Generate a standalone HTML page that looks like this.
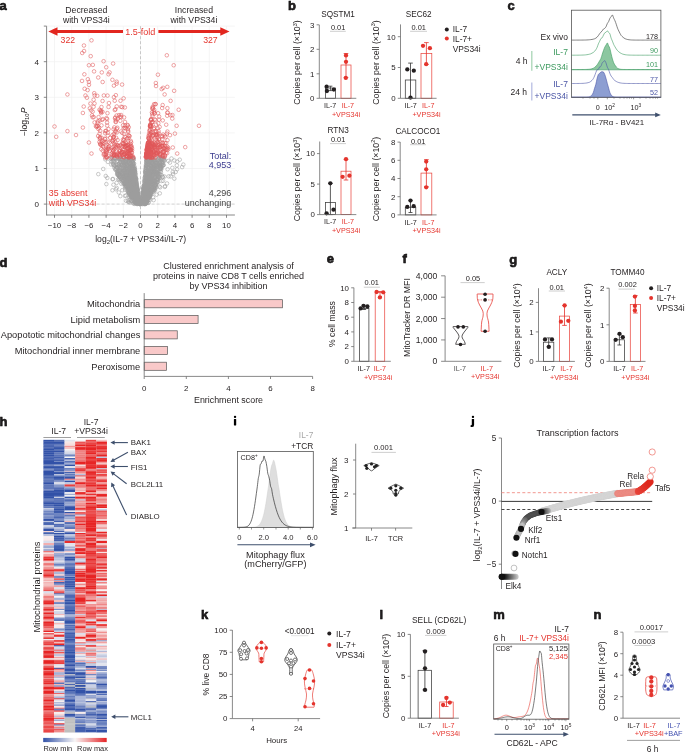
<!DOCTYPE html><html><head><meta charset="utf-8"><style>html,body{margin:0;padding:0;background:#fff;}svg{display:block;will-change:transform;font-family:"Liberation Sans", sans-serif;}</style></head><body><svg width="685" height="752" viewBox="0 0 685 752" fill="#231f20"><text x="-0.4" y="10.3" font-size="13" font-weight="bold" stroke="#000" stroke-width="0.55">a</text>
<line x1="54.5" y1="26.2" x2="54.5" y2="215" stroke="#f1f1f1" stroke-width="0.7"/>
<line x1="71.7" y1="26.2" x2="71.7" y2="215" stroke="#f1f1f1" stroke-width="0.7"/>
<line x1="88.9" y1="26.2" x2="88.9" y2="215" stroke="#f1f1f1" stroke-width="0.7"/>
<line x1="106.1" y1="26.2" x2="106.1" y2="215" stroke="#f1f1f1" stroke-width="0.7"/>
<line x1="123.3" y1="26.2" x2="123.3" y2="215" stroke="#f1f1f1" stroke-width="0.7"/>
<line x1="140.5" y1="26.2" x2="140.5" y2="215" stroke="#f1f1f1" stroke-width="0.7"/>
<line x1="157.7" y1="26.2" x2="157.7" y2="215" stroke="#f1f1f1" stroke-width="0.7"/>
<line x1="174.9" y1="26.2" x2="174.9" y2="215" stroke="#f1f1f1" stroke-width="0.7"/>
<line x1="192.1" y1="26.2" x2="192.1" y2="215" stroke="#f1f1f1" stroke-width="0.7"/>
<line x1="209.3" y1="26.2" x2="209.3" y2="215" stroke="#f1f1f1" stroke-width="0.7"/>
<line x1="226.5" y1="26.2" x2="226.5" y2="215" stroke="#f1f1f1" stroke-width="0.7"/>
<line x1="46.6" y1="204.1" x2="234.9" y2="204.1" stroke="#f1f1f1" stroke-width="0.7"/>
<line x1="46.6" y1="168.5" x2="234.9" y2="168.5" stroke="#f1f1f1" stroke-width="0.7"/>
<line x1="46.6" y1="132.9" x2="234.9" y2="132.9" stroke="#f1f1f1" stroke-width="0.7"/>
<line x1="46.6" y1="97.3" x2="234.9" y2="97.3" stroke="#f1f1f1" stroke-width="0.7"/>
<line x1="46.6" y1="61.7" x2="234.9" y2="61.7" stroke="#f1f1f1" stroke-width="0.7"/>
<line x1="46.6" y1="26.1" x2="234.9" y2="26.1" stroke="#f1f1f1" stroke-width="0.7"/>
<line x1="140.5" y1="26.2" x2="140.5" y2="215" stroke="#bdbdbd" stroke-width="0.8" stroke-dasharray="3 2"/>
<line x1="46.6" y1="204.1" x2="234.9" y2="204.1" stroke="#d0d0d0" stroke-width="0.9" stroke-dasharray="3 2"/>
<path d="M153.88 183.98a1.8 1.8 0 1 0 3.6 0a1.8 1.8 0 1 0 -3.6 0M127.87 183.36a1.8 1.8 0 1 0 3.6 0a1.8 1.8 0 1 0 -3.6 0M132.18 196.25a1.8 1.8 0 1 0 3.6 0a1.8 1.8 0 1 0 -3.6 0M128.62 167.82a1.8 1.8 0 1 0 3.6 0a1.8 1.8 0 1 0 -3.6 0M143.69 200.38a1.8 1.8 0 1 0 3.6 0a1.8 1.8 0 1 0 -3.6 0M144.86 202.45a1.8 1.8 0 1 0 3.6 0a1.8 1.8 0 1 0 -3.6 0M144.47 174.47a1.8 1.8 0 1 0 3.6 0a1.8 1.8 0 1 0 -3.6 0M138.98 203.54a1.8 1.8 0 1 0 3.6 0a1.8 1.8 0 1 0 -3.6 0M136.52 196a1.8 1.8 0 1 0 3.6 0a1.8 1.8 0 1 0 -3.6 0M123.67 183.44a1.8 1.8 0 1 0 3.6 0a1.8 1.8 0 1 0 -3.6 0M148.09 180.85a1.8 1.8 0 1 0 3.6 0a1.8 1.8 0 1 0 -3.6 0M130.31 174.07a1.8 1.8 0 1 0 3.6 0a1.8 1.8 0 1 0 -3.6 0M159.56 157.93a1.8 1.8 0 1 0 3.6 0a1.8 1.8 0 1 0 -3.6 0M130.68 171.9a1.8 1.8 0 1 0 3.6 0a1.8 1.8 0 1 0 -3.6 0M128.45 191.53a1.8 1.8 0 1 0 3.6 0a1.8 1.8 0 1 0 -3.6 0M145.26 186.4a1.8 1.8 0 1 0 3.6 0a1.8 1.8 0 1 0 -3.6 0M144.71 159.86a1.8 1.8 0 1 0 3.6 0a1.8 1.8 0 1 0 -3.6 0M143.8 195.12a1.8 1.8 0 1 0 3.6 0a1.8 1.8 0 1 0 -3.6 0M131.09 158.77a1.8 1.8 0 1 0 3.6 0a1.8 1.8 0 1 0 -3.6 0M145.72 175.64a1.8 1.8 0 1 0 3.6 0a1.8 1.8 0 1 0 -3.6 0M131.85 200.53a1.8 1.8 0 1 0 3.6 0a1.8 1.8 0 1 0 -3.6 0M129.94 169.5a1.8 1.8 0 1 0 3.6 0a1.8 1.8 0 1 0 -3.6 0M132.77 199.93a1.8 1.8 0 1 0 3.6 0a1.8 1.8 0 1 0 -3.6 0M143.16 196.56a1.8 1.8 0 1 0 3.6 0a1.8 1.8 0 1 0 -3.6 0M141.14 195.98a1.8 1.8 0 1 0 3.6 0a1.8 1.8 0 1 0 -3.6 0M128.07 174.96a1.8 1.8 0 1 0 3.6 0a1.8 1.8 0 1 0 -3.6 0M127.98 194.98a1.8 1.8 0 1 0 3.6 0a1.8 1.8 0 1 0 -3.6 0M115.24 167.32a1.8 1.8 0 1 0 3.6 0a1.8 1.8 0 1 0 -3.6 0M129.32 195.08a1.8 1.8 0 1 0 3.6 0a1.8 1.8 0 1 0 -3.6 0M116.25 175.05a1.8 1.8 0 1 0 3.6 0a1.8 1.8 0 1 0 -3.6 0M130.14 194.96a1.8 1.8 0 1 0 3.6 0a1.8 1.8 0 1 0 -3.6 0M135.37 189.7a1.8 1.8 0 1 0 3.6 0a1.8 1.8 0 1 0 -3.6 0M140.61 200.4a1.8 1.8 0 1 0 3.6 0a1.8 1.8 0 1 0 -3.6 0M128.03 176.97a1.8 1.8 0 1 0 3.6 0a1.8 1.8 0 1 0 -3.6 0M120.97 159.8a1.8 1.8 0 1 0 3.6 0a1.8 1.8 0 1 0 -3.6 0M130.66 164.28a1.8 1.8 0 1 0 3.6 0a1.8 1.8 0 1 0 -3.6 0M147.41 162.26a1.8 1.8 0 1 0 3.6 0a1.8 1.8 0 1 0 -3.6 0M147.84 196.02a1.8 1.8 0 1 0 3.6 0a1.8 1.8 0 1 0 -3.6 0M147.4 195.71a1.8 1.8 0 1 0 3.6 0a1.8 1.8 0 1 0 -3.6 0M133.23 176.86a1.8 1.8 0 1 0 3.6 0a1.8 1.8 0 1 0 -3.6 0M139.99 202.58a1.8 1.8 0 1 0 3.6 0a1.8 1.8 0 1 0 -3.6 0M118.67 172.06a1.8 1.8 0 1 0 3.6 0a1.8 1.8 0 1 0 -3.6 0M132.4 177.2a1.8 1.8 0 1 0 3.6 0a1.8 1.8 0 1 0 -3.6 0M130.58 171.3a1.8 1.8 0 1 0 3.6 0a1.8 1.8 0 1 0 -3.6 0M150.3 178.95a1.8 1.8 0 1 0 3.6 0a1.8 1.8 0 1 0 -3.6 0M142.31 191.93a1.8 1.8 0 1 0 3.6 0a1.8 1.8 0 1 0 -3.6 0M136.89 203.48a1.8 1.8 0 1 0 3.6 0a1.8 1.8 0 1 0 -3.6 0M136.53 201.67a1.8 1.8 0 1 0 3.6 0a1.8 1.8 0 1 0 -3.6 0M129.9 178.35a1.8 1.8 0 1 0 3.6 0a1.8 1.8 0 1 0 -3.6 0M154.79 163.1a1.8 1.8 0 1 0 3.6 0a1.8 1.8 0 1 0 -3.6 0M144.51 172.7a1.8 1.8 0 1 0 3.6 0a1.8 1.8 0 1 0 -3.6 0M133.84 202.73a1.8 1.8 0 1 0 3.6 0a1.8 1.8 0 1 0 -3.6 0M143.42 172.23a1.8 1.8 0 1 0 3.6 0a1.8 1.8 0 1 0 -3.6 0M122.11 175.32a1.8 1.8 0 1 0 3.6 0a1.8 1.8 0 1 0 -3.6 0M141.65 190.16a1.8 1.8 0 1 0 3.6 0a1.8 1.8 0 1 0 -3.6 0M155.1 179.58a1.8 1.8 0 1 0 3.6 0a1.8 1.8 0 1 0 -3.6 0M155.87 170.5a1.8 1.8 0 1 0 3.6 0a1.8 1.8 0 1 0 -3.6 0M118.74 161.94a1.8 1.8 0 1 0 3.6 0a1.8 1.8 0 1 0 -3.6 0M150.19 162.63a1.8 1.8 0 1 0 3.6 0a1.8 1.8 0 1 0 -3.6 0M152.24 167.94a1.8 1.8 0 1 0 3.6 0a1.8 1.8 0 1 0 -3.6 0M125.3 175.85a1.8 1.8 0 1 0 3.6 0a1.8 1.8 0 1 0 -3.6 0M124.45 176.61a1.8 1.8 0 1 0 3.6 0a1.8 1.8 0 1 0 -3.6 0M157.04 158.14a1.8 1.8 0 1 0 3.6 0a1.8 1.8 0 1 0 -3.6 0M147.57 186.95a1.8 1.8 0 1 0 3.6 0a1.8 1.8 0 1 0 -3.6 0M142.44 184.53a1.8 1.8 0 1 0 3.6 0a1.8 1.8 0 1 0 -3.6 0M122.93 169.88a1.8 1.8 0 1 0 3.6 0a1.8 1.8 0 1 0 -3.6 0M125.77 182.64a1.8 1.8 0 1 0 3.6 0a1.8 1.8 0 1 0 -3.6 0M154.74 181.88a1.8 1.8 0 1 0 3.6 0a1.8 1.8 0 1 0 -3.6 0M134.11 193.04a1.8 1.8 0 1 0 3.6 0a1.8 1.8 0 1 0 -3.6 0M131.83 173.32a1.8 1.8 0 1 0 3.6 0a1.8 1.8 0 1 0 -3.6 0M150.68 162.39a1.8 1.8 0 1 0 3.6 0a1.8 1.8 0 1 0 -3.6 0M119.54 163.07a1.8 1.8 0 1 0 3.6 0a1.8 1.8 0 1 0 -3.6 0M130.14 195.63a1.8 1.8 0 1 0 3.6 0a1.8 1.8 0 1 0 -3.6 0M149.69 161.98a1.8 1.8 0 1 0 3.6 0a1.8 1.8 0 1 0 -3.6 0M133 177.83a1.8 1.8 0 1 0 3.6 0a1.8 1.8 0 1 0 -3.6 0M153.47 181.91a1.8 1.8 0 1 0 3.6 0a1.8 1.8 0 1 0 -3.6 0M146.45 171.74a1.8 1.8 0 1 0 3.6 0a1.8 1.8 0 1 0 -3.6 0M135.37 196.94a1.8 1.8 0 1 0 3.6 0a1.8 1.8 0 1 0 -3.6 0M131.63 194.93a1.8 1.8 0 1 0 3.6 0a1.8 1.8 0 1 0 -3.6 0M123.01 182.04a1.8 1.8 0 1 0 3.6 0a1.8 1.8 0 1 0 -3.6 0M131.06 158.69a1.8 1.8 0 1 0 3.6 0a1.8 1.8 0 1 0 -3.6 0M139.08 202.87a1.8 1.8 0 1 0 3.6 0a1.8 1.8 0 1 0 -3.6 0M146.9 171.86a1.8 1.8 0 1 0 3.6 0a1.8 1.8 0 1 0 -3.6 0M131.46 167.89a1.8 1.8 0 1 0 3.6 0a1.8 1.8 0 1 0 -3.6 0M124.1 183.86a1.8 1.8 0 1 0 3.6 0a1.8 1.8 0 1 0 -3.6 0M136.11 193.87a1.8 1.8 0 1 0 3.6 0a1.8 1.8 0 1 0 -3.6 0M124.3 175.65a1.8 1.8 0 1 0 3.6 0a1.8 1.8 0 1 0 -3.6 0M157.87 174.42a1.8 1.8 0 1 0 3.6 0a1.8 1.8 0 1 0 -3.6 0M126.53 173.02a1.8 1.8 0 1 0 3.6 0a1.8 1.8 0 1 0 -3.6 0M133.7 196.51a1.8 1.8 0 1 0 3.6 0a1.8 1.8 0 1 0 -3.6 0M129.91 171.6a1.8 1.8 0 1 0 3.6 0a1.8 1.8 0 1 0 -3.6 0M146.19 188.93a1.8 1.8 0 1 0 3.6 0a1.8 1.8 0 1 0 -3.6 0M147.37 176.35a1.8 1.8 0 1 0 3.6 0a1.8 1.8 0 1 0 -3.6 0M144.53 167.87a1.8 1.8 0 1 0 3.6 0a1.8 1.8 0 1 0 -3.6 0M145.85 161.09a1.8 1.8 0 1 0 3.6 0a1.8 1.8 0 1 0 -3.6 0M153.67 183.92a1.8 1.8 0 1 0 3.6 0a1.8 1.8 0 1 0 -3.6 0M151.55 187.49a1.8 1.8 0 1 0 3.6 0a1.8 1.8 0 1 0 -3.6 0M150.27 167.64a1.8 1.8 0 1 0 3.6 0a1.8 1.8 0 1 0 -3.6 0M122.01 174.6a1.8 1.8 0 1 0 3.6 0a1.8 1.8 0 1 0 -3.6 0M155.51 166.6a1.8 1.8 0 1 0 3.6 0a1.8 1.8 0 1 0 -3.6 0M148.81 194.96a1.8 1.8 0 1 0 3.6 0a1.8 1.8 0 1 0 -3.6 0M158.3 158.92a1.8 1.8 0 1 0 3.6 0a1.8 1.8 0 1 0 -3.6 0M149.94 190.09a1.8 1.8 0 1 0 3.6 0a1.8 1.8 0 1 0 -3.6 0M131.55 188.8a1.8 1.8 0 1 0 3.6 0a1.8 1.8 0 1 0 -3.6 0M148.2 179.38a1.8 1.8 0 1 0 3.6 0a1.8 1.8 0 1 0 -3.6 0M139.12 203a1.8 1.8 0 1 0 3.6 0a1.8 1.8 0 1 0 -3.6 0M127.96 167.49a1.8 1.8 0 1 0 3.6 0a1.8 1.8 0 1 0 -3.6 0M131.3 168.07a1.8 1.8 0 1 0 3.6 0a1.8 1.8 0 1 0 -3.6 0M153.6 180.97a1.8 1.8 0 1 0 3.6 0a1.8 1.8 0 1 0 -3.6 0M149.65 172.78a1.8 1.8 0 1 0 3.6 0a1.8 1.8 0 1 0 -3.6 0M128.87 160.29a1.8 1.8 0 1 0 3.6 0a1.8 1.8 0 1 0 -3.6 0M124.3 180.5a1.8 1.8 0 1 0 3.6 0a1.8 1.8 0 1 0 -3.6 0M155.38 175.19a1.8 1.8 0 1 0 3.6 0a1.8 1.8 0 1 0 -3.6 0M129.75 178.93a1.8 1.8 0 1 0 3.6 0a1.8 1.8 0 1 0 -3.6 0M146.42 165.31a1.8 1.8 0 1 0 3.6 0a1.8 1.8 0 1 0 -3.6 0M151.87 165.04a1.8 1.8 0 1 0 3.6 0a1.8 1.8 0 1 0 -3.6 0M126.95 178.31a1.8 1.8 0 1 0 3.6 0a1.8 1.8 0 1 0 -3.6 0M142.38 181.6a1.8 1.8 0 1 0 3.6 0a1.8 1.8 0 1 0 -3.6 0M124.99 159.31a1.8 1.8 0 1 0 3.6 0a1.8 1.8 0 1 0 -3.6 0M150.82 167.44a1.8 1.8 0 1 0 3.6 0a1.8 1.8 0 1 0 -3.6 0M125.17 172.71a1.8 1.8 0 1 0 3.6 0a1.8 1.8 0 1 0 -3.6 0M153.02 185.78a1.8 1.8 0 1 0 3.6 0a1.8 1.8 0 1 0 -3.6 0M135.41 192.43a1.8 1.8 0 1 0 3.6 0a1.8 1.8 0 1 0 -3.6 0M153.09 184.85a1.8 1.8 0 1 0 3.6 0a1.8 1.8 0 1 0 -3.6 0M133.21 182.85a1.8 1.8 0 1 0 3.6 0a1.8 1.8 0 1 0 -3.6 0M143.93 176.18a1.8 1.8 0 1 0 3.6 0a1.8 1.8 0 1 0 -3.6 0M130.65 168.48a1.8 1.8 0 1 0 3.6 0a1.8 1.8 0 1 0 -3.6 0M142.78 194.33a1.8 1.8 0 1 0 3.6 0a1.8 1.8 0 1 0 -3.6 0M142.08 188.48a1.8 1.8 0 1 0 3.6 0a1.8 1.8 0 1 0 -3.6 0M125.18 170.8a1.8 1.8 0 1 0 3.6 0a1.8 1.8 0 1 0 -3.6 0M131.95 193.28a1.8 1.8 0 1 0 3.6 0a1.8 1.8 0 1 0 -3.6 0M130.82 184.71a1.8 1.8 0 1 0 3.6 0a1.8 1.8 0 1 0 -3.6 0M132.6 180.37a1.8 1.8 0 1 0 3.6 0a1.8 1.8 0 1 0 -3.6 0M149.67 175.55a1.8 1.8 0 1 0 3.6 0a1.8 1.8 0 1 0 -3.6 0M158.8 165.02a1.8 1.8 0 1 0 3.6 0a1.8 1.8 0 1 0 -3.6 0M147.46 194.09a1.8 1.8 0 1 0 3.6 0a1.8 1.8 0 1 0 -3.6 0M127.44 162.54a1.8 1.8 0 1 0 3.6 0a1.8 1.8 0 1 0 -3.6 0M110.06 161.57a1.8 1.8 0 1 0 3.6 0a1.8 1.8 0 1 0 -3.6 0M129.03 163.27a1.8 1.8 0 1 0 3.6 0a1.8 1.8 0 1 0 -3.6 0M132.45 171.01a1.8 1.8 0 1 0 3.6 0a1.8 1.8 0 1 0 -3.6 0M117.23 165.94a1.8 1.8 0 1 0 3.6 0a1.8 1.8 0 1 0 -3.6 0M133.01 198.84a1.8 1.8 0 1 0 3.6 0a1.8 1.8 0 1 0 -3.6 0M135.65 203.43a1.8 1.8 0 1 0 3.6 0a1.8 1.8 0 1 0 -3.6 0M145.54 162.12a1.8 1.8 0 1 0 3.6 0a1.8 1.8 0 1 0 -3.6 0M148 181.48a1.8 1.8 0 1 0 3.6 0a1.8 1.8 0 1 0 -3.6 0M133.04 172.96a1.8 1.8 0 1 0 3.6 0a1.8 1.8 0 1 0 -3.6 0M134.5 199.71a1.8 1.8 0 1 0 3.6 0a1.8 1.8 0 1 0 -3.6 0M143.48 181.05a1.8 1.8 0 1 0 3.6 0a1.8 1.8 0 1 0 -3.6 0M130.15 196.25a1.8 1.8 0 1 0 3.6 0a1.8 1.8 0 1 0 -3.6 0M145.74 158.29a1.8 1.8 0 1 0 3.6 0a1.8 1.8 0 1 0 -3.6 0M141.58 201.61a1.8 1.8 0 1 0 3.6 0a1.8 1.8 0 1 0 -3.6 0M125.63 169.18a1.8 1.8 0 1 0 3.6 0a1.8 1.8 0 1 0 -3.6 0M126.79 181.03a1.8 1.8 0 1 0 3.6 0a1.8 1.8 0 1 0 -3.6 0M143.41 203.61a1.8 1.8 0 1 0 3.6 0a1.8 1.8 0 1 0 -3.6 0M131.23 196.4a1.8 1.8 0 1 0 3.6 0a1.8 1.8 0 1 0 -3.6 0M134.06 186.17a1.8 1.8 0 1 0 3.6 0a1.8 1.8 0 1 0 -3.6 0M121.55 181.16a1.8 1.8 0 1 0 3.6 0a1.8 1.8 0 1 0 -3.6 0M158.31 167.4a1.8 1.8 0 1 0 3.6 0a1.8 1.8 0 1 0 -3.6 0M124.9 175.64a1.8 1.8 0 1 0 3.6 0a1.8 1.8 0 1 0 -3.6 0M152.83 181.55a1.8 1.8 0 1 0 3.6 0a1.8 1.8 0 1 0 -3.6 0M147.27 192.93a1.8 1.8 0 1 0 3.6 0a1.8 1.8 0 1 0 -3.6 0M149.06 168.54a1.8 1.8 0 1 0 3.6 0a1.8 1.8 0 1 0 -3.6 0M155.62 162.83a1.8 1.8 0 1 0 3.6 0a1.8 1.8 0 1 0 -3.6 0M148.96 169.06a1.8 1.8 0 1 0 3.6 0a1.8 1.8 0 1 0 -3.6 0M128.6 171.2a1.8 1.8 0 1 0 3.6 0a1.8 1.8 0 1 0 -3.6 0M131.22 183.21a1.8 1.8 0 1 0 3.6 0a1.8 1.8 0 1 0 -3.6 0M145.29 175.2a1.8 1.8 0 1 0 3.6 0a1.8 1.8 0 1 0 -3.6 0M149.07 160.5a1.8 1.8 0 1 0 3.6 0a1.8 1.8 0 1 0 -3.6 0M150.02 174.19a1.8 1.8 0 1 0 3.6 0a1.8 1.8 0 1 0 -3.6 0M148.41 186.9a1.8 1.8 0 1 0 3.6 0a1.8 1.8 0 1 0 -3.6 0M159.13 172.22a1.8 1.8 0 1 0 3.6 0a1.8 1.8 0 1 0 -3.6 0M142.84 203.23a1.8 1.8 0 1 0 3.6 0a1.8 1.8 0 1 0 -3.6 0M135.97 193a1.8 1.8 0 1 0 3.6 0a1.8 1.8 0 1 0 -3.6 0M136.14 195.76a1.8 1.8 0 1 0 3.6 0a1.8 1.8 0 1 0 -3.6 0M145.11 193.26a1.8 1.8 0 1 0 3.6 0a1.8 1.8 0 1 0 -3.6 0M149.01 181.38a1.8 1.8 0 1 0 3.6 0a1.8 1.8 0 1 0 -3.6 0M158.85 158.06a1.8 1.8 0 1 0 3.6 0a1.8 1.8 0 1 0 -3.6 0M143.94 201a1.8 1.8 0 1 0 3.6 0a1.8 1.8 0 1 0 -3.6 0M139.68 202.31a1.8 1.8 0 1 0 3.6 0a1.8 1.8 0 1 0 -3.6 0M129.18 183.07a1.8 1.8 0 1 0 3.6 0a1.8 1.8 0 1 0 -3.6 0M118 176.5a1.8 1.8 0 1 0 3.6 0a1.8 1.8 0 1 0 -3.6 0M148.27 185.45a1.8 1.8 0 1 0 3.6 0a1.8 1.8 0 1 0 -3.6 0M128.51 188.01a1.8 1.8 0 1 0 3.6 0a1.8 1.8 0 1 0 -3.6 0M123.83 178.89a1.8 1.8 0 1 0 3.6 0a1.8 1.8 0 1 0 -3.6 0M134.21 191.21a1.8 1.8 0 1 0 3.6 0a1.8 1.8 0 1 0 -3.6 0M134.62 202.41a1.8 1.8 0 1 0 3.6 0a1.8 1.8 0 1 0 -3.6 0M149.9 186.88a1.8 1.8 0 1 0 3.6 0a1.8 1.8 0 1 0 -3.6 0M144.88 202.1a1.8 1.8 0 1 0 3.6 0a1.8 1.8 0 1 0 -3.6 0M141.53 201.11a1.8 1.8 0 1 0 3.6 0a1.8 1.8 0 1 0 -3.6 0M144.29 182.8a1.8 1.8 0 1 0 3.6 0a1.8 1.8 0 1 0 -3.6 0M151.68 180.65a1.8 1.8 0 1 0 3.6 0a1.8 1.8 0 1 0 -3.6 0M152.43 183.23a1.8 1.8 0 1 0 3.6 0a1.8 1.8 0 1 0 -3.6 0M124.83 176.86a1.8 1.8 0 1 0 3.6 0a1.8 1.8 0 1 0 -3.6 0M134.71 183.82a1.8 1.8 0 1 0 3.6 0a1.8 1.8 0 1 0 -3.6 0M129.19 180.43a1.8 1.8 0 1 0 3.6 0a1.8 1.8 0 1 0 -3.6 0M130.52 173.81a1.8 1.8 0 1 0 3.6 0a1.8 1.8 0 1 0 -3.6 0M122.17 177.87a1.8 1.8 0 1 0 3.6 0a1.8 1.8 0 1 0 -3.6 0M155.82 180.3a1.8 1.8 0 1 0 3.6 0a1.8 1.8 0 1 0 -3.6 0M132.18 170.64a1.8 1.8 0 1 0 3.6 0a1.8 1.8 0 1 0 -3.6 0M154.15 163.02a1.8 1.8 0 1 0 3.6 0a1.8 1.8 0 1 0 -3.6 0M128.2 188.31a1.8 1.8 0 1 0 3.6 0a1.8 1.8 0 1 0 -3.6 0M150.68 178.69a1.8 1.8 0 1 0 3.6 0a1.8 1.8 0 1 0 -3.6 0M129.94 169.73a1.8 1.8 0 1 0 3.6 0a1.8 1.8 0 1 0 -3.6 0M160.3 158.8a1.8 1.8 0 1 0 3.6 0a1.8 1.8 0 1 0 -3.6 0M137.35 202.54a1.8 1.8 0 1 0 3.6 0a1.8 1.8 0 1 0 -3.6 0M142.49 185.25a1.8 1.8 0 1 0 3.6 0a1.8 1.8 0 1 0 -3.6 0M133.85 179.79a1.8 1.8 0 1 0 3.6 0a1.8 1.8 0 1 0 -3.6 0M151.92 173.41a1.8 1.8 0 1 0 3.6 0a1.8 1.8 0 1 0 -3.6 0M133.87 187.66a1.8 1.8 0 1 0 3.6 0a1.8 1.8 0 1 0 -3.6 0M150.24 189.02a1.8 1.8 0 1 0 3.6 0a1.8 1.8 0 1 0 -3.6 0M133.41 201.08a1.8 1.8 0 1 0 3.6 0a1.8 1.8 0 1 0 -3.6 0M144.95 175.91a1.8 1.8 0 1 0 3.6 0a1.8 1.8 0 1 0 -3.6 0M125.07 185.28a1.8 1.8 0 1 0 3.6 0a1.8 1.8 0 1 0 -3.6 0M153.01 187.86a1.8 1.8 0 1 0 3.6 0a1.8 1.8 0 1 0 -3.6 0M148.63 189.86a1.8 1.8 0 1 0 3.6 0a1.8 1.8 0 1 0 -3.6 0M126.15 161.66a1.8 1.8 0 1 0 3.6 0a1.8 1.8 0 1 0 -3.6 0M139.87 200.1a1.8 1.8 0 1 0 3.6 0a1.8 1.8 0 1 0 -3.6 0M142.04 200.71a1.8 1.8 0 1 0 3.6 0a1.8 1.8 0 1 0 -3.6 0M120.18 172.98a1.8 1.8 0 1 0 3.6 0a1.8 1.8 0 1 0 -3.6 0M134.41 201a1.8 1.8 0 1 0 3.6 0a1.8 1.8 0 1 0 -3.6 0M133.83 200.76a1.8 1.8 0 1 0 3.6 0a1.8 1.8 0 1 0 -3.6 0M132.08 172.56a1.8 1.8 0 1 0 3.6 0a1.8 1.8 0 1 0 -3.6 0M144.58 188.37a1.8 1.8 0 1 0 3.6 0a1.8 1.8 0 1 0 -3.6 0M143.18 199.22a1.8 1.8 0 1 0 3.6 0a1.8 1.8 0 1 0 -3.6 0M160.61 161.77a1.8 1.8 0 1 0 3.6 0a1.8 1.8 0 1 0 -3.6 0M144.66 184.65a1.8 1.8 0 1 0 3.6 0a1.8 1.8 0 1 0 -3.6 0M125.5 190.22a1.8 1.8 0 1 0 3.6 0a1.8 1.8 0 1 0 -3.6 0M126.55 162.92a1.8 1.8 0 1 0 3.6 0a1.8 1.8 0 1 0 -3.6 0M131.89 188.01a1.8 1.8 0 1 0 3.6 0a1.8 1.8 0 1 0 -3.6 0M129.43 186.99a1.8 1.8 0 1 0 3.6 0a1.8 1.8 0 1 0 -3.6 0M157.71 167.63a1.8 1.8 0 1 0 3.6 0a1.8 1.8 0 1 0 -3.6 0M122.96 178.79a1.8 1.8 0 1 0 3.6 0a1.8 1.8 0 1 0 -3.6 0M132.31 163.59a1.8 1.8 0 1 0 3.6 0a1.8 1.8 0 1 0 -3.6 0M149.09 181.01a1.8 1.8 0 1 0 3.6 0a1.8 1.8 0 1 0 -3.6 0M158.51 159.45a1.8 1.8 0 1 0 3.6 0a1.8 1.8 0 1 0 -3.6 0M143.93 201.52a1.8 1.8 0 1 0 3.6 0a1.8 1.8 0 1 0 -3.6 0M133.68 200.66a1.8 1.8 0 1 0 3.6 0a1.8 1.8 0 1 0 -3.6 0M120.23 162.71a1.8 1.8 0 1 0 3.6 0a1.8 1.8 0 1 0 -3.6 0M144.26 198.06a1.8 1.8 0 1 0 3.6 0a1.8 1.8 0 1 0 -3.6 0M129.47 193.51a1.8 1.8 0 1 0 3.6 0a1.8 1.8 0 1 0 -3.6 0M146.58 180.74a1.8 1.8 0 1 0 3.6 0a1.8 1.8 0 1 0 -3.6 0M147.93 189.29a1.8 1.8 0 1 0 3.6 0a1.8 1.8 0 1 0 -3.6 0M151.29 182.05a1.8 1.8 0 1 0 3.6 0a1.8 1.8 0 1 0 -3.6 0M148.48 171.89a1.8 1.8 0 1 0 3.6 0a1.8 1.8 0 1 0 -3.6 0M158.53 166.23a1.8 1.8 0 1 0 3.6 0a1.8 1.8 0 1 0 -3.6 0M159 167.2a1.8 1.8 0 1 0 3.6 0a1.8 1.8 0 1 0 -3.6 0M152.58 159.87a1.8 1.8 0 1 0 3.6 0a1.8 1.8 0 1 0 -3.6 0M148.68 171.79a1.8 1.8 0 1 0 3.6 0a1.8 1.8 0 1 0 -3.6 0M126.24 185.47a1.8 1.8 0 1 0 3.6 0a1.8 1.8 0 1 0 -3.6 0M129.53 158.26a1.8 1.8 0 1 0 3.6 0a1.8 1.8 0 1 0 -3.6 0M134.74 195.36a1.8 1.8 0 1 0 3.6 0a1.8 1.8 0 1 0 -3.6 0M126.98 159.29a1.8 1.8 0 1 0 3.6 0a1.8 1.8 0 1 0 -3.6 0M144.79 199.33a1.8 1.8 0 1 0 3.6 0a1.8 1.8 0 1 0 -3.6 0M133.8 196.48a1.8 1.8 0 1 0 3.6 0a1.8 1.8 0 1 0 -3.6 0M142.88 177.79a1.8 1.8 0 1 0 3.6 0a1.8 1.8 0 1 0 -3.6 0M136.62 199.6a1.8 1.8 0 1 0 3.6 0a1.8 1.8 0 1 0 -3.6 0M145.31 193.97a1.8 1.8 0 1 0 3.6 0a1.8 1.8 0 1 0 -3.6 0M134.62 194.48a1.8 1.8 0 1 0 3.6 0a1.8 1.8 0 1 0 -3.6 0M142.07 196.79a1.8 1.8 0 1 0 3.6 0a1.8 1.8 0 1 0 -3.6 0M148.06 179.48a1.8 1.8 0 1 0 3.6 0a1.8 1.8 0 1 0 -3.6 0M149.25 192.83a1.8 1.8 0 1 0 3.6 0a1.8 1.8 0 1 0 -3.6 0M151.85 189.1a1.8 1.8 0 1 0 3.6 0a1.8 1.8 0 1 0 -3.6 0M134.56 182.56a1.8 1.8 0 1 0 3.6 0a1.8 1.8 0 1 0 -3.6 0M149.91 160.37a1.8 1.8 0 1 0 3.6 0a1.8 1.8 0 1 0 -3.6 0M131.69 180.45a1.8 1.8 0 1 0 3.6 0a1.8 1.8 0 1 0 -3.6 0M147.71 158.29a1.8 1.8 0 1 0 3.6 0a1.8 1.8 0 1 0 -3.6 0M137.33 203.7a1.8 1.8 0 1 0 3.6 0a1.8 1.8 0 1 0 -3.6 0M152.96 167.64a1.8 1.8 0 1 0 3.6 0a1.8 1.8 0 1 0 -3.6 0M135.23 197.46a1.8 1.8 0 1 0 3.6 0a1.8 1.8 0 1 0 -3.6 0M144.9 192.88a1.8 1.8 0 1 0 3.6 0a1.8 1.8 0 1 0 -3.6 0M145.73 175.28a1.8 1.8 0 1 0 3.6 0a1.8 1.8 0 1 0 -3.6 0M123.36 180.12a1.8 1.8 0 1 0 3.6 0a1.8 1.8 0 1 0 -3.6 0M143.22 204.05a1.8 1.8 0 1 0 3.6 0a1.8 1.8 0 1 0 -3.6 0M129 166.42a1.8 1.8 0 1 0 3.6 0a1.8 1.8 0 1 0 -3.6 0M126 171.49a1.8 1.8 0 1 0 3.6 0a1.8 1.8 0 1 0 -3.6 0M148.81 183.22a1.8 1.8 0 1 0 3.6 0a1.8 1.8 0 1 0 -3.6 0M116.87 164.73a1.8 1.8 0 1 0 3.6 0a1.8 1.8 0 1 0 -3.6 0M142.35 185.63a1.8 1.8 0 1 0 3.6 0a1.8 1.8 0 1 0 -3.6 0M123.28 166.22a1.8 1.8 0 1 0 3.6 0a1.8 1.8 0 1 0 -3.6 0M122.39 180.54a1.8 1.8 0 1 0 3.6 0a1.8 1.8 0 1 0 -3.6 0M135.47 190.5a1.8 1.8 0 1 0 3.6 0a1.8 1.8 0 1 0 -3.6 0M128.75 190.77a1.8 1.8 0 1 0 3.6 0a1.8 1.8 0 1 0 -3.6 0M142.11 188.28a1.8 1.8 0 1 0 3.6 0a1.8 1.8 0 1 0 -3.6 0M123.18 186.68a1.8 1.8 0 1 0 3.6 0a1.8 1.8 0 1 0 -3.6 0M144.06 166.06a1.8 1.8 0 1 0 3.6 0a1.8 1.8 0 1 0 -3.6 0M143.4 187.48a1.8 1.8 0 1 0 3.6 0a1.8 1.8 0 1 0 -3.6 0M134.33 178.73a1.8 1.8 0 1 0 3.6 0a1.8 1.8 0 1 0 -3.6 0M147.25 158.23a1.8 1.8 0 1 0 3.6 0a1.8 1.8 0 1 0 -3.6 0M129.18 176.27a1.8 1.8 0 1 0 3.6 0a1.8 1.8 0 1 0 -3.6 0M130.66 179.88a1.8 1.8 0 1 0 3.6 0a1.8 1.8 0 1 0 -3.6 0M143.72 186.78a1.8 1.8 0 1 0 3.6 0a1.8 1.8 0 1 0 -3.6 0M142.56 195.56a1.8 1.8 0 1 0 3.6 0a1.8 1.8 0 1 0 -3.6 0M156.59 160.49a1.8 1.8 0 1 0 3.6 0a1.8 1.8 0 1 0 -3.6 0M141.84 189.57a1.8 1.8 0 1 0 3.6 0a1.8 1.8 0 1 0 -3.6 0M132.72 198.19a1.8 1.8 0 1 0 3.6 0a1.8 1.8 0 1 0 -3.6 0M127.63 171.88a1.8 1.8 0 1 0 3.6 0a1.8 1.8 0 1 0 -3.6 0M144.83 165.71a1.8 1.8 0 1 0 3.6 0a1.8 1.8 0 1 0 -3.6 0M135.74 194.36a1.8 1.8 0 1 0 3.6 0a1.8 1.8 0 1 0 -3.6 0M123.64 186.1a1.8 1.8 0 1 0 3.6 0a1.8 1.8 0 1 0 -3.6 0M127.58 185.16a1.8 1.8 0 1 0 3.6 0a1.8 1.8 0 1 0 -3.6 0M148.63 169.08a1.8 1.8 0 1 0 3.6 0a1.8 1.8 0 1 0 -3.6 0M135.69 189.59a1.8 1.8 0 1 0 3.6 0a1.8 1.8 0 1 0 -3.6 0M153.65 186.38a1.8 1.8 0 1 0 3.6 0a1.8 1.8 0 1 0 -3.6 0M152.92 167.98a1.8 1.8 0 1 0 3.6 0a1.8 1.8 0 1 0 -3.6 0M137.34 203.4a1.8 1.8 0 1 0 3.6 0a1.8 1.8 0 1 0 -3.6 0M128.76 174.62a1.8 1.8 0 1 0 3.6 0a1.8 1.8 0 1 0 -3.6 0M153.24 181.31a1.8 1.8 0 1 0 3.6 0a1.8 1.8 0 1 0 -3.6 0M121.83 176.49a1.8 1.8 0 1 0 3.6 0a1.8 1.8 0 1 0 -3.6 0M149.07 162.52a1.8 1.8 0 1 0 3.6 0a1.8 1.8 0 1 0 -3.6 0M125.12 181.73a1.8 1.8 0 1 0 3.6 0a1.8 1.8 0 1 0 -3.6 0M116.95 158.46a1.8 1.8 0 1 0 3.6 0a1.8 1.8 0 1 0 -3.6 0M113.11 165.78a1.8 1.8 0 1 0 3.6 0a1.8 1.8 0 1 0 -3.6 0M133.3 175.75a1.8 1.8 0 1 0 3.6 0a1.8 1.8 0 1 0 -3.6 0M146.5 193.55a1.8 1.8 0 1 0 3.6 0a1.8 1.8 0 1 0 -3.6 0M144.21 189.69a1.8 1.8 0 1 0 3.6 0a1.8 1.8 0 1 0 -3.6 0M121.35 183.48a1.8 1.8 0 1 0 3.6 0a1.8 1.8 0 1 0 -3.6 0M143.27 198.42a1.8 1.8 0 1 0 3.6 0a1.8 1.8 0 1 0 -3.6 0M145.15 178.89a1.8 1.8 0 1 0 3.6 0a1.8 1.8 0 1 0 -3.6 0M158.37 162.22a1.8 1.8 0 1 0 3.6 0a1.8 1.8 0 1 0 -3.6 0M120.82 176.96a1.8 1.8 0 1 0 3.6 0a1.8 1.8 0 1 0 -3.6 0M142.68 191.55a1.8 1.8 0 1 0 3.6 0a1.8 1.8 0 1 0 -3.6 0M144.28 178.28a1.8 1.8 0 1 0 3.6 0a1.8 1.8 0 1 0 -3.6 0M134.28 179.5a1.8 1.8 0 1 0 3.6 0a1.8 1.8 0 1 0 -3.6 0M147.61 196.45a1.8 1.8 0 1 0 3.6 0a1.8 1.8 0 1 0 -3.6 0M122.95 174.26a1.8 1.8 0 1 0 3.6 0a1.8 1.8 0 1 0 -3.6 0M123.34 170.48a1.8 1.8 0 1 0 3.6 0a1.8 1.8 0 1 0 -3.6 0M130.38 167.3a1.8 1.8 0 1 0 3.6 0a1.8 1.8 0 1 0 -3.6 0M130.81 183.25a1.8 1.8 0 1 0 3.6 0a1.8 1.8 0 1 0 -3.6 0M127.3 178.47a1.8 1.8 0 1 0 3.6 0a1.8 1.8 0 1 0 -3.6 0M143.23 192.68a1.8 1.8 0 1 0 3.6 0a1.8 1.8 0 1 0 -3.6 0M123.25 175.05a1.8 1.8 0 1 0 3.6 0a1.8 1.8 0 1 0 -3.6 0M143.87 198.02a1.8 1.8 0 1 0 3.6 0a1.8 1.8 0 1 0 -3.6 0M127.21 183.16a1.8 1.8 0 1 0 3.6 0a1.8 1.8 0 1 0 -3.6 0M154.34 172.79a1.8 1.8 0 1 0 3.6 0a1.8 1.8 0 1 0 -3.6 0M153.14 182.41a1.8 1.8 0 1 0 3.6 0a1.8 1.8 0 1 0 -3.6 0M125.4 164.84a1.8 1.8 0 1 0 3.6 0a1.8 1.8 0 1 0 -3.6 0M148.95 178.64a1.8 1.8 0 1 0 3.6 0a1.8 1.8 0 1 0 -3.6 0M121.02 180.57a1.8 1.8 0 1 0 3.6 0a1.8 1.8 0 1 0 -3.6 0M128.34 190.08a1.8 1.8 0 1 0 3.6 0a1.8 1.8 0 1 0 -3.6 0M153.65 162.66a1.8 1.8 0 1 0 3.6 0a1.8 1.8 0 1 0 -3.6 0M123.08 169.8a1.8 1.8 0 1 0 3.6 0a1.8 1.8 0 1 0 -3.6 0M135.92 201.27a1.8 1.8 0 1 0 3.6 0a1.8 1.8 0 1 0 -3.6 0M134.41 181.62a1.8 1.8 0 1 0 3.6 0a1.8 1.8 0 1 0 -3.6 0M145.79 172.52a1.8 1.8 0 1 0 3.6 0a1.8 1.8 0 1 0 -3.6 0M134.2 190.74a1.8 1.8 0 1 0 3.6 0a1.8 1.8 0 1 0 -3.6 0M145.44 201.33a1.8 1.8 0 1 0 3.6 0a1.8 1.8 0 1 0 -3.6 0M148.25 173.91a1.8 1.8 0 1 0 3.6 0a1.8 1.8 0 1 0 -3.6 0M118.72 167.23a1.8 1.8 0 1 0 3.6 0a1.8 1.8 0 1 0 -3.6 0M143.31 178.6a1.8 1.8 0 1 0 3.6 0a1.8 1.8 0 1 0 -3.6 0M123.8 167.85a1.8 1.8 0 1 0 3.6 0a1.8 1.8 0 1 0 -3.6 0M128.43 160.2a1.8 1.8 0 1 0 3.6 0a1.8 1.8 0 1 0 -3.6 0M135.63 191.06a1.8 1.8 0 1 0 3.6 0a1.8 1.8 0 1 0 -3.6 0M149.8 162.9a1.8 1.8 0 1 0 3.6 0a1.8 1.8 0 1 0 -3.6 0M141.69 188.43a1.8 1.8 0 1 0 3.6 0a1.8 1.8 0 1 0 -3.6 0M140.26 202.89a1.8 1.8 0 1 0 3.6 0a1.8 1.8 0 1 0 -3.6 0M155.77 181.82a1.8 1.8 0 1 0 3.6 0a1.8 1.8 0 1 0 -3.6 0M131.98 183.03a1.8 1.8 0 1 0 3.6 0a1.8 1.8 0 1 0 -3.6 0M146.69 161.57a1.8 1.8 0 1 0 3.6 0a1.8 1.8 0 1 0 -3.6 0M124.74 165.66a1.8 1.8 0 1 0 3.6 0a1.8 1.8 0 1 0 -3.6 0M147.98 196.82a1.8 1.8 0 1 0 3.6 0a1.8 1.8 0 1 0 -3.6 0M141.62 195.47a1.8 1.8 0 1 0 3.6 0a1.8 1.8 0 1 0 -3.6 0M131.29 163.62a1.8 1.8 0 1 0 3.6 0a1.8 1.8 0 1 0 -3.6 0M116.37 171.04a1.8 1.8 0 1 0 3.6 0a1.8 1.8 0 1 0 -3.6 0M145.55 164.14a1.8 1.8 0 1 0 3.6 0a1.8 1.8 0 1 0 -3.6 0M148.93 172.47a1.8 1.8 0 1 0 3.6 0a1.8 1.8 0 1 0 -3.6 0M136.57 200.88a1.8 1.8 0 1 0 3.6 0a1.8 1.8 0 1 0 -3.6 0M131.41 171.77a1.8 1.8 0 1 0 3.6 0a1.8 1.8 0 1 0 -3.6 0M147.3 193.96a1.8 1.8 0 1 0 3.6 0a1.8 1.8 0 1 0 -3.6 0M151.54 187.69a1.8 1.8 0 1 0 3.6 0a1.8 1.8 0 1 0 -3.6 0M130.67 177.51a1.8 1.8 0 1 0 3.6 0a1.8 1.8 0 1 0 -3.6 0M147.95 161.37a1.8 1.8 0 1 0 3.6 0a1.8 1.8 0 1 0 -3.6 0M116.44 175.14a1.8 1.8 0 1 0 3.6 0a1.8 1.8 0 1 0 -3.6 0M147.61 184.54a1.8 1.8 0 1 0 3.6 0a1.8 1.8 0 1 0 -3.6 0M140.31 202.3a1.8 1.8 0 1 0 3.6 0a1.8 1.8 0 1 0 -3.6 0M141.31 193.26a1.8 1.8 0 1 0 3.6 0a1.8 1.8 0 1 0 -3.6 0M142.69 191.71a1.8 1.8 0 1 0 3.6 0a1.8 1.8 0 1 0 -3.6 0M142.17 191.98a1.8 1.8 0 1 0 3.6 0a1.8 1.8 0 1 0 -3.6 0M144.59 162.81a1.8 1.8 0 1 0 3.6 0a1.8 1.8 0 1 0 -3.6 0M145.89 183.55a1.8 1.8 0 1 0 3.6 0a1.8 1.8 0 1 0 -3.6 0M129.77 161.25a1.8 1.8 0 1 0 3.6 0a1.8 1.8 0 1 0 -3.6 0M146.39 179.11a1.8 1.8 0 1 0 3.6 0a1.8 1.8 0 1 0 -3.6 0M149.73 174.27a1.8 1.8 0 1 0 3.6 0a1.8 1.8 0 1 0 -3.6 0M150.83 181.48a1.8 1.8 0 1 0 3.6 0a1.8 1.8 0 1 0 -3.6 0M143.8 180.78a1.8 1.8 0 1 0 3.6 0a1.8 1.8 0 1 0 -3.6 0M122.36 168.46a1.8 1.8 0 1 0 3.6 0a1.8 1.8 0 1 0 -3.6 0M129.62 193.97a1.8 1.8 0 1 0 3.6 0a1.8 1.8 0 1 0 -3.6 0M146.43 168.13a1.8 1.8 0 1 0 3.6 0a1.8 1.8 0 1 0 -3.6 0M127.58 182.26a1.8 1.8 0 1 0 3.6 0a1.8 1.8 0 1 0 -3.6 0M127.14 181.8a1.8 1.8 0 1 0 3.6 0a1.8 1.8 0 1 0 -3.6 0M157.14 171.57a1.8 1.8 0 1 0 3.6 0a1.8 1.8 0 1 0 -3.6 0M136.68 196.45a1.8 1.8 0 1 0 3.6 0a1.8 1.8 0 1 0 -3.6 0M129.65 181.93a1.8 1.8 0 1 0 3.6 0a1.8 1.8 0 1 0 -3.6 0M141.3 192.72a1.8 1.8 0 1 0 3.6 0a1.8 1.8 0 1 0 -3.6 0M152.62 162.31a1.8 1.8 0 1 0 3.6 0a1.8 1.8 0 1 0 -3.6 0M131.31 167.89a1.8 1.8 0 1 0 3.6 0a1.8 1.8 0 1 0 -3.6 0M133.38 190.52a1.8 1.8 0 1 0 3.6 0a1.8 1.8 0 1 0 -3.6 0M145.59 176.03a1.8 1.8 0 1 0 3.6 0a1.8 1.8 0 1 0 -3.6 0M121.17 177.57a1.8 1.8 0 1 0 3.6 0a1.8 1.8 0 1 0 -3.6 0M136.09 196.83a1.8 1.8 0 1 0 3.6 0a1.8 1.8 0 1 0 -3.6 0M155.04 172.72a1.8 1.8 0 1 0 3.6 0a1.8 1.8 0 1 0 -3.6 0M136.54 201.64a1.8 1.8 0 1 0 3.6 0a1.8 1.8 0 1 0 -3.6 0M140.89 194.83a1.8 1.8 0 1 0 3.6 0a1.8 1.8 0 1 0 -3.6 0M155.79 182.24a1.8 1.8 0 1 0 3.6 0a1.8 1.8 0 1 0 -3.6 0M132.05 198.03a1.8 1.8 0 1 0 3.6 0a1.8 1.8 0 1 0 -3.6 0M133.85 202.56a1.8 1.8 0 1 0 3.6 0a1.8 1.8 0 1 0 -3.6 0M135.63 198.16a1.8 1.8 0 1 0 3.6 0a1.8 1.8 0 1 0 -3.6 0M135.03 185.28a1.8 1.8 0 1 0 3.6 0a1.8 1.8 0 1 0 -3.6 0M157.19 158.01a1.8 1.8 0 1 0 3.6 0a1.8 1.8 0 1 0 -3.6 0M132.08 194.22a1.8 1.8 0 1 0 3.6 0a1.8 1.8 0 1 0 -3.6 0M127.6 193.68a1.8 1.8 0 1 0 3.6 0a1.8 1.8 0 1 0 -3.6 0M123.69 188.08a1.8 1.8 0 1 0 3.6 0a1.8 1.8 0 1 0 -3.6 0M128.78 176.52a1.8 1.8 0 1 0 3.6 0a1.8 1.8 0 1 0 -3.6 0M129.36 174.67a1.8 1.8 0 1 0 3.6 0a1.8 1.8 0 1 0 -3.6 0M151.42 172.53a1.8 1.8 0 1 0 3.6 0a1.8 1.8 0 1 0 -3.6 0M125.97 163.33a1.8 1.8 0 1 0 3.6 0a1.8 1.8 0 1 0 -3.6 0M117.29 165.42a1.8 1.8 0 1 0 3.6 0a1.8 1.8 0 1 0 -3.6 0M135.43 194.87a1.8 1.8 0 1 0 3.6 0a1.8 1.8 0 1 0 -3.6 0M132.43 179.42a1.8 1.8 0 1 0 3.6 0a1.8 1.8 0 1 0 -3.6 0M134.5 194.91a1.8 1.8 0 1 0 3.6 0a1.8 1.8 0 1 0 -3.6 0M149.87 184.22a1.8 1.8 0 1 0 3.6 0a1.8 1.8 0 1 0 -3.6 0M126.41 164.47a1.8 1.8 0 1 0 3.6 0a1.8 1.8 0 1 0 -3.6 0M141.1 201.15a1.8 1.8 0 1 0 3.6 0a1.8 1.8 0 1 0 -3.6 0M134.95 192.19a1.8 1.8 0 1 0 3.6 0a1.8 1.8 0 1 0 -3.6 0M127.13 192.74a1.8 1.8 0 1 0 3.6 0a1.8 1.8 0 1 0 -3.6 0M128.32 171.55a1.8 1.8 0 1 0 3.6 0a1.8 1.8 0 1 0 -3.6 0M142.16 197.63a1.8 1.8 0 1 0 3.6 0a1.8 1.8 0 1 0 -3.6 0M158.72 169.13a1.8 1.8 0 1 0 3.6 0a1.8 1.8 0 1 0 -3.6 0M137.12 203.32a1.8 1.8 0 1 0 3.6 0a1.8 1.8 0 1 0 -3.6 0M141.01 200.7a1.8 1.8 0 1 0 3.6 0a1.8 1.8 0 1 0 -3.6 0M132.66 168.89a1.8 1.8 0 1 0 3.6 0a1.8 1.8 0 1 0 -3.6 0M135.18 186.7a1.8 1.8 0 1 0 3.6 0a1.8 1.8 0 1 0 -3.6 0M140.25 197.75a1.8 1.8 0 1 0 3.6 0a1.8 1.8 0 1 0 -3.6 0M130.79 190.46a1.8 1.8 0 1 0 3.6 0a1.8 1.8 0 1 0 -3.6 0M141.27 198.4a1.8 1.8 0 1 0 3.6 0a1.8 1.8 0 1 0 -3.6 0M144.81 171.06a1.8 1.8 0 1 0 3.6 0a1.8 1.8 0 1 0 -3.6 0M130.94 195.34a1.8 1.8 0 1 0 3.6 0a1.8 1.8 0 1 0 -3.6 0M124.56 186.17a1.8 1.8 0 1 0 3.6 0a1.8 1.8 0 1 0 -3.6 0M134.07 194.39a1.8 1.8 0 1 0 3.6 0a1.8 1.8 0 1 0 -3.6 0M136.33 194.85a1.8 1.8 0 1 0 3.6 0a1.8 1.8 0 1 0 -3.6 0M154.6 175.59a1.8 1.8 0 1 0 3.6 0a1.8 1.8 0 1 0 -3.6 0M118.3 159a1.8 1.8 0 1 0 3.6 0a1.8 1.8 0 1 0 -3.6 0M118.58 161.74a1.8 1.8 0 1 0 3.6 0a1.8 1.8 0 1 0 -3.6 0M156.26 173.87a1.8 1.8 0 1 0 3.6 0a1.8 1.8 0 1 0 -3.6 0M141.23 194a1.8 1.8 0 1 0 3.6 0a1.8 1.8 0 1 0 -3.6 0M134.83 185.13a1.8 1.8 0 1 0 3.6 0a1.8 1.8 0 1 0 -3.6 0M130.39 187.19a1.8 1.8 0 1 0 3.6 0a1.8 1.8 0 1 0 -3.6 0M132.85 191.95a1.8 1.8 0 1 0 3.6 0a1.8 1.8 0 1 0 -3.6 0M126.44 182.91a1.8 1.8 0 1 0 3.6 0a1.8 1.8 0 1 0 -3.6 0M133.93 193.77a1.8 1.8 0 1 0 3.6 0a1.8 1.8 0 1 0 -3.6 0M128.63 185.38a1.8 1.8 0 1 0 3.6 0a1.8 1.8 0 1 0 -3.6 0M153.53 172.21a1.8 1.8 0 1 0 3.6 0a1.8 1.8 0 1 0 -3.6 0M137.17 203.22a1.8 1.8 0 1 0 3.6 0a1.8 1.8 0 1 0 -3.6 0M137.92 201.56a1.8 1.8 0 1 0 3.6 0a1.8 1.8 0 1 0 -3.6 0M147.41 181.96a1.8 1.8 0 1 0 3.6 0a1.8 1.8 0 1 0 -3.6 0M135.69 189.86a1.8 1.8 0 1 0 3.6 0a1.8 1.8 0 1 0 -3.6 0M146.76 188.86a1.8 1.8 0 1 0 3.6 0a1.8 1.8 0 1 0 -3.6 0M142.04 192.76a1.8 1.8 0 1 0 3.6 0a1.8 1.8 0 1 0 -3.6 0M154.78 183.19a1.8 1.8 0 1 0 3.6 0a1.8 1.8 0 1 0 -3.6 0M152.17 188.15a1.8 1.8 0 1 0 3.6 0a1.8 1.8 0 1 0 -3.6 0M152.93 168.86a1.8 1.8 0 1 0 3.6 0a1.8 1.8 0 1 0 -3.6 0M132.82 185.91a1.8 1.8 0 1 0 3.6 0a1.8 1.8 0 1 0 -3.6 0M149.12 166.06a1.8 1.8 0 1 0 3.6 0a1.8 1.8 0 1 0 -3.6 0M130.64 162.2a1.8 1.8 0 1 0 3.6 0a1.8 1.8 0 1 0 -3.6 0M130.71 181.42a1.8 1.8 0 1 0 3.6 0a1.8 1.8 0 1 0 -3.6 0M129.19 158.94a1.8 1.8 0 1 0 3.6 0a1.8 1.8 0 1 0 -3.6 0M142.12 194.28a1.8 1.8 0 1 0 3.6 0a1.8 1.8 0 1 0 -3.6 0M140.37 204.07a1.8 1.8 0 1 0 3.6 0a1.8 1.8 0 1 0 -3.6 0M130.89 193.79a1.8 1.8 0 1 0 3.6 0a1.8 1.8 0 1 0 -3.6 0M149.32 179.48a1.8 1.8 0 1 0 3.6 0a1.8 1.8 0 1 0 -3.6 0M148.3 165.99a1.8 1.8 0 1 0 3.6 0a1.8 1.8 0 1 0 -3.6 0M143.9 188.88a1.8 1.8 0 1 0 3.6 0a1.8 1.8 0 1 0 -3.6 0M153.47 171.52a1.8 1.8 0 1 0 3.6 0a1.8 1.8 0 1 0 -3.6 0M146.42 159.57a1.8 1.8 0 1 0 3.6 0a1.8 1.8 0 1 0 -3.6 0M125.71 176.01a1.8 1.8 0 1 0 3.6 0a1.8 1.8 0 1 0 -3.6 0M127.1 187.83a1.8 1.8 0 1 0 3.6 0a1.8 1.8 0 1 0 -3.6 0M131.97 180.15a1.8 1.8 0 1 0 3.6 0a1.8 1.8 0 1 0 -3.6 0M130.98 189.88a1.8 1.8 0 1 0 3.6 0a1.8 1.8 0 1 0 -3.6 0M137.12 198.84a1.8 1.8 0 1 0 3.6 0a1.8 1.8 0 1 0 -3.6 0M140.07 199.88a1.8 1.8 0 1 0 3.6 0a1.8 1.8 0 1 0 -3.6 0M147.06 184.02a1.8 1.8 0 1 0 3.6 0a1.8 1.8 0 1 0 -3.6 0M146.57 197.23a1.8 1.8 0 1 0 3.6 0a1.8 1.8 0 1 0 -3.6 0M135.88 201.96a1.8 1.8 0 1 0 3.6 0a1.8 1.8 0 1 0 -3.6 0M119.59 167.66a1.8 1.8 0 1 0 3.6 0a1.8 1.8 0 1 0 -3.6 0M143.07 193.22a1.8 1.8 0 1 0 3.6 0a1.8 1.8 0 1 0 -3.6 0M150.07 189.47a1.8 1.8 0 1 0 3.6 0a1.8 1.8 0 1 0 -3.6 0M149.8 166.11a1.8 1.8 0 1 0 3.6 0a1.8 1.8 0 1 0 -3.6 0M156.16 171.95a1.8 1.8 0 1 0 3.6 0a1.8 1.8 0 1 0 -3.6 0M127.12 167.43a1.8 1.8 0 1 0 3.6 0a1.8 1.8 0 1 0 -3.6 0M131.69 173.74a1.8 1.8 0 1 0 3.6 0a1.8 1.8 0 1 0 -3.6 0M144.12 203.59a1.8 1.8 0 1 0 3.6 0a1.8 1.8 0 1 0 -3.6 0M117.92 159.26a1.8 1.8 0 1 0 3.6 0a1.8 1.8 0 1 0 -3.6 0M145.59 185.52a1.8 1.8 0 1 0 3.6 0a1.8 1.8 0 1 0 -3.6 0M144.93 161.05a1.8 1.8 0 1 0 3.6 0a1.8 1.8 0 1 0 -3.6 0M133.16 171.64a1.8 1.8 0 1 0 3.6 0a1.8 1.8 0 1 0 -3.6 0M150.88 191.67a1.8 1.8 0 1 0 3.6 0a1.8 1.8 0 1 0 -3.6 0M137.35 199.1a1.8 1.8 0 1 0 3.6 0a1.8 1.8 0 1 0 -3.6 0M130.09 179.75a1.8 1.8 0 1 0 3.6 0a1.8 1.8 0 1 0 -3.6 0M149.46 190.61a1.8 1.8 0 1 0 3.6 0a1.8 1.8 0 1 0 -3.6 0M130.39 191.77a1.8 1.8 0 1 0 3.6 0a1.8 1.8 0 1 0 -3.6 0M148.67 169.15a1.8 1.8 0 1 0 3.6 0a1.8 1.8 0 1 0 -3.6 0M155.35 172.56a1.8 1.8 0 1 0 3.6 0a1.8 1.8 0 1 0 -3.6 0M136.69 197.92a1.8 1.8 0 1 0 3.6 0a1.8 1.8 0 1 0 -3.6 0M123.35 161.04a1.8 1.8 0 1 0 3.6 0a1.8 1.8 0 1 0 -3.6 0M137.37 199.09a1.8 1.8 0 1 0 3.6 0a1.8 1.8 0 1 0 -3.6 0M125.45 178.64a1.8 1.8 0 1 0 3.6 0a1.8 1.8 0 1 0 -3.6 0M132.09 192.21a1.8 1.8 0 1 0 3.6 0a1.8 1.8 0 1 0 -3.6 0M135.28 188a1.8 1.8 0 1 0 3.6 0a1.8 1.8 0 1 0 -3.6 0M140.68 201.5a1.8 1.8 0 1 0 3.6 0a1.8 1.8 0 1 0 -3.6 0M135.53 200.9a1.8 1.8 0 1 0 3.6 0a1.8 1.8 0 1 0 -3.6 0M112.56 157.96a1.8 1.8 0 1 0 3.6 0a1.8 1.8 0 1 0 -3.6 0M123.82 182.49a1.8 1.8 0 1 0 3.6 0a1.8 1.8 0 1 0 -3.6 0M129.48 186.61a1.8 1.8 0 1 0 3.6 0a1.8 1.8 0 1 0 -3.6 0M146.03 174.33a1.8 1.8 0 1 0 3.6 0a1.8 1.8 0 1 0 -3.6 0M162.65 160.79a1.8 1.8 0 1 0 3.6 0a1.8 1.8 0 1 0 -3.6 0M150.5 184.41a1.8 1.8 0 1 0 3.6 0a1.8 1.8 0 1 0 -3.6 0M135.98 196.64a1.8 1.8 0 1 0 3.6 0a1.8 1.8 0 1 0 -3.6 0M135.6 199.16a1.8 1.8 0 1 0 3.6 0a1.8 1.8 0 1 0 -3.6 0M124.78 169.71a1.8 1.8 0 1 0 3.6 0a1.8 1.8 0 1 0 -3.6 0M134.26 203.71a1.8 1.8 0 1 0 3.6 0a1.8 1.8 0 1 0 -3.6 0M143.13 203.69a1.8 1.8 0 1 0 3.6 0a1.8 1.8 0 1 0 -3.6 0M149.09 167.86a1.8 1.8 0 1 0 3.6 0a1.8 1.8 0 1 0 -3.6 0M156.34 167.34a1.8 1.8 0 1 0 3.6 0a1.8 1.8 0 1 0 -3.6 0M110.33 158.5a1.8 1.8 0 1 0 3.6 0a1.8 1.8 0 1 0 -3.6 0M143.74 186.31a1.8 1.8 0 1 0 3.6 0a1.8 1.8 0 1 0 -3.6 0M121.51 162.2a1.8 1.8 0 1 0 3.6 0a1.8 1.8 0 1 0 -3.6 0M133.84 194.33a1.8 1.8 0 1 0 3.6 0a1.8 1.8 0 1 0 -3.6 0M147.29 174.33a1.8 1.8 0 1 0 3.6 0a1.8 1.8 0 1 0 -3.6 0M130.53 175.23a1.8 1.8 0 1 0 3.6 0a1.8 1.8 0 1 0 -3.6 0M131.29 162.42a1.8 1.8 0 1 0 3.6 0a1.8 1.8 0 1 0 -3.6 0M142.81 189.43a1.8 1.8 0 1 0 3.6 0a1.8 1.8 0 1 0 -3.6 0M153.71 170.21a1.8 1.8 0 1 0 3.6 0a1.8 1.8 0 1 0 -3.6 0M136.12 196.57a1.8 1.8 0 1 0 3.6 0a1.8 1.8 0 1 0 -3.6 0M135.6 188.71a1.8 1.8 0 1 0 3.6 0a1.8 1.8 0 1 0 -3.6 0M131.31 181.63a1.8 1.8 0 1 0 3.6 0a1.8 1.8 0 1 0 -3.6 0M144.26 180a1.8 1.8 0 1 0 3.6 0a1.8 1.8 0 1 0 -3.6 0M117.44 163.61a1.8 1.8 0 1 0 3.6 0a1.8 1.8 0 1 0 -3.6 0M142.03 199.61a1.8 1.8 0 1 0 3.6 0a1.8 1.8 0 1 0 -3.6 0M124.88 159.63a1.8 1.8 0 1 0 3.6 0a1.8 1.8 0 1 0 -3.6 0M129.97 171.99a1.8 1.8 0 1 0 3.6 0a1.8 1.8 0 1 0 -3.6 0M146.83 173.36a1.8 1.8 0 1 0 3.6 0a1.8 1.8 0 1 0 -3.6 0M128.64 196.3a1.8 1.8 0 1 0 3.6 0a1.8 1.8 0 1 0 -3.6 0M142.22 197.87a1.8 1.8 0 1 0 3.6 0a1.8 1.8 0 1 0 -3.6 0M124.33 174.95a1.8 1.8 0 1 0 3.6 0a1.8 1.8 0 1 0 -3.6 0M154.19 163.26a1.8 1.8 0 1 0 3.6 0a1.8 1.8 0 1 0 -3.6 0M143.09 181.52a1.8 1.8 0 1 0 3.6 0a1.8 1.8 0 1 0 -3.6 0M150.45 165.68a1.8 1.8 0 1 0 3.6 0a1.8 1.8 0 1 0 -3.6 0M128.46 173.92a1.8 1.8 0 1 0 3.6 0a1.8 1.8 0 1 0 -3.6 0M145.01 194.21a1.8 1.8 0 1 0 3.6 0a1.8 1.8 0 1 0 -3.6 0M126.33 181.03a1.8 1.8 0 1 0 3.6 0a1.8 1.8 0 1 0 -3.6 0M148.61 184.24a1.8 1.8 0 1 0 3.6 0a1.8 1.8 0 1 0 -3.6 0M123.82 161.14a1.8 1.8 0 1 0 3.6 0a1.8 1.8 0 1 0 -3.6 0M148.95 158.17a1.8 1.8 0 1 0 3.6 0a1.8 1.8 0 1 0 -3.6 0M148.61 170.52a1.8 1.8 0 1 0 3.6 0a1.8 1.8 0 1 0 -3.6 0M111.3 164.24a1.8 1.8 0 1 0 3.6 0a1.8 1.8 0 1 0 -3.6 0M123.06 182.17a1.8 1.8 0 1 0 3.6 0a1.8 1.8 0 1 0 -3.6 0M155.25 174.7a1.8 1.8 0 1 0 3.6 0a1.8 1.8 0 1 0 -3.6 0M112.46 167.6a1.8 1.8 0 1 0 3.6 0a1.8 1.8 0 1 0 -3.6 0M143.37 201.48a1.8 1.8 0 1 0 3.6 0a1.8 1.8 0 1 0 -3.6 0M144.19 193.27a1.8 1.8 0 1 0 3.6 0a1.8 1.8 0 1 0 -3.6 0M144.15 180.04a1.8 1.8 0 1 0 3.6 0a1.8 1.8 0 1 0 -3.6 0M141.41 191.96a1.8 1.8 0 1 0 3.6 0a1.8 1.8 0 1 0 -3.6 0M148.3 179.16a1.8 1.8 0 1 0 3.6 0a1.8 1.8 0 1 0 -3.6 0M148.14 193.68a1.8 1.8 0 1 0 3.6 0a1.8 1.8 0 1 0 -3.6 0M158.77 168.89a1.8 1.8 0 1 0 3.6 0a1.8 1.8 0 1 0 -3.6 0M127.38 167.64a1.8 1.8 0 1 0 3.6 0a1.8 1.8 0 1 0 -3.6 0M136 199.96a1.8 1.8 0 1 0 3.6 0a1.8 1.8 0 1 0 -3.6 0M145.31 164.36a1.8 1.8 0 1 0 3.6 0a1.8 1.8 0 1 0 -3.6 0M130.13 196.38a1.8 1.8 0 1 0 3.6 0a1.8 1.8 0 1 0 -3.6 0M143.35 176.22a1.8 1.8 0 1 0 3.6 0a1.8 1.8 0 1 0 -3.6 0M119.22 158.41a1.8 1.8 0 1 0 3.6 0a1.8 1.8 0 1 0 -3.6 0M146.44 163.8a1.8 1.8 0 1 0 3.6 0a1.8 1.8 0 1 0 -3.6 0M133.67 173.78a1.8 1.8 0 1 0 3.6 0a1.8 1.8 0 1 0 -3.6 0M129.29 189.21a1.8 1.8 0 1 0 3.6 0a1.8 1.8 0 1 0 -3.6 0M147.11 192.01a1.8 1.8 0 1 0 3.6 0a1.8 1.8 0 1 0 -3.6 0M131.68 196.42a1.8 1.8 0 1 0 3.6 0a1.8 1.8 0 1 0 -3.6 0M134.09 183.32a1.8 1.8 0 1 0 3.6 0a1.8 1.8 0 1 0 -3.6 0M149.39 160.68a1.8 1.8 0 1 0 3.6 0a1.8 1.8 0 1 0 -3.6 0M145.56 195.73a1.8 1.8 0 1 0 3.6 0a1.8 1.8 0 1 0 -3.6 0M129.03 170.54a1.8 1.8 0 1 0 3.6 0a1.8 1.8 0 1 0 -3.6 0M128.14 186.03a1.8 1.8 0 1 0 3.6 0a1.8 1.8 0 1 0 -3.6 0M145.8 185.27a1.8 1.8 0 1 0 3.6 0a1.8 1.8 0 1 0 -3.6 0M122.1 183.77a1.8 1.8 0 1 0 3.6 0a1.8 1.8 0 1 0 -3.6 0M143.12 188.9a1.8 1.8 0 1 0 3.6 0a1.8 1.8 0 1 0 -3.6 0M120.29 178.01a1.8 1.8 0 1 0 3.6 0a1.8 1.8 0 1 0 -3.6 0M147.05 191.64a1.8 1.8 0 1 0 3.6 0a1.8 1.8 0 1 0 -3.6 0M145.86 183.86a1.8 1.8 0 1 0 3.6 0a1.8 1.8 0 1 0 -3.6 0M149.46 170.21a1.8 1.8 0 1 0 3.6 0a1.8 1.8 0 1 0 -3.6 0M136.93 201.51a1.8 1.8 0 1 0 3.6 0a1.8 1.8 0 1 0 -3.6 0M144.55 184.51a1.8 1.8 0 1 0 3.6 0a1.8 1.8 0 1 0 -3.6 0M145.87 172.52a1.8 1.8 0 1 0 3.6 0a1.8 1.8 0 1 0 -3.6 0M123.95 185.88a1.8 1.8 0 1 0 3.6 0a1.8 1.8 0 1 0 -3.6 0M133.79 193.23a1.8 1.8 0 1 0 3.6 0a1.8 1.8 0 1 0 -3.6 0M152.95 166.5a1.8 1.8 0 1 0 3.6 0a1.8 1.8 0 1 0 -3.6 0M120.63 179.59a1.8 1.8 0 1 0 3.6 0a1.8 1.8 0 1 0 -3.6 0M136.02 200.48a1.8 1.8 0 1 0 3.6 0a1.8 1.8 0 1 0 -3.6 0M147.55 171.17a1.8 1.8 0 1 0 3.6 0a1.8 1.8 0 1 0 -3.6 0M144.51 162.77a1.8 1.8 0 1 0 3.6 0a1.8 1.8 0 1 0 -3.6 0M129.23 175.47a1.8 1.8 0 1 0 3.6 0a1.8 1.8 0 1 0 -3.6 0M126.54 183.4a1.8 1.8 0 1 0 3.6 0a1.8 1.8 0 1 0 -3.6 0M157.45 176.77a1.8 1.8 0 1 0 3.6 0a1.8 1.8 0 1 0 -3.6 0M113.73 158.18a1.8 1.8 0 1 0 3.6 0a1.8 1.8 0 1 0 -3.6 0M158.58 174.66a1.8 1.8 0 1 0 3.6 0a1.8 1.8 0 1 0 -3.6 0M136.25 201.41a1.8 1.8 0 1 0 3.6 0a1.8 1.8 0 1 0 -3.6 0M115.88 174.37a1.8 1.8 0 1 0 3.6 0a1.8 1.8 0 1 0 -3.6 0M135.75 195.14a1.8 1.8 0 1 0 3.6 0a1.8 1.8 0 1 0 -3.6 0M142.16 186.67a1.8 1.8 0 1 0 3.6 0a1.8 1.8 0 1 0 -3.6 0M144.43 197.04a1.8 1.8 0 1 0 3.6 0a1.8 1.8 0 1 0 -3.6 0M118.19 170.27a1.8 1.8 0 1 0 3.6 0a1.8 1.8 0 1 0 -3.6 0M144.52 170.8a1.8 1.8 0 1 0 3.6 0a1.8 1.8 0 1 0 -3.6 0M123.25 183.22a1.8 1.8 0 1 0 3.6 0a1.8 1.8 0 1 0 -3.6 0M144.78 160.51a1.8 1.8 0 1 0 3.6 0a1.8 1.8 0 1 0 -3.6 0M146.43 188.68a1.8 1.8 0 1 0 3.6 0a1.8 1.8 0 1 0 -3.6 0M141.22 199.49a1.8 1.8 0 1 0 3.6 0a1.8 1.8 0 1 0 -3.6 0M127.48 181.4a1.8 1.8 0 1 0 3.6 0a1.8 1.8 0 1 0 -3.6 0M134.3 198.68a1.8 1.8 0 1 0 3.6 0a1.8 1.8 0 1 0 -3.6 0M142.78 191.3a1.8 1.8 0 1 0 3.6 0a1.8 1.8 0 1 0 -3.6 0M133.45 185.77a1.8 1.8 0 1 0 3.6 0a1.8 1.8 0 1 0 -3.6 0M146.77 184.01a1.8 1.8 0 1 0 3.6 0a1.8 1.8 0 1 0 -3.6 0M115.38 165.04a1.8 1.8 0 1 0 3.6 0a1.8 1.8 0 1 0 -3.6 0M143.42 197.57a1.8 1.8 0 1 0 3.6 0a1.8 1.8 0 1 0 -3.6 0M151.93 186.12a1.8 1.8 0 1 0 3.6 0a1.8 1.8 0 1 0 -3.6 0M131.89 159.58a1.8 1.8 0 1 0 3.6 0a1.8 1.8 0 1 0 -3.6 0M145.16 197.62a1.8 1.8 0 1 0 3.6 0a1.8 1.8 0 1 0 -3.6 0M125.02 171.67a1.8 1.8 0 1 0 3.6 0a1.8 1.8 0 1 0 -3.6 0M137.38 202.99a1.8 1.8 0 1 0 3.6 0a1.8 1.8 0 1 0 -3.6 0M159.48 159.46a1.8 1.8 0 1 0 3.6 0a1.8 1.8 0 1 0 -3.6 0M138.03 202.27a1.8 1.8 0 1 0 3.6 0a1.8 1.8 0 1 0 -3.6 0M127.23 192.81a1.8 1.8 0 1 0 3.6 0a1.8 1.8 0 1 0 -3.6 0M129.15 189.71a1.8 1.8 0 1 0 3.6 0a1.8 1.8 0 1 0 -3.6 0M152.96 163.31a1.8 1.8 0 1 0 3.6 0a1.8 1.8 0 1 0 -3.6 0M146.41 181.7a1.8 1.8 0 1 0 3.6 0a1.8 1.8 0 1 0 -3.6 0M142.93 191.06a1.8 1.8 0 1 0 3.6 0a1.8 1.8 0 1 0 -3.6 0M130.86 187.91a1.8 1.8 0 1 0 3.6 0a1.8 1.8 0 1 0 -3.6 0M131.31 188.34a1.8 1.8 0 1 0 3.6 0a1.8 1.8 0 1 0 -3.6 0M139.32 202.13a1.8 1.8 0 1 0 3.6 0a1.8 1.8 0 1 0 -3.6 0M146.71 180.44a1.8 1.8 0 1 0 3.6 0a1.8 1.8 0 1 0 -3.6 0M133.87 194.54a1.8 1.8 0 1 0 3.6 0a1.8 1.8 0 1 0 -3.6 0M134.18 190.37a1.8 1.8 0 1 0 3.6 0a1.8 1.8 0 1 0 -3.6 0M133.21 169.91a1.8 1.8 0 1 0 3.6 0a1.8 1.8 0 1 0 -3.6 0M141.76 186.11a1.8 1.8 0 1 0 3.6 0a1.8 1.8 0 1 0 -3.6 0M146.78 177.35a1.8 1.8 0 1 0 3.6 0a1.8 1.8 0 1 0 -3.6 0M130.58 177.12a1.8 1.8 0 1 0 3.6 0a1.8 1.8 0 1 0 -3.6 0M146.19 176.6a1.8 1.8 0 1 0 3.6 0a1.8 1.8 0 1 0 -3.6 0M124.47 181.86a1.8 1.8 0 1 0 3.6 0a1.8 1.8 0 1 0 -3.6 0M137.24 201.98a1.8 1.8 0 1 0 3.6 0a1.8 1.8 0 1 0 -3.6 0M144.16 192.39a1.8 1.8 0 1 0 3.6 0a1.8 1.8 0 1 0 -3.6 0M128.38 164.6a1.8 1.8 0 1 0 3.6 0a1.8 1.8 0 1 0 -3.6 0M115.42 173.24a1.8 1.8 0 1 0 3.6 0a1.8 1.8 0 1 0 -3.6 0M128.02 165.97a1.8 1.8 0 1 0 3.6 0a1.8 1.8 0 1 0 -3.6 0M153.96 166.56a1.8 1.8 0 1 0 3.6 0a1.8 1.8 0 1 0 -3.6 0M139.35 201.83a1.8 1.8 0 1 0 3.6 0a1.8 1.8 0 1 0 -3.6 0M156.79 175.86a1.8 1.8 0 1 0 3.6 0a1.8 1.8 0 1 0 -3.6 0M117.59 175.2a1.8 1.8 0 1 0 3.6 0a1.8 1.8 0 1 0 -3.6 0M143.61 169.75a1.8 1.8 0 1 0 3.6 0a1.8 1.8 0 1 0 -3.6 0M121.38 170.51a1.8 1.8 0 1 0 3.6 0a1.8 1.8 0 1 0 -3.6 0M145.48 158.61a1.8 1.8 0 1 0 3.6 0a1.8 1.8 0 1 0 -3.6 0M118.94 168.38a1.8 1.8 0 1 0 3.6 0a1.8 1.8 0 1 0 -3.6 0M131.24 187.44a1.8 1.8 0 1 0 3.6 0a1.8 1.8 0 1 0 -3.6 0M132.81 199.19a1.8 1.8 0 1 0 3.6 0a1.8 1.8 0 1 0 -3.6 0M133.32 201.2a1.8 1.8 0 1 0 3.6 0a1.8 1.8 0 1 0 -3.6 0M144.05 173.89a1.8 1.8 0 1 0 3.6 0a1.8 1.8 0 1 0 -3.6 0M130.93 199.18a1.8 1.8 0 1 0 3.6 0a1.8 1.8 0 1 0 -3.6 0M144.49 178.91a1.8 1.8 0 1 0 3.6 0a1.8 1.8 0 1 0 -3.6 0M151.73 185.73a1.8 1.8 0 1 0 3.6 0a1.8 1.8 0 1 0 -3.6 0M142.54 198.96a1.8 1.8 0 1 0 3.6 0a1.8 1.8 0 1 0 -3.6 0M136.97 202.88a1.8 1.8 0 1 0 3.6 0a1.8 1.8 0 1 0 -3.6 0M149.51 173.5a1.8 1.8 0 1 0 3.6 0a1.8 1.8 0 1 0 -3.6 0M120.02 172.77a1.8 1.8 0 1 0 3.6 0a1.8 1.8 0 1 0 -3.6 0M140.37 199.75a1.8 1.8 0 1 0 3.6 0a1.8 1.8 0 1 0 -3.6 0M130 177.7a1.8 1.8 0 1 0 3.6 0a1.8 1.8 0 1 0 -3.6 0M132.97 197.17a1.8 1.8 0 1 0 3.6 0a1.8 1.8 0 1 0 -3.6 0M127.16 180.81a1.8 1.8 0 1 0 3.6 0a1.8 1.8 0 1 0 -3.6 0M122.16 165.45a1.8 1.8 0 1 0 3.6 0a1.8 1.8 0 1 0 -3.6 0M145.35 182.66a1.8 1.8 0 1 0 3.6 0a1.8 1.8 0 1 0 -3.6 0M130.26 172.4a1.8 1.8 0 1 0 3.6 0a1.8 1.8 0 1 0 -3.6 0M146.31 170.82a1.8 1.8 0 1 0 3.6 0a1.8 1.8 0 1 0 -3.6 0M141.08 201.51a1.8 1.8 0 1 0 3.6 0a1.8 1.8 0 1 0 -3.6 0M123.12 171.49a1.8 1.8 0 1 0 3.6 0a1.8 1.8 0 1 0 -3.6 0M155.47 178.95a1.8 1.8 0 1 0 3.6 0a1.8 1.8 0 1 0 -3.6 0M132.93 183.82a1.8 1.8 0 1 0 3.6 0a1.8 1.8 0 1 0 -3.6 0M128.92 169.74a1.8 1.8 0 1 0 3.6 0a1.8 1.8 0 1 0 -3.6 0M119.32 165.2a1.8 1.8 0 1 0 3.6 0a1.8 1.8 0 1 0 -3.6 0M146.12 178.54a1.8 1.8 0 1 0 3.6 0a1.8 1.8 0 1 0 -3.6 0M145.39 197.72a1.8 1.8 0 1 0 3.6 0a1.8 1.8 0 1 0 -3.6 0M117.78 167.21a1.8 1.8 0 1 0 3.6 0a1.8 1.8 0 1 0 -3.6 0M132.44 194.73a1.8 1.8 0 1 0 3.6 0a1.8 1.8 0 1 0 -3.6 0M121.9 176.57a1.8 1.8 0 1 0 3.6 0a1.8 1.8 0 1 0 -3.6 0M156.08 177.86a1.8 1.8 0 1 0 3.6 0a1.8 1.8 0 1 0 -3.6 0M115.99 172.79a1.8 1.8 0 1 0 3.6 0a1.8 1.8 0 1 0 -3.6 0M117.57 171.39a1.8 1.8 0 1 0 3.6 0a1.8 1.8 0 1 0 -3.6 0M130.18 170.99a1.8 1.8 0 1 0 3.6 0a1.8 1.8 0 1 0 -3.6 0M139.85 203.33a1.8 1.8 0 1 0 3.6 0a1.8 1.8 0 1 0 -3.6 0M135.19 191.35a1.8 1.8 0 1 0 3.6 0a1.8 1.8 0 1 0 -3.6 0M131.99 182.46a1.8 1.8 0 1 0 3.6 0a1.8 1.8 0 1 0 -3.6 0M127.36 192.05a1.8 1.8 0 1 0 3.6 0a1.8 1.8 0 1 0 -3.6 0M146.38 197.34a1.8 1.8 0 1 0 3.6 0a1.8 1.8 0 1 0 -3.6 0M152.95 176.59a1.8 1.8 0 1 0 3.6 0a1.8 1.8 0 1 0 -3.6 0M155.27 180.12a1.8 1.8 0 1 0 3.6 0a1.8 1.8 0 1 0 -3.6 0M132.64 168.68a1.8 1.8 0 1 0 3.6 0a1.8 1.8 0 1 0 -3.6 0M115.73 160.89a1.8 1.8 0 1 0 3.6 0a1.8 1.8 0 1 0 -3.6 0M133.75 194.05a1.8 1.8 0 1 0 3.6 0a1.8 1.8 0 1 0 -3.6 0M150.3 170.88a1.8 1.8 0 1 0 3.6 0a1.8 1.8 0 1 0 -3.6 0M131.9 178.64a1.8 1.8 0 1 0 3.6 0a1.8 1.8 0 1 0 -3.6 0M111.24 160.25a1.8 1.8 0 1 0 3.6 0a1.8 1.8 0 1 0 -3.6 0M117.9 174.32a1.8 1.8 0 1 0 3.6 0a1.8 1.8 0 1 0 -3.6 0M140.1 199.89a1.8 1.8 0 1 0 3.6 0a1.8 1.8 0 1 0 -3.6 0M112.55 158.36a1.8 1.8 0 1 0 3.6 0a1.8 1.8 0 1 0 -3.6 0M139.46 201.63a1.8 1.8 0 1 0 3.6 0a1.8 1.8 0 1 0 -3.6 0M144.75 202.95a1.8 1.8 0 1 0 3.6 0a1.8 1.8 0 1 0 -3.6 0M154.92 172.99a1.8 1.8 0 1 0 3.6 0a1.8 1.8 0 1 0 -3.6 0M127.93 180.75a1.8 1.8 0 1 0 3.6 0a1.8 1.8 0 1 0 -3.6 0M142.54 196.25a1.8 1.8 0 1 0 3.6 0a1.8 1.8 0 1 0 -3.6 0M125.3 181.8a1.8 1.8 0 1 0 3.6 0a1.8 1.8 0 1 0 -3.6 0M134.76 185.61a1.8 1.8 0 1 0 3.6 0a1.8 1.8 0 1 0 -3.6 0M155.5 182.36a1.8 1.8 0 1 0 3.6 0a1.8 1.8 0 1 0 -3.6 0M130.97 178.86a1.8 1.8 0 1 0 3.6 0a1.8 1.8 0 1 0 -3.6 0M151.43 189.39a1.8 1.8 0 1 0 3.6 0a1.8 1.8 0 1 0 -3.6 0M161.34 158.98a1.8 1.8 0 1 0 3.6 0a1.8 1.8 0 1 0 -3.6 0M144.27 164.66a1.8 1.8 0 1 0 3.6 0a1.8 1.8 0 1 0 -3.6 0M150.67 182.23a1.8 1.8 0 1 0 3.6 0a1.8 1.8 0 1 0 -3.6 0M156.72 176.43a1.8 1.8 0 1 0 3.6 0a1.8 1.8 0 1 0 -3.6 0M131.91 200.56a1.8 1.8 0 1 0 3.6 0a1.8 1.8 0 1 0 -3.6 0M134.2 202.86a1.8 1.8 0 1 0 3.6 0a1.8 1.8 0 1 0 -3.6 0M131.74 159.9a1.8 1.8 0 1 0 3.6 0a1.8 1.8 0 1 0 -3.6 0M151.64 166.06a1.8 1.8 0 1 0 3.6 0a1.8 1.8 0 1 0 -3.6 0M153.9 177.98a1.8 1.8 0 1 0 3.6 0a1.8 1.8 0 1 0 -3.6 0M135.44 204.08a1.8 1.8 0 1 0 3.6 0a1.8 1.8 0 1 0 -3.6 0M150.5 159.01a1.8 1.8 0 1 0 3.6 0a1.8 1.8 0 1 0 -3.6 0M135.67 189.4a1.8 1.8 0 1 0 3.6 0a1.8 1.8 0 1 0 -3.6 0M122.98 168.92a1.8 1.8 0 1 0 3.6 0a1.8 1.8 0 1 0 -3.6 0M125.29 180.52a1.8 1.8 0 1 0 3.6 0a1.8 1.8 0 1 0 -3.6 0M123.2 183.86a1.8 1.8 0 1 0 3.6 0a1.8 1.8 0 1 0 -3.6 0M135.43 196.65a1.8 1.8 0 1 0 3.6 0a1.8 1.8 0 1 0 -3.6 0M145.4 182.73a1.8 1.8 0 1 0 3.6 0a1.8 1.8 0 1 0 -3.6 0M142.4 193.84a1.8 1.8 0 1 0 3.6 0a1.8 1.8 0 1 0 -3.6 0M121.6 180.68a1.8 1.8 0 1 0 3.6 0a1.8 1.8 0 1 0 -3.6 0M134.95 196.25a1.8 1.8 0 1 0 3.6 0a1.8 1.8 0 1 0 -3.6 0M147.8 189.67a1.8 1.8 0 1 0 3.6 0a1.8 1.8 0 1 0 -3.6 0M144.43 167.95a1.8 1.8 0 1 0 3.6 0a1.8 1.8 0 1 0 -3.6 0M130.38 169.24a1.8 1.8 0 1 0 3.6 0a1.8 1.8 0 1 0 -3.6 0M145.22 185.75a1.8 1.8 0 1 0 3.6 0a1.8 1.8 0 1 0 -3.6 0M152.71 188.43a1.8 1.8 0 1 0 3.6 0a1.8 1.8 0 1 0 -3.6 0M126.14 187.01a1.8 1.8 0 1 0 3.6 0a1.8 1.8 0 1 0 -3.6 0M117.97 168.34a1.8 1.8 0 1 0 3.6 0a1.8 1.8 0 1 0 -3.6 0M129.14 187.37a1.8 1.8 0 1 0 3.6 0a1.8 1.8 0 1 0 -3.6 0M118.02 170.29a1.8 1.8 0 1 0 3.6 0a1.8 1.8 0 1 0 -3.6 0M137.24 203.58a1.8 1.8 0 1 0 3.6 0a1.8 1.8 0 1 0 -3.6 0M139.81 201.47a1.8 1.8 0 1 0 3.6 0a1.8 1.8 0 1 0 -3.6 0M148.41 195.31a1.8 1.8 0 1 0 3.6 0a1.8 1.8 0 1 0 -3.6 0M111.84 161.14a1.8 1.8 0 1 0 3.6 0a1.8 1.8 0 1 0 -3.6 0M146.83 198.15a1.8 1.8 0 1 0 3.6 0a1.8 1.8 0 1 0 -3.6 0M131.55 195.89a1.8 1.8 0 1 0 3.6 0a1.8 1.8 0 1 0 -3.6 0M161.14 163.51a1.8 1.8 0 1 0 3.6 0a1.8 1.8 0 1 0 -3.6 0M134.14 183.91a1.8 1.8 0 1 0 3.6 0a1.8 1.8 0 1 0 -3.6 0M141.36 192.26a1.8 1.8 0 1 0 3.6 0a1.8 1.8 0 1 0 -3.6 0M136.51 196.24a1.8 1.8 0 1 0 3.6 0a1.8 1.8 0 1 0 -3.6 0M135.16 190.71a1.8 1.8 0 1 0 3.6 0a1.8 1.8 0 1 0 -3.6 0M149.21 180.48a1.8 1.8 0 1 0 3.6 0a1.8 1.8 0 1 0 -3.6 0M159.52 169.3a1.8 1.8 0 1 0 3.6 0a1.8 1.8 0 1 0 -3.6 0M137.62 200.77a1.8 1.8 0 1 0 3.6 0a1.8 1.8 0 1 0 -3.6 0M150.58 190.6a1.8 1.8 0 1 0 3.6 0a1.8 1.8 0 1 0 -3.6 0M131.17 181.57a1.8 1.8 0 1 0 3.6 0a1.8 1.8 0 1 0 -3.6 0M122.17 178.53a1.8 1.8 0 1 0 3.6 0a1.8 1.8 0 1 0 -3.6 0M120.09 159.15a1.8 1.8 0 1 0 3.6 0a1.8 1.8 0 1 0 -3.6 0M130.2 165.27a1.8 1.8 0 1 0 3.6 0a1.8 1.8 0 1 0 -3.6 0M144.77 160.53a1.8 1.8 0 1 0 3.6 0a1.8 1.8 0 1 0 -3.6 0M132.74 169.28a1.8 1.8 0 1 0 3.6 0a1.8 1.8 0 1 0 -3.6 0M131.69 197.22a1.8 1.8 0 1 0 3.6 0a1.8 1.8 0 1 0 -3.6 0M135.21 195.04a1.8 1.8 0 1 0 3.6 0a1.8 1.8 0 1 0 -3.6 0M121.07 167.53a1.8 1.8 0 1 0 3.6 0a1.8 1.8 0 1 0 -3.6 0M134.9 183.38a1.8 1.8 0 1 0 3.6 0a1.8 1.8 0 1 0 -3.6 0M133.98 190.83a1.8 1.8 0 1 0 3.6 0a1.8 1.8 0 1 0 -3.6 0M127.45 176.14a1.8 1.8 0 1 0 3.6 0a1.8 1.8 0 1 0 -3.6 0M129.42 175.9a1.8 1.8 0 1 0 3.6 0a1.8 1.8 0 1 0 -3.6 0M150.08 163.45a1.8 1.8 0 1 0 3.6 0a1.8 1.8 0 1 0 -3.6 0M130.73 179.86a1.8 1.8 0 1 0 3.6 0a1.8 1.8 0 1 0 -3.6 0M112 162a1.8 1.8 0 1 0 3.6 0a1.8 1.8 0 1 0 -3.6 0M145.82 164.94a1.8 1.8 0 1 0 3.6 0a1.8 1.8 0 1 0 -3.6 0M145.08 181.33a1.8 1.8 0 1 0 3.6 0a1.8 1.8 0 1 0 -3.6 0M141.54 196.86a1.8 1.8 0 1 0 3.6 0a1.8 1.8 0 1 0 -3.6 0M118.61 177.81a1.8 1.8 0 1 0 3.6 0a1.8 1.8 0 1 0 -3.6 0M129.55 191.76a1.8 1.8 0 1 0 3.6 0a1.8 1.8 0 1 0 -3.6 0M145.93 188.86a1.8 1.8 0 1 0 3.6 0a1.8 1.8 0 1 0 -3.6 0M125.92 161.58a1.8 1.8 0 1 0 3.6 0a1.8 1.8 0 1 0 -3.6 0M137.88 204.04a1.8 1.8 0 1 0 3.6 0a1.8 1.8 0 1 0 -3.6 0M148.05 178.25a1.8 1.8 0 1 0 3.6 0a1.8 1.8 0 1 0 -3.6 0M135.32 200.41a1.8 1.8 0 1 0 3.6 0a1.8 1.8 0 1 0 -3.6 0M145.95 175.07a1.8 1.8 0 1 0 3.6 0a1.8 1.8 0 1 0 -3.6 0M124.85 184.43a1.8 1.8 0 1 0 3.6 0a1.8 1.8 0 1 0 -3.6 0M147.36 194.01a1.8 1.8 0 1 0 3.6 0a1.8 1.8 0 1 0 -3.6 0M144.71 193.09a1.8 1.8 0 1 0 3.6 0a1.8 1.8 0 1 0 -3.6 0M153.65 185.2a1.8 1.8 0 1 0 3.6 0a1.8 1.8 0 1 0 -3.6 0M131.86 182.22a1.8 1.8 0 1 0 3.6 0a1.8 1.8 0 1 0 -3.6 0M127.44 165.51a1.8 1.8 0 1 0 3.6 0a1.8 1.8 0 1 0 -3.6 0M129.9 195.72a1.8 1.8 0 1 0 3.6 0a1.8 1.8 0 1 0 -3.6 0M159.59 167.32a1.8 1.8 0 1 0 3.6 0a1.8 1.8 0 1 0 -3.6 0M153.52 172.99a1.8 1.8 0 1 0 3.6 0a1.8 1.8 0 1 0 -3.6 0M145.75 167.02a1.8 1.8 0 1 0 3.6 0a1.8 1.8 0 1 0 -3.6 0M129.52 166.78a1.8 1.8 0 1 0 3.6 0a1.8 1.8 0 1 0 -3.6 0M122.95 161.72a1.8 1.8 0 1 0 3.6 0a1.8 1.8 0 1 0 -3.6 0M147.25 189.05a1.8 1.8 0 1 0 3.6 0a1.8 1.8 0 1 0 -3.6 0M154.67 162.13a1.8 1.8 0 1 0 3.6 0a1.8 1.8 0 1 0 -3.6 0M139.66 201.5a1.8 1.8 0 1 0 3.6 0a1.8 1.8 0 1 0 -3.6 0M148.84 158.69a1.8 1.8 0 1 0 3.6 0a1.8 1.8 0 1 0 -3.6 0M145.99 196.19a1.8 1.8 0 1 0 3.6 0a1.8 1.8 0 1 0 -3.6 0M146.08 158.55a1.8 1.8 0 1 0 3.6 0a1.8 1.8 0 1 0 -3.6 0M117.14 171a1.8 1.8 0 1 0 3.6 0a1.8 1.8 0 1 0 -3.6 0M158.05 168.99a1.8 1.8 0 1 0 3.6 0a1.8 1.8 0 1 0 -3.6 0M150.82 178.49a1.8 1.8 0 1 0 3.6 0a1.8 1.8 0 1 0 -3.6 0M130.99 182.13a1.8 1.8 0 1 0 3.6 0a1.8 1.8 0 1 0 -3.6 0M134.88 203.22a1.8 1.8 0 1 0 3.6 0a1.8 1.8 0 1 0 -3.6 0M147.01 194.27a1.8 1.8 0 1 0 3.6 0a1.8 1.8 0 1 0 -3.6 0M129.36 172.54a1.8 1.8 0 1 0 3.6 0a1.8 1.8 0 1 0 -3.6 0M130.25 192.27a1.8 1.8 0 1 0 3.6 0a1.8 1.8 0 1 0 -3.6 0M147.03 172.93a1.8 1.8 0 1 0 3.6 0a1.8 1.8 0 1 0 -3.6 0M148.18 161.36a1.8 1.8 0 1 0 3.6 0a1.8 1.8 0 1 0 -3.6 0M162.02 160.15a1.8 1.8 0 1 0 3.6 0a1.8 1.8 0 1 0 -3.6 0M129.22 168.73a1.8 1.8 0 1 0 3.6 0a1.8 1.8 0 1 0 -3.6 0M134.42 180.69a1.8 1.8 0 1 0 3.6 0a1.8 1.8 0 1 0 -3.6 0M150.98 164.48a1.8 1.8 0 1 0 3.6 0a1.8 1.8 0 1 0 -3.6 0M130.84 170.14a1.8 1.8 0 1 0 3.6 0a1.8 1.8 0 1 0 -3.6 0M130.35 177.94a1.8 1.8 0 1 0 3.6 0a1.8 1.8 0 1 0 -3.6 0M136.45 201.27a1.8 1.8 0 1 0 3.6 0a1.8 1.8 0 1 0 -3.6 0M150.35 180.48a1.8 1.8 0 1 0 3.6 0a1.8 1.8 0 1 0 -3.6 0M133.25 185.75a1.8 1.8 0 1 0 3.6 0a1.8 1.8 0 1 0 -3.6 0M142.98 182.97a1.8 1.8 0 1 0 3.6 0a1.8 1.8 0 1 0 -3.6 0M150.89 184.88a1.8 1.8 0 1 0 3.6 0a1.8 1.8 0 1 0 -3.6 0M155.93 179.16a1.8 1.8 0 1 0 3.6 0a1.8 1.8 0 1 0 -3.6 0M122.45 162.54a1.8 1.8 0 1 0 3.6 0a1.8 1.8 0 1 0 -3.6 0M147.03 157.95a1.8 1.8 0 1 0 3.6 0a1.8 1.8 0 1 0 -3.6 0M131.43 169.12a1.8 1.8 0 1 0 3.6 0a1.8 1.8 0 1 0 -3.6 0M123.96 179.33a1.8 1.8 0 1 0 3.6 0a1.8 1.8 0 1 0 -3.6 0M119.55 171a1.8 1.8 0 1 0 3.6 0a1.8 1.8 0 1 0 -3.6 0M148.64 174.77a1.8 1.8 0 1 0 3.6 0a1.8 1.8 0 1 0 -3.6 0M130.03 184.91a1.8 1.8 0 1 0 3.6 0a1.8 1.8 0 1 0 -3.6 0M145.12 160.02a1.8 1.8 0 1 0 3.6 0a1.8 1.8 0 1 0 -3.6 0M134.31 201.22a1.8 1.8 0 1 0 3.6 0a1.8 1.8 0 1 0 -3.6 0M130.65 184.67a1.8 1.8 0 1 0 3.6 0a1.8 1.8 0 1 0 -3.6 0M147.15 178.3a1.8 1.8 0 1 0 3.6 0a1.8 1.8 0 1 0 -3.6 0M151.33 174.68a1.8 1.8 0 1 0 3.6 0a1.8 1.8 0 1 0 -3.6 0M139.55 202.26a1.8 1.8 0 1 0 3.6 0a1.8 1.8 0 1 0 -3.6 0M138.11 201.91a1.8 1.8 0 1 0 3.6 0a1.8 1.8 0 1 0 -3.6 0M135.73 201.14a1.8 1.8 0 1 0 3.6 0a1.8 1.8 0 1 0 -3.6 0M145.25 199.73a1.8 1.8 0 1 0 3.6 0a1.8 1.8 0 1 0 -3.6 0M145.25 182.37a1.8 1.8 0 1 0 3.6 0a1.8 1.8 0 1 0 -3.6 0M126.95 158.61a1.8 1.8 0 1 0 3.6 0a1.8 1.8 0 1 0 -3.6 0M144.29 194.62a1.8 1.8 0 1 0 3.6 0a1.8 1.8 0 1 0 -3.6 0M124.11 185.93a1.8 1.8 0 1 0 3.6 0a1.8 1.8 0 1 0 -3.6 0M146.86 192.97a1.8 1.8 0 1 0 3.6 0a1.8 1.8 0 1 0 -3.6 0M130.36 184.16a1.8 1.8 0 1 0 3.6 0a1.8 1.8 0 1 0 -3.6 0M127.51 183.95a1.8 1.8 0 1 0 3.6 0a1.8 1.8 0 1 0 -3.6 0M125.93 185.9a1.8 1.8 0 1 0 3.6 0a1.8 1.8 0 1 0 -3.6 0M123.23 183.85a1.8 1.8 0 1 0 3.6 0a1.8 1.8 0 1 0 -3.6 0M122.92 183.87a1.8 1.8 0 1 0 3.6 0a1.8 1.8 0 1 0 -3.6 0M150.39 158.97a1.8 1.8 0 1 0 3.6 0a1.8 1.8 0 1 0 -3.6 0M146.4 173.65a1.8 1.8 0 1 0 3.6 0a1.8 1.8 0 1 0 -3.6 0M152.99 171.13a1.8 1.8 0 1 0 3.6 0a1.8 1.8 0 1 0 -3.6 0M123.15 173.76a1.8 1.8 0 1 0 3.6 0a1.8 1.8 0 1 0 -3.6 0M144.64 194.39a1.8 1.8 0 1 0 3.6 0a1.8 1.8 0 1 0 -3.6 0M117.15 158.79a1.8 1.8 0 1 0 3.6 0a1.8 1.8 0 1 0 -3.6 0M135.21 203.47a1.8 1.8 0 1 0 3.6 0a1.8 1.8 0 1 0 -3.6 0M142.28 192.87a1.8 1.8 0 1 0 3.6 0a1.8 1.8 0 1 0 -3.6 0M143.17 186.49a1.8 1.8 0 1 0 3.6 0a1.8 1.8 0 1 0 -3.6 0M121.32 162.05a1.8 1.8 0 1 0 3.6 0a1.8 1.8 0 1 0 -3.6 0M149.23 166.46a1.8 1.8 0 1 0 3.6 0a1.8 1.8 0 1 0 -3.6 0M153.21 177.49a1.8 1.8 0 1 0 3.6 0a1.8 1.8 0 1 0 -3.6 0M146.35 170.05a1.8 1.8 0 1 0 3.6 0a1.8 1.8 0 1 0 -3.6 0M150.72 172.03a1.8 1.8 0 1 0 3.6 0a1.8 1.8 0 1 0 -3.6 0M115.16 158.45a1.8 1.8 0 1 0 3.6 0a1.8 1.8 0 1 0 -3.6 0M151.31 189.89a1.8 1.8 0 1 0 3.6 0a1.8 1.8 0 1 0 -3.6 0M145.24 192.19a1.8 1.8 0 1 0 3.6 0a1.8 1.8 0 1 0 -3.6 0M126.73 181.97a1.8 1.8 0 1 0 3.6 0a1.8 1.8 0 1 0 -3.6 0M147.95 162.98a1.8 1.8 0 1 0 3.6 0a1.8 1.8 0 1 0 -3.6 0M131.22 167.2a1.8 1.8 0 1 0 3.6 0a1.8 1.8 0 1 0 -3.6 0M126.58 176.76a1.8 1.8 0 1 0 3.6 0a1.8 1.8 0 1 0 -3.6 0M162.12 158.25a1.8 1.8 0 1 0 3.6 0a1.8 1.8 0 1 0 -3.6 0M141.85 188.61a1.8 1.8 0 1 0 3.6 0a1.8 1.8 0 1 0 -3.6 0M147.46 191.01a1.8 1.8 0 1 0 3.6 0a1.8 1.8 0 1 0 -3.6 0M128.87 166.12a1.8 1.8 0 1 0 3.6 0a1.8 1.8 0 1 0 -3.6 0M141.58 188.34a1.8 1.8 0 1 0 3.6 0a1.8 1.8 0 1 0 -3.6 0M142.56 187.6a1.8 1.8 0 1 0 3.6 0a1.8 1.8 0 1 0 -3.6 0M150.74 190.52a1.8 1.8 0 1 0 3.6 0a1.8 1.8 0 1 0 -3.6 0M135.61 193.32a1.8 1.8 0 1 0 3.6 0a1.8 1.8 0 1 0 -3.6 0M143.95 200.59a1.8 1.8 0 1 0 3.6 0a1.8 1.8 0 1 0 -3.6 0M129.87 192.65a1.8 1.8 0 1 0 3.6 0a1.8 1.8 0 1 0 -3.6 0M143.79 203.01a1.8 1.8 0 1 0 3.6 0a1.8 1.8 0 1 0 -3.6 0M145.91 195.05a1.8 1.8 0 1 0 3.6 0a1.8 1.8 0 1 0 -3.6 0M142.89 189.33a1.8 1.8 0 1 0 3.6 0a1.8 1.8 0 1 0 -3.6 0M129.95 182.97a1.8 1.8 0 1 0 3.6 0a1.8 1.8 0 1 0 -3.6 0M153.21 166.9a1.8 1.8 0 1 0 3.6 0a1.8 1.8 0 1 0 -3.6 0M128.55 158.45a1.8 1.8 0 1 0 3.6 0a1.8 1.8 0 1 0 -3.6 0M117.37 176.1a1.8 1.8 0 1 0 3.6 0a1.8 1.8 0 1 0 -3.6 0M131.76 189.13a1.8 1.8 0 1 0 3.6 0a1.8 1.8 0 1 0 -3.6 0M154.76 166.16a1.8 1.8 0 1 0 3.6 0a1.8 1.8 0 1 0 -3.6 0M131.77 196.84a1.8 1.8 0 1 0 3.6 0a1.8 1.8 0 1 0 -3.6 0M147.74 194.84a1.8 1.8 0 1 0 3.6 0a1.8 1.8 0 1 0 -3.6 0M135.01 194.37a1.8 1.8 0 1 0 3.6 0a1.8 1.8 0 1 0 -3.6 0M121.35 171.39a1.8 1.8 0 1 0 3.6 0a1.8 1.8 0 1 0 -3.6 0M142.13 201.58a1.8 1.8 0 1 0 3.6 0a1.8 1.8 0 1 0 -3.6 0M133.97 177.83a1.8 1.8 0 1 0 3.6 0a1.8 1.8 0 1 0 -3.6 0M147.28 188.59a1.8 1.8 0 1 0 3.6 0a1.8 1.8 0 1 0 -3.6 0M131.47 164.49a1.8 1.8 0 1 0 3.6 0a1.8 1.8 0 1 0 -3.6 0M139.49 203.3a1.8 1.8 0 1 0 3.6 0a1.8 1.8 0 1 0 -3.6 0M147 192.28a1.8 1.8 0 1 0 3.6 0a1.8 1.8 0 1 0 -3.6 0M133.53 190a1.8 1.8 0 1 0 3.6 0a1.8 1.8 0 1 0 -3.6 0M130.07 178.86a1.8 1.8 0 1 0 3.6 0a1.8 1.8 0 1 0 -3.6 0M134.53 193.36a1.8 1.8 0 1 0 3.6 0a1.8 1.8 0 1 0 -3.6 0M136.17 203.49a1.8 1.8 0 1 0 3.6 0a1.8 1.8 0 1 0 -3.6 0M127.94 192.46a1.8 1.8 0 1 0 3.6 0a1.8 1.8 0 1 0 -3.6 0M131.8 183.2a1.8 1.8 0 1 0 3.6 0a1.8 1.8 0 1 0 -3.6 0M154.06 163.29a1.8 1.8 0 1 0 3.6 0a1.8 1.8 0 1 0 -3.6 0M149.47 174.21a1.8 1.8 0 1 0 3.6 0a1.8 1.8 0 1 0 -3.6 0M129.88 185.81a1.8 1.8 0 1 0 3.6 0a1.8 1.8 0 1 0 -3.6 0M148.02 183.22a1.8 1.8 0 1 0 3.6 0a1.8 1.8 0 1 0 -3.6 0M146.27 168.04a1.8 1.8 0 1 0 3.6 0a1.8 1.8 0 1 0 -3.6 0M138.43 203.25a1.8 1.8 0 1 0 3.6 0a1.8 1.8 0 1 0 -3.6 0M147.26 167.66a1.8 1.8 0 1 0 3.6 0a1.8 1.8 0 1 0 -3.6 0M146.84 195.95a1.8 1.8 0 1 0 3.6 0a1.8 1.8 0 1 0 -3.6 0M154.12 173.06a1.8 1.8 0 1 0 3.6 0a1.8 1.8 0 1 0 -3.6 0M128.58 183.87a1.8 1.8 0 1 0 3.6 0a1.8 1.8 0 1 0 -3.6 0M160.38 163.61a1.8 1.8 0 1 0 3.6 0a1.8 1.8 0 1 0 -3.6 0M129.31 165.78a1.8 1.8 0 1 0 3.6 0a1.8 1.8 0 1 0 -3.6 0M152.49 159.23a1.8 1.8 0 1 0 3.6 0a1.8 1.8 0 1 0 -3.6 0M145.63 190.58a1.8 1.8 0 1 0 3.6 0a1.8 1.8 0 1 0 -3.6 0M108.98 158.29a1.8 1.8 0 1 0 3.6 0a1.8 1.8 0 1 0 -3.6 0M137.21 203.6a1.8 1.8 0 1 0 3.6 0a1.8 1.8 0 1 0 -3.6 0M125.47 175.16a1.8 1.8 0 1 0 3.6 0a1.8 1.8 0 1 0 -3.6 0M116.37 160.76a1.8 1.8 0 1 0 3.6 0a1.8 1.8 0 1 0 -3.6 0M144.25 177.42a1.8 1.8 0 1 0 3.6 0a1.8 1.8 0 1 0 -3.6 0M150.07 183.44a1.8 1.8 0 1 0 3.6 0a1.8 1.8 0 1 0 -3.6 0M132.38 194.81a1.8 1.8 0 1 0 3.6 0a1.8 1.8 0 1 0 -3.6 0M147.4 189.34a1.8 1.8 0 1 0 3.6 0a1.8 1.8 0 1 0 -3.6 0M135.79 203.42a1.8 1.8 0 1 0 3.6 0a1.8 1.8 0 1 0 -3.6 0M130.22 194.92a1.8 1.8 0 1 0 3.6 0a1.8 1.8 0 1 0 -3.6 0M146.47 189.47a1.8 1.8 0 1 0 3.6 0a1.8 1.8 0 1 0 -3.6 0M140.85 199.92a1.8 1.8 0 1 0 3.6 0a1.8 1.8 0 1 0 -3.6 0M156.31 166.79a1.8 1.8 0 1 0 3.6 0a1.8 1.8 0 1 0 -3.6 0M133.96 201.8a1.8 1.8 0 1 0 3.6 0a1.8 1.8 0 1 0 -3.6 0M137.1 198.21a1.8 1.8 0 1 0 3.6 0a1.8 1.8 0 1 0 -3.6 0M129.54 197.19a1.8 1.8 0 1 0 3.6 0a1.8 1.8 0 1 0 -3.6 0M126.93 190.05a1.8 1.8 0 1 0 3.6 0a1.8 1.8 0 1 0 -3.6 0M144.66 196.26a1.8 1.8 0 1 0 3.6 0a1.8 1.8 0 1 0 -3.6 0M121.54 160.96a1.8 1.8 0 1 0 3.6 0a1.8 1.8 0 1 0 -3.6 0M143.6 187.21a1.8 1.8 0 1 0 3.6 0a1.8 1.8 0 1 0 -3.6 0M125.72 171.56a1.8 1.8 0 1 0 3.6 0a1.8 1.8 0 1 0 -3.6 0M127.6 159.36a1.8 1.8 0 1 0 3.6 0a1.8 1.8 0 1 0 -3.6 0M145.01 161.82a1.8 1.8 0 1 0 3.6 0a1.8 1.8 0 1 0 -3.6 0M135.01 196.17a1.8 1.8 0 1 0 3.6 0a1.8 1.8 0 1 0 -3.6 0M161.54 165.34a1.8 1.8 0 1 0 3.6 0a1.8 1.8 0 1 0 -3.6 0M147.68 173.72a1.8 1.8 0 1 0 3.6 0a1.8 1.8 0 1 0 -3.6 0M132.96 171.45a1.8 1.8 0 1 0 3.6 0a1.8 1.8 0 1 0 -3.6 0M128.32 182.12a1.8 1.8 0 1 0 3.6 0a1.8 1.8 0 1 0 -3.6 0M132.94 202.16a1.8 1.8 0 1 0 3.6 0a1.8 1.8 0 1 0 -3.6 0M134.48 187.75a1.8 1.8 0 1 0 3.6 0a1.8 1.8 0 1 0 -3.6 0M144.34 177.39a1.8 1.8 0 1 0 3.6 0a1.8 1.8 0 1 0 -3.6 0M124.2 181.74a1.8 1.8 0 1 0 3.6 0a1.8 1.8 0 1 0 -3.6 0M132.48 178.68a1.8 1.8 0 1 0 3.6 0a1.8 1.8 0 1 0 -3.6 0M117.26 171.1a1.8 1.8 0 1 0 3.6 0a1.8 1.8 0 1 0 -3.6 0M136.48 202.79a1.8 1.8 0 1 0 3.6 0a1.8 1.8 0 1 0 -3.6 0M156.32 165.37a1.8 1.8 0 1 0 3.6 0a1.8 1.8 0 1 0 -3.6 0M143.99 169.36a1.8 1.8 0 1 0 3.6 0a1.8 1.8 0 1 0 -3.6 0M130.82 166.27a1.8 1.8 0 1 0 3.6 0a1.8 1.8 0 1 0 -3.6 0M133.99 202.63a1.8 1.8 0 1 0 3.6 0a1.8 1.8 0 1 0 -3.6 0M135.22 187.3a1.8 1.8 0 1 0 3.6 0a1.8 1.8 0 1 0 -3.6 0M160.1 165.25a1.8 1.8 0 1 0 3.6 0a1.8 1.8 0 1 0 -3.6 0M137.31 202.63a1.8 1.8 0 1 0 3.6 0a1.8 1.8 0 1 0 -3.6 0M135.57 195.96a1.8 1.8 0 1 0 3.6 0a1.8 1.8 0 1 0 -3.6 0M132.15 175.12a1.8 1.8 0 1 0 3.6 0a1.8 1.8 0 1 0 -3.6 0M133.21 180.08a1.8 1.8 0 1 0 3.6 0a1.8 1.8 0 1 0 -3.6 0M129.54 178.54a1.8 1.8 0 1 0 3.6 0a1.8 1.8 0 1 0 -3.6 0M127.27 182.95a1.8 1.8 0 1 0 3.6 0a1.8 1.8 0 1 0 -3.6 0M136.55 195.86a1.8 1.8 0 1 0 3.6 0a1.8 1.8 0 1 0 -3.6 0M149.66 163.26a1.8 1.8 0 1 0 3.6 0a1.8 1.8 0 1 0 -3.6 0M143.49 179.78a1.8 1.8 0 1 0 3.6 0a1.8 1.8 0 1 0 -3.6 0M144.91 187.19a1.8 1.8 0 1 0 3.6 0a1.8 1.8 0 1 0 -3.6 0M143.59 171.95a1.8 1.8 0 1 0 3.6 0a1.8 1.8 0 1 0 -3.6 0M128.76 191.74a1.8 1.8 0 1 0 3.6 0a1.8 1.8 0 1 0 -3.6 0M159.42 168.24a1.8 1.8 0 1 0 3.6 0a1.8 1.8 0 1 0 -3.6 0M129.99 196.2a1.8 1.8 0 1 0 3.6 0a1.8 1.8 0 1 0 -3.6 0M113.41 169.14a1.8 1.8 0 1 0 3.6 0a1.8 1.8 0 1 0 -3.6 0M148 170.34a1.8 1.8 0 1 0 3.6 0a1.8 1.8 0 1 0 -3.6 0M155.93 176.77a1.8 1.8 0 1 0 3.6 0a1.8 1.8 0 1 0 -3.6 0M157.43 178.12a1.8 1.8 0 1 0 3.6 0a1.8 1.8 0 1 0 -3.6 0M161.05 165.6a1.8 1.8 0 1 0 3.6 0a1.8 1.8 0 1 0 -3.6 0M133.61 198.06a1.8 1.8 0 1 0 3.6 0a1.8 1.8 0 1 0 -3.6 0M140.16 198.6a1.8 1.8 0 1 0 3.6 0a1.8 1.8 0 1 0 -3.6 0M129.92 175.67a1.8 1.8 0 1 0 3.6 0a1.8 1.8 0 1 0 -3.6 0M128.06 176.71a1.8 1.8 0 1 0 3.6 0a1.8 1.8 0 1 0 -3.6 0M147.31 164.73a1.8 1.8 0 1 0 3.6 0a1.8 1.8 0 1 0 -3.6 0M142.86 188.01a1.8 1.8 0 1 0 3.6 0a1.8 1.8 0 1 0 -3.6 0M122.71 165.12a1.8 1.8 0 1 0 3.6 0a1.8 1.8 0 1 0 -3.6 0M135.69 189.22a1.8 1.8 0 1 0 3.6 0a1.8 1.8 0 1 0 -3.6 0M137.86 204.03a1.8 1.8 0 1 0 3.6 0a1.8 1.8 0 1 0 -3.6 0M145.42 158.24a1.8 1.8 0 1 0 3.6 0a1.8 1.8 0 1 0 -3.6 0M125.98 171.51a1.8 1.8 0 1 0 3.6 0a1.8 1.8 0 1 0 -3.6 0M158.57 171.2a1.8 1.8 0 1 0 3.6 0a1.8 1.8 0 1 0 -3.6 0M131.22 185.44a1.8 1.8 0 1 0 3.6 0a1.8 1.8 0 1 0 -3.6 0M145.08 190.44a1.8 1.8 0 1 0 3.6 0a1.8 1.8 0 1 0 -3.6 0M120.01 172.97a1.8 1.8 0 1 0 3.6 0a1.8 1.8 0 1 0 -3.6 0M119.81 159.43a1.8 1.8 0 1 0 3.6 0a1.8 1.8 0 1 0 -3.6 0M134.46 197.25a1.8 1.8 0 1 0 3.6 0a1.8 1.8 0 1 0 -3.6 0M144.27 196.31a1.8 1.8 0 1 0 3.6 0a1.8 1.8 0 1 0 -3.6 0M143.56 173.49a1.8 1.8 0 1 0 3.6 0a1.8 1.8 0 1 0 -3.6 0M135.3 200.05a1.8 1.8 0 1 0 3.6 0a1.8 1.8 0 1 0 -3.6 0M152.15 166.31a1.8 1.8 0 1 0 3.6 0a1.8 1.8 0 1 0 -3.6 0M131.35 164.78a1.8 1.8 0 1 0 3.6 0a1.8 1.8 0 1 0 -3.6 0M131.27 175.06a1.8 1.8 0 1 0 3.6 0a1.8 1.8 0 1 0 -3.6 0M138.26 202.94a1.8 1.8 0 1 0 3.6 0a1.8 1.8 0 1 0 -3.6 0M126.46 180.27a1.8 1.8 0 1 0 3.6 0a1.8 1.8 0 1 0 -3.6 0M131.47 166.32a1.8 1.8 0 1 0 3.6 0a1.8 1.8 0 1 0 -3.6 0M156.64 173.65a1.8 1.8 0 1 0 3.6 0a1.8 1.8 0 1 0 -3.6 0M154.54 179.2a1.8 1.8 0 1 0 3.6 0a1.8 1.8 0 1 0 -3.6 0M146.32 173.36a1.8 1.8 0 1 0 3.6 0a1.8 1.8 0 1 0 -3.6 0M150.13 168.72a1.8 1.8 0 1 0 3.6 0a1.8 1.8 0 1 0 -3.6 0M137.79 203.7a1.8 1.8 0 1 0 3.6 0a1.8 1.8 0 1 0 -3.6 0M127 176.96a1.8 1.8 0 1 0 3.6 0a1.8 1.8 0 1 0 -3.6 0M135.17 201.74a1.8 1.8 0 1 0 3.6 0a1.8 1.8 0 1 0 -3.6 0M155.02 173.13a1.8 1.8 0 1 0 3.6 0a1.8 1.8 0 1 0 -3.6 0M131.58 191.48a1.8 1.8 0 1 0 3.6 0a1.8 1.8 0 1 0 -3.6 0M114.29 167.29a1.8 1.8 0 1 0 3.6 0a1.8 1.8 0 1 0 -3.6 0M129.24 182.5a1.8 1.8 0 1 0 3.6 0a1.8 1.8 0 1 0 -3.6 0M141.69 188.39a1.8 1.8 0 1 0 3.6 0a1.8 1.8 0 1 0 -3.6 0M127.59 186.43a1.8 1.8 0 1 0 3.6 0a1.8 1.8 0 1 0 -3.6 0M134.59 197.76a1.8 1.8 0 1 0 3.6 0a1.8 1.8 0 1 0 -3.6 0M148.03 176.93a1.8 1.8 0 1 0 3.6 0a1.8 1.8 0 1 0 -3.6 0M126.7 191.25a1.8 1.8 0 1 0 3.6 0a1.8 1.8 0 1 0 -3.6 0M128.92 194.97a1.8 1.8 0 1 0 3.6 0a1.8 1.8 0 1 0 -3.6 0M133.76 182.55a1.8 1.8 0 1 0 3.6 0a1.8 1.8 0 1 0 -3.6 0M144.85 163.13a1.8 1.8 0 1 0 3.6 0a1.8 1.8 0 1 0 -3.6 0M127.22 173.46a1.8 1.8 0 1 0 3.6 0a1.8 1.8 0 1 0 -3.6 0M118.36 176.79a1.8 1.8 0 1 0 3.6 0a1.8 1.8 0 1 0 -3.6 0M127.32 189.41a1.8 1.8 0 1 0 3.6 0a1.8 1.8 0 1 0 -3.6 0M133.69 199.58a1.8 1.8 0 1 0 3.6 0a1.8 1.8 0 1 0 -3.6 0M152.04 183.15a1.8 1.8 0 1 0 3.6 0a1.8 1.8 0 1 0 -3.6 0M131.99 195.27a1.8 1.8 0 1 0 3.6 0a1.8 1.8 0 1 0 -3.6 0M122.19 183.14a1.8 1.8 0 1 0 3.6 0a1.8 1.8 0 1 0 -3.6 0M140.99 195.18a1.8 1.8 0 1 0 3.6 0a1.8 1.8 0 1 0 -3.6 0M154.22 161.53a1.8 1.8 0 1 0 3.6 0a1.8 1.8 0 1 0 -3.6 0M150.57 190.09a1.8 1.8 0 1 0 3.6 0a1.8 1.8 0 1 0 -3.6 0M124.51 167.73a1.8 1.8 0 1 0 3.6 0a1.8 1.8 0 1 0 -3.6 0M146.84 198.23a1.8 1.8 0 1 0 3.6 0a1.8 1.8 0 1 0 -3.6 0M122.63 164.36a1.8 1.8 0 1 0 3.6 0a1.8 1.8 0 1 0 -3.6 0M128.16 190.23a1.8 1.8 0 1 0 3.6 0a1.8 1.8 0 1 0 -3.6 0M126.66 169.44a1.8 1.8 0 1 0 3.6 0a1.8 1.8 0 1 0 -3.6 0M149.24 172.45a1.8 1.8 0 1 0 3.6 0a1.8 1.8 0 1 0 -3.6 0M136.74 199.18a1.8 1.8 0 1 0 3.6 0a1.8 1.8 0 1 0 -3.6 0M120.92 166.22a1.8 1.8 0 1 0 3.6 0a1.8 1.8 0 1 0 -3.6 0M134.28 188.06a1.8 1.8 0 1 0 3.6 0a1.8 1.8 0 1 0 -3.6 0M146.07 159.05a1.8 1.8 0 1 0 3.6 0a1.8 1.8 0 1 0 -3.6 0M151.93 172.15a1.8 1.8 0 1 0 3.6 0a1.8 1.8 0 1 0 -3.6 0M158.13 168.93a1.8 1.8 0 1 0 3.6 0a1.8 1.8 0 1 0 -3.6 0M118.96 159.29a1.8 1.8 0 1 0 3.6 0a1.8 1.8 0 1 0 -3.6 0M132.14 187.61a1.8 1.8 0 1 0 3.6 0a1.8 1.8 0 1 0 -3.6 0M129.24 174.79a1.8 1.8 0 1 0 3.6 0a1.8 1.8 0 1 0 -3.6 0M154.88 165.24a1.8 1.8 0 1 0 3.6 0a1.8 1.8 0 1 0 -3.6 0M120.74 165.39a1.8 1.8 0 1 0 3.6 0a1.8 1.8 0 1 0 -3.6 0M135.71 193.25a1.8 1.8 0 1 0 3.6 0a1.8 1.8 0 1 0 -3.6 0M147.54 167.56a1.8 1.8 0 1 0 3.6 0a1.8 1.8 0 1 0 -3.6 0M134.48 187.42a1.8 1.8 0 1 0 3.6 0a1.8 1.8 0 1 0 -3.6 0M143.59 175.22a1.8 1.8 0 1 0 3.6 0a1.8 1.8 0 1 0 -3.6 0M142.28 193.1a1.8 1.8 0 1 0 3.6 0a1.8 1.8 0 1 0 -3.6 0M124.29 163.74a1.8 1.8 0 1 0 3.6 0a1.8 1.8 0 1 0 -3.6 0M133.69 195.49a1.8 1.8 0 1 0 3.6 0a1.8 1.8 0 1 0 -3.6 0M141.17 192.02a1.8 1.8 0 1 0 3.6 0a1.8 1.8 0 1 0 -3.6 0M146.58 175.19a1.8 1.8 0 1 0 3.6 0a1.8 1.8 0 1 0 -3.6 0M136.29 195.94a1.8 1.8 0 1 0 3.6 0a1.8 1.8 0 1 0 -3.6 0M143.88 167.86a1.8 1.8 0 1 0 3.6 0a1.8 1.8 0 1 0 -3.6 0M144.98 183.94a1.8 1.8 0 1 0 3.6 0a1.8 1.8 0 1 0 -3.6 0M137.03 202.74a1.8 1.8 0 1 0 3.6 0a1.8 1.8 0 1 0 -3.6 0M111.38 159.17a1.8 1.8 0 1 0 3.6 0a1.8 1.8 0 1 0 -3.6 0M145.43 164.21a1.8 1.8 0 1 0 3.6 0a1.8 1.8 0 1 0 -3.6 0M123.18 167.11a1.8 1.8 0 1 0 3.6 0a1.8 1.8 0 1 0 -3.6 0M135.64 200.09a1.8 1.8 0 1 0 3.6 0a1.8 1.8 0 1 0 -3.6 0M143.88 197.51a1.8 1.8 0 1 0 3.6 0a1.8 1.8 0 1 0 -3.6 0M156.98 162.8a1.8 1.8 0 1 0 3.6 0a1.8 1.8 0 1 0 -3.6 0M120.91 174.86a1.8 1.8 0 1 0 3.6 0a1.8 1.8 0 1 0 -3.6 0M125.66 173.74a1.8 1.8 0 1 0 3.6 0a1.8 1.8 0 1 0 -3.6 0M126.81 185.79a1.8 1.8 0 1 0 3.6 0a1.8 1.8 0 1 0 -3.6 0M155.05 172.8a1.8 1.8 0 1 0 3.6 0a1.8 1.8 0 1 0 -3.6 0M131.09 166.27a1.8 1.8 0 1 0 3.6 0a1.8 1.8 0 1 0 -3.6 0M133.15 202.23a1.8 1.8 0 1 0 3.6 0a1.8 1.8 0 1 0 -3.6 0M131.76 190.59a1.8 1.8 0 1 0 3.6 0a1.8 1.8 0 1 0 -3.6 0M122.54 178.72a1.8 1.8 0 1 0 3.6 0a1.8 1.8 0 1 0 -3.6 0M149.5 189.57a1.8 1.8 0 1 0 3.6 0a1.8 1.8 0 1 0 -3.6 0M138.96 204.06a1.8 1.8 0 1 0 3.6 0a1.8 1.8 0 1 0 -3.6 0M128.53 163.44a1.8 1.8 0 1 0 3.6 0a1.8 1.8 0 1 0 -3.6 0M153.79 168.99a1.8 1.8 0 1 0 3.6 0a1.8 1.8 0 1 0 -3.6 0M143.34 185.81a1.8 1.8 0 1 0 3.6 0a1.8 1.8 0 1 0 -3.6 0M126.52 183.51a1.8 1.8 0 1 0 3.6 0a1.8 1.8 0 1 0 -3.6 0M136.75 199.68a1.8 1.8 0 1 0 3.6 0a1.8 1.8 0 1 0 -3.6 0M142.42 180.2a1.8 1.8 0 1 0 3.6 0a1.8 1.8 0 1 0 -3.6 0M150.07 158.44a1.8 1.8 0 1 0 3.6 0a1.8 1.8 0 1 0 -3.6 0M147.51 197.4a1.8 1.8 0 1 0 3.6 0a1.8 1.8 0 1 0 -3.6 0M146.4 196.54a1.8 1.8 0 1 0 3.6 0a1.8 1.8 0 1 0 -3.6 0M130.69 160.87a1.8 1.8 0 1 0 3.6 0a1.8 1.8 0 1 0 -3.6 0M130.09 197.14a1.8 1.8 0 1 0 3.6 0a1.8 1.8 0 1 0 -3.6 0M130.77 162.19a1.8 1.8 0 1 0 3.6 0a1.8 1.8 0 1 0 -3.6 0M128.82 188.61a1.8 1.8 0 1 0 3.6 0a1.8 1.8 0 1 0 -3.6 0M149.03 171.32a1.8 1.8 0 1 0 3.6 0a1.8 1.8 0 1 0 -3.6 0M131.17 183.77a1.8 1.8 0 1 0 3.6 0a1.8 1.8 0 1 0 -3.6 0M150.5 183.85a1.8 1.8 0 1 0 3.6 0a1.8 1.8 0 1 0 -3.6 0M142.19 189.82a1.8 1.8 0 1 0 3.6 0a1.8 1.8 0 1 0 -3.6 0M136.84 202.31a1.8 1.8 0 1 0 3.6 0a1.8 1.8 0 1 0 -3.6 0M136.71 202.83a1.8 1.8 0 1 0 3.6 0a1.8 1.8 0 1 0 -3.6 0M144.81 160.62a1.8 1.8 0 1 0 3.6 0a1.8 1.8 0 1 0 -3.6 0M133.36 190.26a1.8 1.8 0 1 0 3.6 0a1.8 1.8 0 1 0 -3.6 0M145.77 198.36a1.8 1.8 0 1 0 3.6 0a1.8 1.8 0 1 0 -3.6 0M134.78 187.27a1.8 1.8 0 1 0 3.6 0a1.8 1.8 0 1 0 -3.6 0M139.69 203.53a1.8 1.8 0 1 0 3.6 0a1.8 1.8 0 1 0 -3.6 0M144.09 171.13a1.8 1.8 0 1 0 3.6 0a1.8 1.8 0 1 0 -3.6 0M130.75 196.05a1.8 1.8 0 1 0 3.6 0a1.8 1.8 0 1 0 -3.6 0M126.3 170.52a1.8 1.8 0 1 0 3.6 0a1.8 1.8 0 1 0 -3.6 0M126.73 188.5a1.8 1.8 0 1 0 3.6 0a1.8 1.8 0 1 0 -3.6 0M149.35 192.77a1.8 1.8 0 1 0 3.6 0a1.8 1.8 0 1 0 -3.6 0M156.63 176.99a1.8 1.8 0 1 0 3.6 0a1.8 1.8 0 1 0 -3.6 0M141.32 196.85a1.8 1.8 0 1 0 3.6 0a1.8 1.8 0 1 0 -3.6 0M128.53 167.26a1.8 1.8 0 1 0 3.6 0a1.8 1.8 0 1 0 -3.6 0M149.81 184.46a1.8 1.8 0 1 0 3.6 0a1.8 1.8 0 1 0 -3.6 0M147.39 195.39a1.8 1.8 0 1 0 3.6 0a1.8 1.8 0 1 0 -3.6 0M131.72 181.28a1.8 1.8 0 1 0 3.6 0a1.8 1.8 0 1 0 -3.6 0M126.03 191.37a1.8 1.8 0 1 0 3.6 0a1.8 1.8 0 1 0 -3.6 0M143.22 177.26a1.8 1.8 0 1 0 3.6 0a1.8 1.8 0 1 0 -3.6 0M143.12 193.51a1.8 1.8 0 1 0 3.6 0a1.8 1.8 0 1 0 -3.6 0M136.15 194.32a1.8 1.8 0 1 0 3.6 0a1.8 1.8 0 1 0 -3.6 0M145.55 185.84a1.8 1.8 0 1 0 3.6 0a1.8 1.8 0 1 0 -3.6 0M134.28 178.69a1.8 1.8 0 1 0 3.6 0a1.8 1.8 0 1 0 -3.6 0M126.35 173.5a1.8 1.8 0 1 0 3.6 0a1.8 1.8 0 1 0 -3.6 0M135.21 187.45a1.8 1.8 0 1 0 3.6 0a1.8 1.8 0 1 0 -3.6 0M135.29 191.18a1.8 1.8 0 1 0 3.6 0a1.8 1.8 0 1 0 -3.6 0M138.37 202.95a1.8 1.8 0 1 0 3.6 0a1.8 1.8 0 1 0 -3.6 0M124.94 163.68a1.8 1.8 0 1 0 3.6 0a1.8 1.8 0 1 0 -3.6 0M133.81 180.54a1.8 1.8 0 1 0 3.6 0a1.8 1.8 0 1 0 -3.6 0M150.69 168.19a1.8 1.8 0 1 0 3.6 0a1.8 1.8 0 1 0 -3.6 0M145.96 189.02a1.8 1.8 0 1 0 3.6 0a1.8 1.8 0 1 0 -3.6 0M158.88 167.86a1.8 1.8 0 1 0 3.6 0a1.8 1.8 0 1 0 -3.6 0M149.5 171.04a1.8 1.8 0 1 0 3.6 0a1.8 1.8 0 1 0 -3.6 0M148.62 180.18a1.8 1.8 0 1 0 3.6 0a1.8 1.8 0 1 0 -3.6 0M144.33 166.57a1.8 1.8 0 1 0 3.6 0a1.8 1.8 0 1 0 -3.6 0M152.26 169.79a1.8 1.8 0 1 0 3.6 0a1.8 1.8 0 1 0 -3.6 0M123.93 162.27a1.8 1.8 0 1 0 3.6 0a1.8 1.8 0 1 0 -3.6 0M142.7 187.56a1.8 1.8 0 1 0 3.6 0a1.8 1.8 0 1 0 -3.6 0M123.06 178.78a1.8 1.8 0 1 0 3.6 0a1.8 1.8 0 1 0 -3.6 0M145.16 182.26a1.8 1.8 0 1 0 3.6 0a1.8 1.8 0 1 0 -3.6 0M129.33 163.47a1.8 1.8 0 1 0 3.6 0a1.8 1.8 0 1 0 -3.6 0M155.49 170.68a1.8 1.8 0 1 0 3.6 0a1.8 1.8 0 1 0 -3.6 0M129.47 192.16a1.8 1.8 0 1 0 3.6 0a1.8 1.8 0 1 0 -3.6 0M115.38 170.77a1.8 1.8 0 1 0 3.6 0a1.8 1.8 0 1 0 -3.6 0M128.6 180.44a1.8 1.8 0 1 0 3.6 0a1.8 1.8 0 1 0 -3.6 0M125.75 189.28a1.8 1.8 0 1 0 3.6 0a1.8 1.8 0 1 0 -3.6 0M124.32 160.99a1.8 1.8 0 1 0 3.6 0a1.8 1.8 0 1 0 -3.6 0M141.59 192.24a1.8 1.8 0 1 0 3.6 0a1.8 1.8 0 1 0 -3.6 0M131.36 189.49a1.8 1.8 0 1 0 3.6 0a1.8 1.8 0 1 0 -3.6 0M153.76 184.78a1.8 1.8 0 1 0 3.6 0a1.8 1.8 0 1 0 -3.6 0M158.8 161.14a1.8 1.8 0 1 0 3.6 0a1.8 1.8 0 1 0 -3.6 0M133 194.28a1.8 1.8 0 1 0 3.6 0a1.8 1.8 0 1 0 -3.6 0M146.96 174.98a1.8 1.8 0 1 0 3.6 0a1.8 1.8 0 1 0 -3.6 0M131.64 158.22a1.8 1.8 0 1 0 3.6 0a1.8 1.8 0 1 0 -3.6 0M133.55 200.37a1.8 1.8 0 1 0 3.6 0a1.8 1.8 0 1 0 -3.6 0M129.44 165.53a1.8 1.8 0 1 0 3.6 0a1.8 1.8 0 1 0 -3.6 0M148.63 193.65a1.8 1.8 0 1 0 3.6 0a1.8 1.8 0 1 0 -3.6 0M126.55 192.7a1.8 1.8 0 1 0 3.6 0a1.8 1.8 0 1 0 -3.6 0M151.68 159.21a1.8 1.8 0 1 0 3.6 0a1.8 1.8 0 1 0 -3.6 0M150.56 170.04a1.8 1.8 0 1 0 3.6 0a1.8 1.8 0 1 0 -3.6 0M146.61 192.34a1.8 1.8 0 1 0 3.6 0a1.8 1.8 0 1 0 -3.6 0M142.19 189.91a1.8 1.8 0 1 0 3.6 0a1.8 1.8 0 1 0 -3.6 0M128.61 159.24a1.8 1.8 0 1 0 3.6 0a1.8 1.8 0 1 0 -3.6 0M161.21 159.75a1.8 1.8 0 1 0 3.6 0a1.8 1.8 0 1 0 -3.6 0M157.93 165.51a1.8 1.8 0 1 0 3.6 0a1.8 1.8 0 1 0 -3.6 0M123.41 178.61a1.8 1.8 0 1 0 3.6 0a1.8 1.8 0 1 0 -3.6 0M144.34 165.77a1.8 1.8 0 1 0 3.6 0a1.8 1.8 0 1 0 -3.6 0M141.74 201.63a1.8 1.8 0 1 0 3.6 0a1.8 1.8 0 1 0 -3.6 0M150.69 162.97a1.8 1.8 0 1 0 3.6 0a1.8 1.8 0 1 0 -3.6 0M153.05 173.44a1.8 1.8 0 1 0 3.6 0a1.8 1.8 0 1 0 -3.6 0M141.89 187.92a1.8 1.8 0 1 0 3.6 0a1.8 1.8 0 1 0 -3.6 0M157.97 162.66a1.8 1.8 0 1 0 3.6 0a1.8 1.8 0 1 0 -3.6 0M129.97 183.52a1.8 1.8 0 1 0 3.6 0a1.8 1.8 0 1 0 -3.6 0M144.09 173.2a1.8 1.8 0 1 0 3.6 0a1.8 1.8 0 1 0 -3.6 0M137.95 203.97a1.8 1.8 0 1 0 3.6 0a1.8 1.8 0 1 0 -3.6 0M133.43 194.36a1.8 1.8 0 1 0 3.6 0a1.8 1.8 0 1 0 -3.6 0M153 172.51a1.8 1.8 0 1 0 3.6 0a1.8 1.8 0 1 0 -3.6 0M141.93 203.31a1.8 1.8 0 1 0 3.6 0a1.8 1.8 0 1 0 -3.6 0M147.79 170.76a1.8 1.8 0 1 0 3.6 0a1.8 1.8 0 1 0 -3.6 0M128.84 189.23a1.8 1.8 0 1 0 3.6 0a1.8 1.8 0 1 0 -3.6 0M144.69 201.94a1.8 1.8 0 1 0 3.6 0a1.8 1.8 0 1 0 -3.6 0M155.1 173.81a1.8 1.8 0 1 0 3.6 0a1.8 1.8 0 1 0 -3.6 0M162.73 159.78a1.8 1.8 0 1 0 3.6 0a1.8 1.8 0 1 0 -3.6 0M127.55 183.64a1.8 1.8 0 1 0 3.6 0a1.8 1.8 0 1 0 -3.6 0M151.15 175.21a1.8 1.8 0 1 0 3.6 0a1.8 1.8 0 1 0 -3.6 0M126.01 188.11a1.8 1.8 0 1 0 3.6 0a1.8 1.8 0 1 0 -3.6 0M150.67 175.86a1.8 1.8 0 1 0 3.6 0a1.8 1.8 0 1 0 -3.6 0M161.86 164.95a1.8 1.8 0 1 0 3.6 0a1.8 1.8 0 1 0 -3.6 0M146.05 183.51a1.8 1.8 0 1 0 3.6 0a1.8 1.8 0 1 0 -3.6 0M137.41 203.68a1.8 1.8 0 1 0 3.6 0a1.8 1.8 0 1 0 -3.6 0M127.48 158.19a1.8 1.8 0 1 0 3.6 0a1.8 1.8 0 1 0 -3.6 0M129.58 172.72a1.8 1.8 0 1 0 3.6 0a1.8 1.8 0 1 0 -3.6 0M128.83 186.65a1.8 1.8 0 1 0 3.6 0a1.8 1.8 0 1 0 -3.6 0M144.93 185.35a1.8 1.8 0 1 0 3.6 0a1.8 1.8 0 1 0 -3.6 0M121.84 158.92a1.8 1.8 0 1 0 3.6 0a1.8 1.8 0 1 0 -3.6 0M134.43 194.38a1.8 1.8 0 1 0 3.6 0a1.8 1.8 0 1 0 -3.6 0M123.76 162.88a1.8 1.8 0 1 0 3.6 0a1.8 1.8 0 1 0 -3.6 0M127.75 180.62a1.8 1.8 0 1 0 3.6 0a1.8 1.8 0 1 0 -3.6 0M136.9 201.46a1.8 1.8 0 1 0 3.6 0a1.8 1.8 0 1 0 -3.6 0M155.11 166.74a1.8 1.8 0 1 0 3.6 0a1.8 1.8 0 1 0 -3.6 0M152.9 177.27a1.8 1.8 0 1 0 3.6 0a1.8 1.8 0 1 0 -3.6 0M134.35 201.89a1.8 1.8 0 1 0 3.6 0a1.8 1.8 0 1 0 -3.6 0M156.92 165.57a1.8 1.8 0 1 0 3.6 0a1.8 1.8 0 1 0 -3.6 0M144.29 197.44a1.8 1.8 0 1 0 3.6 0a1.8 1.8 0 1 0 -3.6 0M117.64 176.81a1.8 1.8 0 1 0 3.6 0a1.8 1.8 0 1 0 -3.6 0M119.91 181.26a1.8 1.8 0 1 0 3.6 0a1.8 1.8 0 1 0 -3.6 0M127.98 187.12a1.8 1.8 0 1 0 3.6 0a1.8 1.8 0 1 0 -3.6 0M134.06 192.86a1.8 1.8 0 1 0 3.6 0a1.8 1.8 0 1 0 -3.6 0M123.98 176.69a1.8 1.8 0 1 0 3.6 0a1.8 1.8 0 1 0 -3.6 0M159.94 162.41a1.8 1.8 0 1 0 3.6 0a1.8 1.8 0 1 0 -3.6 0M114.97 161.63a1.8 1.8 0 1 0 3.6 0a1.8 1.8 0 1 0 -3.6 0M139.78 200.42a1.8 1.8 0 1 0 3.6 0a1.8 1.8 0 1 0 -3.6 0M140.1 200.01a1.8 1.8 0 1 0 3.6 0a1.8 1.8 0 1 0 -3.6 0M143.4 171.46a1.8 1.8 0 1 0 3.6 0a1.8 1.8 0 1 0 -3.6 0M115.36 167.81a1.8 1.8 0 1 0 3.6 0a1.8 1.8 0 1 0 -3.6 0M125.51 166.6a1.8 1.8 0 1 0 3.6 0a1.8 1.8 0 1 0 -3.6 0M139.04 203.02a1.8 1.8 0 1 0 3.6 0a1.8 1.8 0 1 0 -3.6 0M150.97 180.52a1.8 1.8 0 1 0 3.6 0a1.8 1.8 0 1 0 -3.6 0M144.21 199.26a1.8 1.8 0 1 0 3.6 0a1.8 1.8 0 1 0 -3.6 0M146.63 189.68a1.8 1.8 0 1 0 3.6 0a1.8 1.8 0 1 0 -3.6 0M144.11 185.79a1.8 1.8 0 1 0 3.6 0a1.8 1.8 0 1 0 -3.6 0M143.64 191.61a1.8 1.8 0 1 0 3.6 0a1.8 1.8 0 1 0 -3.6 0M130.77 168.87a1.8 1.8 0 1 0 3.6 0a1.8 1.8 0 1 0 -3.6 0M142.58 204.05a1.8 1.8 0 1 0 3.6 0a1.8 1.8 0 1 0 -3.6 0M145.33 158.7a1.8 1.8 0 1 0 3.6 0a1.8 1.8 0 1 0 -3.6 0M132.8 197.2a1.8 1.8 0 1 0 3.6 0a1.8 1.8 0 1 0 -3.6 0M146.03 175.99a1.8 1.8 0 1 0 3.6 0a1.8 1.8 0 1 0 -3.6 0M135.54 194.06a1.8 1.8 0 1 0 3.6 0a1.8 1.8 0 1 0 -3.6 0M136.81 202.99a1.8 1.8 0 1 0 3.6 0a1.8 1.8 0 1 0 -3.6 0M144.11 187.9a1.8 1.8 0 1 0 3.6 0a1.8 1.8 0 1 0 -3.6 0M144.92 166.18a1.8 1.8 0 1 0 3.6 0a1.8 1.8 0 1 0 -3.6 0M143.93 202.95a1.8 1.8 0 1 0 3.6 0a1.8 1.8 0 1 0 -3.6 0M140.09 202.1a1.8 1.8 0 1 0 3.6 0a1.8 1.8 0 1 0 -3.6 0M153.84 172.89a1.8 1.8 0 1 0 3.6 0a1.8 1.8 0 1 0 -3.6 0M127.1 193.55a1.8 1.8 0 1 0 3.6 0a1.8 1.8 0 1 0 -3.6 0M152.63 161.91a1.8 1.8 0 1 0 3.6 0a1.8 1.8 0 1 0 -3.6 0M133.36 202.05a1.8 1.8 0 1 0 3.6 0a1.8 1.8 0 1 0 -3.6 0M137.91 201.39a1.8 1.8 0 1 0 3.6 0a1.8 1.8 0 1 0 -3.6 0M131.62 163.61a1.8 1.8 0 1 0 3.6 0a1.8 1.8 0 1 0 -3.6 0M131.55 188.45a1.8 1.8 0 1 0 3.6 0a1.8 1.8 0 1 0 -3.6 0M143.58 176.27a1.8 1.8 0 1 0 3.6 0a1.8 1.8 0 1 0 -3.6 0M129.12 180.13a1.8 1.8 0 1 0 3.6 0a1.8 1.8 0 1 0 -3.6 0M116.77 167.1a1.8 1.8 0 1 0 3.6 0a1.8 1.8 0 1 0 -3.6 0M129.19 193.57a1.8 1.8 0 1 0 3.6 0a1.8 1.8 0 1 0 -3.6 0M141.23 203.97a1.8 1.8 0 1 0 3.6 0a1.8 1.8 0 1 0 -3.6 0M153.6 171.57a1.8 1.8 0 1 0 3.6 0a1.8 1.8 0 1 0 -3.6 0M132.86 194.5a1.8 1.8 0 1 0 3.6 0a1.8 1.8 0 1 0 -3.6 0M141.51 191.88a1.8 1.8 0 1 0 3.6 0a1.8 1.8 0 1 0 -3.6 0M133.21 172.57a1.8 1.8 0 1 0 3.6 0a1.8 1.8 0 1 0 -3.6 0M145.53 199.08a1.8 1.8 0 1 0 3.6 0a1.8 1.8 0 1 0 -3.6 0M111.21 163.58a1.8 1.8 0 1 0 3.6 0a1.8 1.8 0 1 0 -3.6 0M147.42 196.9a1.8 1.8 0 1 0 3.6 0a1.8 1.8 0 1 0 -3.6 0M135.86 195.17a1.8 1.8 0 1 0 3.6 0a1.8 1.8 0 1 0 -3.6 0M142.91 200.68a1.8 1.8 0 1 0 3.6 0a1.8 1.8 0 1 0 -3.6 0M126.79 182.85a1.8 1.8 0 1 0 3.6 0a1.8 1.8 0 1 0 -3.6 0M133.5 198.36a1.8 1.8 0 1 0 3.6 0a1.8 1.8 0 1 0 -3.6 0M155.12 174.97a1.8 1.8 0 1 0 3.6 0a1.8 1.8 0 1 0 -3.6 0M136.63 198.35a1.8 1.8 0 1 0 3.6 0a1.8 1.8 0 1 0 -3.6 0M122.56 182.16a1.8 1.8 0 1 0 3.6 0a1.8 1.8 0 1 0 -3.6 0M149.5 173.15a1.8 1.8 0 1 0 3.6 0a1.8 1.8 0 1 0 -3.6 0M158.65 162.08a1.8 1.8 0 1 0 3.6 0a1.8 1.8 0 1 0 -3.6 0M127.7 167.2a1.8 1.8 0 1 0 3.6 0a1.8 1.8 0 1 0 -3.6 0M141.58 201.84a1.8 1.8 0 1 0 3.6 0a1.8 1.8 0 1 0 -3.6 0M124.12 158.48a1.8 1.8 0 1 0 3.6 0a1.8 1.8 0 1 0 -3.6 0M156.73 164.29a1.8 1.8 0 1 0 3.6 0a1.8 1.8 0 1 0 -3.6 0M147.61 163.51a1.8 1.8 0 1 0 3.6 0a1.8 1.8 0 1 0 -3.6 0M123.57 176.24a1.8 1.8 0 1 0 3.6 0a1.8 1.8 0 1 0 -3.6 0M130.18 160.13a1.8 1.8 0 1 0 3.6 0a1.8 1.8 0 1 0 -3.6 0M128.31 178.49a1.8 1.8 0 1 0 3.6 0a1.8 1.8 0 1 0 -3.6 0M133.19 200.83a1.8 1.8 0 1 0 3.6 0a1.8 1.8 0 1 0 -3.6 0M149.57 170.39a1.8 1.8 0 1 0 3.6 0a1.8 1.8 0 1 0 -3.6 0M125.07 184.51a1.8 1.8 0 1 0 3.6 0a1.8 1.8 0 1 0 -3.6 0M132.99 178.46a1.8 1.8 0 1 0 3.6 0a1.8 1.8 0 1 0 -3.6 0M134.11 183.69a1.8 1.8 0 1 0 3.6 0a1.8 1.8 0 1 0 -3.6 0M137.41 200.87a1.8 1.8 0 1 0 3.6 0a1.8 1.8 0 1 0 -3.6 0M158.84 166.17a1.8 1.8 0 1 0 3.6 0a1.8 1.8 0 1 0 -3.6 0M131.4 179.23a1.8 1.8 0 1 0 3.6 0a1.8 1.8 0 1 0 -3.6 0M154.21 165.58a1.8 1.8 0 1 0 3.6 0a1.8 1.8 0 1 0 -3.6 0M131.78 175.49a1.8 1.8 0 1 0 3.6 0a1.8 1.8 0 1 0 -3.6 0M153.74 184.95a1.8 1.8 0 1 0 3.6 0a1.8 1.8 0 1 0 -3.6 0M133.9 177.45a1.8 1.8 0 1 0 3.6 0a1.8 1.8 0 1 0 -3.6 0M119.6 178.98a1.8 1.8 0 1 0 3.6 0a1.8 1.8 0 1 0 -3.6 0M136.42 195.26a1.8 1.8 0 1 0 3.6 0a1.8 1.8 0 1 0 -3.6 0M143.89 202.99a1.8 1.8 0 1 0 3.6 0a1.8 1.8 0 1 0 -3.6 0M133.3 197.62a1.8 1.8 0 1 0 3.6 0a1.8 1.8 0 1 0 -3.6 0M148.89 193.46a1.8 1.8 0 1 0 3.6 0a1.8 1.8 0 1 0 -3.6 0M122.86 170.02a1.8 1.8 0 1 0 3.6 0a1.8 1.8 0 1 0 -3.6 0M142.84 191.51a1.8 1.8 0 1 0 3.6 0a1.8 1.8 0 1 0 -3.6 0M159.73 164.14a1.8 1.8 0 1 0 3.6 0a1.8 1.8 0 1 0 -3.6 0M146.94 188.93a1.8 1.8 0 1 0 3.6 0a1.8 1.8 0 1 0 -3.6 0M142.98 192.98a1.8 1.8 0 1 0 3.6 0a1.8 1.8 0 1 0 -3.6 0M133.91 199.4a1.8 1.8 0 1 0 3.6 0a1.8 1.8 0 1 0 -3.6 0M129.43 193.67a1.8 1.8 0 1 0 3.6 0a1.8 1.8 0 1 0 -3.6 0M141.42 198.14a1.8 1.8 0 1 0 3.6 0a1.8 1.8 0 1 0 -3.6 0M150.54 188.11a1.8 1.8 0 1 0 3.6 0a1.8 1.8 0 1 0 -3.6 0M153.32 165.82a1.8 1.8 0 1 0 3.6 0a1.8 1.8 0 1 0 -3.6 0M153.58 160.96a1.8 1.8 0 1 0 3.6 0a1.8 1.8 0 1 0 -3.6 0M130.3 189.93a1.8 1.8 0 1 0 3.6 0a1.8 1.8 0 1 0 -3.6 0M148.36 193.44a1.8 1.8 0 1 0 3.6 0a1.8 1.8 0 1 0 -3.6 0M133.25 171.3a1.8 1.8 0 1 0 3.6 0a1.8 1.8 0 1 0 -3.6 0M125.7 187.95a1.8 1.8 0 1 0 3.6 0a1.8 1.8 0 1 0 -3.6 0M126.14 179.54a1.8 1.8 0 1 0 3.6 0a1.8 1.8 0 1 0 -3.6 0M149.32 179.25a1.8 1.8 0 1 0 3.6 0a1.8 1.8 0 1 0 -3.6 0M133.38 179.27a1.8 1.8 0 1 0 3.6 0a1.8 1.8 0 1 0 -3.6 0M153.97 184.57a1.8 1.8 0 1 0 3.6 0a1.8 1.8 0 1 0 -3.6 0M145.41 191.34a1.8 1.8 0 1 0 3.6 0a1.8 1.8 0 1 0 -3.6 0M124.8 183.9a1.8 1.8 0 1 0 3.6 0a1.8 1.8 0 1 0 -3.6 0M136.63 200.61a1.8 1.8 0 1 0 3.6 0a1.8 1.8 0 1 0 -3.6 0M136.16 195.42a1.8 1.8 0 1 0 3.6 0a1.8 1.8 0 1 0 -3.6 0M125.92 180.64a1.8 1.8 0 1 0 3.6 0a1.8 1.8 0 1 0 -3.6 0M148.57 177.02a1.8 1.8 0 1 0 3.6 0a1.8 1.8 0 1 0 -3.6 0M127.69 176.44a1.8 1.8 0 1 0 3.6 0a1.8 1.8 0 1 0 -3.6 0M121.06 172.82a1.8 1.8 0 1 0 3.6 0a1.8 1.8 0 1 0 -3.6 0M150.63 177.72a1.8 1.8 0 1 0 3.6 0a1.8 1.8 0 1 0 -3.6 0M145.37 179.45a1.8 1.8 0 1 0 3.6 0a1.8 1.8 0 1 0 -3.6 0M127.25 187.69a1.8 1.8 0 1 0 3.6 0a1.8 1.8 0 1 0 -3.6 0M115.19 171.36a1.8 1.8 0 1 0 3.6 0a1.8 1.8 0 1 0 -3.6 0M109.06 158.69a1.8 1.8 0 1 0 3.6 0a1.8 1.8 0 1 0 -3.6 0M133.3 176.02a1.8 1.8 0 1 0 3.6 0a1.8 1.8 0 1 0 -3.6 0M142.61 203.44a1.8 1.8 0 1 0 3.6 0a1.8 1.8 0 1 0 -3.6 0M148.03 176.28a1.8 1.8 0 1 0 3.6 0a1.8 1.8 0 1 0 -3.6 0M152.81 170.27a1.8 1.8 0 1 0 3.6 0a1.8 1.8 0 1 0 -3.6 0M149.31 179.47a1.8 1.8 0 1 0 3.6 0a1.8 1.8 0 1 0 -3.6 0M143.76 200.38a1.8 1.8 0 1 0 3.6 0a1.8 1.8 0 1 0 -3.6 0M146.77 185.12a1.8 1.8 0 1 0 3.6 0a1.8 1.8 0 1 0 -3.6 0M134.82 197.06a1.8 1.8 0 1 0 3.6 0a1.8 1.8 0 1 0 -3.6 0M141.11 197.1a1.8 1.8 0 1 0 3.6 0a1.8 1.8 0 1 0 -3.6 0M125.31 171.69a1.8 1.8 0 1 0 3.6 0a1.8 1.8 0 1 0 -3.6 0M112.8 157.98a1.8 1.8 0 1 0 3.6 0a1.8 1.8 0 1 0 -3.6 0M143.74 203.89a1.8 1.8 0 1 0 3.6 0a1.8 1.8 0 1 0 -3.6 0M146.74 184.16a1.8 1.8 0 1 0 3.6 0a1.8 1.8 0 1 0 -3.6 0M134.22 197.18a1.8 1.8 0 1 0 3.6 0a1.8 1.8 0 1 0 -3.6 0M122.88 164.13a1.8 1.8 0 1 0 3.6 0a1.8 1.8 0 1 0 -3.6 0M152.09 183.09a1.8 1.8 0 1 0 3.6 0a1.8 1.8 0 1 0 -3.6 0M118.07 177.06a1.8 1.8 0 1 0 3.6 0a1.8 1.8 0 1 0 -3.6 0M126.36 177.08a1.8 1.8 0 1 0 3.6 0a1.8 1.8 0 1 0 -3.6 0M120.3 164.24a1.8 1.8 0 1 0 3.6 0a1.8 1.8 0 1 0 -3.6 0M133.48 182.33a1.8 1.8 0 1 0 3.6 0a1.8 1.8 0 1 0 -3.6 0M133.31 194.13a1.8 1.8 0 1 0 3.6 0a1.8 1.8 0 1 0 -3.6 0M124.95 176.97a1.8 1.8 0 1 0 3.6 0a1.8 1.8 0 1 0 -3.6 0M152.33 182.99a1.8 1.8 0 1 0 3.6 0a1.8 1.8 0 1 0 -3.6 0M144.87 193.89a1.8 1.8 0 1 0 3.6 0a1.8 1.8 0 1 0 -3.6 0M128.25 189.42a1.8 1.8 0 1 0 3.6 0a1.8 1.8 0 1 0 -3.6 0M144.09 184.71a1.8 1.8 0 1 0 3.6 0a1.8 1.8 0 1 0 -3.6 0M114.7 164.59a1.8 1.8 0 1 0 3.6 0a1.8 1.8 0 1 0 -3.6 0M128.45 184.63a1.8 1.8 0 1 0 3.6 0a1.8 1.8 0 1 0 -3.6 0M149.05 180.67a1.8 1.8 0 1 0 3.6 0a1.8 1.8 0 1 0 -3.6 0M145.48 160.25a1.8 1.8 0 1 0 3.6 0a1.8 1.8 0 1 0 -3.6 0M131.3 158.41a1.8 1.8 0 1 0 3.6 0a1.8 1.8 0 1 0 -3.6 0M132.63 166.6a1.8 1.8 0 1 0 3.6 0a1.8 1.8 0 1 0 -3.6 0M130.34 196.63a1.8 1.8 0 1 0 3.6 0a1.8 1.8 0 1 0 -3.6 0M138.49 203.35a1.8 1.8 0 1 0 3.6 0a1.8 1.8 0 1 0 -3.6 0M135.97 201.96a1.8 1.8 0 1 0 3.6 0a1.8 1.8 0 1 0 -3.6 0M159.66 159.34a1.8 1.8 0 1 0 3.6 0a1.8 1.8 0 1 0 -3.6 0M151.66 177.47a1.8 1.8 0 1 0 3.6 0a1.8 1.8 0 1 0 -3.6 0M132.64 193.76a1.8 1.8 0 1 0 3.6 0a1.8 1.8 0 1 0 -3.6 0M142.42 199.55a1.8 1.8 0 1 0 3.6 0a1.8 1.8 0 1 0 -3.6 0M130.1 195.55a1.8 1.8 0 1 0 3.6 0a1.8 1.8 0 1 0 -3.6 0M141.48 192.24a1.8 1.8 0 1 0 3.6 0a1.8 1.8 0 1 0 -3.6 0M132.36 193.7a1.8 1.8 0 1 0 3.6 0a1.8 1.8 0 1 0 -3.6 0M122.06 172.86a1.8 1.8 0 1 0 3.6 0a1.8 1.8 0 1 0 -3.6 0M157.51 177.69a1.8 1.8 0 1 0 3.6 0a1.8 1.8 0 1 0 -3.6 0M145.27 189.5a1.8 1.8 0 1 0 3.6 0a1.8 1.8 0 1 0 -3.6 0M134.08 181.29a1.8 1.8 0 1 0 3.6 0a1.8 1.8 0 1 0 -3.6 0M133.66 174.88a1.8 1.8 0 1 0 3.6 0a1.8 1.8 0 1 0 -3.6 0M140.28 200.66a1.8 1.8 0 1 0 3.6 0a1.8 1.8 0 1 0 -3.6 0M144.27 192.7a1.8 1.8 0 1 0 3.6 0a1.8 1.8 0 1 0 -3.6 0M147.42 197.91a1.8 1.8 0 1 0 3.6 0a1.8 1.8 0 1 0 -3.6 0M126.19 175.99a1.8 1.8 0 1 0 3.6 0a1.8 1.8 0 1 0 -3.6 0M155.2 172.15a1.8 1.8 0 1 0 3.6 0a1.8 1.8 0 1 0 -3.6 0M141.39 193.38a1.8 1.8 0 1 0 3.6 0a1.8 1.8 0 1 0 -3.6 0M136.52 198.74a1.8 1.8 0 1 0 3.6 0a1.8 1.8 0 1 0 -3.6 0M119.27 178.86a1.8 1.8 0 1 0 3.6 0a1.8 1.8 0 1 0 -3.6 0M153.8 184.87a1.8 1.8 0 1 0 3.6 0a1.8 1.8 0 1 0 -3.6 0M147.23 183.97a1.8 1.8 0 1 0 3.6 0a1.8 1.8 0 1 0 -3.6 0M127.88 186.45a1.8 1.8 0 1 0 3.6 0a1.8 1.8 0 1 0 -3.6 0M148.58 161.62a1.8 1.8 0 1 0 3.6 0a1.8 1.8 0 1 0 -3.6 0M130.03 180.57a1.8 1.8 0 1 0 3.6 0a1.8 1.8 0 1 0 -3.6 0M125.24 168.79a1.8 1.8 0 1 0 3.6 0a1.8 1.8 0 1 0 -3.6 0M124.55 181.19a1.8 1.8 0 1 0 3.6 0a1.8 1.8 0 1 0 -3.6 0M134.6 193.14a1.8 1.8 0 1 0 3.6 0a1.8 1.8 0 1 0 -3.6 0M123.77 177.15a1.8 1.8 0 1 0 3.6 0a1.8 1.8 0 1 0 -3.6 0M147.68 185.25a1.8 1.8 0 1 0 3.6 0a1.8 1.8 0 1 0 -3.6 0M136.47 199.76a1.8 1.8 0 1 0 3.6 0a1.8 1.8 0 1 0 -3.6 0M145.06 191.12a1.8 1.8 0 1 0 3.6 0a1.8 1.8 0 1 0 -3.6 0M122.48 170.42a1.8 1.8 0 1 0 3.6 0a1.8 1.8 0 1 0 -3.6 0M136.96 199.18a1.8 1.8 0 1 0 3.6 0a1.8 1.8 0 1 0 -3.6 0M144.51 203.15a1.8 1.8 0 1 0 3.6 0a1.8 1.8 0 1 0 -3.6 0M127.35 187.9a1.8 1.8 0 1 0 3.6 0a1.8 1.8 0 1 0 -3.6 0M120.82 174.05a1.8 1.8 0 1 0 3.6 0a1.8 1.8 0 1 0 -3.6 0M133.82 201.37a1.8 1.8 0 1 0 3.6 0a1.8 1.8 0 1 0 -3.6 0M124.72 169.06a1.8 1.8 0 1 0 3.6 0a1.8 1.8 0 1 0 -3.6 0M151.45 167.47a1.8 1.8 0 1 0 3.6 0a1.8 1.8 0 1 0 -3.6 0M135.74 196.23a1.8 1.8 0 1 0 3.6 0a1.8 1.8 0 1 0 -3.6 0M147.55 180.6a1.8 1.8 0 1 0 3.6 0a1.8 1.8 0 1 0 -3.6 0M151.7 175.32a1.8 1.8 0 1 0 3.6 0a1.8 1.8 0 1 0 -3.6 0M147.22 185.91a1.8 1.8 0 1 0 3.6 0a1.8 1.8 0 1 0 -3.6 0M158.38 163.61a1.8 1.8 0 1 0 3.6 0a1.8 1.8 0 1 0 -3.6 0M151.63 168.82a1.8 1.8 0 1 0 3.6 0a1.8 1.8 0 1 0 -3.6 0M130.6 193.41a1.8 1.8 0 1 0 3.6 0a1.8 1.8 0 1 0 -3.6 0M145.06 193.39a1.8 1.8 0 1 0 3.6 0a1.8 1.8 0 1 0 -3.6 0M131.42 176.69a1.8 1.8 0 1 0 3.6 0a1.8 1.8 0 1 0 -3.6 0M149.94 190.86a1.8 1.8 0 1 0 3.6 0a1.8 1.8 0 1 0 -3.6 0M131.84 190.17a1.8 1.8 0 1 0 3.6 0a1.8 1.8 0 1 0 -3.6 0M150.72 185.06a1.8 1.8 0 1 0 3.6 0a1.8 1.8 0 1 0 -3.6 0M154.95 169.04a1.8 1.8 0 1 0 3.6 0a1.8 1.8 0 1 0 -3.6 0M123.91 159.19a1.8 1.8 0 1 0 3.6 0a1.8 1.8 0 1 0 -3.6 0M119.66 174.59a1.8 1.8 0 1 0 3.6 0a1.8 1.8 0 1 0 -3.6 0M147.16 185.59a1.8 1.8 0 1 0 3.6 0a1.8 1.8 0 1 0 -3.6 0M133.24 188.08a1.8 1.8 0 1 0 3.6 0a1.8 1.8 0 1 0 -3.6 0M143.14 182.87a1.8 1.8 0 1 0 3.6 0a1.8 1.8 0 1 0 -3.6 0M157.74 162.53a1.8 1.8 0 1 0 3.6 0a1.8 1.8 0 1 0 -3.6 0M127.22 191.96a1.8 1.8 0 1 0 3.6 0a1.8 1.8 0 1 0 -3.6 0M132.64 201.33a1.8 1.8 0 1 0 3.6 0a1.8 1.8 0 1 0 -3.6 0M155.69 173.53a1.8 1.8 0 1 0 3.6 0a1.8 1.8 0 1 0 -3.6 0M136.37 196.53a1.8 1.8 0 1 0 3.6 0a1.8 1.8 0 1 0 -3.6 0M125.89 187.4a1.8 1.8 0 1 0 3.6 0a1.8 1.8 0 1 0 -3.6 0M141.91 191.52a1.8 1.8 0 1 0 3.6 0a1.8 1.8 0 1 0 -3.6 0M131.31 193.01a1.8 1.8 0 1 0 3.6 0a1.8 1.8 0 1 0 -3.6 0M147.51 177.68a1.8 1.8 0 1 0 3.6 0a1.8 1.8 0 1 0 -3.6 0M153.31 160.89a1.8 1.8 0 1 0 3.6 0a1.8 1.8 0 1 0 -3.6 0M128.14 163.95a1.8 1.8 0 1 0 3.6 0a1.8 1.8 0 1 0 -3.6 0M156.2 179.33a1.8 1.8 0 1 0 3.6 0a1.8 1.8 0 1 0 -3.6 0M116.39 173.27a1.8 1.8 0 1 0 3.6 0a1.8 1.8 0 1 0 -3.6 0M124.97 183.28a1.8 1.8 0 1 0 3.6 0a1.8 1.8 0 1 0 -3.6 0M150 175.69a1.8 1.8 0 1 0 3.6 0a1.8 1.8 0 1 0 -3.6 0M132.54 193.05a1.8 1.8 0 1 0 3.6 0a1.8 1.8 0 1 0 -3.6 0M142.41 188.64a1.8 1.8 0 1 0 3.6 0a1.8 1.8 0 1 0 -3.6 0M136.1 193.17a1.8 1.8 0 1 0 3.6 0a1.8 1.8 0 1 0 -3.6 0M146.73 180.56a1.8 1.8 0 1 0 3.6 0a1.8 1.8 0 1 0 -3.6 0M154.9 162.56a1.8 1.8 0 1 0 3.6 0a1.8 1.8 0 1 0 -3.6 0M143.61 191.66a1.8 1.8 0 1 0 3.6 0a1.8 1.8 0 1 0 -3.6 0M112.75 165.31a1.8 1.8 0 1 0 3.6 0a1.8 1.8 0 1 0 -3.6 0M121.2 173.09a1.8 1.8 0 1 0 3.6 0a1.8 1.8 0 1 0 -3.6 0M134.84 197.54a1.8 1.8 0 1 0 3.6 0a1.8 1.8 0 1 0 -3.6 0M134.65 189.43a1.8 1.8 0 1 0 3.6 0a1.8 1.8 0 1 0 -3.6 0M125.79 186.41a1.8 1.8 0 1 0 3.6 0a1.8 1.8 0 1 0 -3.6 0M145.22 188.55a1.8 1.8 0 1 0 3.6 0a1.8 1.8 0 1 0 -3.6 0M156.42 159.06a1.8 1.8 0 1 0 3.6 0a1.8 1.8 0 1 0 -3.6 0M160.37 165.52a1.8 1.8 0 1 0 3.6 0a1.8 1.8 0 1 0 -3.6 0M142.16 185.81a1.8 1.8 0 1 0 3.6 0a1.8 1.8 0 1 0 -3.6 0M128.98 188.07a1.8 1.8 0 1 0 3.6 0a1.8 1.8 0 1 0 -3.6 0M138.96 203.83a1.8 1.8 0 1 0 3.6 0a1.8 1.8 0 1 0 -3.6 0M124.58 185.36a1.8 1.8 0 1 0 3.6 0a1.8 1.8 0 1 0 -3.6 0M123.51 175.5a1.8 1.8 0 1 0 3.6 0a1.8 1.8 0 1 0 -3.6 0M143.63 193.98a1.8 1.8 0 1 0 3.6 0a1.8 1.8 0 1 0 -3.6 0M127.85 159.96a1.8 1.8 0 1 0 3.6 0a1.8 1.8 0 1 0 -3.6 0M143.87 190.57a1.8 1.8 0 1 0 3.6 0a1.8 1.8 0 1 0 -3.6 0M146.19 193.63a1.8 1.8 0 1 0 3.6 0a1.8 1.8 0 1 0 -3.6 0M126.81 160.7a1.8 1.8 0 1 0 3.6 0a1.8 1.8 0 1 0 -3.6 0M121.37 171.18a1.8 1.8 0 1 0 3.6 0a1.8 1.8 0 1 0 -3.6 0M133.33 173.49a1.8 1.8 0 1 0 3.6 0a1.8 1.8 0 1 0 -3.6 0M135.88 196.58a1.8 1.8 0 1 0 3.6 0a1.8 1.8 0 1 0 -3.6 0M135.91 191.63a1.8 1.8 0 1 0 3.6 0a1.8 1.8 0 1 0 -3.6 0M143.67 180.6a1.8 1.8 0 1 0 3.6 0a1.8 1.8 0 1 0 -3.6 0M139.84 200.23a1.8 1.8 0 1 0 3.6 0a1.8 1.8 0 1 0 -3.6 0M135.66 198.22a1.8 1.8 0 1 0 3.6 0a1.8 1.8 0 1 0 -3.6 0M124.2 168.21a1.8 1.8 0 1 0 3.6 0a1.8 1.8 0 1 0 -3.6 0M125.94 187.62a1.8 1.8 0 1 0 3.6 0a1.8 1.8 0 1 0 -3.6 0M142.3 186.9a1.8 1.8 0 1 0 3.6 0a1.8 1.8 0 1 0 -3.6 0M143.01 184.92a1.8 1.8 0 1 0 3.6 0a1.8 1.8 0 1 0 -3.6 0M145.33 201.08a1.8 1.8 0 1 0 3.6 0a1.8 1.8 0 1 0 -3.6 0M157.19 157.82a1.8 1.8 0 1 0 3.6 0a1.8 1.8 0 1 0 -3.6 0M132.41 176.97a1.8 1.8 0 1 0 3.6 0a1.8 1.8 0 1 0 -3.6 0M123.09 175.04a1.8 1.8 0 1 0 3.6 0a1.8 1.8 0 1 0 -3.6 0M137.96 202.44a1.8 1.8 0 1 0 3.6 0a1.8 1.8 0 1 0 -3.6 0M129.19 169.26a1.8 1.8 0 1 0 3.6 0a1.8 1.8 0 1 0 -3.6 0M147.21 168.38a1.8 1.8 0 1 0 3.6 0a1.8 1.8 0 1 0 -3.6 0M135.05 186.77a1.8 1.8 0 1 0 3.6 0a1.8 1.8 0 1 0 -3.6 0M144.1 202.66a1.8 1.8 0 1 0 3.6 0a1.8 1.8 0 1 0 -3.6 0M148.94 179.67a1.8 1.8 0 1 0 3.6 0a1.8 1.8 0 1 0 -3.6 0M127.32 173.16a1.8 1.8 0 1 0 3.6 0a1.8 1.8 0 1 0 -3.6 0M124.15 176.51a1.8 1.8 0 1 0 3.6 0a1.8 1.8 0 1 0 -3.6 0M142.85 189.04a1.8 1.8 0 1 0 3.6 0a1.8 1.8 0 1 0 -3.6 0M128.44 182.24a1.8 1.8 0 1 0 3.6 0a1.8 1.8 0 1 0 -3.6 0M134.56 201.9a1.8 1.8 0 1 0 3.6 0a1.8 1.8 0 1 0 -3.6 0M129.1 197.07a1.8 1.8 0 1 0 3.6 0a1.8 1.8 0 1 0 -3.6 0M153.62 176.57a1.8 1.8 0 1 0 3.6 0a1.8 1.8 0 1 0 -3.6 0M125.11 159.36a1.8 1.8 0 1 0 3.6 0a1.8 1.8 0 1 0 -3.6 0M125.72 169.65a1.8 1.8 0 1 0 3.6 0a1.8 1.8 0 1 0 -3.6 0M147.4 192.33a1.8 1.8 0 1 0 3.6 0a1.8 1.8 0 1 0 -3.6 0M119.3 164.54a1.8 1.8 0 1 0 3.6 0a1.8 1.8 0 1 0 -3.6 0M145.36 200.87a1.8 1.8 0 1 0 3.6 0a1.8 1.8 0 1 0 -3.6 0M126.8 176.3a1.8 1.8 0 1 0 3.6 0a1.8 1.8 0 1 0 -3.6 0M133.69 185.87a1.8 1.8 0 1 0 3.6 0a1.8 1.8 0 1 0 -3.6 0M132.68 167.74a1.8 1.8 0 1 0 3.6 0a1.8 1.8 0 1 0 -3.6 0M151.56 176.32a1.8 1.8 0 1 0 3.6 0a1.8 1.8 0 1 0 -3.6 0M141.31 196.44a1.8 1.8 0 1 0 3.6 0a1.8 1.8 0 1 0 -3.6 0M133.24 181.36a1.8 1.8 0 1 0 3.6 0a1.8 1.8 0 1 0 -3.6 0M135.12 192.54a1.8 1.8 0 1 0 3.6 0a1.8 1.8 0 1 0 -3.6 0M142.64 202.48a1.8 1.8 0 1 0 3.6 0a1.8 1.8 0 1 0 -3.6 0M143.91 193.23a1.8 1.8 0 1 0 3.6 0a1.8 1.8 0 1 0 -3.6 0M149.56 183.79a1.8 1.8 0 1 0 3.6 0a1.8 1.8 0 1 0 -3.6 0M151.14 183.35a1.8 1.8 0 1 0 3.6 0a1.8 1.8 0 1 0 -3.6 0M128.48 190.65a1.8 1.8 0 1 0 3.6 0a1.8 1.8 0 1 0 -3.6 0M144.6 169.98a1.8 1.8 0 1 0 3.6 0a1.8 1.8 0 1 0 -3.6 0M118.46 170.16a1.8 1.8 0 1 0 3.6 0a1.8 1.8 0 1 0 -3.6 0M160.04 175.32a1.8 1.8 0 1 0 3.6 0a1.8 1.8 0 1 0 -3.6 0M154.29 187.21a1.8 1.8 0 1 0 3.6 0a1.8 1.8 0 1 0 -3.6 0M127.42 202.31a1.8 1.8 0 1 0 3.6 0a1.8 1.8 0 1 0 -3.6 0M117.08 174.96a1.8 1.8 0 1 0 3.6 0a1.8 1.8 0 1 0 -3.6 0M175.04 165.37a1.8 1.8 0 1 0 3.6 0a1.8 1.8 0 1 0 -3.6 0M149.67 194.53a1.8 1.8 0 1 0 3.6 0a1.8 1.8 0 1 0 -3.6 0M118.52 196.12a1.8 1.8 0 1 0 3.6 0a1.8 1.8 0 1 0 -3.6 0M128.73 202.45a1.8 1.8 0 1 0 3.6 0a1.8 1.8 0 1 0 -3.6 0M114.31 168.82a1.8 1.8 0 1 0 3.6 0a1.8 1.8 0 1 0 -3.6 0M181.52 164.58a1.8 1.8 0 1 0 3.6 0a1.8 1.8 0 1 0 -3.6 0M105.51 177.9a1.8 1.8 0 1 0 3.6 0a1.8 1.8 0 1 0 -3.6 0M171.25 174.05a1.8 1.8 0 1 0 3.6 0a1.8 1.8 0 1 0 -3.6 0M161.33 180.83a1.8 1.8 0 1 0 3.6 0a1.8 1.8 0 1 0 -3.6 0M165.22 183.46a1.8 1.8 0 1 0 3.6 0a1.8 1.8 0 1 0 -3.6 0M160.92 176.91a1.8 1.8 0 1 0 3.6 0a1.8 1.8 0 1 0 -3.6 0M168.16 162.61a1.8 1.8 0 1 0 3.6 0a1.8 1.8 0 1 0 -3.6 0M146.61 202.78a1.8 1.8 0 1 0 3.6 0a1.8 1.8 0 1 0 -3.6 0M177.94 159.68a1.8 1.8 0 1 0 3.6 0a1.8 1.8 0 1 0 -3.6 0M101.43 168.95a1.8 1.8 0 1 0 3.6 0a1.8 1.8 0 1 0 -3.6 0M119.52 183.81a1.8 1.8 0 1 0 3.6 0a1.8 1.8 0 1 0 -3.6 0M158.38 187.31a1.8 1.8 0 1 0 3.6 0a1.8 1.8 0 1 0 -3.6 0M114.15 189.26a1.8 1.8 0 1 0 3.6 0a1.8 1.8 0 1 0 -3.6 0M175.32 169.21a1.8 1.8 0 1 0 3.6 0a1.8 1.8 0 1 0 -3.6 0M129.8 201.17a1.8 1.8 0 1 0 3.6 0a1.8 1.8 0 1 0 -3.6 0M152.98 190.35a1.8 1.8 0 1 0 3.6 0a1.8 1.8 0 1 0 -3.6 0M133.24 203.43a1.8 1.8 0 1 0 3.6 0a1.8 1.8 0 1 0 -3.6 0M146.52 202.78a1.8 1.8 0 1 0 3.6 0a1.8 1.8 0 1 0 -3.6 0M111.2 179.01a1.8 1.8 0 1 0 3.6 0a1.8 1.8 0 1 0 -3.6 0M118 179.9a1.8 1.8 0 1 0 3.6 0a1.8 1.8 0 1 0 -3.6 0M127.25 196.89a1.8 1.8 0 1 0 3.6 0a1.8 1.8 0 1 0 -3.6 0M160.92 177.01a1.8 1.8 0 1 0 3.6 0a1.8 1.8 0 1 0 -3.6 0M103.95 176a1.8 1.8 0 1 0 3.6 0a1.8 1.8 0 1 0 -3.6 0M154.76 194.66a1.8 1.8 0 1 0 3.6 0a1.8 1.8 0 1 0 -3.6 0M180.33 167.1a1.8 1.8 0 1 0 3.6 0a1.8 1.8 0 1 0 -3.6 0M169.68 158.46a1.8 1.8 0 1 0 3.6 0a1.8 1.8 0 1 0 -3.6 0M151.71 191.76a1.8 1.8 0 1 0 3.6 0a1.8 1.8 0 1 0 -3.6 0M123.22 195.91a1.8 1.8 0 1 0 3.6 0a1.8 1.8 0 1 0 -3.6 0M163.33 186.18a1.8 1.8 0 1 0 3.6 0a1.8 1.8 0 1 0 -3.6 0M116.39 179.5a1.8 1.8 0 1 0 3.6 0a1.8 1.8 0 1 0 -3.6 0M126.46 201.68a1.8 1.8 0 1 0 3.6 0a1.8 1.8 0 1 0 -3.6 0M110.69 190.3a1.8 1.8 0 1 0 3.6 0a1.8 1.8 0 1 0 -3.6 0M157.63 186.5a1.8 1.8 0 1 0 3.6 0a1.8 1.8 0 1 0 -3.6 0M103.44 159.28a1.8 1.8 0 1 0 3.6 0a1.8 1.8 0 1 0 -3.6 0M96.5 174.14a1.8 1.8 0 1 0 3.6 0a1.8 1.8 0 1 0 -3.6 0M153.49 188.44a1.8 1.8 0 1 0 3.6 0a1.8 1.8 0 1 0 -3.6 0M126.01 200.47a1.8 1.8 0 1 0 3.6 0a1.8 1.8 0 1 0 -3.6 0M172.56 160.5a1.8 1.8 0 1 0 3.6 0a1.8 1.8 0 1 0 -3.6 0M148.34 199.87a1.8 1.8 0 1 0 3.6 0a1.8 1.8 0 1 0 -3.6 0M170.55 167.89a1.8 1.8 0 1 0 3.6 0a1.8 1.8 0 1 0 -3.6 0M128.59 196.19a1.8 1.8 0 1 0 3.6 0a1.8 1.8 0 1 0 -3.6 0M104.56 184.1a1.8 1.8 0 1 0 3.6 0a1.8 1.8 0 1 0 -3.6 0M145.28 201.84a1.8 1.8 0 1 0 3.6 0a1.8 1.8 0 1 0 -3.6 0M147.24 199.32a1.8 1.8 0 1 0 3.6 0a1.8 1.8 0 1 0 -3.6 0M162.74 176.56a1.8 1.8 0 1 0 3.6 0a1.8 1.8 0 1 0 -3.6 0M114.91 187.9a1.8 1.8 0 1 0 3.6 0a1.8 1.8 0 1 0 -3.6 0M162.97 186.89a1.8 1.8 0 1 0 3.6 0a1.8 1.8 0 1 0 -3.6 0M130.1 200.59a1.8 1.8 0 1 0 3.6 0a1.8 1.8 0 1 0 -3.6 0M166.53 160.96a1.8 1.8 0 1 0 3.6 0a1.8 1.8 0 1 0 -3.6 0M114.84 182.88a1.8 1.8 0 1 0 3.6 0a1.8 1.8 0 1 0 -3.6 0M129.18 200.87a1.8 1.8 0 1 0 3.6 0a1.8 1.8 0 1 0 -3.6 0M110.77 179.2a1.8 1.8 0 1 0 3.6 0a1.8 1.8 0 1 0 -3.6 0M152.7 189.68a1.8 1.8 0 1 0 3.6 0a1.8 1.8 0 1 0 -3.6 0M111.96 165.16a1.8 1.8 0 1 0 3.6 0a1.8 1.8 0 1 0 -3.6 0M152.29 190.64a1.8 1.8 0 1 0 3.6 0a1.8 1.8 0 1 0 -3.6 0M106.11 161.88a1.8 1.8 0 1 0 3.6 0a1.8 1.8 0 1 0 -3.6 0M124.21 200.74a1.8 1.8 0 1 0 3.6 0a1.8 1.8 0 1 0 -3.6 0M124.22 195.45a1.8 1.8 0 1 0 3.6 0a1.8 1.8 0 1 0 -3.6 0M115.41 174.48a1.8 1.8 0 1 0 3.6 0a1.8 1.8 0 1 0 -3.6 0M117.88 176.14a1.8 1.8 0 1 0 3.6 0a1.8 1.8 0 1 0 -3.6 0M173.9 171.96a1.8 1.8 0 1 0 3.6 0a1.8 1.8 0 1 0 -3.6 0M109.36 164.52a1.8 1.8 0 1 0 3.6 0a1.8 1.8 0 1 0 -3.6 0M166.85 176.33a1.8 1.8 0 1 0 3.6 0a1.8 1.8 0 1 0 -3.6 0M117.08 178.5a1.8 1.8 0 1 0 3.6 0a1.8 1.8 0 1 0 -3.6 0M127.92 200.18a1.8 1.8 0 1 0 3.6 0a1.8 1.8 0 1 0 -3.6 0M151.88 200.11a1.8 1.8 0 1 0 3.6 0a1.8 1.8 0 1 0 -3.6 0M151.31 197.33a1.8 1.8 0 1 0 3.6 0a1.8 1.8 0 1 0 -3.6 0M132.54 203.84a1.8 1.8 0 1 0 3.6 0a1.8 1.8 0 1 0 -3.6 0M123.45 189.8a1.8 1.8 0 1 0 3.6 0a1.8 1.8 0 1 0 -3.6 0M131.45 203.3a1.8 1.8 0 1 0 3.6 0a1.8 1.8 0 1 0 -3.6 0M158 193.38a1.8 1.8 0 1 0 3.6 0a1.8 1.8 0 1 0 -3.6 0M159.78 180.98a1.8 1.8 0 1 0 3.6 0a1.8 1.8 0 1 0 -3.6 0M165.83 169.26a1.8 1.8 0 1 0 3.6 0a1.8 1.8 0 1 0 -3.6 0M113.76 169.84a1.8 1.8 0 1 0 3.6 0a1.8 1.8 0 1 0 -3.6 0M111.67 184.7a1.8 1.8 0 1 0 3.6 0a1.8 1.8 0 1 0 -3.6 0M117.02 192.45a1.8 1.8 0 1 0 3.6 0a1.8 1.8 0 1 0 -3.6 0M168.94 176.41a1.8 1.8 0 1 0 3.6 0a1.8 1.8 0 1 0 -3.6 0M170.94 172.05a1.8 1.8 0 1 0 3.6 0a1.8 1.8 0 1 0 -3.6 0M175.43 161.58a1.8 1.8 0 1 0 3.6 0a1.8 1.8 0 1 0 -3.6 0M172.54 178.65a1.8 1.8 0 1 0 3.6 0a1.8 1.8 0 1 0 -3.6 0M120.44 190.21a1.8 1.8 0 1 0 3.6 0a1.8 1.8 0 1 0 -3.6 0" fill="none" stroke="#9d9d9d" stroke-width="0.55"/>
<path d="M107.58 146.52a1.8 1.8 0 1 0 3.6 0a1.8 1.8 0 1 0 -3.6 0M126.95 127.23a1.8 1.8 0 1 0 3.6 0a1.8 1.8 0 1 0 -3.6 0M111.54 150.73a1.8 1.8 0 1 0 3.6 0a1.8 1.8 0 1 0 -3.6 0M107.7 142.55a1.8 1.8 0 1 0 3.6 0a1.8 1.8 0 1 0 -3.6 0M125.2 138.64a1.8 1.8 0 1 0 3.6 0a1.8 1.8 0 1 0 -3.6 0M92.8 122.42a1.8 1.8 0 1 0 3.6 0a1.8 1.8 0 1 0 -3.6 0M112.6 154.91a1.8 1.8 0 1 0 3.6 0a1.8 1.8 0 1 0 -3.6 0M106.74 129.06a1.8 1.8 0 1 0 3.6 0a1.8 1.8 0 1 0 -3.6 0M111.92 136.52a1.8 1.8 0 1 0 3.6 0a1.8 1.8 0 1 0 -3.6 0M105.7 95.6a1.8 1.8 0 1 0 3.6 0a1.8 1.8 0 1 0 -3.6 0M99.67 107.06a1.8 1.8 0 1 0 3.6 0a1.8 1.8 0 1 0 -3.6 0M88.04 108.32a1.8 1.8 0 1 0 3.6 0a1.8 1.8 0 1 0 -3.6 0M125.02 155.58a1.8 1.8 0 1 0 3.6 0a1.8 1.8 0 1 0 -3.6 0M105.14 149.83a1.8 1.8 0 1 0 3.6 0a1.8 1.8 0 1 0 -3.6 0M110.62 79.81a1.8 1.8 0 1 0 3.6 0a1.8 1.8 0 1 0 -3.6 0M99.73 137.71a1.8 1.8 0 1 0 3.6 0a1.8 1.8 0 1 0 -3.6 0M105.31 119.03a1.8 1.8 0 1 0 3.6 0a1.8 1.8 0 1 0 -3.6 0M85.83 90.1a1.8 1.8 0 1 0 3.6 0a1.8 1.8 0 1 0 -3.6 0M101.96 154.93a1.8 1.8 0 1 0 3.6 0a1.8 1.8 0 1 0 -3.6 0M110.92 147.4a1.8 1.8 0 1 0 3.6 0a1.8 1.8 0 1 0 -3.6 0M114.83 115.5a1.8 1.8 0 1 0 3.6 0a1.8 1.8 0 1 0 -3.6 0M101.62 146.75a1.8 1.8 0 1 0 3.6 0a1.8 1.8 0 1 0 -3.6 0M89.39 110.4a1.8 1.8 0 1 0 3.6 0a1.8 1.8 0 1 0 -3.6 0M112.27 154.84a1.8 1.8 0 1 0 3.6 0a1.8 1.8 0 1 0 -3.6 0M91.94 117.11a1.8 1.8 0 1 0 3.6 0a1.8 1.8 0 1 0 -3.6 0M115.92 118.7a1.8 1.8 0 1 0 3.6 0a1.8 1.8 0 1 0 -3.6 0M126.04 154.6a1.8 1.8 0 1 0 3.6 0a1.8 1.8 0 1 0 -3.6 0M112.6 148.75a1.8 1.8 0 1 0 3.6 0a1.8 1.8 0 1 0 -3.6 0M125.28 146.03a1.8 1.8 0 1 0 3.6 0a1.8 1.8 0 1 0 -3.6 0M110.53 155.08a1.8 1.8 0 1 0 3.6 0a1.8 1.8 0 1 0 -3.6 0M119.33 106.8a1.8 1.8 0 1 0 3.6 0a1.8 1.8 0 1 0 -3.6 0M96.31 136.01a1.8 1.8 0 1 0 3.6 0a1.8 1.8 0 1 0 -3.6 0M112.73 144.27a1.8 1.8 0 1 0 3.6 0a1.8 1.8 0 1 0 -3.6 0M123.05 107.44a1.8 1.8 0 1 0 3.6 0a1.8 1.8 0 1 0 -3.6 0M92.87 95.37a1.8 1.8 0 1 0 3.6 0a1.8 1.8 0 1 0 -3.6 0M113.49 117.49a1.8 1.8 0 1 0 3.6 0a1.8 1.8 0 1 0 -3.6 0M97.97 137.34a1.8 1.8 0 1 0 3.6 0a1.8 1.8 0 1 0 -3.6 0M129.03 155.9a1.8 1.8 0 1 0 3.6 0a1.8 1.8 0 1 0 -3.6 0M94.74 126.89a1.8 1.8 0 1 0 3.6 0a1.8 1.8 0 1 0 -3.6 0M125.27 152.94a1.8 1.8 0 1 0 3.6 0a1.8 1.8 0 1 0 -3.6 0M103.37 139.17a1.8 1.8 0 1 0 3.6 0a1.8 1.8 0 1 0 -3.6 0M106.02 132.71a1.8 1.8 0 1 0 3.6 0a1.8 1.8 0 1 0 -3.6 0M125.53 156.21a1.8 1.8 0 1 0 3.6 0a1.8 1.8 0 1 0 -3.6 0M103.49 131.16a1.8 1.8 0 1 0 3.6 0a1.8 1.8 0 1 0 -3.6 0M128.61 154.92a1.8 1.8 0 1 0 3.6 0a1.8 1.8 0 1 0 -3.6 0M116.98 146.4a1.8 1.8 0 1 0 3.6 0a1.8 1.8 0 1 0 -3.6 0M124.52 145.55a1.8 1.8 0 1 0 3.6 0a1.8 1.8 0 1 0 -3.6 0M111.85 155.49a1.8 1.8 0 1 0 3.6 0a1.8 1.8 0 1 0 -3.6 0M91.03 64.9a1.8 1.8 0 1 0 3.6 0a1.8 1.8 0 1 0 -3.6 0M114.88 81.7a1.8 1.8 0 1 0 3.6 0a1.8 1.8 0 1 0 -3.6 0M115.02 128.87a1.8 1.8 0 1 0 3.6 0a1.8 1.8 0 1 0 -3.6 0M100.77 101a1.8 1.8 0 1 0 3.6 0a1.8 1.8 0 1 0 -3.6 0M96.59 129.02a1.8 1.8 0 1 0 3.6 0a1.8 1.8 0 1 0 -3.6 0M111.32 63.53a1.8 1.8 0 1 0 3.6 0a1.8 1.8 0 1 0 -3.6 0M126.34 140.4a1.8 1.8 0 1 0 3.6 0a1.8 1.8 0 1 0 -3.6 0M120.49 132.95a1.8 1.8 0 1 0 3.6 0a1.8 1.8 0 1 0 -3.6 0M113.86 121.53a1.8 1.8 0 1 0 3.6 0a1.8 1.8 0 1 0 -3.6 0M105.02 157.58a1.8 1.8 0 1 0 3.6 0a1.8 1.8 0 1 0 -3.6 0M122.96 153.73a1.8 1.8 0 1 0 3.6 0a1.8 1.8 0 1 0 -3.6 0M126.46 135.6a1.8 1.8 0 1 0 3.6 0a1.8 1.8 0 1 0 -3.6 0M99.36 113.06a1.8 1.8 0 1 0 3.6 0a1.8 1.8 0 1 0 -3.6 0M112.26 154.04a1.8 1.8 0 1 0 3.6 0a1.8 1.8 0 1 0 -3.6 0M114.93 153.66a1.8 1.8 0 1 0 3.6 0a1.8 1.8 0 1 0 -3.6 0M122.77 154.85a1.8 1.8 0 1 0 3.6 0a1.8 1.8 0 1 0 -3.6 0M111.4 139.71a1.8 1.8 0 1 0 3.6 0a1.8 1.8 0 1 0 -3.6 0M95.28 125.71a1.8 1.8 0 1 0 3.6 0a1.8 1.8 0 1 0 -3.6 0M118.82 145.46a1.8 1.8 0 1 0 3.6 0a1.8 1.8 0 1 0 -3.6 0M107.87 150.72a1.8 1.8 0 1 0 3.6 0a1.8 1.8 0 1 0 -3.6 0M122.91 143.97a1.8 1.8 0 1 0 3.6 0a1.8 1.8 0 1 0 -3.6 0M117.82 151.36a1.8 1.8 0 1 0 3.6 0a1.8 1.8 0 1 0 -3.6 0M107.14 103.04a1.8 1.8 0 1 0 3.6 0a1.8 1.8 0 1 0 -3.6 0M106.75 106.98a1.8 1.8 0 1 0 3.6 0a1.8 1.8 0 1 0 -3.6 0M119.18 131.46a1.8 1.8 0 1 0 3.6 0a1.8 1.8 0 1 0 -3.6 0M106.12 141.89a1.8 1.8 0 1 0 3.6 0a1.8 1.8 0 1 0 -3.6 0M117.59 155.16a1.8 1.8 0 1 0 3.6 0a1.8 1.8 0 1 0 -3.6 0M121.37 149a1.8 1.8 0 1 0 3.6 0a1.8 1.8 0 1 0 -3.6 0M123.6 145.33a1.8 1.8 0 1 0 3.6 0a1.8 1.8 0 1 0 -3.6 0M126.39 131.83a1.8 1.8 0 1 0 3.6 0a1.8 1.8 0 1 0 -3.6 0M122.33 149.59a1.8 1.8 0 1 0 3.6 0a1.8 1.8 0 1 0 -3.6 0M105.15 151.78a1.8 1.8 0 1 0 3.6 0a1.8 1.8 0 1 0 -3.6 0M95.83 122.73a1.8 1.8 0 1 0 3.6 0a1.8 1.8 0 1 0 -3.6 0M125.39 153.51a1.8 1.8 0 1 0 3.6 0a1.8 1.8 0 1 0 -3.6 0M114.03 146.44a1.8 1.8 0 1 0 3.6 0a1.8 1.8 0 1 0 -3.6 0M92.69 103.48a1.8 1.8 0 1 0 3.6 0a1.8 1.8 0 1 0 -3.6 0M121.83 98.34a1.8 1.8 0 1 0 3.6 0a1.8 1.8 0 1 0 -3.6 0M121.52 156.98a1.8 1.8 0 1 0 3.6 0a1.8 1.8 0 1 0 -3.6 0M128.96 140.88a1.8 1.8 0 1 0 3.6 0a1.8 1.8 0 1 0 -3.6 0M125.72 144.77a1.8 1.8 0 1 0 3.6 0a1.8 1.8 0 1 0 -3.6 0M114.06 95.19a1.8 1.8 0 1 0 3.6 0a1.8 1.8 0 1 0 -3.6 0M124.49 146.21a1.8 1.8 0 1 0 3.6 0a1.8 1.8 0 1 0 -3.6 0M118.7 100.76a1.8 1.8 0 1 0 3.6 0a1.8 1.8 0 1 0 -3.6 0M121.96 140.3a1.8 1.8 0 1 0 3.6 0a1.8 1.8 0 1 0 -3.6 0M99.51 149.27a1.8 1.8 0 1 0 3.6 0a1.8 1.8 0 1 0 -3.6 0M100.33 119.91a1.8 1.8 0 1 0 3.6 0a1.8 1.8 0 1 0 -3.6 0M98.75 144.54a1.8 1.8 0 1 0 3.6 0a1.8 1.8 0 1 0 -3.6 0M88.92 56.16a1.8 1.8 0 1 0 3.6 0a1.8 1.8 0 1 0 -3.6 0M129.08 150.02a1.8 1.8 0 1 0 3.6 0a1.8 1.8 0 1 0 -3.6 0M112.04 134.02a1.8 1.8 0 1 0 3.6 0a1.8 1.8 0 1 0 -3.6 0M85.08 97.72a1.8 1.8 0 1 0 3.6 0a1.8 1.8 0 1 0 -3.6 0M114.96 106.45a1.8 1.8 0 1 0 3.6 0a1.8 1.8 0 1 0 -3.6 0M126.04 129.12a1.8 1.8 0 1 0 3.6 0a1.8 1.8 0 1 0 -3.6 0M101.04 150.77a1.8 1.8 0 1 0 3.6 0a1.8 1.8 0 1 0 -3.6 0M97.69 109.77a1.8 1.8 0 1 0 3.6 0a1.8 1.8 0 1 0 -3.6 0M125.88 125a1.8 1.8 0 1 0 3.6 0a1.8 1.8 0 1 0 -3.6 0M106.73 74.27a1.8 1.8 0 1 0 3.6 0a1.8 1.8 0 1 0 -3.6 0M105.65 113.14a1.8 1.8 0 1 0 3.6 0a1.8 1.8 0 1 0 -3.6 0M111.51 137.55a1.8 1.8 0 1 0 3.6 0a1.8 1.8 0 1 0 -3.6 0M87.11 81.93a1.8 1.8 0 1 0 3.6 0a1.8 1.8 0 1 0 -3.6 0M102.21 142.64a1.8 1.8 0 1 0 3.6 0a1.8 1.8 0 1 0 -3.6 0M120.15 151.99a1.8 1.8 0 1 0 3.6 0a1.8 1.8 0 1 0 -3.6 0M128.5 146.11a1.8 1.8 0 1 0 3.6 0a1.8 1.8 0 1 0 -3.6 0M129.32 142.32a1.8 1.8 0 1 0 3.6 0a1.8 1.8 0 1 0 -3.6 0M80.4 53a1.8 1.8 0 1 0 3.6 0a1.8 1.8 0 1 0 -3.6 0M126.72 138.08a1.8 1.8 0 1 0 3.6 0a1.8 1.8 0 1 0 -3.6 0M106.25 148.58a1.8 1.8 0 1 0 3.6 0a1.8 1.8 0 1 0 -3.6 0M127.2 147.3a1.8 1.8 0 1 0 3.6 0a1.8 1.8 0 1 0 -3.6 0M110.59 140.96a1.8 1.8 0 1 0 3.6 0a1.8 1.8 0 1 0 -3.6 0M119.65 153.73a1.8 1.8 0 1 0 3.6 0a1.8 1.8 0 1 0 -3.6 0M103.32 133.21a1.8 1.8 0 1 0 3.6 0a1.8 1.8 0 1 0 -3.6 0M97.6 142a1.8 1.8 0 1 0 3.6 0a1.8 1.8 0 1 0 -3.6 0M107.03 148.88a1.8 1.8 0 1 0 3.6 0a1.8 1.8 0 1 0 -3.6 0M103.61 155.32a1.8 1.8 0 1 0 3.6 0a1.8 1.8 0 1 0 -3.6 0M122.37 134a1.8 1.8 0 1 0 3.6 0a1.8 1.8 0 1 0 -3.6 0M91.77 106.78a1.8 1.8 0 1 0 3.6 0a1.8 1.8 0 1 0 -3.6 0M104.15 153.61a1.8 1.8 0 1 0 3.6 0a1.8 1.8 0 1 0 -3.6 0M101.79 61.23a1.8 1.8 0 1 0 3.6 0a1.8 1.8 0 1 0 -3.6 0M98.6 110.52a1.8 1.8 0 1 0 3.6 0a1.8 1.8 0 1 0 -3.6 0M115 132.5a1.8 1.8 0 1 0 3.6 0a1.8 1.8 0 1 0 -3.6 0M104.36 146.46a1.8 1.8 0 1 0 3.6 0a1.8 1.8 0 1 0 -3.6 0M90.84 111.63a1.8 1.8 0 1 0 3.6 0a1.8 1.8 0 1 0 -3.6 0M114.18 155.68a1.8 1.8 0 1 0 3.6 0a1.8 1.8 0 1 0 -3.6 0M118.49 120.81a1.8 1.8 0 1 0 3.6 0a1.8 1.8 0 1 0 -3.6 0M104.75 157.18a1.8 1.8 0 1 0 3.6 0a1.8 1.8 0 1 0 -3.6 0M99.19 111.89a1.8 1.8 0 1 0 3.6 0a1.8 1.8 0 1 0 -3.6 0M116.06 145.58a1.8 1.8 0 1 0 3.6 0a1.8 1.8 0 1 0 -3.6 0M120.48 107.16a1.8 1.8 0 1 0 3.6 0a1.8 1.8 0 1 0 -3.6 0M101.12 119a1.8 1.8 0 1 0 3.6 0a1.8 1.8 0 1 0 -3.6 0M98.02 139.01a1.8 1.8 0 1 0 3.6 0a1.8 1.8 0 1 0 -3.6 0M97.25 127.6a1.8 1.8 0 1 0 3.6 0a1.8 1.8 0 1 0 -3.6 0M118.19 151.28a1.8 1.8 0 1 0 3.6 0a1.8 1.8 0 1 0 -3.6 0M114.55 147.36a1.8 1.8 0 1 0 3.6 0a1.8 1.8 0 1 0 -3.6 0M90.23 115.37a1.8 1.8 0 1 0 3.6 0a1.8 1.8 0 1 0 -3.6 0M87.17 84.84a1.8 1.8 0 1 0 3.6 0a1.8 1.8 0 1 0 -3.6 0M82.15 45.51a1.8 1.8 0 1 0 3.6 0a1.8 1.8 0 1 0 -3.6 0M122.29 117.39a1.8 1.8 0 1 0 3.6 0a1.8 1.8 0 1 0 -3.6 0M113.67 141.98a1.8 1.8 0 1 0 3.6 0a1.8 1.8 0 1 0 -3.6 0M103.79 154.45a1.8 1.8 0 1 0 3.6 0a1.8 1.8 0 1 0 -3.6 0M121.86 143.71a1.8 1.8 0 1 0 3.6 0a1.8 1.8 0 1 0 -3.6 0M115.08 155.24a1.8 1.8 0 1 0 3.6 0a1.8 1.8 0 1 0 -3.6 0M99.91 145.4a1.8 1.8 0 1 0 3.6 0a1.8 1.8 0 1 0 -3.6 0M112.52 127.38a1.8 1.8 0 1 0 3.6 0a1.8 1.8 0 1 0 -3.6 0M129.5 152.63a1.8 1.8 0 1 0 3.6 0a1.8 1.8 0 1 0 -3.6 0M105.25 122.56a1.8 1.8 0 1 0 3.6 0a1.8 1.8 0 1 0 -3.6 0M112.07 137.15a1.8 1.8 0 1 0 3.6 0a1.8 1.8 0 1 0 -3.6 0M100.28 141.82a1.8 1.8 0 1 0 3.6 0a1.8 1.8 0 1 0 -3.6 0M124.54 156.09a1.8 1.8 0 1 0 3.6 0a1.8 1.8 0 1 0 -3.6 0M113 110.01a1.8 1.8 0 1 0 3.6 0a1.8 1.8 0 1 0 -3.6 0M116.26 145.62a1.8 1.8 0 1 0 3.6 0a1.8 1.8 0 1 0 -3.6 0M106.32 147.2a1.8 1.8 0 1 0 3.6 0a1.8 1.8 0 1 0 -3.6 0M114.41 154.78a1.8 1.8 0 1 0 3.6 0a1.8 1.8 0 1 0 -3.6 0M113.95 119.9a1.8 1.8 0 1 0 3.6 0a1.8 1.8 0 1 0 -3.6 0M113.23 118.27a1.8 1.8 0 1 0 3.6 0a1.8 1.8 0 1 0 -3.6 0M123.74 128.33a1.8 1.8 0 1 0 3.6 0a1.8 1.8 0 1 0 -3.6 0M112.35 146.26a1.8 1.8 0 1 0 3.6 0a1.8 1.8 0 1 0 -3.6 0M111.77 129.22a1.8 1.8 0 1 0 3.6 0a1.8 1.8 0 1 0 -3.6 0M115.33 156.67a1.8 1.8 0 1 0 3.6 0a1.8 1.8 0 1 0 -3.6 0M112.13 97.15a1.8 1.8 0 1 0 3.6 0a1.8 1.8 0 1 0 -3.6 0M111.49 150.75a1.8 1.8 0 1 0 3.6 0a1.8 1.8 0 1 0 -3.6 0M127.4 149.83a1.8 1.8 0 1 0 3.6 0a1.8 1.8 0 1 0 -3.6 0M112.47 155.49a1.8 1.8 0 1 0 3.6 0a1.8 1.8 0 1 0 -3.6 0M92.43 93.18a1.8 1.8 0 1 0 3.6 0a1.8 1.8 0 1 0 -3.6 0M98.41 130.86a1.8 1.8 0 1 0 3.6 0a1.8 1.8 0 1 0 -3.6 0M112.92 100.74a1.8 1.8 0 1 0 3.6 0a1.8 1.8 0 1 0 -3.6 0M98.52 143.3a1.8 1.8 0 1 0 3.6 0a1.8 1.8 0 1 0 -3.6 0M92.27 71.39a1.8 1.8 0 1 0 3.6 0a1.8 1.8 0 1 0 -3.6 0M115.54 127.74a1.8 1.8 0 1 0 3.6 0a1.8 1.8 0 1 0 -3.6 0M121.34 154.94a1.8 1.8 0 1 0 3.6 0a1.8 1.8 0 1 0 -3.6 0M110.95 149.88a1.8 1.8 0 1 0 3.6 0a1.8 1.8 0 1 0 -3.6 0M105.35 125.58a1.8 1.8 0 1 0 3.6 0a1.8 1.8 0 1 0 -3.6 0M120.29 84.58a1.8 1.8 0 1 0 3.6 0a1.8 1.8 0 1 0 -3.6 0M127.64 150.84a1.8 1.8 0 1 0 3.6 0a1.8 1.8 0 1 0 -3.6 0M100.58 143.85a1.8 1.8 0 1 0 3.6 0a1.8 1.8 0 1 0 -3.6 0M102.92 138.74a1.8 1.8 0 1 0 3.6 0a1.8 1.8 0 1 0 -3.6 0M119.93 151.7a1.8 1.8 0 1 0 3.6 0a1.8 1.8 0 1 0 -3.6 0M113.66 109.3a1.8 1.8 0 1 0 3.6 0a1.8 1.8 0 1 0 -3.6 0M104.68 118.16a1.8 1.8 0 1 0 3.6 0a1.8 1.8 0 1 0 -3.6 0M125.77 125.57a1.8 1.8 0 1 0 3.6 0a1.8 1.8 0 1 0 -3.6 0M98.46 144.31a1.8 1.8 0 1 0 3.6 0a1.8 1.8 0 1 0 -3.6 0M120.72 143.58a1.8 1.8 0 1 0 3.6 0a1.8 1.8 0 1 0 -3.6 0M104.36 130.85a1.8 1.8 0 1 0 3.6 0a1.8 1.8 0 1 0 -3.6 0M108.41 137.81a1.8 1.8 0 1 0 3.6 0a1.8 1.8 0 1 0 -3.6 0M120.7 142.87a1.8 1.8 0 1 0 3.6 0a1.8 1.8 0 1 0 -3.6 0M123.06 147.4a1.8 1.8 0 1 0 3.6 0a1.8 1.8 0 1 0 -3.6 0M123.17 121.95a1.8 1.8 0 1 0 3.6 0a1.8 1.8 0 1 0 -3.6 0M115.74 154.05a1.8 1.8 0 1 0 3.6 0a1.8 1.8 0 1 0 -3.6 0M100.75 111.81a1.8 1.8 0 1 0 3.6 0a1.8 1.8 0 1 0 -3.6 0M118.15 116.87a1.8 1.8 0 1 0 3.6 0a1.8 1.8 0 1 0 -3.6 0M127.85 136.21a1.8 1.8 0 1 0 3.6 0a1.8 1.8 0 1 0 -3.6 0M127.27 135.6a1.8 1.8 0 1 0 3.6 0a1.8 1.8 0 1 0 -3.6 0M127.55 154.11a1.8 1.8 0 1 0 3.6 0a1.8 1.8 0 1 0 -3.6 0M114.76 144.99a1.8 1.8 0 1 0 3.6 0a1.8 1.8 0 1 0 -3.6 0M128.25 150.37a1.8 1.8 0 1 0 3.6 0a1.8 1.8 0 1 0 -3.6 0M102.16 153.9a1.8 1.8 0 1 0 3.6 0a1.8 1.8 0 1 0 -3.6 0M114.84 83.68a1.8 1.8 0 1 0 3.6 0a1.8 1.8 0 1 0 -3.6 0M103.57 151a1.8 1.8 0 1 0 3.6 0a1.8 1.8 0 1 0 -3.6 0M127.26 157.35a1.8 1.8 0 1 0 3.6 0a1.8 1.8 0 1 0 -3.6 0M94.13 126.14a1.8 1.8 0 1 0 3.6 0a1.8 1.8 0 1 0 -3.6 0M86.05 79.25a1.8 1.8 0 1 0 3.6 0a1.8 1.8 0 1 0 -3.6 0M106.9 146.26a1.8 1.8 0 1 0 3.6 0a1.8 1.8 0 1 0 -3.6 0M82.56 74.33a1.8 1.8 0 1 0 3.6 0a1.8 1.8 0 1 0 -3.6 0M82.27 51.01a1.8 1.8 0 1 0 3.6 0a1.8 1.8 0 1 0 -3.6 0M99.38 111.06a1.8 1.8 0 1 0 3.6 0a1.8 1.8 0 1 0 -3.6 0M110.81 141.19a1.8 1.8 0 1 0 3.6 0a1.8 1.8 0 1 0 -3.6 0M96.44 77.48a1.8 1.8 0 1 0 3.6 0a1.8 1.8 0 1 0 -3.6 0M118.19 157.04a1.8 1.8 0 1 0 3.6 0a1.8 1.8 0 1 0 -3.6 0M95.44 95.84a1.8 1.8 0 1 0 3.6 0a1.8 1.8 0 1 0 -3.6 0M98.32 137.89a1.8 1.8 0 1 0 3.6 0a1.8 1.8 0 1 0 -3.6 0M117.21 115.11a1.8 1.8 0 1 0 3.6 0a1.8 1.8 0 1 0 -3.6 0M96.05 121.24a1.8 1.8 0 1 0 3.6 0a1.8 1.8 0 1 0 -3.6 0M103.56 157.62a1.8 1.8 0 1 0 3.6 0a1.8 1.8 0 1 0 -3.6 0M101.86 140.71a1.8 1.8 0 1 0 3.6 0a1.8 1.8 0 1 0 -3.6 0M122.12 157.44a1.8 1.8 0 1 0 3.6 0a1.8 1.8 0 1 0 -3.6 0M123.26 146.86a1.8 1.8 0 1 0 3.6 0a1.8 1.8 0 1 0 -3.6 0M99.65 125.38a1.8 1.8 0 1 0 3.6 0a1.8 1.8 0 1 0 -3.6 0M95.96 126.07a1.8 1.8 0 1 0 3.6 0a1.8 1.8 0 1 0 -3.6 0M122.49 154.16a1.8 1.8 0 1 0 3.6 0a1.8 1.8 0 1 0 -3.6 0M104.03 142.3a1.8 1.8 0 1 0 3.6 0a1.8 1.8 0 1 0 -3.6 0M90.78 117.27a1.8 1.8 0 1 0 3.6 0a1.8 1.8 0 1 0 -3.6 0M102.08 95.48a1.8 1.8 0 1 0 3.6 0a1.8 1.8 0 1 0 -3.6 0M96.77 117.11a1.8 1.8 0 1 0 3.6 0a1.8 1.8 0 1 0 -3.6 0M106.06 135.59a1.8 1.8 0 1 0 3.6 0a1.8 1.8 0 1 0 -3.6 0M91.82 99.7a1.8 1.8 0 1 0 3.6 0a1.8 1.8 0 1 0 -3.6 0M130.09 152.64a1.8 1.8 0 1 0 3.6 0a1.8 1.8 0 1 0 -3.6 0M97.77 120.67a1.8 1.8 0 1 0 3.6 0a1.8 1.8 0 1 0 -3.6 0M104.56 151.46a1.8 1.8 0 1 0 3.6 0a1.8 1.8 0 1 0 -3.6 0M119.3 115.03a1.8 1.8 0 1 0 3.6 0a1.8 1.8 0 1 0 -3.6 0M110.81 152.73a1.8 1.8 0 1 0 3.6 0a1.8 1.8 0 1 0 -3.6 0M121.8 128.3a1.8 1.8 0 1 0 3.6 0a1.8 1.8 0 1 0 -3.6 0M112.12 85.65a1.8 1.8 0 1 0 3.6 0a1.8 1.8 0 1 0 -3.6 0M88.65 103.59a1.8 1.8 0 1 0 3.6 0a1.8 1.8 0 1 0 -3.6 0M109.78 153.92a1.8 1.8 0 1 0 3.6 0a1.8 1.8 0 1 0 -3.6 0M97.81 133.68a1.8 1.8 0 1 0 3.6 0a1.8 1.8 0 1 0 -3.6 0M115.75 140.07a1.8 1.8 0 1 0 3.6 0a1.8 1.8 0 1 0 -3.6 0M104.25 149.79a1.8 1.8 0 1 0 3.6 0a1.8 1.8 0 1 0 -3.6 0M101.28 146.14a1.8 1.8 0 1 0 3.6 0a1.8 1.8 0 1 0 -3.6 0M104.79 156.76a1.8 1.8 0 1 0 3.6 0a1.8 1.8 0 1 0 -3.6 0M109.9 157.24a1.8 1.8 0 1 0 3.6 0a1.8 1.8 0 1 0 -3.6 0M104.41 67.26a1.8 1.8 0 1 0 3.6 0a1.8 1.8 0 1 0 -3.6 0M113.76 130.76a1.8 1.8 0 1 0 3.6 0a1.8 1.8 0 1 0 -3.6 0M106.04 155.78a1.8 1.8 0 1 0 3.6 0a1.8 1.8 0 1 0 -3.6 0M117.97 150.55a1.8 1.8 0 1 0 3.6 0a1.8 1.8 0 1 0 -3.6 0M131.04 157.43a1.8 1.8 0 1 0 3.6 0a1.8 1.8 0 1 0 -3.6 0M118.25 155.03a1.8 1.8 0 1 0 3.6 0a1.8 1.8 0 1 0 -3.6 0M131.76 157.57a1.8 1.8 0 1 0 3.6 0a1.8 1.8 0 1 0 -3.6 0M127.6 152.75a1.8 1.8 0 1 0 3.6 0a1.8 1.8 0 1 0 -3.6 0M114.29 137.81a1.8 1.8 0 1 0 3.6 0a1.8 1.8 0 1 0 -3.6 0M120.3 154.89a1.8 1.8 0 1 0 3.6 0a1.8 1.8 0 1 0 -3.6 0M119.36 153.1a1.8 1.8 0 1 0 3.6 0a1.8 1.8 0 1 0 -3.6 0M129.85 146.31a1.8 1.8 0 1 0 3.6 0a1.8 1.8 0 1 0 -3.6 0M126.73 151.04a1.8 1.8 0 1 0 3.6 0a1.8 1.8 0 1 0 -3.6 0M124.23 151.25a1.8 1.8 0 1 0 3.6 0a1.8 1.8 0 1 0 -3.6 0M126.18 145.29a1.8 1.8 0 1 0 3.6 0a1.8 1.8 0 1 0 -3.6 0M117.14 149.99a1.8 1.8 0 1 0 3.6 0a1.8 1.8 0 1 0 -3.6 0M128.92 145.62a1.8 1.8 0 1 0 3.6 0a1.8 1.8 0 1 0 -3.6 0M129.76 156.24a1.8 1.8 0 1 0 3.6 0a1.8 1.8 0 1 0 -3.6 0M123.32 125.56a1.8 1.8 0 1 0 3.6 0a1.8 1.8 0 1 0 -3.6 0M110.54 135.24a1.8 1.8 0 1 0 3.6 0a1.8 1.8 0 1 0 -3.6 0M126.66 145a1.8 1.8 0 1 0 3.6 0a1.8 1.8 0 1 0 -3.6 0M124.06 143.23a1.8 1.8 0 1 0 3.6 0a1.8 1.8 0 1 0 -3.6 0M121.25 125.28a1.8 1.8 0 1 0 3.6 0a1.8 1.8 0 1 0 -3.6 0M120.56 147.02a1.8 1.8 0 1 0 3.6 0a1.8 1.8 0 1 0 -3.6 0M129.31 147.2a1.8 1.8 0 1 0 3.6 0a1.8 1.8 0 1 0 -3.6 0M126.3 148.85a1.8 1.8 0 1 0 3.6 0a1.8 1.8 0 1 0 -3.6 0M117.97 145.64a1.8 1.8 0 1 0 3.6 0a1.8 1.8 0 1 0 -3.6 0M128.28 155.35a1.8 1.8 0 1 0 3.6 0a1.8 1.8 0 1 0 -3.6 0M113.69 154.66a1.8 1.8 0 1 0 3.6 0a1.8 1.8 0 1 0 -3.6 0M126.2 150.62a1.8 1.8 0 1 0 3.6 0a1.8 1.8 0 1 0 -3.6 0M114.04 122.09a1.8 1.8 0 1 0 3.6 0a1.8 1.8 0 1 0 -3.6 0M123.04 136.9a1.8 1.8 0 1 0 3.6 0a1.8 1.8 0 1 0 -3.6 0M128.4 156.37a1.8 1.8 0 1 0 3.6 0a1.8 1.8 0 1 0 -3.6 0M128.04 156.88a1.8 1.8 0 1 0 3.6 0a1.8 1.8 0 1 0 -3.6 0M125.77 151.42a1.8 1.8 0 1 0 3.6 0a1.8 1.8 0 1 0 -3.6 0M119.31 116.92a1.8 1.8 0 1 0 3.6 0a1.8 1.8 0 1 0 -3.6 0M130.66 155.88a1.8 1.8 0 1 0 3.6 0a1.8 1.8 0 1 0 -3.6 0M124.16 145.66a1.8 1.8 0 1 0 3.6 0a1.8 1.8 0 1 0 -3.6 0M125.63 152.19a1.8 1.8 0 1 0 3.6 0a1.8 1.8 0 1 0 -3.6 0M121.54 152.19a1.8 1.8 0 1 0 3.6 0a1.8 1.8 0 1 0 -3.6 0M130.23 148.23a1.8 1.8 0 1 0 3.6 0a1.8 1.8 0 1 0 -3.6 0M129.11 150.51a1.8 1.8 0 1 0 3.6 0a1.8 1.8 0 1 0 -3.6 0M125.62 148.49a1.8 1.8 0 1 0 3.6 0a1.8 1.8 0 1 0 -3.6 0M111.69 142.54a1.8 1.8 0 1 0 3.6 0a1.8 1.8 0 1 0 -3.6 0M121.6 143.35a1.8 1.8 0 1 0 3.6 0a1.8 1.8 0 1 0 -3.6 0M130.26 150.25a1.8 1.8 0 1 0 3.6 0a1.8 1.8 0 1 0 -3.6 0M128.61 143.82a1.8 1.8 0 1 0 3.6 0a1.8 1.8 0 1 0 -3.6 0M123.83 152.72a1.8 1.8 0 1 0 3.6 0a1.8 1.8 0 1 0 -3.6 0M116.78 154.53a1.8 1.8 0 1 0 3.6 0a1.8 1.8 0 1 0 -3.6 0M112.49 149.38a1.8 1.8 0 1 0 3.6 0a1.8 1.8 0 1 0 -3.6 0M127.03 157.58a1.8 1.8 0 1 0 3.6 0a1.8 1.8 0 1 0 -3.6 0M124.18 153.66a1.8 1.8 0 1 0 3.6 0a1.8 1.8 0 1 0 -3.6 0M122.73 146.67a1.8 1.8 0 1 0 3.6 0a1.8 1.8 0 1 0 -3.6 0M122.78 127.81a1.8 1.8 0 1 0 3.6 0a1.8 1.8 0 1 0 -3.6 0M119.78 152.88a1.8 1.8 0 1 0 3.6 0a1.8 1.8 0 1 0 -3.6 0M128.69 149.19a1.8 1.8 0 1 0 3.6 0a1.8 1.8 0 1 0 -3.6 0M126.25 130.64a1.8 1.8 0 1 0 3.6 0a1.8 1.8 0 1 0 -3.6 0M125.49 156.99a1.8 1.8 0 1 0 3.6 0a1.8 1.8 0 1 0 -3.6 0M113.51 132.04a1.8 1.8 0 1 0 3.6 0a1.8 1.8 0 1 0 -3.6 0M121.19 139.72a1.8 1.8 0 1 0 3.6 0a1.8 1.8 0 1 0 -3.6 0M128.57 150.18a1.8 1.8 0 1 0 3.6 0a1.8 1.8 0 1 0 -3.6 0M127.15 155.89a1.8 1.8 0 1 0 3.6 0a1.8 1.8 0 1 0 -3.6 0M122.28 138.7a1.8 1.8 0 1 0 3.6 0a1.8 1.8 0 1 0 -3.6 0M52.7 126.49a1.8 1.8 0 1 0 3.6 0a1.8 1.8 0 1 0 -3.6 0M54.42 136.82a1.8 1.8 0 1 0 3.6 0a1.8 1.8 0 1 0 -3.6 0M65.6 131.12a1.8 1.8 0 1 0 3.6 0a1.8 1.8 0 1 0 -3.6 0M74.2 135.04a1.8 1.8 0 1 0 3.6 0a1.8 1.8 0 1 0 -3.6 0M65.6 94.45a1.8 1.8 0 1 0 3.6 0a1.8 1.8 0 1 0 -3.6 0M81.08 127.56a1.8 1.8 0 1 0 3.6 0a1.8 1.8 0 1 0 -3.6 0M87.1 142.51a1.8 1.8 0 1 0 3.6 0a1.8 1.8 0 1 0 -3.6 0M89.68 153.55a1.8 1.8 0 1 0 3.6 0a1.8 1.8 0 1 0 -3.6 0M83.66 95.52a1.8 1.8 0 1 0 3.6 0a1.8 1.8 0 1 0 -3.6 0M82.8 88.76a1.8 1.8 0 1 0 3.6 0a1.8 1.8 0 1 0 -3.6 0M80.22 80.92a1.8 1.8 0 1 0 3.6 0a1.8 1.8 0 1 0 -3.6 0M87.1 65.26a1.8 1.8 0 1 0 3.6 0a1.8 1.8 0 1 0 -3.6 0M81.94 106.56a1.8 1.8 0 1 0 3.6 0a1.8 1.8 0 1 0 -3.6 0M81.08 112.96a1.8 1.8 0 1 0 3.6 0a1.8 1.8 0 1 0 -3.6 0M100 72.38a1.8 1.8 0 1 0 3.6 0a1.8 1.8 0 1 0 -3.6 0M107.74 72.38a1.8 1.8 0 1 0 3.6 0a1.8 1.8 0 1 0 -3.6 0M100.86 81.99a1.8 1.8 0 1 0 3.6 0a1.8 1.8 0 1 0 -3.6 0M89.68 40.34a1.8 1.8 0 1 0 3.6 0a1.8 1.8 0 1 0 -3.6 0M165.49 86.85a1.8 1.8 0 1 0 3.6 0a1.8 1.8 0 1 0 -3.6 0M151.37 143.86a1.8 1.8 0 1 0 3.6 0a1.8 1.8 0 1 0 -3.6 0M161.99 148.19a1.8 1.8 0 1 0 3.6 0a1.8 1.8 0 1 0 -3.6 0M148.51 125.98a1.8 1.8 0 1 0 3.6 0a1.8 1.8 0 1 0 -3.6 0M157.32 116.52a1.8 1.8 0 1 0 3.6 0a1.8 1.8 0 1 0 -3.6 0M155.08 149.87a1.8 1.8 0 1 0 3.6 0a1.8 1.8 0 1 0 -3.6 0M153.64 148.08a1.8 1.8 0 1 0 3.6 0a1.8 1.8 0 1 0 -3.6 0M152.18 145.32a1.8 1.8 0 1 0 3.6 0a1.8 1.8 0 1 0 -3.6 0M165.94 112.65a1.8 1.8 0 1 0 3.6 0a1.8 1.8 0 1 0 -3.6 0M147.4 146.17a1.8 1.8 0 1 0 3.6 0a1.8 1.8 0 1 0 -3.6 0M154.51 135.48a1.8 1.8 0 1 0 3.6 0a1.8 1.8 0 1 0 -3.6 0M147.99 156.04a1.8 1.8 0 1 0 3.6 0a1.8 1.8 0 1 0 -3.6 0M151.77 151.99a1.8 1.8 0 1 0 3.6 0a1.8 1.8 0 1 0 -3.6 0M145.39 154.57a1.8 1.8 0 1 0 3.6 0a1.8 1.8 0 1 0 -3.6 0M145.51 152.65a1.8 1.8 0 1 0 3.6 0a1.8 1.8 0 1 0 -3.6 0M160.67 142.98a1.8 1.8 0 1 0 3.6 0a1.8 1.8 0 1 0 -3.6 0M153.37 139.58a1.8 1.8 0 1 0 3.6 0a1.8 1.8 0 1 0 -3.6 0M149.29 132.3a1.8 1.8 0 1 0 3.6 0a1.8 1.8 0 1 0 -3.6 0M152.41 147.88a1.8 1.8 0 1 0 3.6 0a1.8 1.8 0 1 0 -3.6 0M154.87 153.7a1.8 1.8 0 1 0 3.6 0a1.8 1.8 0 1 0 -3.6 0M165.49 112.63a1.8 1.8 0 1 0 3.6 0a1.8 1.8 0 1 0 -3.6 0M161.29 156.62a1.8 1.8 0 1 0 3.6 0a1.8 1.8 0 1 0 -3.6 0M144.74 153.31a1.8 1.8 0 1 0 3.6 0a1.8 1.8 0 1 0 -3.6 0M147.67 140.73a1.8 1.8 0 1 0 3.6 0a1.8 1.8 0 1 0 -3.6 0M150.4 154.3a1.8 1.8 0 1 0 3.6 0a1.8 1.8 0 1 0 -3.6 0M150.11 144.13a1.8 1.8 0 1 0 3.6 0a1.8 1.8 0 1 0 -3.6 0M151.84 145.07a1.8 1.8 0 1 0 3.6 0a1.8 1.8 0 1 0 -3.6 0M156.76 131.08a1.8 1.8 0 1 0 3.6 0a1.8 1.8 0 1 0 -3.6 0M160.07 136.03a1.8 1.8 0 1 0 3.6 0a1.8 1.8 0 1 0 -3.6 0M152.26 146.51a1.8 1.8 0 1 0 3.6 0a1.8 1.8 0 1 0 -3.6 0M144.35 155.69a1.8 1.8 0 1 0 3.6 0a1.8 1.8 0 1 0 -3.6 0M153.37 147.09a1.8 1.8 0 1 0 3.6 0a1.8 1.8 0 1 0 -3.6 0M163.97 153.06a1.8 1.8 0 1 0 3.6 0a1.8 1.8 0 1 0 -3.6 0M148.23 151.74a1.8 1.8 0 1 0 3.6 0a1.8 1.8 0 1 0 -3.6 0M165.43 146.57a1.8 1.8 0 1 0 3.6 0a1.8 1.8 0 1 0 -3.6 0M145.02 154.85a1.8 1.8 0 1 0 3.6 0a1.8 1.8 0 1 0 -3.6 0M147.94 139.92a1.8 1.8 0 1 0 3.6 0a1.8 1.8 0 1 0 -3.6 0M145.14 150.34a1.8 1.8 0 1 0 3.6 0a1.8 1.8 0 1 0 -3.6 0M152.5 113.49a1.8 1.8 0 1 0 3.6 0a1.8 1.8 0 1 0 -3.6 0M146.63 142.44a1.8 1.8 0 1 0 3.6 0a1.8 1.8 0 1 0 -3.6 0M150.59 108.96a1.8 1.8 0 1 0 3.6 0a1.8 1.8 0 1 0 -3.6 0M146.88 136.54a1.8 1.8 0 1 0 3.6 0a1.8 1.8 0 1 0 -3.6 0M146.98 144.33a1.8 1.8 0 1 0 3.6 0a1.8 1.8 0 1 0 -3.6 0M153.69 104.18a1.8 1.8 0 1 0 3.6 0a1.8 1.8 0 1 0 -3.6 0M148.35 125.31a1.8 1.8 0 1 0 3.6 0a1.8 1.8 0 1 0 -3.6 0M165.42 153.03a1.8 1.8 0 1 0 3.6 0a1.8 1.8 0 1 0 -3.6 0M145.13 149.61a1.8 1.8 0 1 0 3.6 0a1.8 1.8 0 1 0 -3.6 0M146.28 152.47a1.8 1.8 0 1 0 3.6 0a1.8 1.8 0 1 0 -3.6 0M147.56 144.48a1.8 1.8 0 1 0 3.6 0a1.8 1.8 0 1 0 -3.6 0M147.99 151.35a1.8 1.8 0 1 0 3.6 0a1.8 1.8 0 1 0 -3.6 0M145.79 146.55a1.8 1.8 0 1 0 3.6 0a1.8 1.8 0 1 0 -3.6 0M150.9 144.83a1.8 1.8 0 1 0 3.6 0a1.8 1.8 0 1 0 -3.6 0M155.88 142.65a1.8 1.8 0 1 0 3.6 0a1.8 1.8 0 1 0 -3.6 0M145.84 147.08a1.8 1.8 0 1 0 3.6 0a1.8 1.8 0 1 0 -3.6 0M150.89 106.84a1.8 1.8 0 1 0 3.6 0a1.8 1.8 0 1 0 -3.6 0M147.1 151.38a1.8 1.8 0 1 0 3.6 0a1.8 1.8 0 1 0 -3.6 0M145.67 148.35a1.8 1.8 0 1 0 3.6 0a1.8 1.8 0 1 0 -3.6 0M149.66 122.72a1.8 1.8 0 1 0 3.6 0a1.8 1.8 0 1 0 -3.6 0M151.83 143.72a1.8 1.8 0 1 0 3.6 0a1.8 1.8 0 1 0 -3.6 0M146.78 155.33a1.8 1.8 0 1 0 3.6 0a1.8 1.8 0 1 0 -3.6 0M148.75 155.29a1.8 1.8 0 1 0 3.6 0a1.8 1.8 0 1 0 -3.6 0M161.4 134.5a1.8 1.8 0 1 0 3.6 0a1.8 1.8 0 1 0 -3.6 0M150.74 107.91a1.8 1.8 0 1 0 3.6 0a1.8 1.8 0 1 0 -3.6 0M152.97 146.89a1.8 1.8 0 1 0 3.6 0a1.8 1.8 0 1 0 -3.6 0M163.66 149.48a1.8 1.8 0 1 0 3.6 0a1.8 1.8 0 1 0 -3.6 0M160.59 145.68a1.8 1.8 0 1 0 3.6 0a1.8 1.8 0 1 0 -3.6 0M146.04 156.58a1.8 1.8 0 1 0 3.6 0a1.8 1.8 0 1 0 -3.6 0M160.42 136.6a1.8 1.8 0 1 0 3.6 0a1.8 1.8 0 1 0 -3.6 0M160.11 145.65a1.8 1.8 0 1 0 3.6 0a1.8 1.8 0 1 0 -3.6 0M149.57 132.43a1.8 1.8 0 1 0 3.6 0a1.8 1.8 0 1 0 -3.6 0M150.8 135.88a1.8 1.8 0 1 0 3.6 0a1.8 1.8 0 1 0 -3.6 0M160.64 155.69a1.8 1.8 0 1 0 3.6 0a1.8 1.8 0 1 0 -3.6 0M164.41 124.71a1.8 1.8 0 1 0 3.6 0a1.8 1.8 0 1 0 -3.6 0M155.82 153.05a1.8 1.8 0 1 0 3.6 0a1.8 1.8 0 1 0 -3.6 0M147.67 157.12a1.8 1.8 0 1 0 3.6 0a1.8 1.8 0 1 0 -3.6 0M148.53 151.41a1.8 1.8 0 1 0 3.6 0a1.8 1.8 0 1 0 -3.6 0M149.72 149.23a1.8 1.8 0 1 0 3.6 0a1.8 1.8 0 1 0 -3.6 0M155.87 147.7a1.8 1.8 0 1 0 3.6 0a1.8 1.8 0 1 0 -3.6 0M147.34 138.73a1.8 1.8 0 1 0 3.6 0a1.8 1.8 0 1 0 -3.6 0M145.07 153.89a1.8 1.8 0 1 0 3.6 0a1.8 1.8 0 1 0 -3.6 0M147.29 150.78a1.8 1.8 0 1 0 3.6 0a1.8 1.8 0 1 0 -3.6 0M156.4 145.33a1.8 1.8 0 1 0 3.6 0a1.8 1.8 0 1 0 -3.6 0M154.23 86.04a1.8 1.8 0 1 0 3.6 0a1.8 1.8 0 1 0 -3.6 0M148.75 151.6a1.8 1.8 0 1 0 3.6 0a1.8 1.8 0 1 0 -3.6 0M150.65 157.7a1.8 1.8 0 1 0 3.6 0a1.8 1.8 0 1 0 -3.6 0M149.67 157.14a1.8 1.8 0 1 0 3.6 0a1.8 1.8 0 1 0 -3.6 0M147.89 142.08a1.8 1.8 0 1 0 3.6 0a1.8 1.8 0 1 0 -3.6 0M156.12 74.7a1.8 1.8 0 1 0 3.6 0a1.8 1.8 0 1 0 -3.6 0M144.14 157.51a1.8 1.8 0 1 0 3.6 0a1.8 1.8 0 1 0 -3.6 0M154.43 152.93a1.8 1.8 0 1 0 3.6 0a1.8 1.8 0 1 0 -3.6 0M148.66 133.88a1.8 1.8 0 1 0 3.6 0a1.8 1.8 0 1 0 -3.6 0M149.3 119.61a1.8 1.8 0 1 0 3.6 0a1.8 1.8 0 1 0 -3.6 0M149.66 153.2a1.8 1.8 0 1 0 3.6 0a1.8 1.8 0 1 0 -3.6 0M157.5 144.27a1.8 1.8 0 1 0 3.6 0a1.8 1.8 0 1 0 -3.6 0M161.33 151.25a1.8 1.8 0 1 0 3.6 0a1.8 1.8 0 1 0 -3.6 0M154.57 140.03a1.8 1.8 0 1 0 3.6 0a1.8 1.8 0 1 0 -3.6 0M146.43 142.62a1.8 1.8 0 1 0 3.6 0a1.8 1.8 0 1 0 -3.6 0M164.45 143.07a1.8 1.8 0 1 0 3.6 0a1.8 1.8 0 1 0 -3.6 0M145.27 157.55a1.8 1.8 0 1 0 3.6 0a1.8 1.8 0 1 0 -3.6 0M145.52 151.26a1.8 1.8 0 1 0 3.6 0a1.8 1.8 0 1 0 -3.6 0M154.49 131.55a1.8 1.8 0 1 0 3.6 0a1.8 1.8 0 1 0 -3.6 0M153.02 155.25a1.8 1.8 0 1 0 3.6 0a1.8 1.8 0 1 0 -3.6 0M149.03 120.31a1.8 1.8 0 1 0 3.6 0a1.8 1.8 0 1 0 -3.6 0M149.81 157.48a1.8 1.8 0 1 0 3.6 0a1.8 1.8 0 1 0 -3.6 0M153.61 119.93a1.8 1.8 0 1 0 3.6 0a1.8 1.8 0 1 0 -3.6 0M147.77 145.27a1.8 1.8 0 1 0 3.6 0a1.8 1.8 0 1 0 -3.6 0M162.95 142.94a1.8 1.8 0 1 0 3.6 0a1.8 1.8 0 1 0 -3.6 0M156.22 141.62a1.8 1.8 0 1 0 3.6 0a1.8 1.8 0 1 0 -3.6 0M161.1 146.66a1.8 1.8 0 1 0 3.6 0a1.8 1.8 0 1 0 -3.6 0M151.21 131.73a1.8 1.8 0 1 0 3.6 0a1.8 1.8 0 1 0 -3.6 0M145.82 151.43a1.8 1.8 0 1 0 3.6 0a1.8 1.8 0 1 0 -3.6 0M159.9 89.06a1.8 1.8 0 1 0 3.6 0a1.8 1.8 0 1 0 -3.6 0M148.15 156.51a1.8 1.8 0 1 0 3.6 0a1.8 1.8 0 1 0 -3.6 0M151.02 147.9a1.8 1.8 0 1 0 3.6 0a1.8 1.8 0 1 0 -3.6 0M161.39 151.89a1.8 1.8 0 1 0 3.6 0a1.8 1.8 0 1 0 -3.6 0M158.77 146.09a1.8 1.8 0 1 0 3.6 0a1.8 1.8 0 1 0 -3.6 0M160.51 152.47a1.8 1.8 0 1 0 3.6 0a1.8 1.8 0 1 0 -3.6 0M150.34 143.75a1.8 1.8 0 1 0 3.6 0a1.8 1.8 0 1 0 -3.6 0M163.8 147.67a1.8 1.8 0 1 0 3.6 0a1.8 1.8 0 1 0 -3.6 0M150.21 143.1a1.8 1.8 0 1 0 3.6 0a1.8 1.8 0 1 0 -3.6 0M147.91 149.78a1.8 1.8 0 1 0 3.6 0a1.8 1.8 0 1 0 -3.6 0M147.39 152.21a1.8 1.8 0 1 0 3.6 0a1.8 1.8 0 1 0 -3.6 0M144.78 152.38a1.8 1.8 0 1 0 3.6 0a1.8 1.8 0 1 0 -3.6 0M145.11 149.73a1.8 1.8 0 1 0 3.6 0a1.8 1.8 0 1 0 -3.6 0M146.66 138.41a1.8 1.8 0 1 0 3.6 0a1.8 1.8 0 1 0 -3.6 0M150.69 115.9a1.8 1.8 0 1 0 3.6 0a1.8 1.8 0 1 0 -3.6 0M149.32 152.18a1.8 1.8 0 1 0 3.6 0a1.8 1.8 0 1 0 -3.6 0M154.12 151.68a1.8 1.8 0 1 0 3.6 0a1.8 1.8 0 1 0 -3.6 0M162.25 151.37a1.8 1.8 0 1 0 3.6 0a1.8 1.8 0 1 0 -3.6 0M144.15 157.06a1.8 1.8 0 1 0 3.6 0a1.8 1.8 0 1 0 -3.6 0M157.24 119.71a1.8 1.8 0 1 0 3.6 0a1.8 1.8 0 1 0 -3.6 0M151.57 152.38a1.8 1.8 0 1 0 3.6 0a1.8 1.8 0 1 0 -3.6 0M148.79 149.87a1.8 1.8 0 1 0 3.6 0a1.8 1.8 0 1 0 -3.6 0M149.12 152.1a1.8 1.8 0 1 0 3.6 0a1.8 1.8 0 1 0 -3.6 0M160.43 139.2a1.8 1.8 0 1 0 3.6 0a1.8 1.8 0 1 0 -3.6 0M149.72 152.55a1.8 1.8 0 1 0 3.6 0a1.8 1.8 0 1 0 -3.6 0M161.16 142.92a1.8 1.8 0 1 0 3.6 0a1.8 1.8 0 1 0 -3.6 0M160.3 146.18a1.8 1.8 0 1 0 3.6 0a1.8 1.8 0 1 0 -3.6 0M152.24 111.77a1.8 1.8 0 1 0 3.6 0a1.8 1.8 0 1 0 -3.6 0M165.07 148.55a1.8 1.8 0 1 0 3.6 0a1.8 1.8 0 1 0 -3.6 0M150.22 142.4a1.8 1.8 0 1 0 3.6 0a1.8 1.8 0 1 0 -3.6 0M153.4 131.06a1.8 1.8 0 1 0 3.6 0a1.8 1.8 0 1 0 -3.6 0M153 144.82a1.8 1.8 0 1 0 3.6 0a1.8 1.8 0 1 0 -3.6 0M146.46 152.42a1.8 1.8 0 1 0 3.6 0a1.8 1.8 0 1 0 -3.6 0M153.23 157.66a1.8 1.8 0 1 0 3.6 0a1.8 1.8 0 1 0 -3.6 0M157.83 126.91a1.8 1.8 0 1 0 3.6 0a1.8 1.8 0 1 0 -3.6 0M162.83 94.44a1.8 1.8 0 1 0 3.6 0a1.8 1.8 0 1 0 -3.6 0M145.42 155.8a1.8 1.8 0 1 0 3.6 0a1.8 1.8 0 1 0 -3.6 0M150.13 112.43a1.8 1.8 0 1 0 3.6 0a1.8 1.8 0 1 0 -3.6 0M160.92 120.38a1.8 1.8 0 1 0 3.6 0a1.8 1.8 0 1 0 -3.6 0M144.78 154.98a1.8 1.8 0 1 0 3.6 0a1.8 1.8 0 1 0 -3.6 0M154.25 134.4a1.8 1.8 0 1 0 3.6 0a1.8 1.8 0 1 0 -3.6 0M148.22 157.28a1.8 1.8 0 1 0 3.6 0a1.8 1.8 0 1 0 -3.6 0M158.99 154.1a1.8 1.8 0 1 0 3.6 0a1.8 1.8 0 1 0 -3.6 0M145.85 144.16a1.8 1.8 0 1 0 3.6 0a1.8 1.8 0 1 0 -3.6 0M145.22 148.86a1.8 1.8 0 1 0 3.6 0a1.8 1.8 0 1 0 -3.6 0M165.38 115.73a1.8 1.8 0 1 0 3.6 0a1.8 1.8 0 1 0 -3.6 0M147.03 135.28a1.8 1.8 0 1 0 3.6 0a1.8 1.8 0 1 0 -3.6 0M151.28 108.32a1.8 1.8 0 1 0 3.6 0a1.8 1.8 0 1 0 -3.6 0M157.18 139.1a1.8 1.8 0 1 0 3.6 0a1.8 1.8 0 1 0 -3.6 0M146.05 143.25a1.8 1.8 0 1 0 3.6 0a1.8 1.8 0 1 0 -3.6 0M154.21 152.8a1.8 1.8 0 1 0 3.6 0a1.8 1.8 0 1 0 -3.6 0M146.04 155.47a1.8 1.8 0 1 0 3.6 0a1.8 1.8 0 1 0 -3.6 0M152.5 109.95a1.8 1.8 0 1 0 3.6 0a1.8 1.8 0 1 0 -3.6 0M151.44 154.88a1.8 1.8 0 1 0 3.6 0a1.8 1.8 0 1 0 -3.6 0M156.69 150.17a1.8 1.8 0 1 0 3.6 0a1.8 1.8 0 1 0 -3.6 0M158.31 149.73a1.8 1.8 0 1 0 3.6 0a1.8 1.8 0 1 0 -3.6 0M148.4 126.74a1.8 1.8 0 1 0 3.6 0a1.8 1.8 0 1 0 -3.6 0M148.53 143.73a1.8 1.8 0 1 0 3.6 0a1.8 1.8 0 1 0 -3.6 0M161.29 155.49a1.8 1.8 0 1 0 3.6 0a1.8 1.8 0 1 0 -3.6 0M151.01 150.37a1.8 1.8 0 1 0 3.6 0a1.8 1.8 0 1 0 -3.6 0M163.03 156.71a1.8 1.8 0 1 0 3.6 0a1.8 1.8 0 1 0 -3.6 0M161.34 87.84a1.8 1.8 0 1 0 3.6 0a1.8 1.8 0 1 0 -3.6 0M151.75 155.33a1.8 1.8 0 1 0 3.6 0a1.8 1.8 0 1 0 -3.6 0M148.6 146.56a1.8 1.8 0 1 0 3.6 0a1.8 1.8 0 1 0 -3.6 0M144.77 153.44a1.8 1.8 0 1 0 3.6 0a1.8 1.8 0 1 0 -3.6 0M154.24 124.65a1.8 1.8 0 1 0 3.6 0a1.8 1.8 0 1 0 -3.6 0M157.08 133.37a1.8 1.8 0 1 0 3.6 0a1.8 1.8 0 1 0 -3.6 0M149.79 148.69a1.8 1.8 0 1 0 3.6 0a1.8 1.8 0 1 0 -3.6 0M152.04 151.4a1.8 1.8 0 1 0 3.6 0a1.8 1.8 0 1 0 -3.6 0M156.79 147.79a1.8 1.8 0 1 0 3.6 0a1.8 1.8 0 1 0 -3.6 0M146.6 151.68a1.8 1.8 0 1 0 3.6 0a1.8 1.8 0 1 0 -3.6 0M144.24 156.3a1.8 1.8 0 1 0 3.6 0a1.8 1.8 0 1 0 -3.6 0M144.6 153.52a1.8 1.8 0 1 0 3.6 0a1.8 1.8 0 1 0 -3.6 0M147.07 147.99a1.8 1.8 0 1 0 3.6 0a1.8 1.8 0 1 0 -3.6 0M149.09 119.77a1.8 1.8 0 1 0 3.6 0a1.8 1.8 0 1 0 -3.6 0M154.02 83.01a1.8 1.8 0 1 0 3.6 0a1.8 1.8 0 1 0 -3.6 0M149.71 126.26a1.8 1.8 0 1 0 3.6 0a1.8 1.8 0 1 0 -3.6 0M150.66 152.8a1.8 1.8 0 1 0 3.6 0a1.8 1.8 0 1 0 -3.6 0M145.07 149.99a1.8 1.8 0 1 0 3.6 0a1.8 1.8 0 1 0 -3.6 0M152.22 155.33a1.8 1.8 0 1 0 3.6 0a1.8 1.8 0 1 0 -3.6 0M168.18 135.18a1.8 1.8 0 1 0 3.6 0a1.8 1.8 0 1 0 -3.6 0M155.59 152.63a1.8 1.8 0 1 0 3.6 0a1.8 1.8 0 1 0 -3.6 0M148.87 150.35a1.8 1.8 0 1 0 3.6 0a1.8 1.8 0 1 0 -3.6 0M146.94 152.01a1.8 1.8 0 1 0 3.6 0a1.8 1.8 0 1 0 -3.6 0M150.43 114.12a1.8 1.8 0 1 0 3.6 0a1.8 1.8 0 1 0 -3.6 0M162.09 147.99a1.8 1.8 0 1 0 3.6 0a1.8 1.8 0 1 0 -3.6 0M158 147.12a1.8 1.8 0 1 0 3.6 0a1.8 1.8 0 1 0 -3.6 0M147.24 144.22a1.8 1.8 0 1 0 3.6 0a1.8 1.8 0 1 0 -3.6 0M154.14 135.14a1.8 1.8 0 1 0 3.6 0a1.8 1.8 0 1 0 -3.6 0M166.55 149.3a1.8 1.8 0 1 0 3.6 0a1.8 1.8 0 1 0 -3.6 0M158.34 156.11a1.8 1.8 0 1 0 3.6 0a1.8 1.8 0 1 0 -3.6 0M155.87 135.1a1.8 1.8 0 1 0 3.6 0a1.8 1.8 0 1 0 -3.6 0M155.69 146.4a1.8 1.8 0 1 0 3.6 0a1.8 1.8 0 1 0 -3.6 0M151.74 157.02a1.8 1.8 0 1 0 3.6 0a1.8 1.8 0 1 0 -3.6 0M150.87 122.07a1.8 1.8 0 1 0 3.6 0a1.8 1.8 0 1 0 -3.6 0M155.59 133.81a1.8 1.8 0 1 0 3.6 0a1.8 1.8 0 1 0 -3.6 0M156.58 145.42a1.8 1.8 0 1 0 3.6 0a1.8 1.8 0 1 0 -3.6 0M145.69 146.03a1.8 1.8 0 1 0 3.6 0a1.8 1.8 0 1 0 -3.6 0M156.07 144.65a1.8 1.8 0 1 0 3.6 0a1.8 1.8 0 1 0 -3.6 0M147.34 154.63a1.8 1.8 0 1 0 3.6 0a1.8 1.8 0 1 0 -3.6 0M148.29 125.78a1.8 1.8 0 1 0 3.6 0a1.8 1.8 0 1 0 -3.6 0M150.15 122.42a1.8 1.8 0 1 0 3.6 0a1.8 1.8 0 1 0 -3.6 0M153.57 149.79a1.8 1.8 0 1 0 3.6 0a1.8 1.8 0 1 0 -3.6 0M146.89 142.65a1.8 1.8 0 1 0 3.6 0a1.8 1.8 0 1 0 -3.6 0M146.7 154.81a1.8 1.8 0 1 0 3.6 0a1.8 1.8 0 1 0 -3.6 0M170.46 118.58a1.8 1.8 0 1 0 3.6 0a1.8 1.8 0 1 0 -3.6 0M155.41 135.3a1.8 1.8 0 1 0 3.6 0a1.8 1.8 0 1 0 -3.6 0M163.8 137.13a1.8 1.8 0 1 0 3.6 0a1.8 1.8 0 1 0 -3.6 0M144.59 154.7a1.8 1.8 0 1 0 3.6 0a1.8 1.8 0 1 0 -3.6 0M148.42 124.79a1.8 1.8 0 1 0 3.6 0a1.8 1.8 0 1 0 -3.6 0M147.8 144.65a1.8 1.8 0 1 0 3.6 0a1.8 1.8 0 1 0 -3.6 0M156.29 113.23a1.8 1.8 0 1 0 3.6 0a1.8 1.8 0 1 0 -3.6 0M144.65 153.28a1.8 1.8 0 1 0 3.6 0a1.8 1.8 0 1 0 -3.6 0M150.13 146.44a1.8 1.8 0 1 0 3.6 0a1.8 1.8 0 1 0 -3.6 0M150.77 146.61a1.8 1.8 0 1 0 3.6 0a1.8 1.8 0 1 0 -3.6 0M145.69 156.69a1.8 1.8 0 1 0 3.6 0a1.8 1.8 0 1 0 -3.6 0M149.07 126.29a1.8 1.8 0 1 0 3.6 0a1.8 1.8 0 1 0 -3.6 0M144.77 154.1a1.8 1.8 0 1 0 3.6 0a1.8 1.8 0 1 0 -3.6 0M165.57 108.17a1.8 1.8 0 1 0 3.6 0a1.8 1.8 0 1 0 -3.6 0M146.46 148.58a1.8 1.8 0 1 0 3.6 0a1.8 1.8 0 1 0 -3.6 0M160.65 149.65a1.8 1.8 0 1 0 3.6 0a1.8 1.8 0 1 0 -3.6 0M168.63 115.22a1.8 1.8 0 1 0 3.6 0a1.8 1.8 0 1 0 -3.6 0M156.51 123.28a1.8 1.8 0 1 0 3.6 0a1.8 1.8 0 1 0 -3.6 0M162.74 155.61a1.8 1.8 0 1 0 3.6 0a1.8 1.8 0 1 0 -3.6 0M154.27 154.56a1.8 1.8 0 1 0 3.6 0a1.8 1.8 0 1 0 -3.6 0M145.08 149.96a1.8 1.8 0 1 0 3.6 0a1.8 1.8 0 1 0 -3.6 0M147.18 138.72a1.8 1.8 0 1 0 3.6 0a1.8 1.8 0 1 0 -3.6 0M149.46 118.87a1.8 1.8 0 1 0 3.6 0a1.8 1.8 0 1 0 -3.6 0M149.13 138.22a1.8 1.8 0 1 0 3.6 0a1.8 1.8 0 1 0 -3.6 0M144.95 156.95a1.8 1.8 0 1 0 3.6 0a1.8 1.8 0 1 0 -3.6 0M155.99 151.23a1.8 1.8 0 1 0 3.6 0a1.8 1.8 0 1 0 -3.6 0M165.6 131.55a1.8 1.8 0 1 0 3.6 0a1.8 1.8 0 1 0 -3.6 0M144.84 154.6a1.8 1.8 0 1 0 3.6 0a1.8 1.8 0 1 0 -3.6 0M146.25 149.5a1.8 1.8 0 1 0 3.6 0a1.8 1.8 0 1 0 -3.6 0M154.85 153.71a1.8 1.8 0 1 0 3.6 0a1.8 1.8 0 1 0 -3.6 0M148.32 157.72a1.8 1.8 0 1 0 3.6 0a1.8 1.8 0 1 0 -3.6 0M145.42 155.28a1.8 1.8 0 1 0 3.6 0a1.8 1.8 0 1 0 -3.6 0M147.74 151.67a1.8 1.8 0 1 0 3.6 0a1.8 1.8 0 1 0 -3.6 0M160.35 108.03a1.8 1.8 0 1 0 3.6 0a1.8 1.8 0 1 0 -3.6 0M166.29 147.83a1.8 1.8 0 1 0 3.6 0a1.8 1.8 0 1 0 -3.6 0M145 152.62a1.8 1.8 0 1 0 3.6 0a1.8 1.8 0 1 0 -3.6 0M157.32 139.82a1.8 1.8 0 1 0 3.6 0a1.8 1.8 0 1 0 -3.6 0M150.76 134.9a1.8 1.8 0 1 0 3.6 0a1.8 1.8 0 1 0 -3.6 0M148.3 134.98a1.8 1.8 0 1 0 3.6 0a1.8 1.8 0 1 0 -3.6 0M160.88 105.07a1.8 1.8 0 1 0 3.6 0a1.8 1.8 0 1 0 -3.6 0M152.18 129.09a1.8 1.8 0 1 0 3.6 0a1.8 1.8 0 1 0 -3.6 0M152.96 113.28a1.8 1.8 0 1 0 3.6 0a1.8 1.8 0 1 0 -3.6 0M153.76 104.11a1.8 1.8 0 1 0 3.6 0a1.8 1.8 0 1 0 -3.6 0M152.25 104.16a1.8 1.8 0 1 0 3.6 0a1.8 1.8 0 1 0 -3.6 0M150.52 144.9a1.8 1.8 0 1 0 3.6 0a1.8 1.8 0 1 0 -3.6 0M159.72 143.61a1.8 1.8 0 1 0 3.6 0a1.8 1.8 0 1 0 -3.6 0M148.74 124.32a1.8 1.8 0 1 0 3.6 0a1.8 1.8 0 1 0 -3.6 0M150.97 136.04a1.8 1.8 0 1 0 3.6 0a1.8 1.8 0 1 0 -3.6 0M145.34 148.59a1.8 1.8 0 1 0 3.6 0a1.8 1.8 0 1 0 -3.6 0M170.6 115.06a1.8 1.8 0 1 0 3.6 0a1.8 1.8 0 1 0 -3.6 0M152.09 134.89a1.8 1.8 0 1 0 3.6 0a1.8 1.8 0 1 0 -3.6 0M145.36 156.28a1.8 1.8 0 1 0 3.6 0a1.8 1.8 0 1 0 -3.6 0M145.01 150.72a1.8 1.8 0 1 0 3.6 0a1.8 1.8 0 1 0 -3.6 0M146.73 149.45a1.8 1.8 0 1 0 3.6 0a1.8 1.8 0 1 0 -3.6 0M145.31 148.34a1.8 1.8 0 1 0 3.6 0a1.8 1.8 0 1 0 -3.6 0M163.26 155.3a1.8 1.8 0 1 0 3.6 0a1.8 1.8 0 1 0 -3.6 0M146.43 143.42a1.8 1.8 0 1 0 3.6 0a1.8 1.8 0 1 0 -3.6 0M146.99 147.2a1.8 1.8 0 1 0 3.6 0a1.8 1.8 0 1 0 -3.6 0M145.84 146a1.8 1.8 0 1 0 3.6 0a1.8 1.8 0 1 0 -3.6 0M165.21 133.53a1.8 1.8 0 1 0 3.6 0a1.8 1.8 0 1 0 -3.6 0M165.68 140.21a1.8 1.8 0 1 0 3.6 0a1.8 1.8 0 1 0 -3.6 0M152.29 127.8a1.8 1.8 0 1 0 3.6 0a1.8 1.8 0 1 0 -3.6 0M154 144.68a1.8 1.8 0 1 0 3.6 0a1.8 1.8 0 1 0 -3.6 0M145.14 149.67a1.8 1.8 0 1 0 3.6 0a1.8 1.8 0 1 0 -3.6 0M158.16 147.11a1.8 1.8 0 1 0 3.6 0a1.8 1.8 0 1 0 -3.6 0M146.69 137.83a1.8 1.8 0 1 0 3.6 0a1.8 1.8 0 1 0 -3.6 0M148.18 126.66a1.8 1.8 0 1 0 3.6 0a1.8 1.8 0 1 0 -3.6 0M146 144.8a1.8 1.8 0 1 0 3.6 0a1.8 1.8 0 1 0 -3.6 0M145.35 151.47a1.8 1.8 0 1 0 3.6 0a1.8 1.8 0 1 0 -3.6 0M155.14 140.82a1.8 1.8 0 1 0 3.6 0a1.8 1.8 0 1 0 -3.6 0M152.79 119.43a1.8 1.8 0 1 0 3.6 0a1.8 1.8 0 1 0 -3.6 0M144.18 156.72a1.8 1.8 0 1 0 3.6 0a1.8 1.8 0 1 0 -3.6 0M144.35 156.24a1.8 1.8 0 1 0 3.6 0a1.8 1.8 0 1 0 -3.6 0M145.4 154.38a1.8 1.8 0 1 0 3.6 0a1.8 1.8 0 1 0 -3.6 0M158.53 154.92a1.8 1.8 0 1 0 3.6 0a1.8 1.8 0 1 0 -3.6 0M148.27 149.89a1.8 1.8 0 1 0 3.6 0a1.8 1.8 0 1 0 -3.6 0M147.91 130.5a1.8 1.8 0 1 0 3.6 0a1.8 1.8 0 1 0 -3.6 0M145.68 145.44a1.8 1.8 0 1 0 3.6 0a1.8 1.8 0 1 0 -3.6 0M163.32 146.01a1.8 1.8 0 1 0 3.6 0a1.8 1.8 0 1 0 -3.6 0M146.97 142.93a1.8 1.8 0 1 0 3.6 0a1.8 1.8 0 1 0 -3.6 0M149.99 139.96a1.8 1.8 0 1 0 3.6 0a1.8 1.8 0 1 0 -3.6 0M152.3 145.56a1.8 1.8 0 1 0 3.6 0a1.8 1.8 0 1 0 -3.6 0M162.87 135.71a1.8 1.8 0 1 0 3.6 0a1.8 1.8 0 1 0 -3.6 0M172.34 90.82a1.8 1.8 0 1 0 3.6 0a1.8 1.8 0 1 0 -3.6 0M155.93 128.22a1.8 1.8 0 1 0 3.6 0a1.8 1.8 0 1 0 -3.6 0M148.14 129.19a1.8 1.8 0 1 0 3.6 0a1.8 1.8 0 1 0 -3.6 0M158.34 153.9a1.8 1.8 0 1 0 3.6 0a1.8 1.8 0 1 0 -3.6 0M145.39 147.64a1.8 1.8 0 1 0 3.6 0a1.8 1.8 0 1 0 -3.6 0M147.38 133.5a1.8 1.8 0 1 0 3.6 0a1.8 1.8 0 1 0 -3.6 0M162.15 152.16a1.8 1.8 0 1 0 3.6 0a1.8 1.8 0 1 0 -3.6 0M157.64 154.08a1.8 1.8 0 1 0 3.6 0a1.8 1.8 0 1 0 -3.6 0M156.56 152.3a1.8 1.8 0 1 0 3.6 0a1.8 1.8 0 1 0 -3.6 0M149.98 149.27a1.8 1.8 0 1 0 3.6 0a1.8 1.8 0 1 0 -3.6 0M155.83 137.33a1.8 1.8 0 1 0 3.6 0a1.8 1.8 0 1 0 -3.6 0M152.21 153.68a1.8 1.8 0 1 0 3.6 0a1.8 1.8 0 1 0 -3.6 0M145.02 154.59a1.8 1.8 0 1 0 3.6 0a1.8 1.8 0 1 0 -3.6 0M147.76 131.01a1.8 1.8 0 1 0 3.6 0a1.8 1.8 0 1 0 -3.6 0M145.37 148.31a1.8 1.8 0 1 0 3.6 0a1.8 1.8 0 1 0 -3.6 0M146.33 142.27a1.8 1.8 0 1 0 3.6 0a1.8 1.8 0 1 0 -3.6 0M165.43 149.85a1.8 1.8 0 1 0 3.6 0a1.8 1.8 0 1 0 -3.6 0M148.99 147.33a1.8 1.8 0 1 0 3.6 0a1.8 1.8 0 1 0 -3.6 0M171.9 65.26a1.8 1.8 0 1 0 3.6 0a1.8 1.8 0 1 0 -3.6 0M168.8 100.86a1.8 1.8 0 1 0 3.6 0a1.8 1.8 0 1 0 -3.6 0M176.88 109.76a1.8 1.8 0 1 0 3.6 0a1.8 1.8 0 1 0 -3.6 0M174.82 125.78a1.8 1.8 0 1 0 3.6 0a1.8 1.8 0 1 0 -3.6 0M173.1 133.61a1.8 1.8 0 1 0 3.6 0a1.8 1.8 0 1 0 -3.6 0M197.18 125.78a1.8 1.8 0 1 0 3.6 0a1.8 1.8 0 1 0 -3.6 0M183.42 147.14a1.8 1.8 0 1 0 3.6 0a1.8 1.8 0 1 0 -3.6 0M170.95 147.5a1.8 1.8 0 1 0 3.6 0a1.8 1.8 0 1 0 -3.6 0M175.42 153.55a1.8 1.8 0 1 0 3.6 0a1.8 1.8 0 1 0 -3.6 0M165.02 55.29a1.8 1.8 0 1 0 3.6 0a1.8 1.8 0 1 0 -3.6 0" fill="none" stroke="#e0585a" stroke-width="0.55"/>
<line x1="46.6" y1="26.2" x2="46.6" y2="215.5" stroke="#6b6b6b" stroke-width="0.8"/>
<line x1="46.6" y1="215" x2="234.9" y2="215" stroke="#6b6b6b" stroke-width="0.8"/>
<line x1="43.8" y1="204.1" x2="46.6" y2="204.1" stroke="#6b6b6b" stroke-width="0.8"/>
<text x="39" y="206.98" font-size="8" text-anchor="end">0</text>
<line x1="43.8" y1="168.5" x2="46.6" y2="168.5" stroke="#6b6b6b" stroke-width="0.8"/>
<text x="39" y="171.38" font-size="8" text-anchor="end">1</text>
<line x1="43.8" y1="132.9" x2="46.6" y2="132.9" stroke="#6b6b6b" stroke-width="0.8"/>
<text x="39" y="135.78" font-size="8" text-anchor="end">2</text>
<line x1="43.8" y1="97.3" x2="46.6" y2="97.3" stroke="#6b6b6b" stroke-width="0.8"/>
<text x="39" y="100.18" font-size="8" text-anchor="end">3</text>
<line x1="43.8" y1="61.7" x2="46.6" y2="61.7" stroke="#6b6b6b" stroke-width="0.8"/>
<text x="39" y="64.58" font-size="8" text-anchor="end">4</text>
<line x1="43.8" y1="26.1" x2="46.6" y2="26.1" stroke="#6b6b6b" stroke-width="0.8"/>
<line x1="54.5" y1="215" x2="54.5" y2="217.8" stroke="#6b6b6b" stroke-width="0.8"/>
<text x="54.5" y="227.64" font-size="7.9" text-anchor="middle">−10</text>
<line x1="71.7" y1="215" x2="71.7" y2="217.8" stroke="#6b6b6b" stroke-width="0.8"/>
<text x="71.7" y="227.64" font-size="7.9" text-anchor="middle">−8</text>
<line x1="88.9" y1="215" x2="88.9" y2="217.8" stroke="#6b6b6b" stroke-width="0.8"/>
<text x="88.9" y="227.64" font-size="7.9" text-anchor="middle">−6</text>
<line x1="106.1" y1="215" x2="106.1" y2="217.8" stroke="#6b6b6b" stroke-width="0.8"/>
<text x="106.1" y="227.64" font-size="7.9" text-anchor="middle">−4</text>
<line x1="123.3" y1="215" x2="123.3" y2="217.8" stroke="#6b6b6b" stroke-width="0.8"/>
<text x="123.3" y="227.64" font-size="7.9" text-anchor="middle">−2</text>
<line x1="140.5" y1="215" x2="140.5" y2="217.8" stroke="#6b6b6b" stroke-width="0.8"/>
<text x="140.5" y="227.64" font-size="7.9" text-anchor="middle">0</text>
<line x1="157.7" y1="215" x2="157.7" y2="217.8" stroke="#6b6b6b" stroke-width="0.8"/>
<text x="157.7" y="227.64" font-size="7.9" text-anchor="middle">2</text>
<line x1="174.9" y1="215" x2="174.9" y2="217.8" stroke="#6b6b6b" stroke-width="0.8"/>
<text x="174.9" y="227.64" font-size="7.9" text-anchor="middle">4</text>
<line x1="192.1" y1="215" x2="192.1" y2="217.8" stroke="#6b6b6b" stroke-width="0.8"/>
<text x="192.1" y="227.64" font-size="7.9" text-anchor="middle">6</text>
<line x1="209.3" y1="215" x2="209.3" y2="217.8" stroke="#6b6b6b" stroke-width="0.8"/>
<text x="209.3" y="227.64" font-size="7.9" text-anchor="middle">8</text>
<line x1="226.5" y1="215" x2="226.5" y2="217.8" stroke="#6b6b6b" stroke-width="0.8"/>
<text x="226.5" y="227.64" font-size="7.9" text-anchor="middle">10</text>
<text x="140.7" y="242" font-size="8.6" text-anchor="middle">log<tspan font-size="6" dy="2">2</tspan><tspan dy="-2">(IL-7 + VPS34i/IL-7)</tspan></text>
<text transform="translate(26.5 122) rotate(-90)" x="0" y="0" font-size="8.6" text-anchor="middle">−log<tspan font-size="6" dy="2">10</tspan><tspan dy="-2" font-style="italic">P</tspan></text>
<text x="86.3" y="12.53" font-size="8.7" text-anchor="middle">Decreased</text>
<text x="86.3" y="22.73" font-size="8.7" text-anchor="middle">with VPS34i</text>
<text x="193.9" y="12.53" font-size="8.7" text-anchor="middle">Increased</text>
<text x="193.9" y="22.73" font-size="8.7" text-anchor="middle">with VPS34i</text>
<line x1="55" y1="31.5" x2="123" y2="31.5" stroke="#e2261f" stroke-width="3"/>
<path d="M48.3 31.5L57.5 27.2L57.5 35.8Z" fill="#e2261f" stroke="none" stroke-width="0.8"/>
<line x1="158.4" y1="31.5" x2="222" y2="31.5" stroke="#e2261f" stroke-width="3"/>
<path d="M229.5 31.5L220.3 27.2L220.3 35.8Z" fill="#e2261f" stroke="none" stroke-width="0.8"/>
<text x="140.3" y="34.64" font-size="9" text-anchor="middle" fill="#e5352e">1.5-fold</text>
<text x="60.6" y="42.63" font-size="8.7" fill="#e5352e">322</text>
<text x="217.7" y="42.63" font-size="8.7" text-anchor="end" fill="#e5352e">327</text>
<text x="231.2" y="158.74" font-size="9" text-anchor="end" fill="#3b3b8e">Total:</text>
<text x="231.2" y="168.34" font-size="9" text-anchor="end" fill="#3b3b8e">4,953</text>
<text x="231.2" y="196.04" font-size="9" text-anchor="end" fill="#444">4,296</text>
<text x="231.2" y="206.34" font-size="9" text-anchor="end" fill="#444">unchanging</text>
<text x="48.8" y="195.97" font-size="8.8" fill="#e5352e">35 absent</text>
<text x="48.8" y="206.27" font-size="8.8" fill="#e5352e">with VPS34i</text>
<text x="288" y="9.9" font-size="13" font-weight="bold" stroke="#000" stroke-width="0.55">b</text>
<text x="338.1" y="17.05" font-size="8.2" text-anchor="middle">SQSTM1</text>
<text x="338.1" y="30.26" font-size="7.4" text-anchor="middle">0.01</text>
<line x1="330" y1="31.3" x2="345.8" y2="31.3" stroke="#c8c8c8" stroke-width="0.9"/>
<rect x="325.4" y="88" width="10" height="10.3" fill="#fff" stroke="#3a3a3a" stroke-width="0.75"/>
<rect x="341" y="65" width="10" height="33.3" fill="#fff" stroke="#ea4a43" stroke-width="0.75"/>
<line x1="330.4" y1="86.2" x2="330.4" y2="90.6" stroke="#333" stroke-width="0.8"/>
<line x1="328.4" y1="86.2" x2="332.4" y2="86.2" stroke="#333" stroke-width="0.8"/>
<line x1="328.4" y1="90.6" x2="332.4" y2="90.6" stroke="#333" stroke-width="0.8"/>
<line x1="346" y1="53.5" x2="346" y2="77.5" stroke="#e4342d" stroke-width="0.8"/>
<line x1="343.7" y1="53.5" x2="348.3" y2="53.5" stroke="#e4342d" stroke-width="0.8"/>
<line x1="343.7" y1="77.5" x2="348.3" y2="77.5" stroke="#e4342d" stroke-width="0.8"/>
<circle cx="326.6" cy="86.7" r="2.15" fill="#231f20" stroke="none" stroke-width="0.7"/>
<circle cx="326.9" cy="91" r="2.15" fill="#231f20" stroke="none" stroke-width="0.7"/>
<circle cx="333.8" cy="89.6" r="2.15" fill="#231f20" stroke="none" stroke-width="0.7"/>
<circle cx="346" cy="55.4" r="2.15" fill="#e4342d" stroke="none" stroke-width="0.7"/>
<circle cx="346" cy="61.8" r="2.15" fill="#e4342d" stroke="none" stroke-width="0.7"/>
<circle cx="345.8" cy="77.9" r="2.15" fill="#e4342d" stroke="none" stroke-width="0.7"/>
<line x1="319.3" y1="24.9" x2="319.3" y2="98.3" stroke="#6b6b6b" stroke-width="0.8"/>
<line x1="316.6" y1="98.3" x2="319.3" y2="98.3" stroke="#6b6b6b" stroke-width="0.8"/>
<text x="314.4" y="101.14" font-size="7.9" text-anchor="end">0</text>
<line x1="316.6" y1="73.8" x2="319.3" y2="73.8" stroke="#6b6b6b" stroke-width="0.8"/>
<text x="314.4" y="76.64" font-size="7.9" text-anchor="end">1</text>
<line x1="316.6" y1="49.3" x2="319.3" y2="49.3" stroke="#6b6b6b" stroke-width="0.8"/>
<text x="314.4" y="52.14" font-size="7.9" text-anchor="end">2</text>
<line x1="316.6" y1="24.8" x2="319.3" y2="24.8" stroke="#6b6b6b" stroke-width="0.8"/>
<text x="314.4" y="27.64" font-size="7.9" text-anchor="end">3</text>
<line x1="319.3" y1="98.3" x2="356.3" y2="98.3" stroke="#6b6b6b" stroke-width="0.8"/>
<text transform="translate(296.8 62.5) rotate(-90)" x="0" y="3.17" font-size="8.8" text-anchor="middle">Copies per cell (×10<tspan font-size="5.5" dy="-3.2">3</tspan><tspan dy="3.2">)</tspan></text>
<text x="330.1" y="108.39" font-size="7.2" text-anchor="middle">IL-7</text>
<text x="347.9" y="108.39" font-size="7.2" text-anchor="middle" fill="#e5352e">IL-7</text>
<text x="346" y="116.89" font-size="7.2" text-anchor="middle" fill="#e5352e">+VPS34i</text>
<text x="418.7" y="17.05" font-size="8.2" text-anchor="middle">SEC62</text>
<text x="418.7" y="30.26" font-size="7.4" text-anchor="middle">0.01</text>
<line x1="410.1" y1="31.3" x2="427" y2="31.3" stroke="#c8c8c8" stroke-width="0.9"/>
<rect x="405.3" y="80" width="10.5" height="18.3" fill="#fff" stroke="#3a3a3a" stroke-width="0.75"/>
<rect x="421" y="53.5" width="10.8" height="44.8" fill="#fff" stroke="#ea4a43" stroke-width="0.75"/>
<line x1="410.5" y1="63.1" x2="410.5" y2="98.3" stroke="#333" stroke-width="0.8"/>
<line x1="408.2" y1="63.1" x2="412.8" y2="63.1" stroke="#333" stroke-width="0.8"/>
<line x1="408.2" y1="98.3" x2="412.8" y2="98.3" stroke="#333" stroke-width="0.8"/>
<line x1="426.4" y1="42.6" x2="426.4" y2="64.4" stroke="#e4342d" stroke-width="0.8"/>
<line x1="424.1" y1="42.6" x2="428.7" y2="42.6" stroke="#e4342d" stroke-width="0.8"/>
<line x1="424.1" y1="64.4" x2="428.7" y2="64.4" stroke="#e4342d" stroke-width="0.8"/>
<circle cx="407.3" cy="69.4" r="2.15" fill="#231f20" stroke="none" stroke-width="0.7"/>
<circle cx="413.8" cy="70.7" r="2.15" fill="#231f20" stroke="none" stroke-width="0.7"/>
<circle cx="410.5" cy="97.6" r="2.15" fill="#231f20" stroke="none" stroke-width="0.7"/>
<circle cx="423" cy="45.8" r="2.15" fill="#e4342d" stroke="none" stroke-width="0.7"/>
<circle cx="429.9" cy="48.2" r="2.15" fill="#e4342d" stroke="none" stroke-width="0.7"/>
<circle cx="426.2" cy="64.2" r="2.15" fill="#e4342d" stroke="none" stroke-width="0.7"/>
<line x1="400.5" y1="24.4" x2="400.5" y2="98.3" stroke="#6b6b6b" stroke-width="0.8"/>
<line x1="397.8" y1="98.3" x2="400.5" y2="98.3" stroke="#6b6b6b" stroke-width="0.8"/>
<text x="395.6" y="101.14" font-size="7.9" text-anchor="end">0</text>
<line x1="397.8" y1="67.5" x2="400.5" y2="67.5" stroke="#6b6b6b" stroke-width="0.8"/>
<text x="395.6" y="70.34" font-size="7.9" text-anchor="end">5</text>
<line x1="397.8" y1="36.7" x2="400.5" y2="36.7" stroke="#6b6b6b" stroke-width="0.8"/>
<text x="395.6" y="39.54" font-size="7.9" text-anchor="end">10</text>
<line x1="400.5" y1="98.3" x2="436.6" y2="98.3" stroke="#6b6b6b" stroke-width="0.8"/>
<text transform="translate(375.5 62.5) rotate(-90)" x="0" y="3.17" font-size="8.8" text-anchor="middle">Copies per cell (×10<tspan font-size="5.5" dy="-3.2">3</tspan><tspan dy="3.2">)</tspan></text>
<text x="410.6" y="108.39" font-size="7.2" text-anchor="middle">IL-7</text>
<text x="428.2" y="108.39" font-size="7.2" text-anchor="middle" fill="#e5352e">IL-7</text>
<text x="426.5" y="116.89" font-size="7.2" text-anchor="middle" fill="#e5352e">+VPS34i</text>
<circle cx="446.8" cy="29.4" r="2" fill="#231f20" stroke="none" stroke-width="0.7"/>
<circle cx="446.8" cy="38.5" r="2" fill="#e4342d" stroke="none" stroke-width="0.7"/>
<text x="452.7" y="32.42" font-size="8.4">IL-7</text>
<text x="452.7" y="41.52" font-size="8.4">IL-7+</text>
<text x="452.7" y="52.02" font-size="8.4">VPS34i</text>
<text x="338.1" y="133.25" font-size="8.2" text-anchor="middle">RTN3</text>
<text x="338.1" y="142.06" font-size="7.4" text-anchor="middle">0.01</text>
<line x1="330" y1="143.6" x2="346" y2="143.6" stroke="#c8c8c8" stroke-width="0.9"/>
<rect x="325.4" y="202.5" width="10" height="12.1" fill="#fff" stroke="#3a3a3a" stroke-width="0.75"/>
<rect x="341" y="171.2" width="10" height="43.4" fill="#fff" stroke="#ea4a43" stroke-width="0.75"/>
<line x1="330.4" y1="183.3" x2="330.4" y2="214.6" stroke="#333" stroke-width="0.8"/>
<line x1="328.1" y1="183.3" x2="332.7" y2="183.3" stroke="#333" stroke-width="0.8"/>
<line x1="328.1" y1="214.6" x2="332.7" y2="214.6" stroke="#333" stroke-width="0.8"/>
<line x1="346" y1="159.2" x2="346" y2="180" stroke="#e4342d" stroke-width="0.8"/>
<line x1="343.7" y1="159.2" x2="348.3" y2="159.2" stroke="#e4342d" stroke-width="0.8"/>
<line x1="343.7" y1="180" x2="348.3" y2="180" stroke="#e4342d" stroke-width="0.8"/>
<circle cx="326.6" cy="213.3" r="2.15" fill="#231f20" stroke="none" stroke-width="0.7"/>
<circle cx="333.5" cy="209.7" r="2.15" fill="#231f20" stroke="none" stroke-width="0.7"/>
<circle cx="330.3" cy="183.3" r="2.15" fill="#231f20" stroke="none" stroke-width="0.7"/>
<circle cx="346" cy="159.2" r="2.15" fill="#e4342d" stroke="none" stroke-width="0.7"/>
<circle cx="342.6" cy="176.8" r="2.15" fill="#e4342d" stroke="none" stroke-width="0.7"/>
<circle cx="349.4" cy="175.7" r="2.15" fill="#e4342d" stroke="none" stroke-width="0.7"/>
<line x1="319.7" y1="141.5" x2="319.7" y2="214.6" stroke="#6b6b6b" stroke-width="0.8"/>
<line x1="317" y1="214.6" x2="319.7" y2="214.6" stroke="#6b6b6b" stroke-width="0.8"/>
<text x="314.8" y="217.44" font-size="7.9" text-anchor="end">0</text>
<line x1="317" y1="184.1" x2="319.7" y2="184.1" stroke="#6b6b6b" stroke-width="0.8"/>
<text x="314.8" y="186.94" font-size="7.9" text-anchor="end">5</text>
<line x1="317" y1="153.6" x2="319.7" y2="153.6" stroke="#6b6b6b" stroke-width="0.8"/>
<text x="314.8" y="156.44" font-size="7.9" text-anchor="end">10</text>
<line x1="319.7" y1="214.6" x2="356.3" y2="214.6" stroke="#6b6b6b" stroke-width="0.8"/>
<text transform="translate(296.8 179) rotate(-90)" x="0" y="3.17" font-size="8.8" text-anchor="middle">Copies per cell (×10<tspan font-size="5.5" dy="-3.2">3</tspan><tspan dy="3.2">)</tspan></text>
<text x="330.1" y="224.19" font-size="7.2" text-anchor="middle">IL-7</text>
<text x="347.9" y="224.19" font-size="7.2" text-anchor="middle" fill="#e5352e">IL-7</text>
<text x="346" y="232.69" font-size="7.2" text-anchor="middle" fill="#e5352e">+VPS34i</text>
<text x="417.9" y="134.45" font-size="8.2" text-anchor="middle">CALCOCO1</text>
<text x="418.2" y="143.66" font-size="7.4" text-anchor="middle">0.01</text>
<line x1="410" y1="144.7" x2="426" y2="144.7" stroke="#c8c8c8" stroke-width="0.9"/>
<rect x="405.3" y="207.3" width="10.5" height="7.6" fill="#fff" stroke="#3a3a3a" stroke-width="0.75"/>
<rect x="421" y="173.1" width="10.8" height="41.8" fill="#fff" stroke="#ea4a43" stroke-width="0.75"/>
<line x1="410.5" y1="200.6" x2="410.5" y2="212.5" stroke="#333" stroke-width="0.8"/>
<line x1="408.5" y1="200.6" x2="412.5" y2="200.6" stroke="#333" stroke-width="0.8"/>
<line x1="408.5" y1="212.5" x2="412.5" y2="212.5" stroke="#333" stroke-width="0.8"/>
<line x1="426.4" y1="159.6" x2="426.4" y2="186.6" stroke="#e4342d" stroke-width="0.8"/>
<line x1="424.1" y1="159.6" x2="428.7" y2="159.6" stroke="#e4342d" stroke-width="0.8"/>
<line x1="424.1" y1="186.6" x2="428.7" y2="186.6" stroke="#e4342d" stroke-width="0.8"/>
<circle cx="410.5" cy="200.6" r="2.15" fill="#231f20" stroke="none" stroke-width="0.7"/>
<circle cx="407.3" cy="206.9" r="2.15" fill="#231f20" stroke="none" stroke-width="0.7"/>
<circle cx="413.7" cy="206.2" r="2.15" fill="#231f20" stroke="none" stroke-width="0.7"/>
<circle cx="426.2" cy="161.6" r="2.15" fill="#e4342d" stroke="none" stroke-width="0.7"/>
<circle cx="426.2" cy="169.3" r="2.15" fill="#e4342d" stroke="none" stroke-width="0.7"/>
<circle cx="426.2" cy="187.3" r="2.15" fill="#e4342d" stroke="none" stroke-width="0.7"/>
<line x1="400.2" y1="142" x2="400.2" y2="214.9" stroke="#6b6b6b" stroke-width="0.8"/>
<line x1="397.5" y1="214.9" x2="400.2" y2="214.9" stroke="#6b6b6b" stroke-width="0.8"/>
<text x="395.3" y="217.74" font-size="7.9" text-anchor="end">0</text>
<line x1="397.5" y1="196.7" x2="400.2" y2="196.7" stroke="#6b6b6b" stroke-width="0.8"/>
<text x="395.3" y="199.54" font-size="7.9" text-anchor="end">2</text>
<line x1="397.5" y1="178.5" x2="400.2" y2="178.5" stroke="#6b6b6b" stroke-width="0.8"/>
<text x="395.3" y="181.34" font-size="7.9" text-anchor="end">4</text>
<line x1="397.5" y1="160.3" x2="400.2" y2="160.3" stroke="#6b6b6b" stroke-width="0.8"/>
<text x="395.3" y="163.14" font-size="7.9" text-anchor="end">6</text>
<line x1="397.5" y1="142.1" x2="400.2" y2="142.1" stroke="#6b6b6b" stroke-width="0.8"/>
<text x="395.3" y="144.94" font-size="7.9" text-anchor="end">8</text>
<line x1="400.2" y1="214.9" x2="436.6" y2="214.9" stroke="#6b6b6b" stroke-width="0.8"/>
<text transform="translate(375.5 179) rotate(-90)" x="0" y="3.17" font-size="8.8" text-anchor="middle">Copies per cell (×10<tspan font-size="5.5" dy="-3.2">2</tspan><tspan dy="3.2">)</tspan></text>
<text x="410.6" y="224.69" font-size="7.2" text-anchor="middle">IL-7</text>
<text x="428.2" y="224.69" font-size="7.2" text-anchor="middle" fill="#e5352e">IL-7</text>
<text x="426.5" y="233.19" font-size="7.2" text-anchor="middle" fill="#e5352e">+VPS34i</text>
<text x="507.6" y="9.7" font-size="13" font-weight="bold" stroke="#000" stroke-width="0.55">c</text>
<path d="M571.6 40.1C571.81 40.1 572.45 40.1 572.88 40.1C573.3 40.1 573.73 40.1 574.15 40.1C574.58 40.1 575 40.1 575.43 40.1C575.85 40.1 576.28 40.1 576.7 40.09C577.13 40.09 577.55 40.09 577.98 40.09C578.4 40.09 578.83 40.09 579.25 40.09C579.68 40.09 580.1 40.08 580.53 40.08C580.96 40.08 581.38 40.07 581.81 40.07C582.23 40.07 582.66 40.06 583.08 40.05C583.51 40.05 583.93 40.04 584.36 40.03C584.78 40.02 585.21 40.01 585.63 40C586.06 39.98 586.48 39.97 586.91 39.95C587.33 39.93 587.76 39.91 588.18 39.88C588.61 39.85 589.03 39.82 589.46 39.78C589.89 39.74 590.31 39.7 590.74 39.64C591.16 39.59 591.59 39.53 592.01 39.45C592.44 39.38 592.86 39.29 593.29 39.18C593.71 39.08 594.14 38.99 594.56 38.81C594.99 38.64 595.41 38.42 595.84 38.15C596.26 37.88 596.69 37.6 597.11 37.17C597.54 36.75 597.96 36.17 598.39 35.59C598.82 35.01 599.24 34.24 599.67 33.67C600.09 33.1 600.52 32.64 600.94 32.16C601.37 31.67 601.79 31.31 602.22 30.78C602.64 30.26 603.07 29.41 603.49 29C603.92 28.59 604.34 28.7 604.77 28.32C605.19 27.93 605.62 27.48 606.04 26.68C606.47 25.88 606.89 24.36 607.32 23.52C607.75 22.67 608.17 22.47 608.6 21.61C609.02 20.75 609.45 19.2 609.87 18.37C610.3 17.55 610.72 17.24 611.15 16.68C611.57 16.13 612 14.79 612.42 15.03C612.85 15.27 613.27 17.19 613.7 18.15C614.12 19.11 614.55 19.77 614.97 20.79C615.4 21.81 615.82 23.04 616.25 24.27C616.68 25.5 617.1 27.05 617.53 28.17C617.95 29.3 618.38 30.13 618.8 31.02C619.23 31.92 619.65 32.77 620.08 33.55C620.5 34.33 620.93 35.14 621.35 35.7C621.78 36.26 622.2 36.52 622.63 36.9C623.05 37.28 623.48 37.68 623.9 37.98C624.33 38.29 624.75 38.54 625.18 38.74C625.61 38.95 626.03 39.08 626.46 39.21C626.88 39.35 627.31 39.45 627.73 39.54C628.16 39.63 628.58 39.7 629.01 39.76C629.43 39.81 629.86 39.86 630.28 39.89C630.71 39.93 631.13 39.95 631.56 39.98C631.98 40 632.41 40.01 632.83 40.03C633.26 40.04 633.68 40.05 634.11 40.06C634.54 40.07 634.96 40.07 635.39 40.08C635.81 40.08 636.24 40.08 636.66 40.09C637.09 40.09 637.51 40.09 637.94 40.09C638.36 40.09 638.79 40.1 639.21 40.1C639.64 40.1 640.06 40.1 640.49 40.1C640.91 40.1 641.34 40.1 641.76 40.1C642.19 40.1 642.61 40.1 643.04 40.1C643.47 40.1 643.89 40.1 644.32 40.1C644.74 40.1 645.17 40.1 645.59 40.1C646.02 40.1 646.44 40.1 646.87 40.1C647.29 40.1 647.72 40.1 648.14 40.1C648.57 40.1 648.99 40.1 649.42 40.1C649.84 40.1 650.27 40.1 650.69 40.1C651.12 40.1 651.54 40.1 651.97 40.1C652.4 40.1 652.82 40.1 653.25 40.1C653.67 40.1 654.1 40.1 654.52 40.1C654.95 40.1 655.37 40.1 655.8 40.1C656.22 40.1 656.65 40.1 657.07 40.1C657.5 40.1 657.92 40.1 658.35 40.1C658.77 40.1 659.2 40.1 659.62 40.1C660.05 40.1 660.69 40.1 660.9 40.1" fill="none" stroke="#333" stroke-width="0.6"/>
<path d="M571.6 55.2C571.81 55.2 572.45 55.2 572.88 55.2C573.3 55.19 573.73 55.19 574.15 55.19C574.58 55.19 575 55.19 575.43 55.19C575.85 55.19 576.28 55.18 576.7 55.18C577.13 55.18 577.55 55.18 577.98 55.17C578.4 55.17 578.83 55.16 579.25 55.15C579.68 55.15 580.1 55.14 580.53 55.13C580.96 55.12 581.38 55.11 581.81 55.09C582.23 55.08 582.66 55.06 583.08 55.04C583.51 55.02 583.93 55 584.36 54.97C584.78 54.93 585.21 54.9 585.63 54.86C586.06 54.81 586.48 54.76 586.91 54.7C587.33 54.64 587.76 54.57 588.18 54.48C588.61 54.39 589.03 54.29 589.46 54.18C589.89 54.07 590.31 54.01 590.74 53.83C591.16 53.66 591.59 53.37 592.01 53.14C592.44 52.92 592.86 52.78 593.29 52.48C593.71 52.19 594.14 51.83 594.56 51.37C594.99 50.91 595.41 50.39 595.84 49.72C596.26 49.05 596.69 48.34 597.11 47.36C597.54 46.38 597.96 44.85 598.39 43.85C598.82 42.84 599.24 42.19 599.67 41.3C600.09 40.42 600.52 39.13 600.94 38.54C601.37 37.94 601.79 38.29 602.22 37.71C602.64 37.14 603.07 35.91 603.49 35.1C603.92 34.29 604.34 33.32 604.77 32.85C605.19 32.38 605.62 32.63 606.04 32.29C606.47 31.95 606.89 30.8 607.32 30.82C607.75 30.84 608.17 31.92 608.6 32.42C609.02 32.92 609.45 32.85 609.87 33.81C610.3 34.77 610.72 36.97 611.15 38.19C611.57 39.41 612 40.09 612.42 41.14C612.85 42.19 613.27 43.53 613.7 44.47C614.12 45.41 614.55 46.03 614.97 46.78C615.4 47.52 615.82 48.31 616.25 48.94C616.68 49.58 617.1 50.14 617.53 50.61C617.95 51.09 618.38 51.45 618.8 51.81C619.23 52.18 619.65 52.52 620.08 52.8C620.5 53.08 620.93 53.27 621.35 53.48C621.78 53.69 622.2 53.91 622.63 54.07C623.05 54.23 623.48 54.33 623.9 54.44C624.33 54.54 624.75 54.62 625.18 54.69C625.61 54.77 626.03 54.82 626.46 54.87C626.88 54.92 627.31 54.96 627.73 54.99C628.16 55.02 628.58 55.04 629.01 55.07C629.43 55.09 629.86 55.1 630.28 55.12C630.71 55.13 631.13 55.14 631.56 55.15C631.98 55.16 632.41 55.16 632.83 55.17C633.26 55.17 633.68 55.18 634.11 55.18C634.54 55.18 634.96 55.19 635.39 55.19C635.81 55.19 636.24 55.19 636.66 55.19C637.09 55.19 637.51 55.2 637.94 55.2C638.36 55.2 638.79 55.2 639.21 55.2C639.64 55.2 640.06 55.2 640.49 55.2C640.91 55.2 641.34 55.2 641.76 55.2C642.19 55.2 642.61 55.2 643.04 55.2C643.47 55.2 643.89 55.2 644.32 55.2C644.74 55.2 645.17 55.2 645.59 55.2C646.02 55.2 646.44 55.2 646.87 55.2C647.29 55.2 647.72 55.2 648.14 55.2C648.57 55.2 648.99 55.2 649.42 55.2C649.84 55.2 650.27 55.2 650.69 55.2C651.12 55.2 651.54 55.2 651.97 55.2C652.4 55.2 652.82 55.2 653.25 55.2C653.67 55.2 654.1 55.2 654.52 55.2C654.95 55.2 655.37 55.2 655.8 55.2C656.22 55.2 656.65 55.2 657.07 55.2C657.5 55.2 657.92 55.2 658.35 55.2C658.77 55.2 659.2 55.2 659.62 55.2C660.05 55.2 660.69 55.2 660.9 55.2" fill="none" stroke="#3d9a5f" stroke-width="0.6"/>
<path d="M571.6 69.5C571.81 69.5 572.45 69.5 572.88 69.5C573.3 69.5 573.73 69.5 574.15 69.5C574.58 69.5 575 69.5 575.43 69.5C575.85 69.5 576.28 69.5 576.7 69.5C577.13 69.5 577.55 69.5 577.98 69.5C578.4 69.5 578.83 69.5 579.25 69.5C579.68 69.5 580.1 69.5 580.53 69.5C580.96 69.5 581.38 69.49 581.81 69.49C582.23 69.49 582.66 69.49 583.08 69.49C583.51 69.48 583.93 69.48 584.36 69.47C584.78 69.47 585.21 69.46 585.63 69.45C586.06 69.44 586.48 69.42 586.91 69.41C587.33 69.39 587.76 69.36 588.18 69.33C588.61 69.3 589.03 69.26 589.46 69.21C589.89 69.15 590.31 69.09 590.74 69.01C591.16 68.92 591.59 68.82 592.01 68.69C592.44 68.56 592.86 68.41 593.29 68.21C593.71 68 594.14 67.76 594.56 67.45C594.99 67.14 595.41 66.76 595.84 66.34C596.26 65.91 596.69 65.48 597.11 64.9C597.54 64.33 597.96 63.59 598.39 62.89C598.82 62.19 599.24 61.45 599.67 60.7C600.09 59.95 600.52 59.47 600.94 58.4C601.37 57.32 601.79 55.57 602.22 54.25C602.64 52.93 603.07 51.69 603.49 50.5C603.92 49.32 604.34 48.06 604.77 47.15C605.19 46.24 605.62 45.75 606.04 45.07C606.47 44.38 606.89 42.93 607.32 43.04C607.75 43.15 608.17 44.82 608.6 45.73C609.02 46.63 609.45 47.09 609.87 48.47C610.3 49.84 610.72 52.21 611.15 53.96C611.57 55.7 612 57.47 612.42 58.95C612.85 60.42 613.27 61.77 613.7 62.8C614.12 63.82 614.55 64.4 614.97 65.1C615.4 65.79 615.82 66.45 616.25 66.96C616.68 67.48 617.1 67.89 617.53 68.21C617.95 68.52 618.38 68.68 618.8 68.85C619.23 69.01 619.65 69.1 620.08 69.19C620.5 69.27 620.93 69.32 621.35 69.36C621.78 69.4 622.2 69.42 622.63 69.44C623.05 69.46 623.48 69.47 623.9 69.48C624.33 69.48 624.75 69.49 625.18 69.49C625.61 69.49 626.03 69.5 626.46 69.5C626.88 69.5 627.31 69.5 627.73 69.5C628.16 69.5 628.58 69.5 629.01 69.5C629.43 69.5 629.86 69.5 630.28 69.5C630.71 69.5 631.13 69.5 631.56 69.5C631.98 69.5 632.41 69.5 632.83 69.5C633.26 69.5 633.68 69.5 634.11 69.5C634.54 69.5 634.96 69.5 635.39 69.5C635.81 69.5 636.24 69.5 636.66 69.5C637.09 69.5 637.51 69.5 637.94 69.5C638.36 69.5 638.79 69.5 639.21 69.5C639.64 69.5 640.06 69.5 640.49 69.5C640.91 69.5 641.34 69.5 641.76 69.5C642.19 69.5 642.61 69.5 643.04 69.5C643.47 69.5 643.89 69.5 644.32 69.5C644.74 69.5 645.17 69.5 645.59 69.5C646.02 69.5 646.44 69.5 646.87 69.5C647.29 69.5 647.72 69.5 648.14 69.5C648.57 69.5 648.99 69.5 649.42 69.5C649.84 69.5 650.27 69.5 650.69 69.5C651.12 69.5 651.54 69.5 651.97 69.5C652.4 69.5 652.82 69.5 653.25 69.5C653.67 69.5 654.1 69.5 654.52 69.5C654.95 69.5 655.37 69.5 655.8 69.5C656.22 69.5 656.65 69.5 657.07 69.5C657.5 69.5 657.92 69.5 658.35 69.5C658.77 69.5 659.2 69.5 659.62 69.5C660.05 69.5 660.69 69.5 660.9 69.5L660.9 69.8L571.6 69.8Z" fill="#8cc7a0" stroke="#3d9a5f" stroke-width="0.6"/>
<path d="M571.6 97.3L571.6 83.5" fill="none" stroke="none" stroke-width="0.8"/>
<path d="M571.6 83.5C571.81 83.5 572.45 83.5 572.88 83.5C573.3 83.5 573.73 83.5 574.15 83.5C574.58 83.49 575 83.49 575.43 83.49C575.85 83.49 576.28 83.49 576.7 83.49C577.13 83.48 577.55 83.48 577.98 83.48C578.4 83.47 578.83 83.47 579.25 83.46C579.68 83.46 580.1 83.45 580.53 83.44C580.96 83.43 581.38 83.42 581.81 83.4C582.23 83.39 582.66 83.37 583.08 83.35C583.51 83.32 583.93 83.3 584.36 83.26C584.78 83.22 585.21 83.18 585.63 83.13C586.06 83.08 586.48 83.02 586.91 82.94C587.33 82.86 587.76 82.76 588.18 82.65C588.61 82.54 589.03 82.48 589.46 82.28C589.89 82.08 590.31 81.76 590.74 81.44C591.16 81.12 591.59 80.83 592.01 80.36C592.44 79.9 592.86 79.38 593.29 78.65C593.71 77.92 594.14 77.01 594.56 75.99C594.99 74.97 595.41 73.57 595.84 72.54C596.26 71.5 596.69 70.29 597.11 69.76C597.54 69.23 597.96 69.84 598.39 69.36C598.82 68.87 599.24 67.35 599.67 66.85C600.09 66.35 600.52 67.04 600.94 66.36C601.37 65.69 601.79 63.53 602.22 62.78C602.64 62.02 603.07 62.19 603.49 61.84C603.92 61.48 604.34 60.44 604.77 60.65C605.19 60.85 605.62 61.97 606.04 63.07C606.47 64.17 606.89 66.16 607.32 67.25C607.75 68.33 608.17 68.54 608.6 69.57C609.02 70.6 609.45 72.36 609.87 73.44C610.3 74.52 610.72 75.37 611.15 76.06C611.57 76.76 612 77.04 612.42 77.62C612.85 78.2 613.27 79.03 613.7 79.53C614.12 80.03 614.55 80.31 614.97 80.63C615.4 80.95 615.82 81.22 616.25 81.46C616.68 81.7 617.1 81.89 617.53 82.08C617.95 82.26 618.38 82.43 618.8 82.56C619.23 82.7 619.65 82.8 620.08 82.89C620.5 82.98 620.93 83.04 621.35 83.1C621.78 83.17 622.2 83.21 622.63 83.25C623.05 83.29 623.48 83.32 623.9 83.34C624.33 83.37 624.75 83.39 625.18 83.4C625.61 83.42 626.03 83.43 626.46 83.44C626.88 83.45 627.31 83.46 627.73 83.47C628.16 83.47 628.58 83.48 629.01 83.48C629.43 83.48 629.86 83.49 630.28 83.49C630.71 83.49 631.13 83.49 631.56 83.49C631.98 83.49 632.41 83.5 632.83 83.5C633.26 83.5 633.68 83.5 634.11 83.5C634.54 83.5 634.96 83.5 635.39 83.5C635.81 83.5 636.24 83.5 636.66 83.5C637.09 83.5 637.51 83.5 637.94 83.5C638.36 83.5 638.79 83.5 639.21 83.5C639.64 83.5 640.06 83.5 640.49 83.5C640.91 83.5 641.34 83.5 641.76 83.5C642.19 83.5 642.61 83.5 643.04 83.5C643.47 83.5 643.89 83.5 644.32 83.5C644.74 83.5 645.17 83.5 645.59 83.5C646.02 83.5 646.44 83.5 646.87 83.5C647.29 83.5 647.72 83.5 648.14 83.5C648.57 83.5 648.99 83.5 649.42 83.5C649.84 83.5 650.27 83.5 650.69 83.5C651.12 83.5 651.54 83.5 651.97 83.5C652.4 83.5 652.82 83.5 653.25 83.5C653.67 83.5 654.1 83.5 654.52 83.5C654.95 83.5 655.37 83.5 655.8 83.5C656.22 83.5 656.65 83.5 657.07 83.5C657.5 83.5 657.92 83.5 658.35 83.5C658.77 83.5 659.2 83.5 659.62 83.5C660.05 83.5 660.69 83.5 660.9 83.5" fill="none" stroke="#4b56a6" stroke-width="0.6"/>
<path d="M571.6 97.1C571.81 97.1 572.45 97.1 572.88 97.1C573.3 97.1 573.73 97.1 574.15 97.1C574.58 97.1 575 97.1 575.43 97.1C575.85 97.1 576.28 97.1 576.7 97.1C577.13 97.1 577.55 97.1 577.98 97.1C578.4 97.1 578.83 97.1 579.25 97.1C579.68 97.1 580.1 97.1 580.53 97.1C580.96 97.1 581.38 97.1 581.81 97.1C582.23 97.1 582.66 97.1 583.08 97.1C583.51 97.1 583.93 97.1 584.36 97.1C584.78 97.1 585.21 97.1 585.63 97.1C586.06 97.09 586.48 97.09 586.91 97.08C587.33 97.07 587.76 97.06 588.18 97.01C588.61 96.96 589.03 96.92 589.46 96.78C589.89 96.64 590.31 96.47 590.74 96.16C591.16 95.84 591.59 95.48 592.01 94.88C592.44 94.28 592.86 93.68 593.29 92.57C593.71 91.46 594.14 89.6 594.56 88.22C594.99 86.84 595.41 85.95 595.84 84.3C596.26 82.65 596.69 79.98 597.11 78.33C597.54 76.68 597.96 75.22 598.39 74.38C598.82 73.54 599.24 73.67 599.67 73.28C600.09 72.89 600.52 72.28 600.94 72.03C601.37 71.77 601.79 71.75 602.22 71.76C602.64 71.77 603.07 71.64 603.49 72.1C603.92 72.56 604.34 73.45 604.77 74.52C605.19 75.6 605.62 77.07 606.04 78.55C606.47 80.03 606.89 81.83 607.32 83.41C607.75 84.99 608.17 86.54 608.6 88.04C609.02 89.55 609.45 91.26 609.87 92.42C610.3 93.57 610.72 94.33 611.15 94.98C611.57 95.63 612 95.98 612.42 96.29C612.85 96.61 613.27 96.73 613.7 96.85C614.12 96.98 614.55 97 614.97 97.04C615.4 97.08 615.82 97.08 616.25 97.09C616.68 97.1 617.1 97.1 617.53 97.1C617.95 97.1 618.38 97.1 618.8 97.1C619.23 97.1 619.65 97.1 620.08 97.1C620.5 97.1 620.93 97.1 621.35 97.1C621.78 97.1 622.2 97.1 622.63 97.1C623.05 97.1 623.48 97.1 623.9 97.1C624.33 97.1 624.75 97.1 625.18 97.1C625.61 97.1 626.03 97.1 626.46 97.1C626.88 97.1 627.31 97.1 627.73 97.1C628.16 97.1 628.58 97.1 629.01 97.1C629.43 97.1 629.86 97.1 630.28 97.1C630.71 97.1 631.13 97.1 631.56 97.1C631.98 97.1 632.41 97.1 632.83 97.1C633.26 97.1 633.68 97.1 634.11 97.1C634.54 97.1 634.96 97.1 635.39 97.1C635.81 97.1 636.24 97.1 636.66 97.1C637.09 97.1 637.51 97.1 637.94 97.1C638.36 97.1 638.79 97.1 639.21 97.1C639.64 97.1 640.06 97.1 640.49 97.1C640.91 97.1 641.34 97.1 641.76 97.1C642.19 97.1 642.61 97.1 643.04 97.1C643.47 97.1 643.89 97.1 644.32 97.1C644.74 97.1 645.17 97.1 645.59 97.1C646.02 97.1 646.44 97.1 646.87 97.1C647.29 97.1 647.72 97.1 648.14 97.1C648.57 97.1 648.99 97.1 649.42 97.1C649.84 97.1 650.27 97.1 650.69 97.1C651.12 97.1 651.54 97.1 651.97 97.1C652.4 97.1 652.82 97.1 653.25 97.1C653.67 97.1 654.1 97.1 654.52 97.1C654.95 97.1 655.37 97.1 655.8 97.1C656.22 97.1 656.65 97.1 657.07 97.1C657.5 97.1 657.92 97.1 658.35 97.1C658.77 97.1 659.2 97.1 659.62 97.1C660.05 97.1 660.69 97.1 660.9 97.1L660.9 97.3L571.6 97.3Z" fill="#8d9ed2" stroke="#4b56a6" stroke-width="0.6"/>
<rect x="571.6" y="10.2" width="89.3" height="87.1" fill="none" stroke="#555" stroke-width="0.8"/>
<line x1="583" y1="97.3" x2="583" y2="98.6" stroke="#555" stroke-width="0.6"/>
<line x1="590" y1="97.3" x2="590" y2="98.6" stroke="#555" stroke-width="0.6"/>
<line x1="594" y1="97.3" x2="594" y2="98.6" stroke="#555" stroke-width="0.6"/>
<line x1="597.8" y1="97.3" x2="597.8" y2="99.3" stroke="#555" stroke-width="0.6"/>
<line x1="607.3" y1="97.3" x2="607.3" y2="99.3" stroke="#555" stroke-width="0.6"/>
<line x1="614" y1="97.3" x2="614" y2="98.6" stroke="#555" stroke-width="0.6"/>
<line x1="620" y1="97.3" x2="620" y2="98.6" stroke="#555" stroke-width="0.6"/>
<line x1="624" y1="97.3" x2="624" y2="98.6" stroke="#555" stroke-width="0.6"/>
<line x1="627" y1="97.3" x2="627" y2="98.6" stroke="#555" stroke-width="0.6"/>
<line x1="629.5" y1="97.3" x2="629.5" y2="98.6" stroke="#555" stroke-width="0.6"/>
<line x1="631.5" y1="97.3" x2="631.5" y2="98.6" stroke="#555" stroke-width="0.6"/>
<line x1="633.6" y1="97.3" x2="633.6" y2="99.3" stroke="#555" stroke-width="0.6"/>
<line x1="640" y1="97.3" x2="640" y2="98.6" stroke="#555" stroke-width="0.6"/>
<line x1="646" y1="97.3" x2="646" y2="98.6" stroke="#555" stroke-width="0.6"/>
<line x1="650" y1="97.3" x2="650" y2="98.6" stroke="#555" stroke-width="0.6"/>
<line x1="653" y1="97.3" x2="653" y2="98.6" stroke="#555" stroke-width="0.6"/>
<line x1="655.5" y1="97.3" x2="655.5" y2="98.6" stroke="#555" stroke-width="0.6"/>
<line x1="657.5" y1="97.3" x2="657.5" y2="98.6" stroke="#555" stroke-width="0.6"/>
<text x="658" y="38.79" font-size="7.2" text-anchor="end">178</text>
<text x="658" y="52.99" font-size="7.2" text-anchor="end" fill="#3d9a5f">90</text>
<text x="658" y="67.29" font-size="7.2" text-anchor="end" fill="#3d9a5f">101</text>
<text x="658" y="81.89" font-size="7.2" text-anchor="end" fill="#4b56a6">77</text>
<text x="658" y="94.89" font-size="7.2" text-anchor="end" fill="#4b56a6">52</text>
<text x="567.9" y="40.26" font-size="8.5" text-anchor="end">Ex vivo</text>
<text x="567.9" y="55.16" font-size="8.5" text-anchor="end" fill="#3d9a5f">IL-7</text>
<text x="567.9" y="70.46" font-size="8.5" text-anchor="end" fill="#3d9a5f">+VPS34i</text>
<text x="567.9" y="86.56" font-size="8.5" text-anchor="end" fill="#4b56a6">IL-7</text>
<text x="567.9" y="98.66" font-size="8.5" text-anchor="end" fill="#4b56a6">+VPS34i</text>
<text x="521.6" y="63.66" font-size="8.5" text-anchor="middle">4 h</text>
<text x="518.7" y="94.76" font-size="8.5" text-anchor="middle">24 h</text>
<line x1="531.8" y1="51" x2="531.8" y2="70.8" stroke="#a8d5b6" stroke-width="1.3"/>
<line x1="531.8" y1="82.5" x2="531.8" y2="100.5" stroke="#b8bee3" stroke-width="1.3"/>
<text x="597.8" y="109.79" font-size="7.2" text-anchor="middle">0</text>
<text x="604.2" y="109.8" font-size="7.2">10<tspan font-size="4.8" dy="-2.8">2</tspan></text>
<text x="630.5" y="109.8" font-size="7.2">10<tspan font-size="4.8" dy="-2.8">3</tspan></text>
<line x1="572.3" y1="114.9" x2="656" y2="114.9" stroke="#3e4f6c" stroke-width="1.1"/>
<path d="M660.8 114.9L655.2 112.5L655.2 117.3Z" fill="#3e4f6c" stroke="none" stroke-width="0.8"/>
<text x="616.8" y="125.04" font-size="7.9" text-anchor="middle">IL-7Rα - BV421</text>
<text x="-0.5" y="266.9" font-size="13" font-weight="bold" stroke="#000" stroke-width="0.55">d</text>
<text x="228.5" y="268.74" font-size="9" text-anchor="middle">Clustered enrichment analysis of</text>
<text x="228.5" y="278.84" font-size="9" text-anchor="middle">proteins in naive CD8 T cells enriched</text>
<text x="228.5" y="289.24" font-size="9" text-anchor="middle">by VPS34 inhibition</text>
<rect x="144.2" y="299.7" width="138.3" height="8.1" fill="#f9c9c9" stroke="#555" stroke-width="0.7"/>
<text x="140.3" y="307.1" font-size="9.3" text-anchor="end">Mitochondria</text>
<rect x="144.2" y="315.4" width="53.89" height="8.1" fill="#f9c9c9" stroke="#555" stroke-width="0.7"/>
<text x="140.3" y="322.8" font-size="9.3" text-anchor="end">Lipid metabolism</text>
<rect x="144.2" y="330.8" width="33.05" height="8.1" fill="#f9c9c9" stroke="#555" stroke-width="0.7"/>
<text x="140.3" y="338.2" font-size="9.3" text-anchor="end">Apopototic mitochondrial changes</text>
<rect x="144.2" y="346.4" width="23.16" height="8.1" fill="#f9c9c9" stroke="#555" stroke-width="0.7"/>
<text x="140.3" y="353.8" font-size="9.3" text-anchor="end">Mitochondrial inner membrane</text>
<rect x="144.2" y="362.2" width="22.31" height="8.1" fill="#f9c9c9" stroke="#555" stroke-width="0.7"/>
<text x="140.3" y="369.6" font-size="9.3" text-anchor="end">Peroxisome</text>
<line x1="144.2" y1="293.1" x2="144.2" y2="376.4" stroke="#6b6b6b" stroke-width="0.8"/>
<line x1="144.2" y1="376.4" x2="312.6" y2="376.4" stroke="#6b6b6b" stroke-width="0.8"/>
<line x1="144.2" y1="376.4" x2="144.2" y2="379" stroke="#6b6b6b" stroke-width="0.8"/>
<text x="144.2" y="390.54" font-size="7.9" text-anchor="middle">0</text>
<line x1="186.3" y1="376.4" x2="186.3" y2="379" stroke="#6b6b6b" stroke-width="0.8"/>
<text x="186.3" y="390.54" font-size="7.9" text-anchor="middle">2</text>
<line x1="228.4" y1="376.4" x2="228.4" y2="379" stroke="#6b6b6b" stroke-width="0.8"/>
<text x="228.4" y="390.54" font-size="7.9" text-anchor="middle">4</text>
<line x1="270.5" y1="376.4" x2="270.5" y2="379" stroke="#6b6b6b" stroke-width="0.8"/>
<text x="270.5" y="390.54" font-size="7.9" text-anchor="middle">6</text>
<line x1="312.6" y1="376.4" x2="312.6" y2="379" stroke="#6b6b6b" stroke-width="0.8"/>
<text x="312.6" y="390.54" font-size="7.9" text-anchor="middle">8</text>
<text x="228.5" y="403.2" font-size="8.9" text-anchor="middle">Enrichment score</text>
<text x="326.8" y="263.2" font-size="13" font-weight="bold" stroke="#000" stroke-width="0.55">e</text>
<text x="371.8" y="285.46" font-size="7.4" text-anchor="middle">0.01</text>
<line x1="363.8" y1="287.2" x2="379.9" y2="287.2" stroke="#c8c8c8" stroke-width="0.9"/>
<rect x="359.4" y="308.4" width="9.5" height="52.9" fill="#fff" stroke="#3a3a3a" stroke-width="0.75"/>
<rect x="375.2" y="292.3" width="9.5" height="69" fill="#fff" stroke="#ea4a43" stroke-width="0.75"/>
<line x1="364.1" y1="306" x2="364.1" y2="309.5" stroke="#333" stroke-width="0.8"/>
<line x1="362.1" y1="306" x2="366.1" y2="306" stroke="#333" stroke-width="0.8"/>
<line x1="362.1" y1="309.5" x2="366.1" y2="309.5" stroke="#333" stroke-width="0.8"/>
<line x1="380" y1="291.5" x2="380" y2="296.5" stroke="#e4342d" stroke-width="0.8"/>
<line x1="378" y1="291.5" x2="382" y2="291.5" stroke="#e4342d" stroke-width="0.8"/>
<line x1="378" y1="296.5" x2="382" y2="296.5" stroke="#e4342d" stroke-width="0.8"/>
<circle cx="360.6" cy="308.4" r="2.15" fill="#231f20" stroke="none" stroke-width="0.7"/>
<circle cx="363.5" cy="305.8" r="2.15" fill="#231f20" stroke="none" stroke-width="0.7"/>
<circle cx="367.4" cy="306.5" r="2.15" fill="#231f20" stroke="none" stroke-width="0.7"/>
<circle cx="376.6" cy="292" r="2.15" fill="#e4342d" stroke="none" stroke-width="0.7"/>
<circle cx="383.2" cy="292.3" r="2.15" fill="#e4342d" stroke="none" stroke-width="0.7"/>
<circle cx="379.9" cy="297.4" r="2.15" fill="#e4342d" stroke="none" stroke-width="0.7"/>
<line x1="353.9" y1="287.7" x2="353.9" y2="361.3" stroke="#6b6b6b" stroke-width="0.8"/>
<line x1="351.2" y1="361.3" x2="353.9" y2="361.3" stroke="#6b6b6b" stroke-width="0.8"/>
<text x="349" y="364.14" font-size="7.9" text-anchor="end">0</text>
<line x1="351.2" y1="346.6" x2="353.9" y2="346.6" stroke="#6b6b6b" stroke-width="0.8"/>
<text x="349" y="349.44" font-size="7.9" text-anchor="end">2</text>
<line x1="351.2" y1="331.9" x2="353.9" y2="331.9" stroke="#6b6b6b" stroke-width="0.8"/>
<text x="349" y="334.74" font-size="7.9" text-anchor="end">4</text>
<line x1="351.2" y1="317.2" x2="353.9" y2="317.2" stroke="#6b6b6b" stroke-width="0.8"/>
<text x="349" y="320.04" font-size="7.9" text-anchor="end">6</text>
<line x1="351.2" y1="302.5" x2="353.9" y2="302.5" stroke="#6b6b6b" stroke-width="0.8"/>
<text x="349" y="305.34" font-size="7.9" text-anchor="end">8</text>
<line x1="351.2" y1="287.8" x2="353.9" y2="287.8" stroke="#6b6b6b" stroke-width="0.8"/>
<text x="349" y="290.64" font-size="7.9" text-anchor="end">10</text>
<line x1="353.9" y1="361.3" x2="390.8" y2="361.3" stroke="#6b6b6b" stroke-width="0.8"/>
<text transform="translate(331.4 324) rotate(-90)" x="0" y="3.1" font-size="8.6" text-anchor="middle">% cell mass</text>
<text x="363.8" y="371.29" font-size="7.2" text-anchor="middle">IL-7</text>
<text x="379.9" y="371.29" font-size="7.2" text-anchor="middle" fill="#e5352e">IL-7</text>
<text x="378" y="379.59" font-size="7.2" text-anchor="middle" fill="#e5352e">+VPS34i</text>
<text x="402.4" y="263" font-size="13" font-weight="bold" stroke="#000" stroke-width="0.55">f</text>
<text x="473" y="281.46" font-size="7.4" text-anchor="middle">0.05</text>
<line x1="460.5" y1="282.6" x2="484.7" y2="282.6" stroke="#c8c8c8" stroke-width="0.9"/>
<path d="M453.1 326.6C453.12 326.75 452.72 326.77 453.2 327.5C453.68 328.23 455.08 329.75 456 331C456.92 332.25 458.25 333.83 458.7 335C459.15 336.17 459.07 336.92 458.7 338C458.33 339.08 457 340.45 456.5 341.5C456 342.55 455.83 343.83 455.7 344.3L465.3 344.3C465.17 343.83 465 342.55 464.5 341.5C464 340.45 462.67 339.08 462.3 338C461.93 336.92 461.85 336.17 462.3 335C462.75 333.83 464.08 332.25 465 331C465.92 329.75 467.32 328.23 467.8 327.5C468.28 326.77 467.88 326.75 467.9 326.6Z" fill="none" stroke="#231f20" stroke-width="0.75"/>
<path d="M477.2 294C477.2 294.17 477.13 294 477.2 295C477.27 296 477.2 298.33 477.6 300C478 301.67 478.73 303.17 479.6 305C480.47 306.83 482.22 309.17 482.8 311C483.38 312.83 483.28 314.17 483.1 316C482.92 317.83 482.03 319.45 481.7 322C481.37 324.55 481.2 329.75 481.1 331.3L489.1 331.3C489 329.75 488.83 324.55 488.5 322C488.17 319.45 487.28 317.83 487.1 316C486.92 314.17 486.82 312.83 487.4 311C487.98 309.17 489.73 306.83 490.6 305C491.47 303.17 492.2 301.67 492.6 300C493 298.33 492.93 296 493 295C493.07 294 493 294.17 493 294Z" fill="none" stroke="#e4342d" stroke-width="0.75"/>
<line x1="478" y1="299.9" x2="492.2" y2="299.9" stroke="#e4342d" stroke-width="0.6" stroke-dasharray="1.5 1"/>
<circle cx="458" cy="326.9" r="1.8" fill="#231f20" stroke="none" stroke-width="0.7"/>
<circle cx="463.3" cy="326.9" r="1.8" fill="#231f20" stroke="none" stroke-width="0.7"/>
<circle cx="460.5" cy="344.5" r="1.8" fill="#231f20" stroke="none" stroke-width="0.7"/>
<circle cx="485.1" cy="294.3" r="1.8" fill="#231f20" stroke="none" stroke-width="0.7"/>
<circle cx="485.1" cy="299.9" r="1.8" fill="#231f20" stroke="none" stroke-width="0.7"/>
<circle cx="485.1" cy="331.3" r="1.8" fill="#231f20" stroke="none" stroke-width="0.7"/>
<line x1="445.1" y1="275.8" x2="445.1" y2="361.3" stroke="#6b6b6b" stroke-width="0.8"/>
<line x1="441.1" y1="361.3" x2="445.1" y2="361.3" stroke="#6b6b6b" stroke-width="0.8"/>
<text x="437.3" y="364.4" font-size="8.6" text-anchor="end">0</text>
<line x1="441.1" y1="339.93" x2="445.1" y2="339.93" stroke="#6b6b6b" stroke-width="0.8"/>
<text x="437.3" y="343.03" font-size="8.6" text-anchor="end">1,000</text>
<line x1="441.1" y1="318.56" x2="445.1" y2="318.56" stroke="#6b6b6b" stroke-width="0.8"/>
<text x="437.3" y="321.66" font-size="8.6" text-anchor="end">2,000</text>
<line x1="441.1" y1="297.19" x2="445.1" y2="297.19" stroke="#6b6b6b" stroke-width="0.8"/>
<text x="437.3" y="300.29" font-size="8.6" text-anchor="end">3,000</text>
<line x1="441.1" y1="275.82" x2="445.1" y2="275.82" stroke="#6b6b6b" stroke-width="0.8"/>
<text x="437.3" y="278.92" font-size="8.6" text-anchor="end">4,000</text>
<line x1="445.1" y1="361.3" x2="501.4" y2="361.3" stroke="#6b6b6b" stroke-width="0.8"/>
<text transform="translate(407.2 317.5) rotate(-90)" x="0" y="3.17" font-size="8.8" text-anchor="middle">MitoTracker DR MFI</text>
<text x="459.9" y="370.89" font-size="7.2" text-anchor="middle" fill="#555">IL-7</text>
<text x="486.8" y="370.89" font-size="7.2" text-anchor="middle" fill="#e5352e">IL-7</text>
<text x="485.2" y="379.49" font-size="7.2" text-anchor="middle" fill="#e5352e">+VPS34i</text>
<text x="509.2" y="263.6" font-size="13" font-weight="bold" stroke="#000" stroke-width="0.55">g</text>
<text x="556.8" y="274.95" font-size="8.2" text-anchor="middle">ACLY</text>
<text x="556.8" y="289.56" font-size="7.4" text-anchor="middle">0.01</text>
<line x1="548.8" y1="291" x2="565" y2="291" stroke="#c8c8c8" stroke-width="0.9"/>
<rect x="543.6" y="342.2" width="10.2" height="19.2" fill="#fff" stroke="#3a3a3a" stroke-width="0.75"/>
<rect x="559.4" y="316.1" width="10.2" height="45.3" fill="#fff" stroke="#ea4a43" stroke-width="0.75"/>
<line x1="548.7" y1="337.9" x2="548.7" y2="346.5" stroke="#333" stroke-width="0.8"/>
<line x1="546.7" y1="337.9" x2="550.7" y2="337.9" stroke="#333" stroke-width="0.8"/>
<line x1="546.7" y1="346.5" x2="550.7" y2="346.5" stroke="#333" stroke-width="0.8"/>
<line x1="564.5" y1="305.5" x2="564.5" y2="325.4" stroke="#e4342d" stroke-width="0.8"/>
<line x1="562.2" y1="305.5" x2="566.8" y2="305.5" stroke="#e4342d" stroke-width="0.8"/>
<line x1="562.2" y1="325.4" x2="566.8" y2="325.4" stroke="#e4342d" stroke-width="0.8"/>
<circle cx="545" cy="339.4" r="2.15" fill="#231f20" stroke="none" stroke-width="0.7"/>
<circle cx="552" cy="339.4" r="2.15" fill="#231f20" stroke="none" stroke-width="0.7"/>
<circle cx="548.8" cy="346.9" r="2.15" fill="#231f20" stroke="none" stroke-width="0.7"/>
<circle cx="564.6" cy="305.5" r="2.15" fill="#e4342d" stroke="none" stroke-width="0.7"/>
<circle cx="560.9" cy="321.7" r="2.15" fill="#e4342d" stroke="none" stroke-width="0.7"/>
<circle cx="568.3" cy="320.8" r="2.15" fill="#e4342d" stroke="none" stroke-width="0.7"/>
<line x1="538.5" y1="288.2" x2="538.5" y2="361.4" stroke="#6b6b6b" stroke-width="0.8"/>
<line x1="535.8" y1="361.4" x2="538.5" y2="361.4" stroke="#6b6b6b" stroke-width="0.8"/>
<text x="533.6" y="364.24" font-size="7.9" text-anchor="end">0</text>
<line x1="535.8" y1="331.9" x2="538.5" y2="331.9" stroke="#6b6b6b" stroke-width="0.8"/>
<text x="533.6" y="334.74" font-size="7.9" text-anchor="end">1</text>
<line x1="535.8" y1="302.4" x2="538.5" y2="302.4" stroke="#6b6b6b" stroke-width="0.8"/>
<text x="533.6" y="305.24" font-size="7.9" text-anchor="end">2</text>
<line x1="538.5" y1="361.4" x2="574.9" y2="361.4" stroke="#6b6b6b" stroke-width="0.8"/>
<text transform="translate(517.3 325.5) rotate(-90)" x="0" y="3.17" font-size="8.8" text-anchor="middle">Copies per cell (×10<tspan font-size="5.5" dy="-3.2">4</tspan><tspan dy="3.2">)</tspan></text>
<text x="548.8" y="370.89" font-size="7.2" text-anchor="middle">IL-7</text>
<text x="566.5" y="370.89" font-size="7.2" text-anchor="middle" fill="#e5352e">IL-7</text>
<text x="564.2" y="379.79" font-size="7.2" text-anchor="middle" fill="#e5352e">+VPS34i</text>
<text x="627.5" y="274.95" font-size="8.2" text-anchor="middle">TOMM40</text>
<text x="627.5" y="287.16" font-size="7.4" text-anchor="middle">0.002</text>
<line x1="618.5" y1="289.1" x2="634.9" y2="289.1" stroke="#c8c8c8" stroke-width="0.9"/>
<rect x="614.2" y="339.8" width="10.3" height="21.6" fill="#fff" stroke="#3a3a3a" stroke-width="0.75"/>
<rect x="630.3" y="304.4" width="10.2" height="57" fill="#fff" stroke="#ea4a43" stroke-width="0.75"/>
<line x1="619.4" y1="334.5" x2="619.4" y2="345" stroke="#333" stroke-width="0.8"/>
<line x1="617.4" y1="334.5" x2="621.4" y2="334.5" stroke="#333" stroke-width="0.8"/>
<line x1="617.4" y1="345" x2="621.4" y2="345" stroke="#333" stroke-width="0.8"/>
<line x1="635.4" y1="295.6" x2="635.4" y2="313" stroke="#e4342d" stroke-width="0.8"/>
<line x1="633.1" y1="295.6" x2="637.7" y2="295.6" stroke="#e4342d" stroke-width="0.8"/>
<line x1="633.1" y1="313" x2="637.7" y2="313" stroke="#e4342d" stroke-width="0.8"/>
<circle cx="615.7" cy="339.8" r="2.15" fill="#231f20" stroke="none" stroke-width="0.7"/>
<circle cx="619.5" cy="333.8" r="2.15" fill="#231f20" stroke="none" stroke-width="0.7"/>
<circle cx="622.8" cy="337.2" r="2.15" fill="#231f20" stroke="none" stroke-width="0.7"/>
<circle cx="634.9" cy="296.6" r="2.15" fill="#e4342d" stroke="none" stroke-width="0.7"/>
<circle cx="634.9" cy="305.9" r="2.15" fill="#e4342d" stroke="none" stroke-width="0.7"/>
<circle cx="634.9" cy="310.5" r="2.15" fill="#e4342d" stroke="none" stroke-width="0.7"/>
<line x1="609.2" y1="288.2" x2="609.2" y2="361.4" stroke="#6b6b6b" stroke-width="0.8"/>
<line x1="606.5" y1="361.4" x2="609.2" y2="361.4" stroke="#6b6b6b" stroke-width="0.8"/>
<text x="604.3" y="364.24" font-size="7.9" text-anchor="end">0</text>
<line x1="606.5" y1="324.8" x2="609.2" y2="324.8" stroke="#6b6b6b" stroke-width="0.8"/>
<text x="604.3" y="327.64" font-size="7.9" text-anchor="end">1</text>
<line x1="606.5" y1="288.2" x2="609.2" y2="288.2" stroke="#6b6b6b" stroke-width="0.8"/>
<text x="604.3" y="291.04" font-size="7.9" text-anchor="end">2</text>
<line x1="609.2" y1="361.4" x2="645.5" y2="361.4" stroke="#6b6b6b" stroke-width="0.8"/>
<text transform="translate(588 325.5) rotate(-90)" x="0" y="3.17" font-size="8.8" text-anchor="middle">Copies per cell (×10<tspan font-size="5.5" dy="-3.2">4</tspan><tspan dy="3.2">)</tspan></text>
<text x="619.5" y="370.79" font-size="7.2" text-anchor="middle">IL-7</text>
<text x="637.1" y="370.79" font-size="7.2" text-anchor="middle" fill="#e5352e">IL-7</text>
<text x="635.3" y="379.69" font-size="7.2" text-anchor="middle" fill="#e5352e">+VPS34i</text>
<circle cx="651.1" cy="288.2" r="2" fill="#231f20" stroke="none" stroke-width="0.7"/>
<circle cx="651.1" cy="298" r="2" fill="#e4342d" stroke="none" stroke-width="0.7"/>
<text x="656.7" y="291.22" font-size="8.4">IL-7</text>
<text x="656.7" y="301.02" font-size="8.4">IL-7+</text>
<text x="656.7" y="311.12" font-size="8.4">VPS34i</text>
<text x="-0.5" y="425.8" font-size="13" font-weight="bold" stroke="#000" stroke-width="0.55">h</text>
<rect x="43.4" y="439.8" width="10.63" height="2" fill="#3252a8"/>
<rect x="53.98" y="439.8" width="10.63" height="2" fill="#546eb5"/>
<rect x="64.57" y="439.8" width="10.63" height="2" fill="#e3e5ee"/>
<rect x="75.15" y="439.8" width="10.63" height="2" fill="#f5f3f5"/>
<rect x="85.73" y="439.8" width="10.63" height="2" fill="#e94242"/>
<rect x="96.32" y="439.8" width="10.63" height="2" fill="#f4c2c2"/>
<rect x="43.4" y="441.6" width="10.63" height="1.7" fill="#3655aa"/>
<rect x="53.98" y="441.6" width="10.63" height="1.7" fill="#3252a8"/>
<rect x="64.57" y="441.6" width="10.63" height="1.7" fill="#f7e6e6"/>
<rect x="75.15" y="441.6" width="10.63" height="1.7" fill="#eb5454"/>
<rect x="85.73" y="441.6" width="10.63" height="1.7" fill="#ec5f5f"/>
<rect x="96.32" y="441.6" width="10.63" height="1.7" fill="#e72424"/>
<rect x="43.4" y="443.1" width="10.63" height="1.7" fill="#3252a8"/>
<rect x="53.98" y="443.1" width="10.63" height="1.7" fill="#3252a8"/>
<rect x="64.57" y="443.1" width="10.63" height="1.7" fill="#f6dede"/>
<rect x="75.15" y="443.1" width="10.63" height="1.7" fill="#ec5f5f"/>
<rect x="85.73" y="443.1" width="10.63" height="1.7" fill="#e83535"/>
<rect x="96.32" y="443.1" width="10.63" height="1.7" fill="#e72424"/>
<rect x="43.4" y="444.6" width="10.63" height="1.7" fill="#4d68b3"/>
<rect x="53.98" y="444.6" width="10.63" height="1.7" fill="#6c82bf"/>
<rect x="64.57" y="444.6" width="10.63" height="1.7" fill="#f5d2d2"/>
<rect x="75.15" y="444.6" width="10.63" height="1.7" fill="#e72424"/>
<rect x="85.73" y="444.6" width="10.63" height="1.7" fill="#e72424"/>
<rect x="96.32" y="444.6" width="10.63" height="1.7" fill="#ed6b6b"/>
<rect x="43.4" y="446.1" width="10.63" height="1.2" fill="#3958ab"/>
<rect x="53.98" y="446.1" width="10.63" height="1.2" fill="#4e69b3"/>
<rect x="64.57" y="446.1" width="10.63" height="1.2" fill="#f08e8e"/>
<rect x="75.15" y="446.1" width="10.63" height="1.2" fill="#ee7777"/>
<rect x="85.73" y="446.1" width="10.63" height="1.2" fill="#e93f3f"/>
<rect x="96.32" y="446.1" width="10.63" height="1.2" fill="#e72424"/>
<rect x="43.4" y="447.1" width="10.63" height="2" fill="#506ab4"/>
<rect x="53.98" y="447.1" width="10.63" height="2" fill="#3252a8"/>
<rect x="64.57" y="447.1" width="10.63" height="2" fill="#f4bfbf"/>
<rect x="75.15" y="447.1" width="10.63" height="2" fill="#e72424"/>
<rect x="85.73" y="447.1" width="10.63" height="2" fill="#e72424"/>
<rect x="96.32" y="447.1" width="10.63" height="2" fill="#e72424"/>
<rect x="43.4" y="448.9" width="10.63" height="1.7" fill="#3252a8"/>
<rect x="53.98" y="448.9" width="10.63" height="1.7" fill="#5872b7"/>
<rect x="64.57" y="448.9" width="10.63" height="1.7" fill="#f8f3f3"/>
<rect x="75.15" y="448.9" width="10.63" height="1.7" fill="#e93b3b"/>
<rect x="85.73" y="448.9" width="10.63" height="1.7" fill="#e72424"/>
<rect x="96.32" y="448.9" width="10.63" height="1.7" fill="#eb5252"/>
<rect x="43.4" y="450.4" width="10.63" height="2" fill="#3252a8"/>
<rect x="53.98" y="450.4" width="10.63" height="2" fill="#3252a8"/>
<rect x="64.57" y="450.4" width="10.63" height="2" fill="#dde0eb"/>
<rect x="75.15" y="450.4" width="10.63" height="2" fill="#ef8383"/>
<rect x="85.73" y="450.4" width="10.63" height="2" fill="#e93b3b"/>
<rect x="96.32" y="450.4" width="10.63" height="2" fill="#e83636"/>
<rect x="43.4" y="452.2" width="10.63" height="2.4" fill="#3252a8"/>
<rect x="53.98" y="452.2" width="10.63" height="2.4" fill="#6078ba"/>
<rect x="64.57" y="452.2" width="10.63" height="2.4" fill="#d0d5e6"/>
<rect x="75.15" y="452.2" width="10.63" height="2.4" fill="#ee8080"/>
<rect x="85.73" y="452.2" width="10.63" height="2.4" fill="#e72424"/>
<rect x="96.32" y="452.2" width="10.63" height="2.4" fill="#ed7272"/>
<rect x="43.4" y="454.4" width="10.63" height="2.4" fill="#3252a8"/>
<rect x="53.98" y="454.4" width="10.63" height="2.4" fill="#5771b7"/>
<rect x="64.57" y="454.4" width="10.63" height="2.4" fill="#7086c1"/>
<rect x="75.15" y="454.4" width="10.63" height="2.4" fill="#ee8080"/>
<rect x="85.73" y="454.4" width="10.63" height="2.4" fill="#ec6161"/>
<rect x="96.32" y="454.4" width="10.63" height="2.4" fill="#e72424"/>
<rect x="43.4" y="456.6" width="10.63" height="1.7" fill="#4b66b2"/>
<rect x="53.98" y="456.6" width="10.63" height="1.7" fill="#405eae"/>
<rect x="64.57" y="456.6" width="10.63" height="1.7" fill="#f6f4f5"/>
<rect x="75.15" y="456.6" width="10.63" height="1.7" fill="#ee7575"/>
<rect x="85.73" y="456.6" width="10.63" height="1.7" fill="#e72424"/>
<rect x="96.32" y="456.6" width="10.63" height="1.7" fill="#bec6df"/>
<rect x="43.4" y="458.1" width="10.63" height="1.7" fill="#3252a8"/>
<rect x="53.98" y="458.1" width="10.63" height="1.7" fill="#5872b7"/>
<rect x="64.57" y="458.1" width="10.63" height="1.7" fill="#3252a8"/>
<rect x="75.15" y="458.1" width="10.63" height="1.7" fill="#ee7c7c"/>
<rect x="85.73" y="458.1" width="10.63" height="1.7" fill="#e72424"/>
<rect x="96.32" y="458.1" width="10.63" height="1.7" fill="#e72424"/>
<rect x="43.4" y="459.6" width="10.63" height="1.4" fill="#3f5dad"/>
<rect x="53.98" y="459.6" width="10.63" height="1.4" fill="#3252a8"/>
<rect x="64.57" y="459.6" width="10.63" height="1.4" fill="#cfd4e6"/>
<rect x="75.15" y="459.6" width="10.63" height="1.4" fill="#ed7272"/>
<rect x="85.73" y="459.6" width="10.63" height="1.4" fill="#ea4545"/>
<rect x="96.32" y="459.6" width="10.63" height="1.4" fill="#e72424"/>
<rect x="43.4" y="460.8" width="10.63" height="1.2" fill="#3252a8"/>
<rect x="53.98" y="460.8" width="10.63" height="1.2" fill="#8899ca"/>
<rect x="64.57" y="460.8" width="10.63" height="1.2" fill="#5670b6"/>
<rect x="75.15" y="460.8" width="10.63" height="1.2" fill="#ee7a7a"/>
<rect x="85.73" y="460.8" width="10.63" height="1.2" fill="#e82f2f"/>
<rect x="96.32" y="460.8" width="10.63" height="1.2" fill="#e93f3f"/>
<rect x="43.4" y="461.8" width="10.63" height="1.2" fill="#3252a8"/>
<rect x="53.98" y="461.8" width="10.63" height="1.2" fill="#3252a8"/>
<rect x="64.57" y="461.8" width="10.63" height="1.2" fill="#7589c2"/>
<rect x="75.15" y="461.8" width="10.63" height="1.2" fill="#e72424"/>
<rect x="85.73" y="461.8" width="10.63" height="1.2" fill="#e72727"/>
<rect x="96.32" y="461.8" width="10.63" height="1.2" fill="#f09393"/>
<rect x="43.4" y="462.8" width="10.63" height="2" fill="#3252a8"/>
<rect x="53.98" y="462.8" width="10.63" height="2" fill="#3252a8"/>
<rect x="64.57" y="462.8" width="10.63" height="2" fill="#9facd3"/>
<rect x="75.15" y="462.8" width="10.63" height="2" fill="#e72424"/>
<rect x="85.73" y="462.8" width="10.63" height="2" fill="#e72424"/>
<rect x="96.32" y="462.8" width="10.63" height="2" fill="#f4c4c4"/>
<rect x="43.4" y="464.6" width="10.63" height="1.7" fill="#7387c1"/>
<rect x="53.98" y="464.6" width="10.63" height="1.7" fill="#97a6d0"/>
<rect x="64.57" y="464.6" width="10.63" height="1.7" fill="#3252a8"/>
<rect x="75.15" y="464.6" width="10.63" height="1.7" fill="#f6dbdb"/>
<rect x="85.73" y="464.6" width="10.63" height="1.7" fill="#e83434"/>
<rect x="96.32" y="464.6" width="10.63" height="1.7" fill="#e93e3e"/>
<rect x="43.4" y="466.1" width="10.63" height="2.4" fill="#3252a8"/>
<rect x="53.98" y="466.1" width="10.63" height="2.4" fill="#3454a9"/>
<rect x="64.57" y="466.1" width="10.63" height="2.4" fill="#e1e3ed"/>
<rect x="75.15" y="466.1" width="10.63" height="2.4" fill="#f19c9c"/>
<rect x="85.73" y="466.1" width="10.63" height="2.4" fill="#e72424"/>
<rect x="96.32" y="466.1" width="10.63" height="2.4" fill="#e72828"/>
<rect x="43.4" y="468.3" width="10.63" height="1.2" fill="#4d68b2"/>
<rect x="53.98" y="468.3" width="10.63" height="1.2" fill="#3252a8"/>
<rect x="64.57" y="468.3" width="10.63" height="1.2" fill="#3252a8"/>
<rect x="75.15" y="468.3" width="10.63" height="1.2" fill="#e72424"/>
<rect x="85.73" y="468.3" width="10.63" height="1.2" fill="#e72424"/>
<rect x="96.32" y="468.3" width="10.63" height="1.2" fill="#c5cce2"/>
<rect x="43.4" y="469.3" width="10.63" height="1.7" fill="#7085c0"/>
<rect x="53.98" y="469.3" width="10.63" height="1.7" fill="#3252a8"/>
<rect x="64.57" y="469.3" width="10.63" height="1.7" fill="#768ac3"/>
<rect x="75.15" y="469.3" width="10.63" height="1.7" fill="#e72828"/>
<rect x="85.73" y="469.3" width="10.63" height="1.7" fill="#ef8686"/>
<rect x="96.32" y="469.3" width="10.63" height="1.7" fill="#ea4e4e"/>
<rect x="43.4" y="470.8" width="10.63" height="1.2" fill="#3252a8"/>
<rect x="53.98" y="470.8" width="10.63" height="1.2" fill="#98a6d0"/>
<rect x="64.57" y="470.8" width="10.63" height="1.2" fill="#f6d8d8"/>
<rect x="75.15" y="470.8" width="10.63" height="1.2" fill="#ef8585"/>
<rect x="85.73" y="470.8" width="10.63" height="1.2" fill="#ea4e4e"/>
<rect x="96.32" y="470.8" width="10.63" height="1.2" fill="#ed7171"/>
<rect x="43.4" y="471.8" width="10.63" height="1.2" fill="#3252a8"/>
<rect x="53.98" y="471.8" width="10.63" height="1.2" fill="#415fae"/>
<rect x="64.57" y="471.8" width="10.63" height="1.2" fill="#3252a8"/>
<rect x="75.15" y="471.8" width="10.63" height="1.2" fill="#ef8585"/>
<rect x="85.73" y="471.8" width="10.63" height="1.2" fill="#e72424"/>
<rect x="96.32" y="471.8" width="10.63" height="1.2" fill="#e83636"/>
<rect x="43.4" y="472.8" width="10.63" height="1.4" fill="#3252a8"/>
<rect x="53.98" y="472.8" width="10.63" height="1.4" fill="#3252a8"/>
<rect x="64.57" y="472.8" width="10.63" height="1.4" fill="#9aa8d1"/>
<rect x="75.15" y="472.8" width="10.63" height="1.4" fill="#f3b8b8"/>
<rect x="85.73" y="472.8" width="10.63" height="1.4" fill="#e82f2f"/>
<rect x="96.32" y="472.8" width="10.63" height="1.4" fill="#f3b4b4"/>
<rect x="43.4" y="474" width="10.63" height="1.7" fill="#3655a9"/>
<rect x="53.98" y="474" width="10.63" height="1.7" fill="#bac3de"/>
<rect x="64.57" y="474" width="10.63" height="1.7" fill="#637abb"/>
<rect x="75.15" y="474" width="10.63" height="1.7" fill="#b8c1dd"/>
<rect x="85.73" y="474" width="10.63" height="1.7" fill="#e83434"/>
<rect x="96.32" y="474" width="10.63" height="1.7" fill="#ea4444"/>
<rect x="43.4" y="475.5" width="10.63" height="1.2" fill="#3252a8"/>
<rect x="53.98" y="475.5" width="10.63" height="1.2" fill="#4c68b2"/>
<rect x="64.57" y="475.5" width="10.63" height="1.2" fill="#7287c1"/>
<rect x="75.15" y="475.5" width="10.63" height="1.2" fill="#e72a2a"/>
<rect x="85.73" y="475.5" width="10.63" height="1.2" fill="#e83131"/>
<rect x="96.32" y="475.5" width="10.63" height="1.2" fill="#e72424"/>
<rect x="43.4" y="476.5" width="10.63" height="2.4" fill="#4a66b2"/>
<rect x="53.98" y="476.5" width="10.63" height="2.4" fill="#3252a8"/>
<rect x="64.57" y="476.5" width="10.63" height="2.4" fill="#3554a9"/>
<rect x="75.15" y="476.5" width="10.63" height="2.4" fill="#f5d6d6"/>
<rect x="85.73" y="476.5" width="10.63" height="2.4" fill="#e72424"/>
<rect x="96.32" y="476.5" width="10.63" height="2.4" fill="#f3b8b8"/>
<rect x="43.4" y="478.7" width="10.63" height="1.2" fill="#687ebd"/>
<rect x="53.98" y="478.7" width="10.63" height="1.2" fill="#3252a8"/>
<rect x="64.57" y="478.7" width="10.63" height="1.2" fill="#ec6363"/>
<rect x="75.15" y="478.7" width="10.63" height="1.2" fill="#ef8888"/>
<rect x="85.73" y="478.7" width="10.63" height="1.2" fill="#ec5e5e"/>
<rect x="96.32" y="478.7" width="10.63" height="1.2" fill="#ee7e7e"/>
<rect x="43.4" y="479.7" width="10.63" height="1.2" fill="#4c68b2"/>
<rect x="53.98" y="479.7" width="10.63" height="1.2" fill="#6a80be"/>
<rect x="64.57" y="479.7" width="10.63" height="1.2" fill="#c5cbe2"/>
<rect x="75.15" y="479.7" width="10.63" height="1.2" fill="#f1a0a0"/>
<rect x="85.73" y="479.7" width="10.63" height="1.2" fill="#e72424"/>
<rect x="96.32" y="479.7" width="10.63" height="1.2" fill="#e83535"/>
<rect x="43.4" y="480.7" width="10.63" height="1.7" fill="#6179ba"/>
<rect x="53.98" y="480.7" width="10.63" height="1.7" fill="#8899ca"/>
<rect x="64.57" y="480.7" width="10.63" height="1.7" fill="#3252a8"/>
<rect x="75.15" y="480.7" width="10.63" height="1.7" fill="#f2a6a6"/>
<rect x="85.73" y="480.7" width="10.63" height="1.7" fill="#ec5f5f"/>
<rect x="96.32" y="480.7" width="10.63" height="1.7" fill="#e93939"/>
<rect x="43.4" y="482.2" width="10.63" height="2.4" fill="#3252a8"/>
<rect x="53.98" y="482.2" width="10.63" height="2.4" fill="#daddea"/>
<rect x="64.57" y="482.2" width="10.63" height="2.4" fill="#c0c8e0"/>
<rect x="75.15" y="482.2" width="10.63" height="2.4" fill="#e72424"/>
<rect x="85.73" y="482.2" width="10.63" height="2.4" fill="#e93a3a"/>
<rect x="96.32" y="482.2" width="10.63" height="2.4" fill="#f09999"/>
<rect x="43.4" y="484.4" width="10.63" height="2.4" fill="#5e76b9"/>
<rect x="53.98" y="484.4" width="10.63" height="2.4" fill="#8698c9"/>
<rect x="64.57" y="484.4" width="10.63" height="2.4" fill="#e93f3f"/>
<rect x="75.15" y="484.4" width="10.63" height="2.4" fill="#ee7d7d"/>
<rect x="85.73" y="484.4" width="10.63" height="2.4" fill="#e72424"/>
<rect x="96.32" y="484.4" width="10.63" height="2.4" fill="#e72424"/>
<rect x="43.4" y="486.6" width="10.63" height="1.2" fill="#3958ab"/>
<rect x="53.98" y="486.6" width="10.63" height="1.2" fill="#5f77ba"/>
<rect x="64.57" y="486.6" width="10.63" height="1.2" fill="#9eacd3"/>
<rect x="75.15" y="486.6" width="10.63" height="1.2" fill="#eb5353"/>
<rect x="85.73" y="486.6" width="10.63" height="1.2" fill="#eb5353"/>
<rect x="96.32" y="486.6" width="10.63" height="1.2" fill="#ec6161"/>
<rect x="43.4" y="487.6" width="10.63" height="2" fill="#5d75b9"/>
<rect x="53.98" y="487.6" width="10.63" height="2" fill="#536db5"/>
<rect x="64.57" y="487.6" width="10.63" height="2" fill="#8294c8"/>
<rect x="75.15" y="487.6" width="10.63" height="2" fill="#f3bbbb"/>
<rect x="85.73" y="487.6" width="10.63" height="2" fill="#ed6b6b"/>
<rect x="96.32" y="487.6" width="10.63" height="2" fill="#e72424"/>
<rect x="43.4" y="489.4" width="10.63" height="1.7" fill="#6f84c0"/>
<rect x="53.98" y="489.4" width="10.63" height="1.7" fill="#3252a8"/>
<rect x="64.57" y="489.4" width="10.63" height="1.7" fill="#3252a8"/>
<rect x="75.15" y="489.4" width="10.63" height="1.7" fill="#f2abab"/>
<rect x="85.73" y="489.4" width="10.63" height="1.7" fill="#ea4c4c"/>
<rect x="96.32" y="489.4" width="10.63" height="1.7" fill="#ef8a8a"/>
<rect x="43.4" y="490.9" width="10.63" height="1.4" fill="#3252a8"/>
<rect x="53.98" y="490.9" width="10.63" height="1.4" fill="#3a58ab"/>
<rect x="64.57" y="490.9" width="10.63" height="1.4" fill="#3252a8"/>
<rect x="75.15" y="490.9" width="10.63" height="1.4" fill="#f5d4d4"/>
<rect x="85.73" y="490.9" width="10.63" height="1.4" fill="#e72424"/>
<rect x="96.32" y="490.9" width="10.63" height="1.4" fill="#f4c6c6"/>
<rect x="43.4" y="492.1" width="10.63" height="2" fill="#3252a8"/>
<rect x="53.98" y="492.1" width="10.63" height="2" fill="#3252a8"/>
<rect x="64.57" y="492.1" width="10.63" height="2" fill="#e9eaf0"/>
<rect x="75.15" y="492.1" width="10.63" height="2" fill="#e72424"/>
<rect x="85.73" y="492.1" width="10.63" height="2" fill="#f09797"/>
<rect x="96.32" y="492.1" width="10.63" height="2" fill="#f4c9c9"/>
<rect x="43.4" y="493.9" width="10.63" height="1.2" fill="#3252a8"/>
<rect x="53.98" y="493.9" width="10.63" height="1.2" fill="#3252a8"/>
<rect x="64.57" y="493.9" width="10.63" height="1.2" fill="#98a7d0"/>
<rect x="75.15" y="493.9" width="10.63" height="1.2" fill="#ed6c6c"/>
<rect x="85.73" y="493.9" width="10.63" height="1.2" fill="#e72424"/>
<rect x="96.32" y="493.9" width="10.63" height="1.2" fill="#e82d2d"/>
<rect x="43.4" y="494.9" width="10.63" height="2" fill="#3252a8"/>
<rect x="53.98" y="494.9" width="10.63" height="2" fill="#3d5bac"/>
<rect x="64.57" y="494.9" width="10.63" height="2" fill="#f1f0f3"/>
<rect x="75.15" y="494.9" width="10.63" height="2" fill="#f3b8b8"/>
<rect x="85.73" y="494.9" width="10.63" height="2" fill="#f1a0a0"/>
<rect x="96.32" y="494.9" width="10.63" height="2" fill="#e72424"/>
<rect x="43.4" y="496.7" width="10.63" height="1.7" fill="#3252a8"/>
<rect x="53.98" y="496.7" width="10.63" height="1.7" fill="#c7cee3"/>
<rect x="64.57" y="496.7" width="10.63" height="1.7" fill="#3252a8"/>
<rect x="75.15" y="496.7" width="10.63" height="1.7" fill="#e72424"/>
<rect x="85.73" y="496.7" width="10.63" height="1.7" fill="#e72424"/>
<rect x="96.32" y="496.7" width="10.63" height="1.7" fill="#f2b1b1"/>
<rect x="43.4" y="498.2" width="10.63" height="1.4" fill="#4e6ab3"/>
<rect x="53.98" y="498.2" width="10.63" height="1.4" fill="#3252a8"/>
<rect x="64.57" y="498.2" width="10.63" height="1.4" fill="#95a4cf"/>
<rect x="75.15" y="498.2" width="10.63" height="1.4" fill="#eb5858"/>
<rect x="85.73" y="498.2" width="10.63" height="1.4" fill="#e72424"/>
<rect x="96.32" y="498.2" width="10.63" height="1.4" fill="#f08e8e"/>
<rect x="43.4" y="499.4" width="10.63" height="1.4" fill="#5972b7"/>
<rect x="53.98" y="499.4" width="10.63" height="1.4" fill="#526cb5"/>
<rect x="64.57" y="499.4" width="10.63" height="1.4" fill="#3252a8"/>
<rect x="75.15" y="499.4" width="10.63" height="1.4" fill="#cad0e4"/>
<rect x="85.73" y="499.4" width="10.63" height="1.4" fill="#e72424"/>
<rect x="96.32" y="499.4" width="10.63" height="1.4" fill="#eb5b5b"/>
<rect x="43.4" y="500.6" width="10.63" height="1.2" fill="#5872b7"/>
<rect x="53.98" y="500.6" width="10.63" height="1.2" fill="#4360af"/>
<rect x="64.57" y="500.6" width="10.63" height="1.2" fill="#4562b0"/>
<rect x="75.15" y="500.6" width="10.63" height="1.2" fill="#ee7878"/>
<rect x="85.73" y="500.6" width="10.63" height="1.2" fill="#e72424"/>
<rect x="96.32" y="500.6" width="10.63" height="1.2" fill="#f2b1b1"/>
<rect x="43.4" y="501.6" width="10.63" height="1.2" fill="#3252a8"/>
<rect x="53.98" y="501.6" width="10.63" height="1.2" fill="#506bb4"/>
<rect x="64.57" y="501.6" width="10.63" height="1.2" fill="#8698c9"/>
<rect x="75.15" y="501.6" width="10.63" height="1.2" fill="#f2b1b1"/>
<rect x="85.73" y="501.6" width="10.63" height="1.2" fill="#f4c3c3"/>
<rect x="96.32" y="501.6" width="10.63" height="1.2" fill="#ec6767"/>
<rect x="43.4" y="502.6" width="10.63" height="2" fill="#3252a8"/>
<rect x="53.98" y="502.6" width="10.63" height="2" fill="#3252a8"/>
<rect x="64.57" y="502.6" width="10.63" height="2" fill="#93a2ce"/>
<rect x="75.15" y="502.6" width="10.63" height="2" fill="#f09696"/>
<rect x="85.73" y="502.6" width="10.63" height="2" fill="#e72424"/>
<rect x="96.32" y="502.6" width="10.63" height="2" fill="#f4bfbf"/>
<rect x="43.4" y="504.4" width="10.63" height="2" fill="#4864b1"/>
<rect x="53.98" y="504.4" width="10.63" height="2" fill="#3252a8"/>
<rect x="64.57" y="504.4" width="10.63" height="2" fill="#92a2ce"/>
<rect x="75.15" y="504.4" width="10.63" height="2" fill="#ee7f7f"/>
<rect x="85.73" y="504.4" width="10.63" height="2" fill="#eb5252"/>
<rect x="96.32" y="504.4" width="10.63" height="2" fill="#e72424"/>
<rect x="43.4" y="506.2" width="10.63" height="2" fill="#6179bb"/>
<rect x="53.98" y="506.2" width="10.63" height="2" fill="#4f6ab3"/>
<rect x="64.57" y="506.2" width="10.63" height="2" fill="#3252a8"/>
<rect x="75.15" y="506.2" width="10.63" height="2" fill="#f09797"/>
<rect x="85.73" y="506.2" width="10.63" height="2" fill="#e72424"/>
<rect x="96.32" y="506.2" width="10.63" height="2" fill="#e72424"/>
<rect x="43.4" y="508" width="10.63" height="1.2" fill="#c8cee3"/>
<rect x="53.98" y="508" width="10.63" height="1.2" fill="#556fb6"/>
<rect x="64.57" y="508" width="10.63" height="1.2" fill="#3252a8"/>
<rect x="75.15" y="508" width="10.63" height="1.2" fill="#e93838"/>
<rect x="85.73" y="508" width="10.63" height="1.2" fill="#e93737"/>
<rect x="96.32" y="508" width="10.63" height="1.2" fill="#f7eeee"/>
<rect x="43.4" y="509" width="10.63" height="1.7" fill="#adb8d9"/>
<rect x="53.98" y="509" width="10.63" height="1.7" fill="#3252a8"/>
<rect x="64.57" y="509" width="10.63" height="1.7" fill="#3252a8"/>
<rect x="75.15" y="509" width="10.63" height="1.7" fill="#eb5757"/>
<rect x="85.73" y="509" width="10.63" height="1.7" fill="#e93939"/>
<rect x="96.32" y="509" width="10.63" height="1.7" fill="#c2cae1"/>
<rect x="43.4" y="510.5" width="10.63" height="1.7" fill="#7186c1"/>
<rect x="53.98" y="510.5" width="10.63" height="1.7" fill="#3d5bac"/>
<rect x="64.57" y="510.5" width="10.63" height="1.7" fill="#e8e9f0"/>
<rect x="75.15" y="510.5" width="10.63" height="1.7" fill="#f6e0e0"/>
<rect x="85.73" y="510.5" width="10.63" height="1.7" fill="#ea4b4b"/>
<rect x="96.32" y="510.5" width="10.63" height="1.7" fill="#eb5858"/>
<rect x="43.4" y="512" width="10.63" height="1.7" fill="#8799ca"/>
<rect x="53.98" y="512" width="10.63" height="1.7" fill="#3f5dad"/>
<rect x="64.57" y="512" width="10.63" height="1.7" fill="#3252a8"/>
<rect x="75.15" y="512" width="10.63" height="1.7" fill="#ec5c5c"/>
<rect x="85.73" y="512" width="10.63" height="1.7" fill="#eb5353"/>
<rect x="96.32" y="512" width="10.63" height="1.7" fill="#ee7575"/>
<rect x="43.4" y="513.5" width="10.63" height="1.2" fill="#3252a8"/>
<rect x="53.98" y="513.5" width="10.63" height="1.2" fill="#6c82bf"/>
<rect x="64.57" y="513.5" width="10.63" height="1.2" fill="#f3b2b2"/>
<rect x="75.15" y="513.5" width="10.63" height="1.2" fill="#e94040"/>
<rect x="85.73" y="513.5" width="10.63" height="1.2" fill="#e72626"/>
<rect x="96.32" y="513.5" width="10.63" height="1.2" fill="#eb5151"/>
<rect x="43.4" y="514.5" width="10.63" height="1.2" fill="#647bbc"/>
<rect x="53.98" y="514.5" width="10.63" height="1.2" fill="#4562af"/>
<rect x="64.57" y="514.5" width="10.63" height="1.2" fill="#637abb"/>
<rect x="75.15" y="514.5" width="10.63" height="1.2" fill="#96a5d0"/>
<rect x="85.73" y="514.5" width="10.63" height="1.2" fill="#e72424"/>
<rect x="96.32" y="514.5" width="10.63" height="1.2" fill="#ee7878"/>
<rect x="43.4" y="515.5" width="10.63" height="1.2" fill="#8899ca"/>
<rect x="53.98" y="515.5" width="10.63" height="1.2" fill="#637abb"/>
<rect x="64.57" y="515.5" width="10.63" height="1.2" fill="#3252a8"/>
<rect x="75.15" y="515.5" width="10.63" height="1.2" fill="#f6d9d9"/>
<rect x="85.73" y="515.5" width="10.63" height="1.2" fill="#e72424"/>
<rect x="96.32" y="515.5" width="10.63" height="1.2" fill="#e72424"/>
<rect x="43.4" y="516.5" width="10.63" height="1.4" fill="#5a73b8"/>
<rect x="53.98" y="516.5" width="10.63" height="1.4" fill="#3252a8"/>
<rect x="64.57" y="516.5" width="10.63" height="1.4" fill="#b1bbda"/>
<rect x="75.15" y="516.5" width="10.63" height="1.4" fill="#e93838"/>
<rect x="85.73" y="516.5" width="10.63" height="1.4" fill="#e72424"/>
<rect x="96.32" y="516.5" width="10.63" height="1.4" fill="#f09696"/>
<rect x="43.4" y="517.7" width="10.63" height="1.2" fill="#94a3ce"/>
<rect x="53.98" y="517.7" width="10.63" height="1.2" fill="#5771b7"/>
<rect x="64.57" y="517.7" width="10.63" height="1.2" fill="#778bc3"/>
<rect x="75.15" y="517.7" width="10.63" height="1.2" fill="#eb5454"/>
<rect x="85.73" y="517.7" width="10.63" height="1.2" fill="#e72424"/>
<rect x="96.32" y="517.7" width="10.63" height="1.2" fill="#ea4e4e"/>
<rect x="43.4" y="518.7" width="10.63" height="2.4" fill="#3252a8"/>
<rect x="53.98" y="518.7" width="10.63" height="2.4" fill="#7e91c6"/>
<rect x="64.57" y="518.7" width="10.63" height="2.4" fill="#c4cbe1"/>
<rect x="75.15" y="518.7" width="10.63" height="2.4" fill="#ed6a6a"/>
<rect x="85.73" y="518.7" width="10.63" height="2.4" fill="#e93c3c"/>
<rect x="96.32" y="518.7" width="10.63" height="2.4" fill="#f5d5d5"/>
<rect x="43.4" y="520.9" width="10.63" height="1.4" fill="#bec6df"/>
<rect x="53.98" y="520.9" width="10.63" height="1.4" fill="#3e5cad"/>
<rect x="64.57" y="520.9" width="10.63" height="1.4" fill="#f3baba"/>
<rect x="75.15" y="520.9" width="10.63" height="1.4" fill="#e93d3d"/>
<rect x="85.73" y="520.9" width="10.63" height="1.4" fill="#e72424"/>
<rect x="96.32" y="520.9" width="10.63" height="1.4" fill="#e72424"/>
<rect x="43.4" y="522.1" width="10.63" height="2" fill="#4965b1"/>
<rect x="53.98" y="522.1" width="10.63" height="2" fill="#d1d6e7"/>
<rect x="64.57" y="522.1" width="10.63" height="2" fill="#4d68b3"/>
<rect x="75.15" y="522.1" width="10.63" height="2" fill="#ee8080"/>
<rect x="85.73" y="522.1" width="10.63" height="2" fill="#e72424"/>
<rect x="96.32" y="522.1" width="10.63" height="2" fill="#ec5e5e"/>
<rect x="43.4" y="523.9" width="10.63" height="1.4" fill="#4f6ab3"/>
<rect x="53.98" y="523.9" width="10.63" height="1.4" fill="#506bb4"/>
<rect x="64.57" y="523.9" width="10.63" height="1.4" fill="#9facd3"/>
<rect x="75.15" y="523.9" width="10.63" height="1.4" fill="#e72424"/>
<rect x="85.73" y="523.9" width="10.63" height="1.4" fill="#e72727"/>
<rect x="96.32" y="523.9" width="10.63" height="1.4" fill="#f2afaf"/>
<rect x="43.4" y="525.1" width="10.63" height="2.4" fill="#ced3e5"/>
<rect x="53.98" y="525.1" width="10.63" height="2.4" fill="#5973b8"/>
<rect x="64.57" y="525.1" width="10.63" height="2.4" fill="#7b8ec5"/>
<rect x="75.15" y="525.1" width="10.63" height="2.4" fill="#ee7878"/>
<rect x="85.73" y="525.1" width="10.63" height="2.4" fill="#e72424"/>
<rect x="96.32" y="525.1" width="10.63" height="2.4" fill="#f4c8c8"/>
<rect x="43.4" y="527.3" width="10.63" height="1.7" fill="#91a1cd"/>
<rect x="53.98" y="527.3" width="10.63" height="1.7" fill="#c7cde3"/>
<rect x="64.57" y="527.3" width="10.63" height="1.7" fill="#3656aa"/>
<rect x="75.15" y="527.3" width="10.63" height="1.7" fill="#ec6464"/>
<rect x="85.73" y="527.3" width="10.63" height="1.7" fill="#e72424"/>
<rect x="96.32" y="527.3" width="10.63" height="1.7" fill="#ef8d8d"/>
<rect x="43.4" y="528.8" width="10.63" height="2.4" fill="#3252a8"/>
<rect x="53.98" y="528.8" width="10.63" height="2.4" fill="#9eabd2"/>
<rect x="64.57" y="528.8" width="10.63" height="2.4" fill="#f7e5e5"/>
<rect x="75.15" y="528.8" width="10.63" height="2.4" fill="#f08e8e"/>
<rect x="85.73" y="528.8" width="10.63" height="2.4" fill="#e72424"/>
<rect x="96.32" y="528.8" width="10.63" height="2.4" fill="#e8e9f0"/>
<rect x="43.4" y="531" width="10.63" height="1.2" fill="#f5d4d4"/>
<rect x="53.98" y="531" width="10.63" height="1.2" fill="#4763b0"/>
<rect x="64.57" y="531" width="10.63" height="1.2" fill="#b8c1dd"/>
<rect x="75.15" y="531" width="10.63" height="1.2" fill="#f19a9a"/>
<rect x="85.73" y="531" width="10.63" height="1.2" fill="#ea4949"/>
<rect x="96.32" y="531" width="10.63" height="1.2" fill="#f3b3b3"/>
<rect x="43.4" y="532" width="10.63" height="1.2" fill="#6b81be"/>
<rect x="53.98" y="532" width="10.63" height="1.2" fill="#d6dae9"/>
<rect x="64.57" y="532" width="10.63" height="1.2" fill="#6980be"/>
<rect x="75.15" y="532" width="10.63" height="1.2" fill="#e8e9f0"/>
<rect x="85.73" y="532" width="10.63" height="1.2" fill="#ec6464"/>
<rect x="96.32" y="532" width="10.63" height="1.2" fill="#e72424"/>
<rect x="43.4" y="533" width="10.63" height="1.4" fill="#4562af"/>
<rect x="53.98" y="533" width="10.63" height="1.4" fill="#3252a8"/>
<rect x="64.57" y="533" width="10.63" height="1.4" fill="#3252a8"/>
<rect x="75.15" y="533" width="10.63" height="1.4" fill="#e72727"/>
<rect x="85.73" y="533" width="10.63" height="1.4" fill="#ed6e6e"/>
<rect x="96.32" y="533" width="10.63" height="1.4" fill="#ef8686"/>
<rect x="43.4" y="534.2" width="10.63" height="2" fill="#b8c1dd"/>
<rect x="53.98" y="534.2" width="10.63" height="2" fill="#7a8ec5"/>
<rect x="64.57" y="534.2" width="10.63" height="2" fill="#c2cae1"/>
<rect x="75.15" y="534.2" width="10.63" height="2" fill="#ec6464"/>
<rect x="85.73" y="534.2" width="10.63" height="2" fill="#e72424"/>
<rect x="96.32" y="534.2" width="10.63" height="2" fill="#e94242"/>
<rect x="43.4" y="536" width="10.63" height="1.7" fill="#f7ecec"/>
<rect x="53.98" y="536" width="10.63" height="1.7" fill="#3252a8"/>
<rect x="64.57" y="536" width="10.63" height="1.7" fill="#aab5d7"/>
<rect x="75.15" y="536" width="10.63" height="1.7" fill="#ed7171"/>
<rect x="85.73" y="536" width="10.63" height="1.7" fill="#f09797"/>
<rect x="96.32" y="536" width="10.63" height="1.7" fill="#eb5656"/>
<rect x="43.4" y="537.5" width="10.63" height="2" fill="#f7ecec"/>
<rect x="53.98" y="537.5" width="10.63" height="2" fill="#405dad"/>
<rect x="64.57" y="537.5" width="10.63" height="2" fill="#667dbc"/>
<rect x="75.15" y="537.5" width="10.63" height="2" fill="#ec6161"/>
<rect x="85.73" y="537.5" width="10.63" height="2" fill="#e83030"/>
<rect x="96.32" y="537.5" width="10.63" height="2" fill="#f09595"/>
<rect x="43.4" y="539.3" width="10.63" height="1.7" fill="#f7e4e4"/>
<rect x="53.98" y="539.3" width="10.63" height="1.7" fill="#3252a8"/>
<rect x="64.57" y="539.3" width="10.63" height="1.7" fill="#7d90c6"/>
<rect x="75.15" y="539.3" width="10.63" height="1.7" fill="#ee7d7d"/>
<rect x="85.73" y="539.3" width="10.63" height="1.7" fill="#e72424"/>
<rect x="96.32" y="539.3" width="10.63" height="1.7" fill="#ededf2"/>
<rect x="43.4" y="540.8" width="10.63" height="2.4" fill="#dbdeeb"/>
<rect x="53.98" y="540.8" width="10.63" height="2.4" fill="#9dabd2"/>
<rect x="64.57" y="540.8" width="10.63" height="2.4" fill="#e82d2d"/>
<rect x="75.15" y="540.8" width="10.63" height="2.4" fill="#ea4646"/>
<rect x="85.73" y="540.8" width="10.63" height="2.4" fill="#ee7f7f"/>
<rect x="96.32" y="540.8" width="10.63" height="2.4" fill="#e72424"/>
<rect x="43.4" y="543" width="10.63" height="2.4" fill="#f2afaf"/>
<rect x="53.98" y="543" width="10.63" height="2.4" fill="#6c82bf"/>
<rect x="64.57" y="543" width="10.63" height="2.4" fill="#e2e3ed"/>
<rect x="75.15" y="543" width="10.63" height="2.4" fill="#f19a9a"/>
<rect x="85.73" y="543" width="10.63" height="2.4" fill="#e72424"/>
<rect x="96.32" y="543" width="10.63" height="2.4" fill="#f4c8c8"/>
<rect x="43.4" y="545.2" width="10.63" height="1.7" fill="#adb8d8"/>
<rect x="53.98" y="545.2" width="10.63" height="1.7" fill="#3252a8"/>
<rect x="64.57" y="545.2" width="10.63" height="1.7" fill="#e0e3ed"/>
<rect x="75.15" y="545.2" width="10.63" height="1.7" fill="#e93c3c"/>
<rect x="85.73" y="545.2" width="10.63" height="1.7" fill="#e72424"/>
<rect x="96.32" y="545.2" width="10.63" height="1.7" fill="#ed7070"/>
<rect x="43.4" y="546.7" width="10.63" height="1.2" fill="#6d83bf"/>
<rect x="53.98" y="546.7" width="10.63" height="1.2" fill="#3252a8"/>
<rect x="64.57" y="546.7" width="10.63" height="1.2" fill="#8194c7"/>
<rect x="75.15" y="546.7" width="10.63" height="1.2" fill="#f8f3f3"/>
<rect x="85.73" y="546.7" width="10.63" height="1.2" fill="#e72424"/>
<rect x="96.32" y="546.7" width="10.63" height="1.2" fill="#e82b2b"/>
<rect x="43.4" y="547.7" width="10.63" height="1.2" fill="#eeeef2"/>
<rect x="53.98" y="547.7" width="10.63" height="1.2" fill="#3252a8"/>
<rect x="64.57" y="547.7" width="10.63" height="1.2" fill="#d9dcea"/>
<rect x="75.15" y="547.7" width="10.63" height="1.2" fill="#e83636"/>
<rect x="85.73" y="547.7" width="10.63" height="1.2" fill="#ec6464"/>
<rect x="96.32" y="547.7" width="10.63" height="1.2" fill="#bac3de"/>
<rect x="43.4" y="548.7" width="10.63" height="2.4" fill="#a2afd4"/>
<rect x="53.98" y="548.7" width="10.63" height="2.4" fill="#3252a8"/>
<rect x="64.57" y="548.7" width="10.63" height="2.4" fill="#92a1ce"/>
<rect x="75.15" y="548.7" width="10.63" height="2.4" fill="#e72424"/>
<rect x="85.73" y="548.7" width="10.63" height="2.4" fill="#ee7878"/>
<rect x="96.32" y="548.7" width="10.63" height="2.4" fill="#eb5252"/>
<rect x="43.4" y="550.9" width="10.63" height="1.2" fill="#ed6c6c"/>
<rect x="53.98" y="550.9" width="10.63" height="1.2" fill="#a1aed4"/>
<rect x="64.57" y="550.9" width="10.63" height="1.2" fill="#f4c4c4"/>
<rect x="75.15" y="550.9" width="10.63" height="1.2" fill="#ee7777"/>
<rect x="85.73" y="550.9" width="10.63" height="1.2" fill="#e83333"/>
<rect x="96.32" y="550.9" width="10.63" height="1.2" fill="#eb5a5a"/>
<rect x="43.4" y="551.9" width="10.63" height="1.2" fill="#f4c1c1"/>
<rect x="53.98" y="551.9" width="10.63" height="1.2" fill="#f5d2d2"/>
<rect x="64.57" y="551.9" width="10.63" height="1.2" fill="#f7eeee"/>
<rect x="75.15" y="551.9" width="10.63" height="1.2" fill="#e93838"/>
<rect x="85.73" y="551.9" width="10.63" height="1.2" fill="#ea4646"/>
<rect x="96.32" y="551.9" width="10.63" height="1.2" fill="#f8f2f2"/>
<rect x="43.4" y="552.9" width="10.63" height="1.7" fill="#f6dcdc"/>
<rect x="53.98" y="552.9" width="10.63" height="1.7" fill="#a1aed4"/>
<rect x="64.57" y="552.9" width="10.63" height="1.7" fill="#8a9bcb"/>
<rect x="75.15" y="552.9" width="10.63" height="1.7" fill="#e72424"/>
<rect x="85.73" y="552.9" width="10.63" height="1.7" fill="#e82b2b"/>
<rect x="96.32" y="552.9" width="10.63" height="1.7" fill="#ec5f5f"/>
<rect x="43.4" y="554.4" width="10.63" height="1.2" fill="#ef8383"/>
<rect x="53.98" y="554.4" width="10.63" height="1.2" fill="#8596c9"/>
<rect x="64.57" y="554.4" width="10.63" height="1.2" fill="#556fb6"/>
<rect x="75.15" y="554.4" width="10.63" height="1.2" fill="#f7ebeb"/>
<rect x="85.73" y="554.4" width="10.63" height="1.2" fill="#e72424"/>
<rect x="96.32" y="554.4" width="10.63" height="1.2" fill="#e93d3d"/>
<rect x="43.4" y="555.4" width="10.63" height="1.4" fill="#f2a6a6"/>
<rect x="53.98" y="555.4" width="10.63" height="1.4" fill="#778bc3"/>
<rect x="64.57" y="555.4" width="10.63" height="1.4" fill="#bbc4de"/>
<rect x="75.15" y="555.4" width="10.63" height="1.4" fill="#ee7575"/>
<rect x="85.73" y="555.4" width="10.63" height="1.4" fill="#e72424"/>
<rect x="96.32" y="555.4" width="10.63" height="1.4" fill="#e93838"/>
<rect x="43.4" y="556.6" width="10.63" height="2" fill="#e93939"/>
<rect x="53.98" y="556.6" width="10.63" height="2" fill="#afb9d9"/>
<rect x="64.57" y="556.6" width="10.63" height="2" fill="#3252a8"/>
<rect x="75.15" y="556.6" width="10.63" height="2" fill="#ec6767"/>
<rect x="85.73" y="556.6" width="10.63" height="2" fill="#ec5f5f"/>
<rect x="96.32" y="556.6" width="10.63" height="2" fill="#e72424"/>
<rect x="43.4" y="558.4" width="10.63" height="2.4" fill="#e72424"/>
<rect x="53.98" y="558.4" width="10.63" height="2.4" fill="#b8c1dd"/>
<rect x="64.57" y="558.4" width="10.63" height="2.4" fill="#3252a8"/>
<rect x="75.15" y="558.4" width="10.63" height="2.4" fill="#ced3e5"/>
<rect x="85.73" y="558.4" width="10.63" height="2.4" fill="#e72424"/>
<rect x="96.32" y="558.4" width="10.63" height="2.4" fill="#ee7c7c"/>
<rect x="43.4" y="560.6" width="10.63" height="1.2" fill="#f09393"/>
<rect x="53.98" y="560.6" width="10.63" height="1.2" fill="#daddea"/>
<rect x="64.57" y="560.6" width="10.63" height="1.2" fill="#798dc4"/>
<rect x="75.15" y="560.6" width="10.63" height="1.2" fill="#d8dbe9"/>
<rect x="85.73" y="560.6" width="10.63" height="1.2" fill="#e83030"/>
<rect x="96.32" y="560.6" width="10.63" height="1.2" fill="#ea4f4f"/>
<rect x="43.4" y="561.6" width="10.63" height="1.2" fill="#f2f1f4"/>
<rect x="53.98" y="561.6" width="10.63" height="1.2" fill="#d3d8e8"/>
<rect x="64.57" y="561.6" width="10.63" height="1.2" fill="#9ba9d1"/>
<rect x="75.15" y="561.6" width="10.63" height="1.2" fill="#9eacd3"/>
<rect x="85.73" y="561.6" width="10.63" height="1.2" fill="#e93c3c"/>
<rect x="96.32" y="561.6" width="10.63" height="1.2" fill="#f3bbbb"/>
<rect x="43.4" y="562.6" width="10.63" height="1.7" fill="#ee8080"/>
<rect x="53.98" y="562.6" width="10.63" height="1.7" fill="#9fadd3"/>
<rect x="64.57" y="562.6" width="10.63" height="1.7" fill="#6a81be"/>
<rect x="75.15" y="562.6" width="10.63" height="1.7" fill="#e72a2a"/>
<rect x="85.73" y="562.6" width="10.63" height="1.7" fill="#e93737"/>
<rect x="96.32" y="562.6" width="10.63" height="1.7" fill="#ec5e5e"/>
<rect x="43.4" y="564.1" width="10.63" height="1.7" fill="#ed6d6d"/>
<rect x="53.98" y="564.1" width="10.63" height="1.7" fill="#5f77ba"/>
<rect x="64.57" y="564.1" width="10.63" height="1.7" fill="#506bb4"/>
<rect x="75.15" y="564.1" width="10.63" height="1.7" fill="#ed7373"/>
<rect x="85.73" y="564.1" width="10.63" height="1.7" fill="#ea4444"/>
<rect x="96.32" y="564.1" width="10.63" height="1.7" fill="#e72424"/>
<rect x="43.4" y="565.6" width="10.63" height="1.2" fill="#f4c6c6"/>
<rect x="53.98" y="565.6" width="10.63" height="1.2" fill="#96a5cf"/>
<rect x="64.57" y="565.6" width="10.63" height="1.2" fill="#6d83bf"/>
<rect x="75.15" y="565.6" width="10.63" height="1.2" fill="#f7ecec"/>
<rect x="85.73" y="565.6" width="10.63" height="1.2" fill="#e72424"/>
<rect x="96.32" y="565.6" width="10.63" height="1.2" fill="#f1a6a6"/>
<rect x="43.4" y="566.6" width="10.63" height="2.4" fill="#f09898"/>
<rect x="53.98" y="566.6" width="10.63" height="2.4" fill="#eaeaf0"/>
<rect x="64.57" y="566.6" width="10.63" height="2.4" fill="#5871b7"/>
<rect x="75.15" y="566.6" width="10.63" height="2.4" fill="#f6e1e1"/>
<rect x="85.73" y="566.6" width="10.63" height="2.4" fill="#e93a3a"/>
<rect x="96.32" y="566.6" width="10.63" height="2.4" fill="#e83636"/>
<rect x="43.4" y="568.8" width="10.63" height="1.2" fill="#ee7e7e"/>
<rect x="53.98" y="568.8" width="10.63" height="1.2" fill="#ec6060"/>
<rect x="64.57" y="568.8" width="10.63" height="1.2" fill="#3857aa"/>
<rect x="75.15" y="568.8" width="10.63" height="1.2" fill="#eb5252"/>
<rect x="85.73" y="568.8" width="10.63" height="1.2" fill="#e72424"/>
<rect x="96.32" y="568.8" width="10.63" height="1.2" fill="#f8f1f1"/>
<rect x="43.4" y="569.8" width="10.63" height="1.2" fill="#e72424"/>
<rect x="53.98" y="569.8" width="10.63" height="1.2" fill="#e82f2f"/>
<rect x="64.57" y="569.8" width="10.63" height="1.2" fill="#526cb4"/>
<rect x="75.15" y="569.8" width="10.63" height="1.2" fill="#f4c9c9"/>
<rect x="85.73" y="569.8" width="10.63" height="1.2" fill="#e82c2c"/>
<rect x="96.32" y="569.8" width="10.63" height="1.2" fill="#e72424"/>
<rect x="43.4" y="570.8" width="10.63" height="1.2" fill="#ed6868"/>
<rect x="53.98" y="570.8" width="10.63" height="1.2" fill="#ef8787"/>
<rect x="64.57" y="570.8" width="10.63" height="1.2" fill="#3252a8"/>
<rect x="75.15" y="570.8" width="10.63" height="1.2" fill="#e83434"/>
<rect x="85.73" y="570.8" width="10.63" height="1.2" fill="#e72424"/>
<rect x="96.32" y="570.8" width="10.63" height="1.2" fill="#ed7373"/>
<rect x="43.4" y="571.8" width="10.63" height="1.2" fill="#ee7777"/>
<rect x="53.98" y="571.8" width="10.63" height="1.2" fill="#b0bada"/>
<rect x="64.57" y="571.8" width="10.63" height="1.2" fill="#3252a8"/>
<rect x="75.15" y="571.8" width="10.63" height="1.2" fill="#ee7d7d"/>
<rect x="85.73" y="571.8" width="10.63" height="1.2" fill="#e83535"/>
<rect x="96.32" y="571.8" width="10.63" height="1.2" fill="#f6dede"/>
<rect x="43.4" y="572.8" width="10.63" height="1.7" fill="#ec6666"/>
<rect x="53.98" y="572.8" width="10.63" height="1.7" fill="#acb7d8"/>
<rect x="64.57" y="572.8" width="10.63" height="1.7" fill="#3252a8"/>
<rect x="75.15" y="572.8" width="10.63" height="1.7" fill="#e72424"/>
<rect x="85.73" y="572.8" width="10.63" height="1.7" fill="#ec6363"/>
<rect x="96.32" y="572.8" width="10.63" height="1.7" fill="#ec6565"/>
<rect x="43.4" y="574.3" width="10.63" height="1.7" fill="#e72424"/>
<rect x="53.98" y="574.3" width="10.63" height="1.7" fill="#f5d1d1"/>
<rect x="64.57" y="574.3" width="10.63" height="1.7" fill="#546eb5"/>
<rect x="75.15" y="574.3" width="10.63" height="1.7" fill="#e72424"/>
<rect x="85.73" y="574.3" width="10.63" height="1.7" fill="#e72727"/>
<rect x="96.32" y="574.3" width="10.63" height="1.7" fill="#ee7d7d"/>
<rect x="43.4" y="575.8" width="10.63" height="1.2" fill="#ea4e4e"/>
<rect x="53.98" y="575.8" width="10.63" height="1.2" fill="#7589c2"/>
<rect x="64.57" y="575.8" width="10.63" height="1.2" fill="#a3b0d5"/>
<rect x="75.15" y="575.8" width="10.63" height="1.2" fill="#e72424"/>
<rect x="85.73" y="575.8" width="10.63" height="1.2" fill="#e72424"/>
<rect x="96.32" y="575.8" width="10.63" height="1.2" fill="#ec6565"/>
<rect x="43.4" y="576.8" width="10.63" height="1.7" fill="#ef8484"/>
<rect x="53.98" y="576.8" width="10.63" height="1.7" fill="#7d90c5"/>
<rect x="64.57" y="576.8" width="10.63" height="1.7" fill="#3252a8"/>
<rect x="75.15" y="576.8" width="10.63" height="1.7" fill="#ec6565"/>
<rect x="85.73" y="576.8" width="10.63" height="1.7" fill="#e72424"/>
<rect x="96.32" y="576.8" width="10.63" height="1.7" fill="#f4c4c4"/>
<rect x="43.4" y="578.3" width="10.63" height="2" fill="#f4c1c1"/>
<rect x="53.98" y="578.3" width="10.63" height="2" fill="#ec6262"/>
<rect x="64.57" y="578.3" width="10.63" height="2" fill="#3e5cad"/>
<rect x="75.15" y="578.3" width="10.63" height="2" fill="#e72424"/>
<rect x="85.73" y="578.3" width="10.63" height="2" fill="#e72424"/>
<rect x="96.32" y="578.3" width="10.63" height="2" fill="#e72424"/>
<rect x="43.4" y="580.1" width="10.63" height="1.2" fill="#f2a9a9"/>
<rect x="53.98" y="580.1" width="10.63" height="1.2" fill="#98a6d0"/>
<rect x="64.57" y="580.1" width="10.63" height="1.2" fill="#6a81be"/>
<rect x="75.15" y="580.1" width="10.63" height="1.2" fill="#e72424"/>
<rect x="85.73" y="580.1" width="10.63" height="1.2" fill="#e83535"/>
<rect x="96.32" y="580.1" width="10.63" height="1.2" fill="#ee7c7c"/>
<rect x="43.4" y="581.1" width="10.63" height="1.2" fill="#f6d7d7"/>
<rect x="53.98" y="581.1" width="10.63" height="1.2" fill="#ef8686"/>
<rect x="64.57" y="581.1" width="10.63" height="1.2" fill="#3252a8"/>
<rect x="75.15" y="581.1" width="10.63" height="1.2" fill="#e72424"/>
<rect x="85.73" y="581.1" width="10.63" height="1.2" fill="#e72424"/>
<rect x="96.32" y="581.1" width="10.63" height="1.2" fill="#dde0eb"/>
<rect x="43.4" y="582.1" width="10.63" height="1.7" fill="#f2adad"/>
<rect x="53.98" y="582.1" width="10.63" height="1.7" fill="#3252a8"/>
<rect x="64.57" y="582.1" width="10.63" height="1.7" fill="#3252a8"/>
<rect x="75.15" y="582.1" width="10.63" height="1.7" fill="#f7e8e8"/>
<rect x="85.73" y="582.1" width="10.63" height="1.7" fill="#e82a2a"/>
<rect x="96.32" y="582.1" width="10.63" height="1.7" fill="#ee7575"/>
<rect x="43.4" y="583.6" width="10.63" height="2" fill="#f4c2c2"/>
<rect x="53.98" y="583.6" width="10.63" height="2" fill="#8697c9"/>
<rect x="64.57" y="583.6" width="10.63" height="2" fill="#3f5dad"/>
<rect x="75.15" y="583.6" width="10.63" height="2" fill="#ef8686"/>
<rect x="85.73" y="583.6" width="10.63" height="2" fill="#ea4a4a"/>
<rect x="96.32" y="583.6" width="10.63" height="2" fill="#f8f1f1"/>
<rect x="43.4" y="585.4" width="10.63" height="2" fill="#f2acac"/>
<rect x="53.98" y="585.4" width="10.63" height="2" fill="#f1a2a2"/>
<rect x="64.57" y="585.4" width="10.63" height="2" fill="#3252a8"/>
<rect x="75.15" y="585.4" width="10.63" height="2" fill="#f5cece"/>
<rect x="85.73" y="585.4" width="10.63" height="2" fill="#e72424"/>
<rect x="96.32" y="585.4" width="10.63" height="2" fill="#f09191"/>
<rect x="43.4" y="587.2" width="10.63" height="2.4" fill="#ef8282"/>
<rect x="53.98" y="587.2" width="10.63" height="2.4" fill="#dee1ec"/>
<rect x="64.57" y="587.2" width="10.63" height="2.4" fill="#556fb6"/>
<rect x="75.15" y="587.2" width="10.63" height="2.4" fill="#e72727"/>
<rect x="85.73" y="587.2" width="10.63" height="2.4" fill="#e72424"/>
<rect x="96.32" y="587.2" width="10.63" height="2.4" fill="#ef8484"/>
<rect x="43.4" y="589.4" width="10.63" height="2" fill="#eb5555"/>
<rect x="53.98" y="589.4" width="10.63" height="2" fill="#f19c9c"/>
<rect x="64.57" y="589.4" width="10.63" height="2" fill="#7f92c6"/>
<rect x="75.15" y="589.4" width="10.63" height="2" fill="#eb5959"/>
<rect x="85.73" y="589.4" width="10.63" height="2" fill="#ef8989"/>
<rect x="96.32" y="589.4" width="10.63" height="2" fill="#f8f6f6"/>
<rect x="43.4" y="591.2" width="10.63" height="2.4" fill="#daddea"/>
<rect x="53.98" y="591.2" width="10.63" height="2.4" fill="#eb5353"/>
<rect x="64.57" y="591.2" width="10.63" height="2.4" fill="#97a5d0"/>
<rect x="75.15" y="591.2" width="10.63" height="2.4" fill="#ec6161"/>
<rect x="85.73" y="591.2" width="10.63" height="2.4" fill="#e72424"/>
<rect x="96.32" y="591.2" width="10.63" height="2.4" fill="#ec6565"/>
<rect x="43.4" y="593.4" width="10.63" height="1.2" fill="#f4c3c3"/>
<rect x="53.98" y="593.4" width="10.63" height="1.2" fill="#3252a8"/>
<rect x="64.57" y="593.4" width="10.63" height="1.2" fill="#6c82bf"/>
<rect x="75.15" y="593.4" width="10.63" height="1.2" fill="#f4caca"/>
<rect x="85.73" y="593.4" width="10.63" height="1.2" fill="#e72424"/>
<rect x="96.32" y="593.4" width="10.63" height="1.2" fill="#ededf2"/>
<rect x="43.4" y="594.4" width="10.63" height="2" fill="#f3b6b6"/>
<rect x="53.98" y="594.4" width="10.63" height="2" fill="#bdc5df"/>
<rect x="64.57" y="594.4" width="10.63" height="2" fill="#4d68b3"/>
<rect x="75.15" y="594.4" width="10.63" height="2" fill="#eb5b5b"/>
<rect x="85.73" y="594.4" width="10.63" height="2" fill="#ed6f6f"/>
<rect x="96.32" y="594.4" width="10.63" height="2" fill="#e72424"/>
<rect x="43.4" y="596.2" width="10.63" height="1.7" fill="#ec6767"/>
<rect x="53.98" y="596.2" width="10.63" height="1.7" fill="#f8f6f6"/>
<rect x="64.57" y="596.2" width="10.63" height="1.7" fill="#3252a8"/>
<rect x="75.15" y="596.2" width="10.63" height="1.7" fill="#eb5050"/>
<rect x="85.73" y="596.2" width="10.63" height="1.7" fill="#ef8686"/>
<rect x="96.32" y="596.2" width="10.63" height="1.7" fill="#cdd2e5"/>
<rect x="43.4" y="597.7" width="10.63" height="2.4" fill="#f19b9b"/>
<rect x="53.98" y="597.7" width="10.63" height="2.4" fill="#a6b2d6"/>
<rect x="64.57" y="597.7" width="10.63" height="2.4" fill="#6b81be"/>
<rect x="75.15" y="597.7" width="10.63" height="2.4" fill="#e72424"/>
<rect x="85.73" y="597.7" width="10.63" height="2.4" fill="#f1a0a0"/>
<rect x="96.32" y="597.7" width="10.63" height="2.4" fill="#f2b1b1"/>
<rect x="43.4" y="599.9" width="10.63" height="1.4" fill="#ec6060"/>
<rect x="53.98" y="599.9" width="10.63" height="1.4" fill="#f4c0c0"/>
<rect x="64.57" y="599.9" width="10.63" height="1.4" fill="#3252a8"/>
<rect x="75.15" y="599.9" width="10.63" height="1.4" fill="#e72424"/>
<rect x="85.73" y="599.9" width="10.63" height="1.4" fill="#e82f2f"/>
<rect x="96.32" y="599.9" width="10.63" height="1.4" fill="#f1a4a4"/>
<rect x="43.4" y="601.1" width="10.63" height="1.2" fill="#e72424"/>
<rect x="53.98" y="601.1" width="10.63" height="1.2" fill="#f3bdbd"/>
<rect x="64.57" y="601.1" width="10.63" height="1.2" fill="#536db5"/>
<rect x="75.15" y="601.1" width="10.63" height="1.2" fill="#e72424"/>
<rect x="85.73" y="601.1" width="10.63" height="1.2" fill="#f09999"/>
<rect x="96.32" y="601.1" width="10.63" height="1.2" fill="#f3b8b8"/>
<rect x="43.4" y="602.1" width="10.63" height="2.4" fill="#e72424"/>
<rect x="53.98" y="602.1" width="10.63" height="2.4" fill="#7186c1"/>
<rect x="64.57" y="602.1" width="10.63" height="2.4" fill="#3252a8"/>
<rect x="75.15" y="602.1" width="10.63" height="2.4" fill="#ea4545"/>
<rect x="85.73" y="602.1" width="10.63" height="2.4" fill="#f6dfdf"/>
<rect x="96.32" y="602.1" width="10.63" height="2.4" fill="#f1a5a5"/>
<rect x="43.4" y="604.3" width="10.63" height="1.4" fill="#ee7979"/>
<rect x="53.98" y="604.3" width="10.63" height="1.4" fill="#f6dede"/>
<rect x="64.57" y="604.3" width="10.63" height="1.4" fill="#5771b7"/>
<rect x="75.15" y="604.3" width="10.63" height="1.4" fill="#f2acac"/>
<rect x="85.73" y="604.3" width="10.63" height="1.4" fill="#ed6868"/>
<rect x="96.32" y="604.3" width="10.63" height="1.4" fill="#ec6767"/>
<rect x="43.4" y="605.5" width="10.63" height="1.4" fill="#f3bcbc"/>
<rect x="53.98" y="605.5" width="10.63" height="1.4" fill="#b9c2dd"/>
<rect x="64.57" y="605.5" width="10.63" height="1.4" fill="#4663b0"/>
<rect x="75.15" y="605.5" width="10.63" height="1.4" fill="#e93e3e"/>
<rect x="85.73" y="605.5" width="10.63" height="1.4" fill="#f1a1a1"/>
<rect x="96.32" y="605.5" width="10.63" height="1.4" fill="#f5cdcd"/>
<rect x="43.4" y="606.7" width="10.63" height="2.4" fill="#ed6a6a"/>
<rect x="53.98" y="606.7" width="10.63" height="2.4" fill="#f4caca"/>
<rect x="64.57" y="606.7" width="10.63" height="2.4" fill="#506bb4"/>
<rect x="75.15" y="606.7" width="10.63" height="2.4" fill="#ef8686"/>
<rect x="85.73" y="606.7" width="10.63" height="2.4" fill="#ec6767"/>
<rect x="96.32" y="606.7" width="10.63" height="2.4" fill="#ef8585"/>
<rect x="43.4" y="608.9" width="10.63" height="1.2" fill="#e72424"/>
<rect x="53.98" y="608.9" width="10.63" height="1.2" fill="#6f84c0"/>
<rect x="64.57" y="608.9" width="10.63" height="1.2" fill="#556fb6"/>
<rect x="75.15" y="608.9" width="10.63" height="1.2" fill="#f09595"/>
<rect x="85.73" y="608.9" width="10.63" height="1.2" fill="#ee7f7f"/>
<rect x="96.32" y="608.9" width="10.63" height="1.2" fill="#c5cce2"/>
<rect x="43.4" y="609.9" width="10.63" height="1.7" fill="#eb5757"/>
<rect x="53.98" y="609.9" width="10.63" height="1.7" fill="#f4f3f4"/>
<rect x="64.57" y="609.9" width="10.63" height="1.7" fill="#3353a8"/>
<rect x="75.15" y="609.9" width="10.63" height="1.7" fill="#f19f9f"/>
<rect x="85.73" y="609.9" width="10.63" height="1.7" fill="#ee7777"/>
<rect x="96.32" y="609.9" width="10.63" height="1.7" fill="#e83434"/>
<rect x="43.4" y="611.4" width="10.63" height="1.2" fill="#f1a0a0"/>
<rect x="53.98" y="611.4" width="10.63" height="1.2" fill="#c0c8e0"/>
<rect x="64.57" y="611.4" width="10.63" height="1.2" fill="#3252a8"/>
<rect x="75.15" y="611.4" width="10.63" height="1.2" fill="#e72424"/>
<rect x="85.73" y="611.4" width="10.63" height="1.2" fill="#e72424"/>
<rect x="96.32" y="611.4" width="10.63" height="1.2" fill="#e72424"/>
<rect x="43.4" y="612.4" width="10.63" height="2" fill="#e72424"/>
<rect x="53.98" y="612.4" width="10.63" height="2" fill="#ced4e6"/>
<rect x="64.57" y="612.4" width="10.63" height="2" fill="#4e69b3"/>
<rect x="75.15" y="612.4" width="10.63" height="2" fill="#ef8181"/>
<rect x="85.73" y="612.4" width="10.63" height="2" fill="#e93d3d"/>
<rect x="96.32" y="612.4" width="10.63" height="2" fill="#ed6d6d"/>
<rect x="43.4" y="614.2" width="10.63" height="1.2" fill="#ed6b6b"/>
<rect x="53.98" y="614.2" width="10.63" height="1.2" fill="#f2adad"/>
<rect x="64.57" y="614.2" width="10.63" height="1.2" fill="#97a6d0"/>
<rect x="75.15" y="614.2" width="10.63" height="1.2" fill="#c8cee3"/>
<rect x="85.73" y="614.2" width="10.63" height="1.2" fill="#eb5353"/>
<rect x="96.32" y="614.2" width="10.63" height="1.2" fill="#f4c8c8"/>
<rect x="43.4" y="615.2" width="10.63" height="2" fill="#ec5d5d"/>
<rect x="53.98" y="615.2" width="10.63" height="2" fill="#f7efef"/>
<rect x="64.57" y="615.2" width="10.63" height="2" fill="#a0add4"/>
<rect x="75.15" y="615.2" width="10.63" height="2" fill="#f09595"/>
<rect x="85.73" y="615.2" width="10.63" height="2" fill="#eb5757"/>
<rect x="96.32" y="615.2" width="10.63" height="2" fill="#ee7c7c"/>
<rect x="43.4" y="617" width="10.63" height="1.7" fill="#e72424"/>
<rect x="53.98" y="617" width="10.63" height="1.7" fill="#bbc3de"/>
<rect x="64.57" y="617" width="10.63" height="1.7" fill="#788cc4"/>
<rect x="75.15" y="617" width="10.63" height="1.7" fill="#e83232"/>
<rect x="85.73" y="617" width="10.63" height="1.7" fill="#ed6d6d"/>
<rect x="96.32" y="617" width="10.63" height="1.7" fill="#f5cfcf"/>
<rect x="43.4" y="618.5" width="10.63" height="1.2" fill="#e72424"/>
<rect x="53.98" y="618.5" width="10.63" height="1.2" fill="#3252a8"/>
<rect x="64.57" y="618.5" width="10.63" height="1.2" fill="#3c5aac"/>
<rect x="75.15" y="618.5" width="10.63" height="1.2" fill="#f3b5b5"/>
<rect x="85.73" y="618.5" width="10.63" height="1.2" fill="#ee7d7d"/>
<rect x="96.32" y="618.5" width="10.63" height="1.2" fill="#eb5757"/>
<rect x="43.4" y="619.5" width="10.63" height="1.7" fill="#f1a1a1"/>
<rect x="53.98" y="619.5" width="10.63" height="1.7" fill="#6179ba"/>
<rect x="64.57" y="619.5" width="10.63" height="1.7" fill="#4c68b2"/>
<rect x="75.15" y="619.5" width="10.63" height="1.7" fill="#ec6060"/>
<rect x="85.73" y="619.5" width="10.63" height="1.7" fill="#dbdeea"/>
<rect x="96.32" y="619.5" width="10.63" height="1.7" fill="#e72424"/>
<rect x="43.4" y="621" width="10.63" height="1.2" fill="#ed6a6a"/>
<rect x="53.98" y="621" width="10.63" height="1.2" fill="#f8f3f3"/>
<rect x="64.57" y="621" width="10.63" height="1.2" fill="#3252a8"/>
<rect x="75.15" y="621" width="10.63" height="1.2" fill="#eb5959"/>
<rect x="85.73" y="621" width="10.63" height="1.2" fill="#ee7a7a"/>
<rect x="96.32" y="621" width="10.63" height="1.2" fill="#f1a3a3"/>
<rect x="43.4" y="622" width="10.63" height="1.4" fill="#e72424"/>
<rect x="53.98" y="622" width="10.63" height="1.4" fill="#e1e3ed"/>
<rect x="64.57" y="622" width="10.63" height="1.4" fill="#3252a8"/>
<rect x="75.15" y="622" width="10.63" height="1.4" fill="#ec6565"/>
<rect x="85.73" y="622" width="10.63" height="1.4" fill="#e72424"/>
<rect x="96.32" y="622" width="10.63" height="1.4" fill="#d3d7e7"/>
<rect x="43.4" y="623.2" width="10.63" height="1.2" fill="#e72424"/>
<rect x="53.98" y="623.2" width="10.63" height="1.2" fill="#f2adad"/>
<rect x="64.57" y="623.2" width="10.63" height="1.2" fill="#3d5bac"/>
<rect x="75.15" y="623.2" width="10.63" height="1.2" fill="#ef8a8a"/>
<rect x="85.73" y="623.2" width="10.63" height="1.2" fill="#ec6565"/>
<rect x="96.32" y="623.2" width="10.63" height="1.2" fill="#f6e1e1"/>
<rect x="43.4" y="624.2" width="10.63" height="1.2" fill="#e72424"/>
<rect x="53.98" y="624.2" width="10.63" height="1.2" fill="#f5d7d7"/>
<rect x="64.57" y="624.2" width="10.63" height="1.2" fill="#899aca"/>
<rect x="75.15" y="624.2" width="10.63" height="1.2" fill="#f3b6b6"/>
<rect x="85.73" y="624.2" width="10.63" height="1.2" fill="#e72424"/>
<rect x="96.32" y="624.2" width="10.63" height="1.2" fill="#e72424"/>
<rect x="43.4" y="625.2" width="10.63" height="1.2" fill="#e72424"/>
<rect x="53.98" y="625.2" width="10.63" height="1.2" fill="#ededf2"/>
<rect x="64.57" y="625.2" width="10.63" height="1.2" fill="#3252a8"/>
<rect x="75.15" y="625.2" width="10.63" height="1.2" fill="#ef8282"/>
<rect x="85.73" y="625.2" width="10.63" height="1.2" fill="#f19b9b"/>
<rect x="96.32" y="625.2" width="10.63" height="1.2" fill="#e72424"/>
<rect x="43.4" y="626.2" width="10.63" height="2.4" fill="#ec5e5e"/>
<rect x="53.98" y="626.2" width="10.63" height="2.4" fill="#f7e6e6"/>
<rect x="64.57" y="626.2" width="10.63" height="2.4" fill="#6078ba"/>
<rect x="75.15" y="626.2" width="10.63" height="2.4" fill="#e72424"/>
<rect x="85.73" y="626.2" width="10.63" height="2.4" fill="#c4cbe1"/>
<rect x="96.32" y="626.2" width="10.63" height="2.4" fill="#f09797"/>
<rect x="43.4" y="628.4" width="10.63" height="2.4" fill="#ef8b8b"/>
<rect x="53.98" y="628.4" width="10.63" height="2.4" fill="#7e91c6"/>
<rect x="64.57" y="628.4" width="10.63" height="2.4" fill="#4461af"/>
<rect x="75.15" y="628.4" width="10.63" height="2.4" fill="#f09292"/>
<rect x="85.73" y="628.4" width="10.63" height="2.4" fill="#ed6f6f"/>
<rect x="96.32" y="628.4" width="10.63" height="2.4" fill="#f5f3f5"/>
<rect x="43.4" y="630.6" width="10.63" height="1.7" fill="#e72424"/>
<rect x="53.98" y="630.6" width="10.63" height="1.7" fill="#cad0e4"/>
<rect x="64.57" y="630.6" width="10.63" height="1.7" fill="#7e91c6"/>
<rect x="75.15" y="630.6" width="10.63" height="1.7" fill="#f19e9e"/>
<rect x="85.73" y="630.6" width="10.63" height="1.7" fill="#eb5555"/>
<rect x="96.32" y="630.6" width="10.63" height="1.7" fill="#f4c4c4"/>
<rect x="43.4" y="632.1" width="10.63" height="1.2" fill="#f8f3f3"/>
<rect x="53.98" y="632.1" width="10.63" height="1.2" fill="#ea4949"/>
<rect x="64.57" y="632.1" width="10.63" height="1.2" fill="#5871b7"/>
<rect x="75.15" y="632.1" width="10.63" height="1.2" fill="#f1a3a3"/>
<rect x="85.73" y="632.1" width="10.63" height="1.2" fill="#f4c5c5"/>
<rect x="96.32" y="632.1" width="10.63" height="1.2" fill="#ef8787"/>
<rect x="43.4" y="633.1" width="10.63" height="1.7" fill="#ea4e4e"/>
<rect x="53.98" y="633.1" width="10.63" height="1.7" fill="#f6e1e1"/>
<rect x="64.57" y="633.1" width="10.63" height="1.7" fill="#3252a8"/>
<rect x="75.15" y="633.1" width="10.63" height="1.7" fill="#daddea"/>
<rect x="85.73" y="633.1" width="10.63" height="1.7" fill="#ef8484"/>
<rect x="96.32" y="633.1" width="10.63" height="1.7" fill="#f5cfcf"/>
<rect x="43.4" y="634.6" width="10.63" height="2.4" fill="#f3b8b8"/>
<rect x="53.98" y="634.6" width="10.63" height="2.4" fill="#e82f2f"/>
<rect x="64.57" y="634.6" width="10.63" height="2.4" fill="#506bb4"/>
<rect x="75.15" y="634.6" width="10.63" height="2.4" fill="#f5d2d2"/>
<rect x="85.73" y="634.6" width="10.63" height="2.4" fill="#e72424"/>
<rect x="96.32" y="634.6" width="10.63" height="2.4" fill="#f19f9f"/>
<rect x="43.4" y="636.8" width="10.63" height="1.4" fill="#ec6767"/>
<rect x="53.98" y="636.8" width="10.63" height="1.4" fill="#e2e4ee"/>
<rect x="64.57" y="636.8" width="10.63" height="1.4" fill="#4360af"/>
<rect x="75.15" y="636.8" width="10.63" height="1.4" fill="#e72424"/>
<rect x="85.73" y="636.8" width="10.63" height="1.4" fill="#ee7d7d"/>
<rect x="96.32" y="636.8" width="10.63" height="1.4" fill="#f4c0c0"/>
<rect x="43.4" y="638" width="10.63" height="1.2" fill="#e93c3c"/>
<rect x="53.98" y="638" width="10.63" height="1.2" fill="#daddea"/>
<rect x="64.57" y="638" width="10.63" height="1.2" fill="#637bbb"/>
<rect x="75.15" y="638" width="10.63" height="1.2" fill="#eb5a5a"/>
<rect x="85.73" y="638" width="10.63" height="1.2" fill="#f3bcbc"/>
<rect x="96.32" y="638" width="10.63" height="1.2" fill="#ef8888"/>
<rect x="43.4" y="639" width="10.63" height="1.4" fill="#ececf1"/>
<rect x="53.98" y="639" width="10.63" height="1.4" fill="#e4e5ee"/>
<rect x="64.57" y="639" width="10.63" height="1.4" fill="#3756aa"/>
<rect x="75.15" y="639" width="10.63" height="1.4" fill="#f6dede"/>
<rect x="85.73" y="639" width="10.63" height="1.4" fill="#e82d2d"/>
<rect x="96.32" y="639" width="10.63" height="1.4" fill="#ed7070"/>
<rect x="43.4" y="640.2" width="10.63" height="1.4" fill="#ee7878"/>
<rect x="53.98" y="640.2" width="10.63" height="1.4" fill="#e72424"/>
<rect x="64.57" y="640.2" width="10.63" height="1.4" fill="#3252a8"/>
<rect x="75.15" y="640.2" width="10.63" height="1.4" fill="#f6dada"/>
<rect x="85.73" y="640.2" width="10.63" height="1.4" fill="#e72424"/>
<rect x="96.32" y="640.2" width="10.63" height="1.4" fill="#91a0cd"/>
<rect x="43.4" y="641.4" width="10.63" height="1.2" fill="#ea4c4c"/>
<rect x="53.98" y="641.4" width="10.63" height="1.2" fill="#ea4545"/>
<rect x="64.57" y="641.4" width="10.63" height="1.2" fill="#3958ab"/>
<rect x="75.15" y="641.4" width="10.63" height="1.2" fill="#f7f0f0"/>
<rect x="85.73" y="641.4" width="10.63" height="1.2" fill="#acb7d8"/>
<rect x="96.32" y="641.4" width="10.63" height="1.2" fill="#f3b7b7"/>
<rect x="43.4" y="642.4" width="10.63" height="1.2" fill="#e72424"/>
<rect x="53.98" y="642.4" width="10.63" height="1.2" fill="#f6dada"/>
<rect x="64.57" y="642.4" width="10.63" height="1.2" fill="#4360af"/>
<rect x="75.15" y="642.4" width="10.63" height="1.2" fill="#e94141"/>
<rect x="85.73" y="642.4" width="10.63" height="1.2" fill="#f1a2a2"/>
<rect x="96.32" y="642.4" width="10.63" height="1.2" fill="#ef8282"/>
<rect x="43.4" y="643.4" width="10.63" height="2" fill="#e93c3c"/>
<rect x="53.98" y="643.4" width="10.63" height="2" fill="#e72424"/>
<rect x="64.57" y="643.4" width="10.63" height="2" fill="#6f85c0"/>
<rect x="75.15" y="643.4" width="10.63" height="2" fill="#c5cce2"/>
<rect x="85.73" y="643.4" width="10.63" height="2" fill="#d7dbe9"/>
<rect x="96.32" y="643.4" width="10.63" height="2" fill="#f7efef"/>
<rect x="43.4" y="645.2" width="10.63" height="1.2" fill="#f19b9b"/>
<rect x="53.98" y="645.2" width="10.63" height="1.2" fill="#3252a8"/>
<rect x="64.57" y="645.2" width="10.63" height="1.2" fill="#3252a8"/>
<rect x="75.15" y="645.2" width="10.63" height="1.2" fill="#ef8585"/>
<rect x="85.73" y="645.2" width="10.63" height="1.2" fill="#e72424"/>
<rect x="96.32" y="645.2" width="10.63" height="1.2" fill="#d0d5e6"/>
<rect x="43.4" y="646.2" width="10.63" height="1.2" fill="#f19a9a"/>
<rect x="53.98" y="646.2" width="10.63" height="1.2" fill="#abb6d8"/>
<rect x="64.57" y="646.2" width="10.63" height="1.2" fill="#3453a9"/>
<rect x="75.15" y="646.2" width="10.63" height="1.2" fill="#f7eaea"/>
<rect x="85.73" y="646.2" width="10.63" height="1.2" fill="#eb5353"/>
<rect x="96.32" y="646.2" width="10.63" height="1.2" fill="#f19d9d"/>
<rect x="43.4" y="647.2" width="10.63" height="1.4" fill="#e83131"/>
<rect x="53.98" y="647.2" width="10.63" height="1.4" fill="#d4d8e8"/>
<rect x="64.57" y="647.2" width="10.63" height="1.4" fill="#3252a8"/>
<rect x="75.15" y="647.2" width="10.63" height="1.4" fill="#ef8a8a"/>
<rect x="85.73" y="647.2" width="10.63" height="1.4" fill="#f6e0e0"/>
<rect x="96.32" y="647.2" width="10.63" height="1.4" fill="#f5d2d2"/>
<rect x="43.4" y="648.4" width="10.63" height="1.4" fill="#e72424"/>
<rect x="53.98" y="648.4" width="10.63" height="1.4" fill="#c1c8e0"/>
<rect x="64.57" y="648.4" width="10.63" height="1.4" fill="#3252a8"/>
<rect x="75.15" y="648.4" width="10.63" height="1.4" fill="#ec5d5d"/>
<rect x="85.73" y="648.4" width="10.63" height="1.4" fill="#b8bcc8"/>
<rect x="96.32" y="648.4" width="10.63" height="1.4" fill="#f2b2b2"/>
<rect x="43.4" y="649.6" width="10.63" height="1.4" fill="#ef8c8c"/>
<rect x="53.98" y="649.6" width="10.63" height="1.4" fill="#ed6d6d"/>
<rect x="64.57" y="649.6" width="10.63" height="1.4" fill="#3d5bac"/>
<rect x="75.15" y="649.6" width="10.63" height="1.4" fill="#f1a0a0"/>
<rect x="85.73" y="649.6" width="10.63" height="1.4" fill="#f09494"/>
<rect x="96.32" y="649.6" width="10.63" height="1.4" fill="#eeeef2"/>
<rect x="43.4" y="650.8" width="10.63" height="1.2" fill="#e72424"/>
<rect x="53.98" y="650.8" width="10.63" height="1.2" fill="#cdd2e5"/>
<rect x="64.57" y="650.8" width="10.63" height="1.2" fill="#5b74b8"/>
<rect x="75.15" y="650.8" width="10.63" height="1.2" fill="#f2a8a8"/>
<rect x="85.73" y="650.8" width="10.63" height="1.2" fill="#b8bcc8"/>
<rect x="96.32" y="650.8" width="10.63" height="1.2" fill="#a4b1d5"/>
<rect x="43.4" y="651.8" width="10.63" height="1.7" fill="#e72424"/>
<rect x="53.98" y="651.8" width="10.63" height="1.7" fill="#eb5858"/>
<rect x="64.57" y="651.8" width="10.63" height="1.7" fill="#3252a8"/>
<rect x="75.15" y="651.8" width="10.63" height="1.7" fill="#bac3de"/>
<rect x="85.73" y="651.8" width="10.63" height="1.7" fill="#f3b4b4"/>
<rect x="96.32" y="651.8" width="10.63" height="1.7" fill="#f5d7d7"/>
<rect x="43.4" y="653.3" width="10.63" height="1.2" fill="#e72424"/>
<rect x="53.98" y="653.3" width="10.63" height="1.2" fill="#f2aaaa"/>
<rect x="64.57" y="653.3" width="10.63" height="1.2" fill="#3252a8"/>
<rect x="75.15" y="653.3" width="10.63" height="1.2" fill="#f19b9b"/>
<rect x="85.73" y="653.3" width="10.63" height="1.2" fill="#e94141"/>
<rect x="96.32" y="653.3" width="10.63" height="1.2" fill="#e1e3ed"/>
<rect x="43.4" y="654.3" width="10.63" height="1.7" fill="#e94040"/>
<rect x="53.98" y="654.3" width="10.63" height="1.7" fill="#b2bcdb"/>
<rect x="64.57" y="654.3" width="10.63" height="1.7" fill="#3b5aac"/>
<rect x="75.15" y="654.3" width="10.63" height="1.7" fill="#f2f1f4"/>
<rect x="85.73" y="654.3" width="10.63" height="1.7" fill="#ee7e7e"/>
<rect x="96.32" y="654.3" width="10.63" height="1.7" fill="#cbd1e4"/>
<rect x="43.4" y="655.8" width="10.63" height="1.2" fill="#e72424"/>
<rect x="53.98" y="655.8" width="10.63" height="1.2" fill="#eaebf1"/>
<rect x="64.57" y="655.8" width="10.63" height="1.2" fill="#3252a8"/>
<rect x="75.15" y="655.8" width="10.63" height="1.2" fill="#b1bbda"/>
<rect x="85.73" y="655.8" width="10.63" height="1.2" fill="#cdd2e5"/>
<rect x="96.32" y="655.8" width="10.63" height="1.2" fill="#bac2dd"/>
<rect x="43.4" y="656.8" width="10.63" height="1.7" fill="#e83131"/>
<rect x="53.98" y="656.8" width="10.63" height="1.7" fill="#f1a1a1"/>
<rect x="64.57" y="656.8" width="10.63" height="1.7" fill="#3252a8"/>
<rect x="75.15" y="656.8" width="10.63" height="1.7" fill="#e5e6ee"/>
<rect x="85.73" y="656.8" width="10.63" height="1.7" fill="#f3b4b4"/>
<rect x="96.32" y="656.8" width="10.63" height="1.7" fill="#daddea"/>
<rect x="43.4" y="658.3" width="10.63" height="1.7" fill="#f6e3e3"/>
<rect x="53.98" y="658.3" width="10.63" height="1.7" fill="#f6e3e3"/>
<rect x="64.57" y="658.3" width="10.63" height="1.7" fill="#425fae"/>
<rect x="75.15" y="658.3" width="10.63" height="1.7" fill="#f6e2e2"/>
<rect x="85.73" y="658.3" width="10.63" height="1.7" fill="#f7ebeb"/>
<rect x="96.32" y="658.3" width="10.63" height="1.7" fill="#f4c4c4"/>
<rect x="43.4" y="659.8" width="10.63" height="1.2" fill="#ea4444"/>
<rect x="53.98" y="659.8" width="10.63" height="1.2" fill="#ec6767"/>
<rect x="64.57" y="659.8" width="10.63" height="1.2" fill="#546eb5"/>
<rect x="75.15" y="659.8" width="10.63" height="1.2" fill="#a8b4d6"/>
<rect x="85.73" y="659.8" width="10.63" height="1.2" fill="#f4bfbf"/>
<rect x="96.32" y="659.8" width="10.63" height="1.2" fill="#d5d9e8"/>
<rect x="43.4" y="660.8" width="10.63" height="1.4" fill="#e72424"/>
<rect x="53.98" y="660.8" width="10.63" height="1.4" fill="#ea4c4c"/>
<rect x="64.57" y="660.8" width="10.63" height="1.4" fill="#3252a8"/>
<rect x="75.15" y="660.8" width="10.63" height="1.4" fill="#f2abab"/>
<rect x="85.73" y="660.8" width="10.63" height="1.4" fill="#c3cae1"/>
<rect x="96.32" y="660.8" width="10.63" height="1.4" fill="#ccd1e4"/>
<rect x="43.4" y="662" width="10.63" height="1.4" fill="#e72424"/>
<rect x="53.98" y="662" width="10.63" height="1.4" fill="#ea4b4b"/>
<rect x="64.57" y="662" width="10.63" height="1.4" fill="#556fb6"/>
<rect x="75.15" y="662" width="10.63" height="1.4" fill="#94a3cf"/>
<rect x="85.73" y="662" width="10.63" height="1.4" fill="#f09494"/>
<rect x="96.32" y="662" width="10.63" height="1.4" fill="#d0d5e6"/>
<rect x="43.4" y="663.2" width="10.63" height="1.2" fill="#e72424"/>
<rect x="53.98" y="663.2" width="10.63" height="1.2" fill="#e72424"/>
<rect x="64.57" y="663.2" width="10.63" height="1.2" fill="#516cb4"/>
<rect x="75.15" y="663.2" width="10.63" height="1.2" fill="#3252a8"/>
<rect x="85.73" y="663.2" width="10.63" height="1.2" fill="#b8bcc8"/>
<rect x="96.32" y="663.2" width="10.63" height="1.2" fill="#e3e5ee"/>
<rect x="43.4" y="664.2" width="10.63" height="2" fill="#f19b9b"/>
<rect x="53.98" y="664.2" width="10.63" height="2" fill="#e4e6ee"/>
<rect x="64.57" y="664.2" width="10.63" height="2" fill="#3252a8"/>
<rect x="75.15" y="664.2" width="10.63" height="2" fill="#7489c2"/>
<rect x="85.73" y="664.2" width="10.63" height="2" fill="#c0c8e0"/>
<rect x="96.32" y="664.2" width="10.63" height="2" fill="#dfe1ec"/>
<rect x="43.4" y="666" width="10.63" height="2" fill="#eb5a5a"/>
<rect x="53.98" y="666" width="10.63" height="2" fill="#f7e8e8"/>
<rect x="64.57" y="666" width="10.63" height="2" fill="#6d83bf"/>
<rect x="75.15" y="666" width="10.63" height="2" fill="#9caad2"/>
<rect x="85.73" y="666" width="10.63" height="2" fill="#3252a8"/>
<rect x="96.32" y="666" width="10.63" height="2" fill="#798cc4"/>
<rect x="43.4" y="667.8" width="10.63" height="1.2" fill="#e72424"/>
<rect x="53.98" y="667.8" width="10.63" height="1.2" fill="#3252a8"/>
<rect x="64.57" y="667.8" width="10.63" height="1.2" fill="#637abb"/>
<rect x="75.15" y="667.8" width="10.63" height="1.2" fill="#e8e8f0"/>
<rect x="85.73" y="667.8" width="10.63" height="1.2" fill="#f2a6a6"/>
<rect x="96.32" y="667.8" width="10.63" height="1.2" fill="#6078ba"/>
<rect x="43.4" y="668.8" width="10.63" height="1.4" fill="#e72424"/>
<rect x="53.98" y="668.8" width="10.63" height="1.4" fill="#ee7979"/>
<rect x="64.57" y="668.8" width="10.63" height="1.4" fill="#3252a8"/>
<rect x="75.15" y="668.8" width="10.63" height="1.4" fill="#a3b0d5"/>
<rect x="85.73" y="668.8" width="10.63" height="1.4" fill="#8b9bcb"/>
<rect x="96.32" y="668.8" width="10.63" height="1.4" fill="#a5b1d5"/>
<rect x="43.4" y="670" width="10.63" height="1.4" fill="#ee7e7e"/>
<rect x="53.98" y="670" width="10.63" height="1.4" fill="#f3b8b8"/>
<rect x="64.57" y="670" width="10.63" height="1.4" fill="#3756aa"/>
<rect x="75.15" y="670" width="10.63" height="1.4" fill="#6d83bf"/>
<rect x="85.73" y="670" width="10.63" height="1.4" fill="#ef8686"/>
<rect x="96.32" y="670" width="10.63" height="1.4" fill="#798dc4"/>
<rect x="43.4" y="671.2" width="10.63" height="1.2" fill="#e72525"/>
<rect x="53.98" y="671.2" width="10.63" height="1.2" fill="#f1a2a2"/>
<rect x="64.57" y="671.2" width="10.63" height="1.2" fill="#6078ba"/>
<rect x="75.15" y="671.2" width="10.63" height="1.2" fill="#adb8d9"/>
<rect x="85.73" y="671.2" width="10.63" height="1.2" fill="#f6dbdb"/>
<rect x="96.32" y="671.2" width="10.63" height="1.2" fill="#f4f2f4"/>
<rect x="43.4" y="672.2" width="10.63" height="2" fill="#e72424"/>
<rect x="53.98" y="672.2" width="10.63" height="2" fill="#a4b0d5"/>
<rect x="64.57" y="672.2" width="10.63" height="2" fill="#3252a8"/>
<rect x="75.15" y="672.2" width="10.63" height="2" fill="#3252a8"/>
<rect x="85.73" y="672.2" width="10.63" height="2" fill="#f3b3b3"/>
<rect x="96.32" y="672.2" width="10.63" height="2" fill="#9caad2"/>
<rect x="43.4" y="674" width="10.63" height="1.7" fill="#e72424"/>
<rect x="53.98" y="674" width="10.63" height="1.7" fill="#adb8d8"/>
<rect x="64.57" y="674" width="10.63" height="1.7" fill="#b8bcc8"/>
<rect x="75.15" y="674" width="10.63" height="1.7" fill="#3e5cad"/>
<rect x="85.73" y="674" width="10.63" height="1.7" fill="#7287c1"/>
<rect x="96.32" y="674" width="10.63" height="1.7" fill="#7b8fc5"/>
<rect x="43.4" y="675.5" width="10.63" height="1.2" fill="#ea4848"/>
<rect x="53.98" y="675.5" width="10.63" height="1.2" fill="#ef8989"/>
<rect x="64.57" y="675.5" width="10.63" height="1.2" fill="#4662b0"/>
<rect x="75.15" y="675.5" width="10.63" height="1.2" fill="#7186c1"/>
<rect x="85.73" y="675.5" width="10.63" height="1.2" fill="#f6dede"/>
<rect x="96.32" y="675.5" width="10.63" height="1.2" fill="#6c82bf"/>
<rect x="43.4" y="676.5" width="10.63" height="2" fill="#eb5858"/>
<rect x="53.98" y="676.5" width="10.63" height="2" fill="#b3bcdb"/>
<rect x="64.57" y="676.5" width="10.63" height="2" fill="#3756aa"/>
<rect x="75.15" y="676.5" width="10.63" height="2" fill="#3252a8"/>
<rect x="85.73" y="676.5" width="10.63" height="2" fill="#bdc5df"/>
<rect x="96.32" y="676.5" width="10.63" height="2" fill="#506bb4"/>
<rect x="43.4" y="678.3" width="10.63" height="1.2" fill="#ef8383"/>
<rect x="53.98" y="678.3" width="10.63" height="1.2" fill="#f2f1f4"/>
<rect x="64.57" y="678.3" width="10.63" height="1.2" fill="#3252a8"/>
<rect x="75.15" y="678.3" width="10.63" height="1.2" fill="#b8bcc8"/>
<rect x="85.73" y="678.3" width="10.63" height="1.2" fill="#f3b7b7"/>
<rect x="96.32" y="678.3" width="10.63" height="1.2" fill="#627abb"/>
<rect x="43.4" y="679.3" width="10.63" height="1.2" fill="#e72424"/>
<rect x="53.98" y="679.3" width="10.63" height="1.2" fill="#ced3e5"/>
<rect x="64.57" y="679.3" width="10.63" height="1.2" fill="#5771b7"/>
<rect x="75.15" y="679.3" width="10.63" height="1.2" fill="#3252a8"/>
<rect x="85.73" y="679.3" width="10.63" height="1.2" fill="#b8bcc8"/>
<rect x="96.32" y="679.3" width="10.63" height="1.2" fill="#abb7d8"/>
<rect x="43.4" y="680.3" width="10.63" height="2.4" fill="#e93b3b"/>
<rect x="53.98" y="680.3" width="10.63" height="2.4" fill="#f2a9a9"/>
<rect x="64.57" y="680.3" width="10.63" height="2.4" fill="#5f77ba"/>
<rect x="75.15" y="680.3" width="10.63" height="2.4" fill="#5872b7"/>
<rect x="85.73" y="680.3" width="10.63" height="2.4" fill="#f7f5f5"/>
<rect x="96.32" y="680.3" width="10.63" height="2.4" fill="#a5b1d5"/>
<rect x="43.4" y="682.5" width="10.63" height="1.7" fill="#e72828"/>
<rect x="53.98" y="682.5" width="10.63" height="1.7" fill="#5a73b8"/>
<rect x="64.57" y="682.5" width="10.63" height="1.7" fill="#b8bcc8"/>
<rect x="75.15" y="682.5" width="10.63" height="1.7" fill="#3f5cad"/>
<rect x="85.73" y="682.5" width="10.63" height="1.7" fill="#5e77b9"/>
<rect x="96.32" y="682.5" width="10.63" height="1.7" fill="#7e91c6"/>
<rect x="43.4" y="684" width="10.63" height="1.2" fill="#ee7c7c"/>
<rect x="53.98" y="684" width="10.63" height="1.2" fill="#f3b4b4"/>
<rect x="64.57" y="684" width="10.63" height="1.2" fill="#4b66b2"/>
<rect x="75.15" y="684" width="10.63" height="1.2" fill="#b8bcc8"/>
<rect x="85.73" y="684" width="10.63" height="1.2" fill="#bcc5df"/>
<rect x="96.32" y="684" width="10.63" height="1.2" fill="#3252a8"/>
<rect x="43.4" y="685" width="10.63" height="2" fill="#ef8686"/>
<rect x="53.98" y="685" width="10.63" height="2" fill="#99a8d1"/>
<rect x="64.57" y="685" width="10.63" height="2" fill="#b8bcc8"/>
<rect x="75.15" y="685" width="10.63" height="2" fill="#3252a8"/>
<rect x="85.73" y="685" width="10.63" height="2" fill="#cbd1e4"/>
<rect x="96.32" y="685" width="10.63" height="2" fill="#6f85c0"/>
<rect x="43.4" y="686.8" width="10.63" height="1.4" fill="#e72626"/>
<rect x="53.98" y="686.8" width="10.63" height="1.4" fill="#e94242"/>
<rect x="64.57" y="686.8" width="10.63" height="1.4" fill="#4e6ab3"/>
<rect x="75.15" y="686.8" width="10.63" height="1.4" fill="#b8bcc8"/>
<rect x="85.73" y="686.8" width="10.63" height="1.4" fill="#c4cbe2"/>
<rect x="96.32" y="686.8" width="10.63" height="1.4" fill="#8193c7"/>
<rect x="43.4" y="688" width="10.63" height="1.7" fill="#e72424"/>
<rect x="53.98" y="688" width="10.63" height="1.7" fill="#e72424"/>
<rect x="64.57" y="688" width="10.63" height="1.7" fill="#6c82bf"/>
<rect x="75.15" y="688" width="10.63" height="1.7" fill="#3252a8"/>
<rect x="85.73" y="688" width="10.63" height="1.7" fill="#b8bcc8"/>
<rect x="96.32" y="688" width="10.63" height="1.7" fill="#8597c9"/>
<rect x="43.4" y="689.5" width="10.63" height="1.7" fill="#ec6464"/>
<rect x="53.98" y="689.5" width="10.63" height="1.7" fill="#f6e3e3"/>
<rect x="64.57" y="689.5" width="10.63" height="1.7" fill="#3252a8"/>
<rect x="75.15" y="689.5" width="10.63" height="1.7" fill="#3252a8"/>
<rect x="85.73" y="689.5" width="10.63" height="1.7" fill="#98a7d0"/>
<rect x="96.32" y="689.5" width="10.63" height="1.7" fill="#b4bedb"/>
<rect x="43.4" y="691" width="10.63" height="2.4" fill="#e72424"/>
<rect x="53.98" y="691" width="10.63" height="2.4" fill="#bdc5df"/>
<rect x="64.57" y="691" width="10.63" height="2.4" fill="#5973b8"/>
<rect x="75.15" y="691" width="10.63" height="2.4" fill="#3252a8"/>
<rect x="85.73" y="691" width="10.63" height="2.4" fill="#3252a8"/>
<rect x="96.32" y="691" width="10.63" height="2.4" fill="#3c5bac"/>
<rect x="43.4" y="693.2" width="10.63" height="1.2" fill="#e72424"/>
<rect x="53.98" y="693.2" width="10.63" height="1.2" fill="#ea4444"/>
<rect x="64.57" y="693.2" width="10.63" height="1.2" fill="#506bb4"/>
<rect x="75.15" y="693.2" width="10.63" height="1.2" fill="#3958ab"/>
<rect x="85.73" y="693.2" width="10.63" height="1.2" fill="#6e84c0"/>
<rect x="96.32" y="693.2" width="10.63" height="1.2" fill="#8a9bcb"/>
<rect x="43.4" y="694.2" width="10.63" height="1.2" fill="#f09595"/>
<rect x="53.98" y="694.2" width="10.63" height="1.2" fill="#e4e6ee"/>
<rect x="64.57" y="694.2" width="10.63" height="1.2" fill="#7a8dc4"/>
<rect x="75.15" y="694.2" width="10.63" height="1.2" fill="#4b66b2"/>
<rect x="85.73" y="694.2" width="10.63" height="1.2" fill="#dfe1ec"/>
<rect x="96.32" y="694.2" width="10.63" height="1.2" fill="#3252a8"/>
<rect x="43.4" y="695.2" width="10.63" height="1.2" fill="#ed7474"/>
<rect x="53.98" y="695.2" width="10.63" height="1.2" fill="#f5cccc"/>
<rect x="64.57" y="695.2" width="10.63" height="1.2" fill="#7b8fc5"/>
<rect x="75.15" y="695.2" width="10.63" height="1.2" fill="#657cbc"/>
<rect x="85.73" y="695.2" width="10.63" height="1.2" fill="#8193c7"/>
<rect x="96.32" y="695.2" width="10.63" height="1.2" fill="#c0c8e0"/>
<rect x="43.4" y="696.2" width="10.63" height="1.4" fill="#ed7474"/>
<rect x="53.98" y="696.2" width="10.63" height="1.4" fill="#bbc4de"/>
<rect x="64.57" y="696.2" width="10.63" height="1.4" fill="#506bb4"/>
<rect x="75.15" y="696.2" width="10.63" height="1.4" fill="#a7b3d6"/>
<rect x="85.73" y="696.2" width="10.63" height="1.4" fill="#92a2ce"/>
<rect x="96.32" y="696.2" width="10.63" height="1.4" fill="#a1aed4"/>
<rect x="43.4" y="697.4" width="10.63" height="1.2" fill="#e82f2f"/>
<rect x="53.98" y="697.4" width="10.63" height="1.2" fill="#91a1cd"/>
<rect x="64.57" y="697.4" width="10.63" height="1.2" fill="#6e84c0"/>
<rect x="75.15" y="697.4" width="10.63" height="1.2" fill="#99a8d1"/>
<rect x="85.73" y="697.4" width="10.63" height="1.2" fill="#7287c1"/>
<rect x="96.32" y="697.4" width="10.63" height="1.2" fill="#8f9fcd"/>
<rect x="43.4" y="698.4" width="10.63" height="1.2" fill="#eb5b5b"/>
<rect x="53.98" y="698.4" width="10.63" height="1.2" fill="#e72424"/>
<rect x="64.57" y="698.4" width="10.63" height="1.2" fill="#5e77b9"/>
<rect x="75.15" y="698.4" width="10.63" height="1.2" fill="#a0add3"/>
<rect x="85.73" y="698.4" width="10.63" height="1.2" fill="#b8bcc8"/>
<rect x="96.32" y="698.4" width="10.63" height="1.2" fill="#3e5cad"/>
<rect x="43.4" y="699.4" width="10.63" height="2" fill="#e72424"/>
<rect x="53.98" y="699.4" width="10.63" height="2" fill="#dfe2ec"/>
<rect x="64.57" y="699.4" width="10.63" height="2" fill="#3252a8"/>
<rect x="75.15" y="699.4" width="10.63" height="2" fill="#a8b4d7"/>
<rect x="85.73" y="699.4" width="10.63" height="2" fill="#e6e7ef"/>
<rect x="96.32" y="699.4" width="10.63" height="2" fill="#5c75b9"/>
<rect x="43.4" y="701.2" width="10.63" height="1.2" fill="#ea4d4d"/>
<rect x="53.98" y="701.2" width="10.63" height="1.2" fill="#f7eeee"/>
<rect x="64.57" y="701.2" width="10.63" height="1.2" fill="#3252a8"/>
<rect x="75.15" y="701.2" width="10.63" height="1.2" fill="#96a5d0"/>
<rect x="85.73" y="701.2" width="10.63" height="1.2" fill="#3252a8"/>
<rect x="96.32" y="701.2" width="10.63" height="1.2" fill="#c0c8e0"/>
<rect x="43.4" y="702.2" width="10.63" height="1.4" fill="#eb5555"/>
<rect x="53.98" y="702.2" width="10.63" height="1.4" fill="#a1aed4"/>
<rect x="64.57" y="702.2" width="10.63" height="1.4" fill="#7c8fc5"/>
<rect x="75.15" y="702.2" width="10.63" height="1.4" fill="#b1bbda"/>
<rect x="85.73" y="702.2" width="10.63" height="1.4" fill="#b8bcc8"/>
<rect x="96.32" y="702.2" width="10.63" height="1.4" fill="#8e9ecc"/>
<rect x="43.4" y="703.4" width="10.63" height="1.2" fill="#e72424"/>
<rect x="53.98" y="703.4" width="10.63" height="1.2" fill="#d8dbe9"/>
<rect x="64.57" y="703.4" width="10.63" height="1.2" fill="#3252a8"/>
<rect x="75.15" y="703.4" width="10.63" height="1.2" fill="#899aca"/>
<rect x="85.73" y="703.4" width="10.63" height="1.2" fill="#d3d7e7"/>
<rect x="96.32" y="703.4" width="10.63" height="1.2" fill="#92a1ce"/>
<rect x="43.4" y="704.4" width="10.63" height="1.7" fill="#ec6565"/>
<rect x="53.98" y="704.4" width="10.63" height="1.7" fill="#91a0cd"/>
<rect x="64.57" y="704.4" width="10.63" height="1.7" fill="#3252a8"/>
<rect x="75.15" y="704.4" width="10.63" height="1.7" fill="#8c9ccb"/>
<rect x="85.73" y="704.4" width="10.63" height="1.7" fill="#b4bddb"/>
<rect x="96.32" y="704.4" width="10.63" height="1.7" fill="#4461af"/>
<rect x="43.4" y="705.9" width="10.63" height="2" fill="#e72424"/>
<rect x="53.98" y="705.9" width="10.63" height="2" fill="#f7e8e8"/>
<rect x="64.57" y="705.9" width="10.63" height="2" fill="#526cb5"/>
<rect x="75.15" y="705.9" width="10.63" height="2" fill="#697fbd"/>
<rect x="85.73" y="705.9" width="10.63" height="2" fill="#b8bcc8"/>
<rect x="96.32" y="705.9" width="10.63" height="2" fill="#3454a9"/>
<rect x="43.4" y="707.7" width="10.63" height="1.2" fill="#ea4646"/>
<rect x="53.98" y="707.7" width="10.63" height="1.2" fill="#ed6d6d"/>
<rect x="64.57" y="707.7" width="10.63" height="1.2" fill="#3252a8"/>
<rect x="75.15" y="707.7" width="10.63" height="1.2" fill="#788cc4"/>
<rect x="85.73" y="707.7" width="10.63" height="1.2" fill="#6078ba"/>
<rect x="96.32" y="707.7" width="10.63" height="1.2" fill="#3252a8"/>
<rect x="43.4" y="708.7" width="10.63" height="2" fill="#e72424"/>
<rect x="53.98" y="708.7" width="10.63" height="2" fill="#657cbc"/>
<rect x="64.57" y="708.7" width="10.63" height="2" fill="#3252a8"/>
<rect x="75.15" y="708.7" width="10.63" height="2" fill="#3252a8"/>
<rect x="85.73" y="708.7" width="10.63" height="2" fill="#526cb5"/>
<rect x="96.32" y="708.7" width="10.63" height="2" fill="#b3bddb"/>
<rect x="43.4" y="710.5" width="10.63" height="1.4" fill="#ee7c7c"/>
<rect x="53.98" y="710.5" width="10.63" height="1.4" fill="#e83131"/>
<rect x="64.57" y="710.5" width="10.63" height="1.4" fill="#94a3cf"/>
<rect x="75.15" y="710.5" width="10.63" height="1.4" fill="#3252a8"/>
<rect x="85.73" y="710.5" width="10.63" height="1.4" fill="#a7b3d6"/>
<rect x="96.32" y="710.5" width="10.63" height="1.4" fill="#647cbc"/>
<rect x="43.4" y="711.7" width="10.63" height="2.4" fill="#ed6b6b"/>
<rect x="53.98" y="711.7" width="10.63" height="2.4" fill="#f7f0f0"/>
<rect x="64.57" y="711.7" width="10.63" height="2.4" fill="#b8bcc8"/>
<rect x="75.15" y="711.7" width="10.63" height="2.4" fill="#f7eded"/>
<rect x="85.73" y="711.7" width="10.63" height="2.4" fill="#6980be"/>
<rect x="96.32" y="711.7" width="10.63" height="2.4" fill="#8899ca"/>
<rect x="43.4" y="713.9" width="10.63" height="2" fill="#eb5454"/>
<rect x="53.98" y="713.9" width="10.63" height="2" fill="#f5d7d7"/>
<rect x="64.57" y="713.9" width="10.63" height="2" fill="#3252a8"/>
<rect x="75.15" y="713.9" width="10.63" height="2" fill="#7e91c6"/>
<rect x="85.73" y="713.9" width="10.63" height="2" fill="#4461af"/>
<rect x="96.32" y="713.9" width="10.63" height="2" fill="#3252a8"/>
<rect x="43.4" y="715.7" width="10.63" height="1.2" fill="#e72424"/>
<rect x="53.98" y="715.7" width="10.63" height="1.2" fill="#a4b0d5"/>
<rect x="64.57" y="715.7" width="10.63" height="1.2" fill="#3252a8"/>
<rect x="75.15" y="715.7" width="10.63" height="1.2" fill="#94a3cf"/>
<rect x="85.73" y="715.7" width="10.63" height="1.2" fill="#8f9fcd"/>
<rect x="96.32" y="715.7" width="10.63" height="1.2" fill="#5b74b8"/>
<rect x="43.4" y="716.7" width="10.63" height="1.4" fill="#ec5c5c"/>
<rect x="53.98" y="716.7" width="10.63" height="1.4" fill="#f4c2c2"/>
<rect x="64.57" y="716.7" width="10.63" height="1.4" fill="#a9b5d7"/>
<rect x="75.15" y="716.7" width="10.63" height="1.4" fill="#3252a8"/>
<rect x="85.73" y="716.7" width="10.63" height="1.4" fill="#7085c0"/>
<rect x="96.32" y="716.7" width="10.63" height="1.4" fill="#6a80be"/>
<rect x="43.4" y="717.9" width="10.63" height="1.2" fill="#e72424"/>
<rect x="53.98" y="717.9" width="10.63" height="1.2" fill="#eb5555"/>
<rect x="64.57" y="717.9" width="10.63" height="1.2" fill="#bfbfbf"/>
<rect x="75.15" y="717.9" width="10.63" height="1.2" fill="#b6c0dc"/>
<rect x="85.73" y="717.9" width="10.63" height="1.2" fill="#8e9ecc"/>
<rect x="96.32" y="717.9" width="10.63" height="1.2" fill="#3252a8"/>
<rect x="43.4" y="718.9" width="10.63" height="1.4" fill="#e82e2e"/>
<rect x="53.98" y="718.9" width="10.63" height="1.4" fill="#c3cae1"/>
<rect x="64.57" y="718.9" width="10.63" height="1.4" fill="#bfbfbf"/>
<rect x="75.15" y="718.9" width="10.63" height="1.4" fill="#899aca"/>
<rect x="85.73" y="718.9" width="10.63" height="1.4" fill="#adb8d8"/>
<rect x="96.32" y="718.9" width="10.63" height="1.4" fill="#b4bddb"/>
<rect x="43.4" y="720.1" width="10.63" height="1.2" fill="#e83030"/>
<rect x="53.98" y="720.1" width="10.63" height="1.2" fill="#98a6d0"/>
<rect x="64.57" y="720.1" width="10.63" height="1.2" fill="#bfbfbf"/>
<rect x="75.15" y="720.1" width="10.63" height="1.2" fill="#7388c2"/>
<rect x="85.73" y="720.1" width="10.63" height="1.2" fill="#7d90c6"/>
<rect x="96.32" y="720.1" width="10.63" height="1.2" fill="#3252a8"/>
<rect x="43.4" y="721.1" width="10.63" height="2.4" fill="#ec5e5e"/>
<rect x="53.98" y="721.1" width="10.63" height="2.4" fill="#f2f1f4"/>
<rect x="64.57" y="721.1" width="10.63" height="2.4" fill="#bfbfbf"/>
<rect x="75.15" y="721.1" width="10.63" height="2.4" fill="#697fbe"/>
<rect x="85.73" y="721.1" width="10.63" height="2.4" fill="#8b9ccb"/>
<rect x="96.32" y="721.1" width="10.63" height="2.4" fill="#6f85c0"/>
<rect x="43.4" y="723.3" width="10.63" height="1.4" fill="#e83232"/>
<rect x="53.98" y="723.3" width="10.63" height="1.4" fill="#e72424"/>
<rect x="64.57" y="723.3" width="10.63" height="1.4" fill="#bfbfbf"/>
<rect x="75.15" y="723.3" width="10.63" height="1.4" fill="#b8bcc8"/>
<rect x="85.73" y="723.3" width="10.63" height="1.4" fill="#c7cde3"/>
<rect x="96.32" y="723.3" width="10.63" height="1.4" fill="#4763b0"/>
<rect x="43.4" y="724.5" width="10.63" height="1.4" fill="#ee7c7c"/>
<rect x="53.98" y="724.5" width="10.63" height="1.4" fill="#6f85c0"/>
<rect x="64.57" y="724.5" width="10.63" height="1.4" fill="#bfbfbf"/>
<rect x="75.15" y="724.5" width="10.63" height="1.4" fill="#3252a8"/>
<rect x="85.73" y="724.5" width="10.63" height="1.4" fill="#d2d7e7"/>
<rect x="96.32" y="724.5" width="10.63" height="1.4" fill="#627abb"/>
<rect x="43.4" y="725.7" width="10.63" height="1.2" fill="#ea4b4b"/>
<rect x="53.98" y="725.7" width="10.63" height="1.2" fill="#f6e3e3"/>
<rect x="64.57" y="725.7" width="10.63" height="1.2" fill="#bfbfbf"/>
<rect x="75.15" y="725.7" width="10.63" height="1.2" fill="#94a4cf"/>
<rect x="85.73" y="725.7" width="10.63" height="1.2" fill="#8e9ecc"/>
<rect x="96.32" y="725.7" width="10.63" height="1.2" fill="#c8cee3"/>
<rect x="43.4" y="726.7" width="10.63" height="1.2" fill="#e72424"/>
<rect x="53.98" y="726.7" width="10.63" height="1.2" fill="#eb5b5b"/>
<rect x="64.57" y="726.7" width="10.63" height="1.2" fill="#bfbfbf"/>
<rect x="75.15" y="726.7" width="10.63" height="1.2" fill="#3252a8"/>
<rect x="85.73" y="726.7" width="10.63" height="1.2" fill="#b7c0dc"/>
<rect x="96.32" y="726.7" width="10.63" height="1.2" fill="#3252a8"/>
<rect x="43.4" y="727.7" width="10.63" height="1.2" fill="#ed7070"/>
<rect x="53.98" y="727.7" width="10.63" height="1.2" fill="#c4cbe2"/>
<rect x="64.57" y="727.7" width="10.63" height="1.2" fill="#bfbfbf"/>
<rect x="75.15" y="727.7" width="10.63" height="1.2" fill="#3252a8"/>
<rect x="85.73" y="727.7" width="10.63" height="1.2" fill="#3656aa"/>
<rect x="96.32" y="727.7" width="10.63" height="1.2" fill="#3252a8"/>
<rect x="43.4" y="728.7" width="10.63" height="1.2" fill="#ea4b4b"/>
<rect x="53.98" y="728.7" width="10.63" height="1.2" fill="#e83434"/>
<rect x="64.57" y="728.7" width="10.63" height="1.2" fill="#bfbfbf"/>
<rect x="75.15" y="728.7" width="10.63" height="1.2" fill="#3252a8"/>
<rect x="85.73" y="728.7" width="10.63" height="1.2" fill="#6179bb"/>
<rect x="96.32" y="728.7" width="10.63" height="1.2" fill="#9aa8d1"/>
<rect x="43.4" y="729.7" width="10.63" height="2.4" fill="#ea4747"/>
<rect x="53.98" y="729.7" width="10.63" height="2.4" fill="#ef8686"/>
<rect x="64.57" y="729.7" width="10.63" height="2.4" fill="#bfbfbf"/>
<rect x="75.15" y="729.7" width="10.63" height="2.4" fill="#4360af"/>
<rect x="85.73" y="729.7" width="10.63" height="2.4" fill="#3252a8"/>
<rect x="96.32" y="729.7" width="10.63" height="2.4" fill="#3252a8"/>
<rect x="43.4" y="731.9" width="10.63" height="0.6" fill="#e93838"/>
<rect x="53.98" y="731.9" width="10.63" height="0.6" fill="#f2aeae"/>
<rect x="64.57" y="731.9" width="10.63" height="0.6" fill="#bfbfbf"/>
<rect x="75.15" y="731.9" width="10.63" height="0.6" fill="#7a8ec5"/>
<rect x="85.73" y="731.9" width="10.63" height="0.6" fill="#8597c9"/>
<rect x="96.32" y="731.9" width="10.63" height="0.6" fill="#4e69b3"/>
<text x="58.7" y="434.1" font-size="8.6" text-anchor="middle">IL-7</text>
<text x="91.1" y="424.5" font-size="8.6" text-anchor="middle">IL-7</text>
<text x="91.1" y="434.1" font-size="8.6" text-anchor="middle">+VPS34i</text>
<line x1="43.4" y1="437.5" x2="71" y2="437.5" stroke="#888" stroke-width="0.8"/>
<line x1="77" y1="437.5" x2="104.8" y2="437.5" stroke="#888" stroke-width="0.8"/>
<text transform="translate(36.5 587) rotate(-90)" x="0" y="3.35" font-size="9.3" text-anchor="middle">Mitochondrial proteins</text>
<defs><linearGradient id="cb" x1="0" x2="1" y1="0" y2="0"><stop offset="0" stop-color="#3252a8"/><stop offset="0.5" stop-color="#f8f6f6"/><stop offset="1" stop-color="#e42326"/></linearGradient></defs>
<rect x="43.2" y="737.9" width="63.5" height="4.2" fill="url(#cb)" stroke="none" stroke-width="0.8"/>
<text x="43.4" y="751.46" font-size="7.4">Row min</text>
<text x="77.1" y="751.46" font-size="7.4">Row max</text>
<line x1="127.9" y1="442.6" x2="113.8" y2="442.6" stroke="#3e4f6c" stroke-width="1.1"/>
<path d="M110.4 442.6L114.6 440.4L114.6 444.8Z" fill="#3e4f6c" stroke="none" stroke-width="0.8"/>
<line x1="127.9" y1="452.3" x2="113.38" y2="460.26" stroke="#3e4f6c" stroke-width="1.1"/>
<path d="M110.4 461.9L113.02 457.95L115.14 461.81Z" fill="#3e4f6c" stroke="none" stroke-width="0.8"/>
<line x1="127.9" y1="466.5" x2="113.8" y2="466.5" stroke="#3e4f6c" stroke-width="1.1"/>
<path d="M110.4 466.5L114.6 464.3L114.6 468.7Z" fill="#3e4f6c" stroke="none" stroke-width="0.8"/>
<line x1="126.6" y1="483.8" x2="113.3" y2="473.57" stroke="#3e4f6c" stroke-width="1.1"/>
<path d="M110.6 471.5L115.27 472.32L112.59 475.8Z" fill="#3e4f6c" stroke="none" stroke-width="0.8"/>
<line x1="126.6" y1="515" x2="112.75" y2="485.58" stroke="#3e4f6c" stroke-width="1.1"/>
<path d="M111.3 482.5L115.08 485.36L111.1 487.24Z" fill="#3e4f6c" stroke="none" stroke-width="0.8"/>
<line x1="128.4" y1="716.8" x2="114.6" y2="716.8" stroke="#3e4f6c" stroke-width="1.1"/>
<path d="M111.2 716.8L115.4 714.6L115.4 719Z" fill="#3e4f6c" stroke="none" stroke-width="0.8"/>
<text x="130.8" y="445.44" font-size="7.9">BAK1</text>
<text x="130.8" y="455.44" font-size="7.9">BAX</text>
<text x="130.8" y="470.04" font-size="7.9">FIS1</text>
<text x="130.8" y="486.64" font-size="7.9">BCL2L11</text>
<text x="130.8" y="518.54" font-size="7.9">DIABLO</text>
<text x="130.8" y="719.64" font-size="7.9">MCL1</text>
<rect x="233.9" y="415.7" width="2.3" height="2.3" rx="1" fill="#000"/><rect x="233.9" y="418.9" width="2.3" height="6.6" rx="0.4" fill="#000"/>
<path d="M237.4 527.3C237.56 527.3 238.03 527.3 238.35 527.3C238.66 527.3 238.98 527.3 239.3 527.3C239.61 527.3 239.93 527.3 240.25 527.3C240.56 527.3 240.88 527.3 241.19 527.3C241.51 527.3 241.83 527.3 242.14 527.3C242.46 527.3 242.78 527.3 243.09 527.3C243.41 527.3 243.73 527.3 244.04 527.3C244.36 527.3 244.67 527.3 244.99 527.3C245.31 527.3 245.62 527.3 245.94 527.3C246.25 527.3 246.57 527.3 246.89 527.3C247.2 527.3 247.52 527.3 247.84 527.3C248.15 527.29 248.47 527.29 248.78 527.29C249.1 527.29 249.42 527.29 249.73 527.28C250.05 527.28 250.37 527.28 250.68 527.27C251 527.27 251.31 527.26 251.63 527.25C251.95 527.24 252.26 527.23 252.58 527.21C252.9 527.2 253.21 527.18 253.53 527.15C253.84 527.13 254.16 527.1 254.48 527.05C254.79 527.01 255.11 526.96 255.43 526.89C255.74 526.82 256.06 526.75 256.38 526.64C256.69 526.54 257.01 526.42 257.32 526.26C257.64 526.1 257.96 525.92 258.27 525.69C258.59 525.46 258.9 525.2 259.22 524.87C259.54 524.54 259.85 524.16 260.17 523.7C260.49 523.24 260.8 522.72 261.12 522.09C261.44 521.46 261.75 520.75 262.07 519.92C262.38 519.09 262.7 518.16 263.02 517.09C263.33 516.02 263.65 514.84 263.97 513.5C264.28 512.17 264.6 510.7 264.91 509.09C265.23 507.48 265.55 505.72 265.86 503.85C266.18 501.97 266.5 499.94 266.81 497.83C267.13 495.73 267.44 493.33 267.76 491.22C268.08 489.1 268.39 487.53 268.71 485.13C269.03 482.73 269.34 479.23 269.66 476.8C269.97 474.37 270.29 472.38 270.61 470.56C270.92 468.73 271.24 467.04 271.56 465.85C271.87 464.65 272.19 464.32 272.5 463.39C272.82 462.45 273.14 460.5 273.45 460.22C273.77 459.94 274.08 460.74 274.4 461.73C274.72 462.72 275.03 464.63 275.35 466.15C275.67 467.68 275.98 469.01 276.3 470.89C276.62 472.77 276.93 475.22 277.25 477.46C277.56 479.7 277.88 482.32 278.2 484.35C278.51 486.38 278.83 487.67 279.14 489.62C279.46 491.57 279.78 493.99 280.09 496.06C280.41 498.14 280.73 500.18 281.04 502.08C281.36 503.98 281.68 505.79 281.99 507.46C282.31 509.13 282.62 510.68 282.94 512.09C283.26 513.5 283.57 514.78 283.89 515.94C284.21 517.1 284.52 518.11 284.84 519.03C285.15 519.94 285.47 520.73 285.79 521.43C286.1 522.13 286.42 522.72 286.74 523.24C287.05 523.76 287.37 524.18 287.68 524.56C288 524.94 288.32 525.23 288.63 525.5C288.95 525.76 289.26 525.96 289.58 526.14C289.9 526.32 290.21 526.46 290.53 526.58C290.85 526.7 291.16 526.78 291.48 526.86C291.79 526.94 292.11 526.99 292.43 527.04C292.74 527.09 293.06 527.12 293.38 527.15C293.69 527.18 294.01 527.2 294.32 527.21C294.64 527.23 294.96 527.24 295.27 527.25C295.59 527.26 295.91 527.27 296.22 527.27C296.54 527.28 296.86 527.28 297.17 527.29C297.49 527.29 297.8 527.29 298.12 527.29C298.44 527.29 298.75 527.3 299.07 527.3C299.39 527.3 299.7 527.3 300.02 527.3C300.33 527.3 300.65 527.3 300.97 527.3C301.28 527.3 301.6 527.3 301.92 527.3C302.23 527.3 302.55 527.3 302.86 527.3C303.18 527.3 303.5 527.3 303.81 527.3C304.13 527.3 304.44 527.3 304.76 527.3C305.08 527.3 305.39 527.3 305.71 527.3C306.03 527.3 306.34 527.3 306.66 527.3C306.98 527.3 307.29 527.3 307.61 527.3C307.92 527.3 308.24 527.3 308.56 527.3C308.87 527.3 309.19 527.3 309.5 527.3C309.82 527.3 310.14 527.3 310.45 527.3C310.77 527.3 311.09 527.3 311.4 527.3C311.72 527.3 312.03 527.3 312.35 527.3C312.67 527.3 313.14 527.3 313.3 527.3L313.3 527.5L237.4 527.5Z" fill="#dedede" stroke="#cfcfcf" stroke-width="0.5"/>
<path d="M237.4 527.3C237.56 527.3 238.03 527.3 238.35 527.3C238.66 527.3 238.98 527.3 239.3 527.3C239.61 527.3 239.93 527.3 240.25 527.3C240.56 527.29 240.88 527.29 241.19 527.29C241.51 527.29 241.83 527.29 242.14 527.28C242.46 527.27 242.78 527.27 243.09 527.26C243.41 527.24 243.73 527.23 244.04 527.21C244.36 527.18 244.67 527.16 244.99 527.12C245.31 527.07 245.62 527.02 245.94 526.95C246.25 526.87 246.57 526.78 246.89 526.65C247.2 526.52 247.52 526.37 247.84 526.15C248.15 525.93 248.47 525.69 248.78 525.35C249.1 525.01 249.42 524.62 249.73 524.12C250.05 523.61 250.37 523.03 250.68 522.31C251 521.58 251.31 520.76 251.63 519.76C251.95 518.77 252.26 517.65 252.58 516.35C252.9 515.05 253.21 513.59 253.53 511.96C253.84 510.34 254.16 508.54 254.48 506.6C254.79 504.67 255.11 502.55 255.43 500.35C255.74 498.16 256.06 495.73 256.38 493.43C256.69 491.14 257.01 489.05 257.32 486.58C257.64 484.12 257.96 480.7 258.27 478.64C258.59 476.57 258.9 476.44 259.22 474.2C259.54 471.97 259.85 466.96 260.17 465.21C260.49 463.46 260.8 464.41 261.12 463.71C261.44 463 261.75 461.47 262.07 461C262.38 460.54 262.7 461.75 263.02 460.91C263.33 460.06 263.65 456.25 263.97 455.96C264.28 455.68 264.6 458.3 264.91 459.2C265.23 460.11 265.55 460.19 265.86 461.38C266.18 462.57 266.5 464.38 266.81 466.34C267.13 468.3 267.44 471.49 267.76 473.16C268.08 474.82 268.39 475.1 268.71 476.3C269.03 477.5 269.34 478.66 269.66 480.35C269.97 482.04 270.29 485.07 270.61 486.43C270.92 487.8 271.24 487.18 271.56 488.52C271.87 489.85 272.19 492.73 272.5 494.43C272.82 496.13 273.14 497.35 273.45 498.74C273.77 500.12 274.08 501.46 274.4 502.74C274.72 504.01 275.03 505.23 275.35 506.39C275.67 507.54 275.98 508.64 276.3 509.67C276.62 510.7 276.93 511.67 277.25 512.58C277.56 513.49 277.88 514.34 278.2 515.13C278.51 515.92 278.83 516.65 279.14 517.33C279.46 518.01 279.78 518.63 280.09 519.2C280.41 519.78 280.73 520.3 281.04 520.79C281.36 521.27 281.68 521.71 281.99 522.11C282.31 522.51 282.62 522.87 282.94 523.2C283.26 523.53 283.57 523.82 283.89 524.09C284.21 524.35 284.52 524.59 284.84 524.8C285.15 525.02 285.47 525.21 285.79 525.38C286.1 525.55 286.42 525.7 286.74 525.83C287.05 525.97 287.37 526.08 287.68 526.19C288 526.29 288.32 526.38 288.63 526.47C288.95 526.55 289.26 526.62 289.58 526.68C289.9 526.74 290.21 526.79 290.53 526.84C290.85 526.89 291.16 526.93 291.48 526.96C291.79 527 292.11 527.03 292.43 527.06C292.74 527.08 293.06 527.1 293.38 527.12C293.69 527.14 294.01 527.16 294.32 527.17C294.64 527.19 294.96 527.2 295.27 527.21C295.59 527.22 295.91 527.23 296.22 527.24C296.54 527.24 296.86 527.25 297.17 527.26C297.49 527.26 297.8 527.27 298.12 527.27C298.44 527.27 298.75 527.28 299.07 527.28C299.39 527.28 299.7 527.28 300.02 527.29C300.33 527.29 300.65 527.29 300.97 527.29C301.28 527.29 301.6 527.29 301.92 527.29C302.23 527.29 302.55 527.29 302.86 527.3C303.18 527.3 303.5 527.3 303.81 527.3C304.13 527.3 304.44 527.3 304.76 527.3C305.08 527.3 305.39 527.3 305.71 527.3C306.03 527.3 306.34 527.3 306.66 527.3C306.98 527.3 307.29 527.3 307.61 527.3C307.92 527.3 308.24 527.3 308.56 527.3C308.87 527.3 309.19 527.3 309.5 527.3C309.82 527.3 310.14 527.3 310.45 527.3C310.77 527.3 311.09 527.3 311.4 527.3C311.72 527.3 312.03 527.3 312.35 527.3C312.67 527.3 313.14 527.3 313.3 527.3" fill="none" stroke="#222" stroke-width="0.65"/>
<rect x="237.4" y="451.5" width="75.9" height="76" fill="none" stroke="#555" stroke-width="0.8"/>
<line x1="239.3" y1="527.5" x2="239.3" y2="529.5" stroke="#555" stroke-width="0.6"/>
<line x1="251.5" y1="527.5" x2="251.5" y2="529.5" stroke="#555" stroke-width="0.6"/>
<line x1="263.7" y1="527.5" x2="263.7" y2="529.5" stroke="#555" stroke-width="0.6"/>
<line x1="276" y1="527.5" x2="276" y2="529.5" stroke="#555" stroke-width="0.6"/>
<line x1="288.2" y1="527.5" x2="288.2" y2="529.5" stroke="#555" stroke-width="0.6"/>
<line x1="300.3" y1="527.5" x2="300.3" y2="529.5" stroke="#555" stroke-width="0.6"/>
<line x1="312.4" y1="527.5" x2="312.4" y2="529.5" stroke="#555" stroke-width="0.6"/>
<text x="240.5" y="459.8" font-size="7.2">CD8<tspan font-size="4.5" dy="-2.8">+</tspan></text>
<text x="313.3" y="438.12" font-size="8.4" text-anchor="end" fill="#a8a8a8">IL-7</text>
<text x="313.3" y="449.02" font-size="8.4" text-anchor="end">+TCR</text>
<text x="239.3" y="539.74" font-size="7.6" text-anchor="middle">0</text>
<text x="263.7" y="539.74" font-size="7.6" text-anchor="middle">2.0</text>
<text x="288.2" y="539.74" font-size="7.6" text-anchor="middle">4.0</text>
<text x="312.4" y="539.74" font-size="7.6" text-anchor="middle">6.0</text>
<line x1="237.4" y1="544.8" x2="311" y2="544.8" stroke="#3e4f6c" stroke-width="1.1"/>
<path d="M315.6 544.8L310 542.4L310 547.2Z" fill="#3e4f6c" stroke="none" stroke-width="0.8"/>
<text x="275.4" y="557.58" font-size="9.1" text-anchor="middle">Mitophagy flux</text>
<text x="275.4" y="567.38" font-size="9.1" text-anchor="middle">(mCherry/GFP)</text>
<text x="383.5" y="450.04" font-size="7.6" text-anchor="middle">0.001</text>
<line x1="371.5" y1="452.4" x2="395.9" y2="452.4" stroke="#c8c8c8" stroke-width="0.9"/>
<path d="M371.2 462.8L369 463.6L366 464.6L363.8 465.6L365.5 466.6L368 468.2L370 470L371.2 470.8L371.8 470.8L373 470L375 468.2L377.5 466.6L379.2 465.6L377 464.6L374 463.6L371.8 462.8Z" fill="#fff" stroke="#222" stroke-width="0.7"/>
<path d="M395.5 484.2L393.3 485.3L390.3 486.8L388 488.2L390.8 489.6L392.8 491.5L393.3 494L395.5 496.2L396.1 496.2L398.3 494L398.8 491.5L400.8 489.6L403.6 488.2L401.3 486.8L398.3 485.3L396.1 484.2Z" fill="#fff" stroke="#222" stroke-width="0.7"/>
<circle cx="366.2" cy="465.6" r="1.6" fill="#222" stroke="none" stroke-width="0.7"/>
<circle cx="376.4" cy="465.6" r="1.6" fill="#222" stroke="none" stroke-width="0.7"/>
<circle cx="371.5" cy="464" r="1.6" fill="#222" stroke="none" stroke-width="0.7"/>
<circle cx="366.8" cy="468.3" r="1.6" fill="#222" stroke="none" stroke-width="0.7"/>
<circle cx="374.5" cy="466.8" r="1.6" fill="#222" stroke="none" stroke-width="0.7"/>
<circle cx="390.8" cy="488.2" r="1.6" fill="#222" stroke="none" stroke-width="0.7"/>
<circle cx="400.8" cy="488.2" r="1.6" fill="#222" stroke="none" stroke-width="0.7"/>
<circle cx="395.8" cy="485.8" r="1.6" fill="#222" stroke="none" stroke-width="0.7"/>
<circle cx="395.8" cy="490.3" r="1.6" fill="#222" stroke="none" stroke-width="0.7"/>
<circle cx="395.8" cy="493.5" r="1.6" fill="#222" stroke="none" stroke-width="0.7"/>
<circle cx="395.8" cy="495" r="1.6" fill="#222" stroke="none" stroke-width="0.7"/>
<line x1="355.7" y1="443.7" x2="355.7" y2="528" stroke="#6b6b6b" stroke-width="0.8"/>
<line x1="352" y1="528" x2="412.3" y2="528" stroke="#6b6b6b" stroke-width="0.8"/>
<line x1="353" y1="460" x2="355.7" y2="460" stroke="#6b6b6b" stroke-width="0.8"/>
<text x="348.4" y="462.88" font-size="8" text-anchor="end">3</text>
<line x1="353" y1="494" x2="355.7" y2="494" stroke="#6b6b6b" stroke-width="0.8"/>
<text x="348.4" y="496.88" font-size="8" text-anchor="end">2</text>
<line x1="353" y1="528" x2="355.7" y2="528" stroke="#6b6b6b" stroke-width="0.8"/>
<text x="348.4" y="530.88" font-size="8" text-anchor="end">1</text>
<line x1="371.5" y1="528" x2="371.5" y2="530.7" stroke="#6b6b6b" stroke-width="0.8"/>
<line x1="395.6" y1="528" x2="395.6" y2="530.7" stroke="#6b6b6b" stroke-width="0.8"/>
<text x="371.5" y="541.36" font-size="7.4" text-anchor="middle">IL-7</text>
<text x="395.6" y="541.36" font-size="7.4" text-anchor="middle">TCR</text>
<text transform="translate(334.1 486.4) rotate(-90)" x="0" y="3.24" font-size="9" text-anchor="middle">Mitophagy flux</text>
<rect x="471.8" y="415.7" width="2.3" height="2.3" rx="1" fill="#000"/><path d="M471.8 418.9h2.3v6.0q0 2.2-2.4 2.2h-1.1v-1.9h0.4q0.8 0 0.8-0.8Z" fill="#000"/>
<text x="577.5" y="436.08" font-size="9.1" text-anchor="middle">Transcription factors</text>
<line x1="501.5" y1="438" x2="501.5" y2="589" stroke="#6b6b6b" stroke-width="0.8"/>
<line x1="498.8" y1="438" x2="501.5" y2="438" stroke="#6b6b6b" stroke-width="0.8"/>
<line x1="498.8" y1="501.1" x2="501.5" y2="501.1" stroke="#6b6b6b" stroke-width="0.8"/>
<line x1="498.8" y1="564.2" x2="501.5" y2="564.2" stroke="#6b6b6b" stroke-width="0.8"/>
<text x="496.2" y="440.95" font-size="8.2" text-anchor="end">5</text>
<text x="496.2" y="504.05" font-size="8.2" text-anchor="end">0</text>
<text x="496.2" y="567.15" font-size="8.2" text-anchor="end">−5</text>
<line x1="501.5" y1="501.4" x2="652.2" y2="501.4" stroke="#222" stroke-width="0.9"/>
<line x1="501.5" y1="492.7" x2="652.2" y2="492.7" stroke="#f08c84" stroke-width="0.9" stroke-dasharray="3 2.2"/>
<line x1="501.5" y1="509.5" x2="652.2" y2="509.5" stroke="#333" stroke-width="0.9" stroke-dasharray="3 2.2"/>
<circle cx="541.5" cy="511.5" r="3.3" fill="#d9d9d9" stroke="#cfcfcf" stroke-width="0.4"/>
<circle cx="542.09" cy="511.33" r="3.3" fill="#d9d9d9" stroke="#cfcfcf" stroke-width="0.4"/>
<circle cx="542.68" cy="511.16" r="3.3" fill="#d9d9d9" stroke="#cfcfcf" stroke-width="0.4"/>
<circle cx="543.27" cy="510.99" r="3.3" fill="#d9d9d9" stroke="#cfcfcf" stroke-width="0.4"/>
<circle cx="543.86" cy="510.81" r="3.3" fill="#d9d9d9" stroke="#cfcfcf" stroke-width="0.4"/>
<circle cx="544.45" cy="510.64" r="3.3" fill="#d9d9d9" stroke="#cfcfcf" stroke-width="0.4"/>
<circle cx="545.03" cy="510.47" r="3.3" fill="#d9d9d9" stroke="#cfcfcf" stroke-width="0.4"/>
<circle cx="545.62" cy="510.3" r="3.3" fill="#d9d9d9" stroke="#cfcfcf" stroke-width="0.4"/>
<circle cx="546.21" cy="510.13" r="3.3" fill="#d9d9d9" stroke="#cfcfcf" stroke-width="0.4"/>
<circle cx="546.8" cy="509.96" r="3.3" fill="#d9d9d9" stroke="#cfcfcf" stroke-width="0.4"/>
<circle cx="547.39" cy="509.79" r="3.3" fill="#d9d9d9" stroke="#cfcfcf" stroke-width="0.4"/>
<circle cx="547.98" cy="509.62" r="3.3" fill="#d9d9d9" stroke="#cfcfcf" stroke-width="0.4"/>
<circle cx="548.57" cy="509.45" r="3.3" fill="#d9d9d9" stroke="#cfcfcf" stroke-width="0.4"/>
<circle cx="549.16" cy="509.28" r="3.3" fill="#d9d9d9" stroke="#cfcfcf" stroke-width="0.4"/>
<circle cx="549.75" cy="509.11" r="3.3" fill="#d9d9d9" stroke="#cfcfcf" stroke-width="0.4"/>
<circle cx="550.34" cy="508.94" r="3.3" fill="#d9d9d9" stroke="#cfcfcf" stroke-width="0.4"/>
<circle cx="550.93" cy="508.77" r="3.3" fill="#d9d9d9" stroke="#cfcfcf" stroke-width="0.4"/>
<circle cx="551.52" cy="508.6" r="3.3" fill="#d9d9d9" stroke="#cfcfcf" stroke-width="0.4"/>
<circle cx="552.1" cy="508.43" r="3.3" fill="#d9d9d9" stroke="#cfcfcf" stroke-width="0.4"/>
<circle cx="552.69" cy="508.26" r="3.3" fill="#d9d9d9" stroke="#cfcfcf" stroke-width="0.4"/>
<circle cx="553.28" cy="508.09" r="3.3" fill="#d9d9d9" stroke="#cfcfcf" stroke-width="0.4"/>
<circle cx="553.87" cy="507.92" r="3.3" fill="#d9d9d9" stroke="#cfcfcf" stroke-width="0.4"/>
<circle cx="554.46" cy="507.76" r="3.3" fill="#d9d9d9" stroke="#cfcfcf" stroke-width="0.4"/>
<circle cx="555.05" cy="507.59" r="3.3" fill="#d9d9d9" stroke="#cfcfcf" stroke-width="0.4"/>
<circle cx="555.64" cy="507.42" r="3.3" fill="#d9d9d9" stroke="#cfcfcf" stroke-width="0.4"/>
<circle cx="556.23" cy="507.26" r="3.3" fill="#d9d9d9" stroke="#cfcfcf" stroke-width="0.4"/>
<circle cx="556.82" cy="507.09" r="3.3" fill="#d9d9d9" stroke="#cfcfcf" stroke-width="0.4"/>
<circle cx="557.41" cy="506.93" r="3.3" fill="#d9d9d9" stroke="#cfcfcf" stroke-width="0.4"/>
<circle cx="558" cy="506.76" r="3.3" fill="#d9d9d9" stroke="#cfcfcf" stroke-width="0.4"/>
<circle cx="558.59" cy="506.6" r="3.3" fill="#d9d9d9" stroke="#cfcfcf" stroke-width="0.4"/>
<circle cx="559.17" cy="506.43" r="3.3" fill="#d9d9d9" stroke="#cfcfcf" stroke-width="0.4"/>
<circle cx="559.76" cy="506.27" r="3.3" fill="#d9d9d9" stroke="#cfcfcf" stroke-width="0.4"/>
<circle cx="560.35" cy="506.11" r="3.3" fill="#d9d9d9" stroke="#cfcfcf" stroke-width="0.4"/>
<circle cx="560.94" cy="505.95" r="3.3" fill="#d9d9d9" stroke="#cfcfcf" stroke-width="0.4"/>
<circle cx="561.53" cy="505.78" r="3.3" fill="#d9d9d9" stroke="#cfcfcf" stroke-width="0.4"/>
<circle cx="562.12" cy="505.62" r="3.3" fill="#d9d9d9" stroke="#cfcfcf" stroke-width="0.4"/>
<circle cx="562.71" cy="505.46" r="3.3" fill="#d9d9d9" stroke="#cfcfcf" stroke-width="0.4"/>
<circle cx="563.3" cy="505.3" r="3.3" fill="#d9d9d9" stroke="#cfcfcf" stroke-width="0.4"/>
<circle cx="563.89" cy="505.14" r="3.3" fill="#d9d9d9" stroke="#cfcfcf" stroke-width="0.4"/>
<circle cx="564.48" cy="504.98" r="3.3" fill="#d9d9d9" stroke="#cfcfcf" stroke-width="0.4"/>
<circle cx="565.07" cy="504.83" r="3.3" fill="#d9d9d9" stroke="#cfcfcf" stroke-width="0.4"/>
<circle cx="565.66" cy="504.67" r="3.3" fill="#d9d9d9" stroke="#cfcfcf" stroke-width="0.4"/>
<circle cx="566.24" cy="504.51" r="3.3" fill="#d9d9d9" stroke="#cfcfcf" stroke-width="0.4"/>
<circle cx="566.83" cy="504.36" r="3.3" fill="#d9d9d9" stroke="#cfcfcf" stroke-width="0.4"/>
<circle cx="567.42" cy="504.2" r="3.3" fill="#d9d9d9" stroke="#cfcfcf" stroke-width="0.4"/>
<circle cx="568.01" cy="504.05" r="3.3" fill="#d9d9d9" stroke="#cfcfcf" stroke-width="0.4"/>
<circle cx="568.6" cy="503.89" r="3.3" fill="#d9d9d9" stroke="#cfcfcf" stroke-width="0.4"/>
<circle cx="569.19" cy="503.74" r="3.3" fill="#d9d9d9" stroke="#cfcfcf" stroke-width="0.4"/>
<circle cx="569.78" cy="503.59" r="3.3" fill="#d9d9d9" stroke="#cfcfcf" stroke-width="0.4"/>
<circle cx="570.37" cy="503.44" r="3.3" fill="#d9d9d9" stroke="#cfcfcf" stroke-width="0.4"/>
<circle cx="570.96" cy="503.28" r="3.3" fill="#d9d9d9" stroke="#cfcfcf" stroke-width="0.4"/>
<circle cx="571.55" cy="503.13" r="3.3" fill="#d9d9d9" stroke="#cfcfcf" stroke-width="0.4"/>
<circle cx="572.14" cy="502.98" r="3.3" fill="#d9d9d9" stroke="#cfcfcf" stroke-width="0.4"/>
<circle cx="572.72" cy="502.84" r="3.3" fill="#d9d9d9" stroke="#cfcfcf" stroke-width="0.4"/>
<circle cx="573.31" cy="502.69" r="3.3" fill="#d9d9d9" stroke="#cfcfcf" stroke-width="0.4"/>
<circle cx="573.9" cy="502.54" r="3.3" fill="#d9d9d9" stroke="#cfcfcf" stroke-width="0.4"/>
<circle cx="574.49" cy="502.39" r="3.3" fill="#d9d9d9" stroke="#cfcfcf" stroke-width="0.4"/>
<circle cx="575.08" cy="502.25" r="3.3" fill="#d9d9d9" stroke="#cfcfcf" stroke-width="0.4"/>
<circle cx="575.67" cy="502.1" r="3.3" fill="#d9d9d9" stroke="#cfcfcf" stroke-width="0.4"/>
<circle cx="576.26" cy="501.96" r="3.3" fill="#d9d9d9" stroke="#cfcfcf" stroke-width="0.4"/>
<circle cx="576.85" cy="501.82" r="3.3" fill="#d9d9d9" stroke="#cfcfcf" stroke-width="0.4"/>
<circle cx="577.44" cy="501.67" r="3.3" fill="#d9d9d9" stroke="#cfcfcf" stroke-width="0.4"/>
<circle cx="578.03" cy="501.53" r="3.3" fill="#d9d9d9" stroke="#cfcfcf" stroke-width="0.4"/>
<circle cx="578.62" cy="501.39" r="3.3" fill="#d9d9d9" stroke="#cfcfcf" stroke-width="0.4"/>
<circle cx="579.21" cy="501.25" r="3.3" fill="#d9d9d9" stroke="#cfcfcf" stroke-width="0.4"/>
<circle cx="579.79" cy="501.11" r="3.3" fill="#d9d9d9" stroke="#cfcfcf" stroke-width="0.4"/>
<circle cx="580.38" cy="500.97" r="3.3" fill="#d9d9d9" stroke="#cfcfcf" stroke-width="0.4"/>
<circle cx="580.97" cy="500.83" r="3.3" fill="#d9d9d9" stroke="#cfcfcf" stroke-width="0.4"/>
<circle cx="581.56" cy="500.7" r="3.3" fill="#d9d9d9" stroke="#cfcfcf" stroke-width="0.4"/>
<circle cx="582.15" cy="500.56" r="3.3" fill="#d9d9d9" stroke="#cfcfcf" stroke-width="0.4"/>
<circle cx="582.74" cy="500.42" r="3.3" fill="#d9d9d9" stroke="#cfcfcf" stroke-width="0.4"/>
<circle cx="583.33" cy="500.29" r="3.3" fill="#d9d9d9" stroke="#cfcfcf" stroke-width="0.4"/>
<circle cx="583.92" cy="500.16" r="3.3" fill="#d9d9d9" stroke="#cfcfcf" stroke-width="0.4"/>
<circle cx="584.51" cy="500.02" r="3.3" fill="#d9d9d9" stroke="#cfcfcf" stroke-width="0.4"/>
<circle cx="585.1" cy="499.89" r="3.3" fill="#d9d9d9" stroke="#cfcfcf" stroke-width="0.4"/>
<circle cx="585.69" cy="499.76" r="3.3" fill="#d9d9d9" stroke="#cfcfcf" stroke-width="0.4"/>
<circle cx="586.28" cy="499.63" r="3.3" fill="#d9d9d9" stroke="#cfcfcf" stroke-width="0.4"/>
<circle cx="586.86" cy="499.5" r="3.3" fill="#d9d9d9" stroke="#cfcfcf" stroke-width="0.4"/>
<circle cx="587.45" cy="499.37" r="3.3" fill="#d9d9d9" stroke="#cfcfcf" stroke-width="0.4"/>
<circle cx="588.04" cy="499.24" r="3.3" fill="#d9d9d9" stroke="#cfcfcf" stroke-width="0.4"/>
<circle cx="588.63" cy="499.11" r="3.3" fill="#d9d9d9" stroke="#cfcfcf" stroke-width="0.4"/>
<circle cx="589.22" cy="498.98" r="3.3" fill="#d9d9d9" stroke="#cfcfcf" stroke-width="0.4"/>
<circle cx="589.81" cy="498.86" r="3.3" fill="#d9d9d9" stroke="#cfcfcf" stroke-width="0.4"/>
<circle cx="590.4" cy="498.73" r="3.3" fill="#d9d9d9" stroke="#cfcfcf" stroke-width="0.4"/>
<circle cx="590.99" cy="498.61" r="3.3" fill="#d9d9d9" stroke="#cfcfcf" stroke-width="0.4"/>
<circle cx="591.58" cy="498.48" r="3.3" fill="#d9d9d9" stroke="#cfcfcf" stroke-width="0.4"/>
<circle cx="592.17" cy="498.36" r="3.3" fill="#d9d9d9" stroke="#cfcfcf" stroke-width="0.4"/>
<circle cx="592.76" cy="498.23" r="3.3" fill="#d9d9d9" stroke="#cfcfcf" stroke-width="0.4"/>
<circle cx="593.34" cy="498.11" r="3.3" fill="#d9d9d9" stroke="#cfcfcf" stroke-width="0.4"/>
<circle cx="593.93" cy="497.99" r="3.3" fill="#d9d9d9" stroke="#cfcfcf" stroke-width="0.4"/>
<circle cx="594.52" cy="497.87" r="3.3" fill="#d9d9d9" stroke="#cfcfcf" stroke-width="0.4"/>
<circle cx="595.11" cy="497.75" r="3.3" fill="#d9d9d9" stroke="#cfcfcf" stroke-width="0.4"/>
<circle cx="595.7" cy="497.63" r="3.3" fill="#d9d9d9" stroke="#cfcfcf" stroke-width="0.4"/>
<circle cx="596.29" cy="497.51" r="3.3" fill="#d9d9d9" stroke="#cfcfcf" stroke-width="0.4"/>
<circle cx="596.88" cy="497.39" r="3.3" fill="#d9d9d9" stroke="#cfcfcf" stroke-width="0.4"/>
<circle cx="597.47" cy="497.27" r="3.3" fill="#d9d9d9" stroke="#cfcfcf" stroke-width="0.4"/>
<circle cx="598.06" cy="497.15" r="3.3" fill="#d9d9d9" stroke="#cfcfcf" stroke-width="0.4"/>
<circle cx="598.65" cy="497.04" r="3.3" fill="#d9d9d9" stroke="#cfcfcf" stroke-width="0.4"/>
<circle cx="599.24" cy="496.92" r="3.3" fill="#d9d9d9" stroke="#cfcfcf" stroke-width="0.4"/>
<circle cx="599.83" cy="496.81" r="3.3" fill="#d9d9d9" stroke="#cfcfcf" stroke-width="0.4"/>
<circle cx="600.41" cy="496.69" r="3.3" fill="#d9d9d9" stroke="#cfcfcf" stroke-width="0.4"/>
<circle cx="601" cy="496.58" r="3.3" fill="#d9d9d9" stroke="#cfcfcf" stroke-width="0.4"/>
<circle cx="601.59" cy="496.46" r="3.3" fill="#d9d9d9" stroke="#cfcfcf" stroke-width="0.4"/>
<circle cx="602.18" cy="496.35" r="3.3" fill="#d9d9d9" stroke="#cfcfcf" stroke-width="0.4"/>
<circle cx="602.77" cy="496.23" r="3.3" fill="#d9d9d9" stroke="#cfcfcf" stroke-width="0.4"/>
<circle cx="603.36" cy="496.12" r="3.3" fill="#d9d9d9" stroke="#cfcfcf" stroke-width="0.4"/>
<circle cx="603.95" cy="496.01" r="3.3" fill="#d9d9d9" stroke="#cfcfcf" stroke-width="0.4"/>
<circle cx="604.54" cy="495.9" r="3.3" fill="#d9d9d9" stroke="#cfcfcf" stroke-width="0.4"/>
<circle cx="605.13" cy="495.78" r="3.3" fill="#d9d9d9" stroke="#cfcfcf" stroke-width="0.4"/>
<circle cx="605.72" cy="495.67" r="3.3" fill="#d9d9d9" stroke="#cfcfcf" stroke-width="0.4"/>
<circle cx="606.31" cy="495.56" r="3.3" fill="#d9d9d9" stroke="#cfcfcf" stroke-width="0.4"/>
<circle cx="606.9" cy="495.45" r="3.3" fill="#d9d9d9" stroke="#cfcfcf" stroke-width="0.4"/>
<circle cx="607.48" cy="495.34" r="3.3" fill="#d9d9d9" stroke="#cfcfcf" stroke-width="0.4"/>
<circle cx="608.07" cy="495.23" r="3.3" fill="#d9d9d9" stroke="#cfcfcf" stroke-width="0.4"/>
<circle cx="608.66" cy="495.12" r="3.3" fill="#d9d9d9" stroke="#cfcfcf" stroke-width="0.4"/>
<circle cx="609.25" cy="495.01" r="3.3" fill="#d9d9d9" stroke="#cfcfcf" stroke-width="0.4"/>
<circle cx="609.84" cy="494.9" r="3.3" fill="#d9d9d9" stroke="#cfcfcf" stroke-width="0.4"/>
<circle cx="610.43" cy="494.79" r="3.3" fill="#d9d9d9" stroke="#cfcfcf" stroke-width="0.4"/>
<circle cx="611.02" cy="494.69" r="3.3" fill="#d9d9d9" stroke="#cfcfcf" stroke-width="0.4"/>
<circle cx="611.61" cy="494.58" r="3.3" fill="#d9d9d9" stroke="#cfcfcf" stroke-width="0.4"/>
<circle cx="612.2" cy="494.47" r="3.3" fill="#d9d9d9" stroke="#cfcfcf" stroke-width="0.4"/>
<circle cx="612.79" cy="494.36" r="3.3" fill="#d9d9d9" stroke="#cfcfcf" stroke-width="0.4"/>
<circle cx="613.38" cy="494.25" r="3.3" fill="#d9d9d9" stroke="#cfcfcf" stroke-width="0.4"/>
<circle cx="613.97" cy="494.15" r="3.3" fill="#d9d9d9" stroke="#cfcfcf" stroke-width="0.4"/>
<circle cx="614.55" cy="494.04" r="3.3" fill="#d9d9d9" stroke="#cfcfcf" stroke-width="0.4"/>
<circle cx="615.14" cy="493.93" r="3.3" fill="#d9d9d9" stroke="#cfcfcf" stroke-width="0.4"/>
<circle cx="615.73" cy="493.82" r="3.3" fill="#d9d9d9" stroke="#cfcfcf" stroke-width="0.4"/>
<circle cx="616.32" cy="493.71" r="3.3" fill="#d9d9d9" stroke="#cfcfcf" stroke-width="0.4"/>
<circle cx="616.91" cy="493.61" r="3.3" fill="#d9d9d9" stroke="#cfcfcf" stroke-width="0.4"/>
<circle cx="617.5" cy="493.5" r="3.3" fill="#d9d9d9" stroke="#cfcfcf" stroke-width="0.4"/>
<circle cx="617.5" cy="493.6" r="3.1" fill="#ef9a92" stroke="#e77b72" stroke-width="0.5"/>
<circle cx="618.26" cy="493.53" r="3.1" fill="#ef9a92" stroke="#e77b72" stroke-width="0.5"/>
<circle cx="619.03" cy="493.45" r="3.1" fill="#ef9a92" stroke="#e77b72" stroke-width="0.5"/>
<circle cx="619.79" cy="493.38" r="3.1" fill="#ef9a92" stroke="#e77b72" stroke-width="0.5"/>
<circle cx="620.55" cy="493.3" r="3.1" fill="#ef9a92" stroke="#e77b72" stroke-width="0.5"/>
<circle cx="621.31" cy="493.23" r="3.1" fill="#ef9a92" stroke="#e77b72" stroke-width="0.5"/>
<circle cx="622.08" cy="493.15" r="3.1" fill="#ef9a92" stroke="#e77b72" stroke-width="0.5"/>
<circle cx="622.84" cy="493.08" r="3.1" fill="#ef9a92" stroke="#e77b72" stroke-width="0.5"/>
<circle cx="623.6" cy="493" r="3.1" fill="#ef9a92" stroke="#e77b72" stroke-width="0.5"/>
<circle cx="624.37" cy="492.93" r="3.1" fill="#ef9a92" stroke="#e77b72" stroke-width="0.5"/>
<circle cx="625.13" cy="492.86" r="3.1" fill="#ef9a92" stroke="#e77b72" stroke-width="0.5"/>
<circle cx="625.89" cy="492.78" r="3.1" fill="#ef9a92" stroke="#e77b72" stroke-width="0.5"/>
<circle cx="626.65" cy="492.71" r="3.1" fill="#ef9a92" stroke="#e77b72" stroke-width="0.5"/>
<circle cx="627.42" cy="492.63" r="3.1" fill="#ef9a92" stroke="#e77b72" stroke-width="0.5"/>
<circle cx="628.18" cy="492.56" r="3.1" fill="#ef9a92" stroke="#e77b72" stroke-width="0.5"/>
<circle cx="628.94" cy="492.48" r="3.1" fill="#ef9a92" stroke="#e77b72" stroke-width="0.5"/>
<circle cx="629.7" cy="492.41" r="3.1" fill="#ef9a92" stroke="#e77b72" stroke-width="0.5"/>
<circle cx="630.47" cy="492.33" r="3.1" fill="#ef9a92" stroke="#e77b72" stroke-width="0.5"/>
<circle cx="631.23" cy="492.26" r="3.1" fill="#ef9a92" stroke="#e77b72" stroke-width="0.5"/>
<circle cx="631.99" cy="492.19" r="3.1" fill="#ef9a92" stroke="#e77b72" stroke-width="0.5"/>
<circle cx="632.76" cy="492.11" r="3.1" fill="#ef9a92" stroke="#e77b72" stroke-width="0.5"/>
<circle cx="633.52" cy="492.04" r="3.1" fill="#ef9a92" stroke="#e77b72" stroke-width="0.5"/>
<circle cx="634.28" cy="491.96" r="3.1" fill="#ef9a92" stroke="#e77b72" stroke-width="0.5"/>
<circle cx="635.04" cy="491.89" r="3.1" fill="#ef9a92" stroke="#e77b72" stroke-width="0.5"/>
<circle cx="635.81" cy="491.81" r="3.1" fill="#ef9a92" stroke="#e77b72" stroke-width="0.5"/>
<circle cx="636.57" cy="491.74" r="3.1" fill="#ef9a92" stroke="#e77b72" stroke-width="0.5"/>
<circle cx="637.33" cy="491.65" r="3.1" fill="#ef9a92" stroke="#e77b72" stroke-width="0.5"/>
<circle cx="638.1" cy="491.38" r="3.1" fill="#e7453b" stroke="#e7453b" stroke-width="0.5"/>
<circle cx="638.86" cy="491.03" r="3.1" fill="#e74339" stroke="#e74339" stroke-width="0.5"/>
<circle cx="639.62" cy="490.63" r="3.1" fill="#e64137" stroke="#e64137" stroke-width="0.5"/>
<circle cx="640.38" cy="490.17" r="3.1" fill="#e53f35" stroke="#e53f35" stroke-width="0.5"/>
<circle cx="641.15" cy="489.68" r="3.1" fill="#e53e34" stroke="#e53e34" stroke-width="0.5"/>
<circle cx="641.91" cy="489.16" r="3.1" fill="#e43c32" stroke="#e43c32" stroke-width="0.5"/>
<circle cx="642.67" cy="488.6" r="3.1" fill="#e43a30" stroke="#e43a30" stroke-width="0.5"/>
<circle cx="643.43" cy="488.02" r="3.1" fill="#e3382e" stroke="#e3382e" stroke-width="0.5"/>
<circle cx="644.2" cy="487.41" r="3.1" fill="#e2362c" stroke="#e2362c" stroke-width="0.5"/>
<circle cx="644.96" cy="486.78" r="3.1" fill="#e2342a" stroke="#e2342a" stroke-width="0.5"/>
<circle cx="645.72" cy="486.13" r="3.1" fill="#e13329" stroke="#e13329" stroke-width="0.5"/>
<circle cx="646.49" cy="485.46" r="3.1" fill="#e13127" stroke="#e13127" stroke-width="0.5"/>
<circle cx="647.25" cy="484.76" r="3.1" fill="#e02f25" stroke="#e02f25" stroke-width="0.5"/>
<circle cx="648.01" cy="484.05" r="3.1" fill="#df2d23" stroke="#df2d23" stroke-width="0.5"/>
<circle cx="648.77" cy="483.32" r="3.1" fill="#df2b21" stroke="#df2b21" stroke-width="0.5"/>
<circle cx="649.54" cy="482.57" r="3.1" fill="#de291f" stroke="#de291f" stroke-width="0.5"/>
<circle cx="650.3" cy="481.8" r="3.1" fill="#de281e" stroke="#de281e" stroke-width="0.5"/>
<circle cx="548" cy="510.8" r="2.6" fill="#c8c8c8" stroke="#8c8c8c" stroke-width="0.45"/>
<circle cx="547.07" cy="510.97" r="2.6" fill="#b8b8b8" stroke="#7c7c7c" stroke-width="0.45"/>
<circle cx="546.14" cy="511.14" r="2.6" fill="#a8a8a8" stroke="#6c6c6c" stroke-width="0.45"/>
<circle cx="545.21" cy="511.31" r="2.6" fill="#989898" stroke="#5c5c5c" stroke-width="0.45"/>
<circle cx="544.29" cy="511.49" r="2.6" fill="#898989" stroke="#4d4d4d" stroke-width="0.45"/>
<circle cx="543.36" cy="511.66" r="2.6" fill="#797979" stroke="#3d3d3d" stroke-width="0.45"/>
<circle cx="542.43" cy="511.83" r="2.6" fill="#696969" stroke="#2d2d2d" stroke-width="0.45"/>
<circle cx="541.5" cy="512" r="2.6" fill="#5f5f5f" stroke="#3a3a3a" stroke-width="0.45"/>
<circle cx="540.58" cy="512.22" r="2.6" fill="#5f5f5f" stroke="#3a3a3a" stroke-width="0.45"/>
<circle cx="539.67" cy="512.43" r="2.6" fill="#5f5f5f" stroke="#3a3a3a" stroke-width="0.45"/>
<circle cx="538.75" cy="512.65" r="2.6" fill="#5f5f5f" stroke="#3a3a3a" stroke-width="0.45"/>
<circle cx="537.83" cy="512.87" r="2.6" fill="#5f5f5f" stroke="#3a3a3a" stroke-width="0.45"/>
<circle cx="536.92" cy="513.08" r="2.6" fill="#5f5f5f" stroke="#3a3a3a" stroke-width="0.45"/>
<circle cx="536" cy="513.3" r="2.6" fill="#5f5f5f" stroke="#3a3a3a" stroke-width="0.45"/>
<circle cx="535.14" cy="513.61" r="2.6" fill="#5f5f5f" stroke="#3a3a3a" stroke-width="0.45"/>
<circle cx="534.29" cy="513.93" r="2.6" fill="#5f5f5f" stroke="#3a3a3a" stroke-width="0.45"/>
<circle cx="533.43" cy="514.24" r="2.6" fill="#5f5f5f" stroke="#3a3a3a" stroke-width="0.45"/>
<circle cx="532.57" cy="514.56" r="2.6" fill="#5f5f5f" stroke="#3a3a3a" stroke-width="0.45"/>
<circle cx="531.71" cy="514.87" r="2.6" fill="#5f5f5f" stroke="#3a3a3a" stroke-width="0.45"/>
<circle cx="530.86" cy="515.19" r="2.6" fill="#5f5f5f" stroke="#3a3a3a" stroke-width="0.45"/>
<circle cx="530" cy="515.5" r="2.6" fill="#5f5f5f" stroke="#3a3a3a" stroke-width="0.45"/>
<circle cx="529.2" cy="516.1" r="2.6" fill="#5f5f5f" stroke="#3a3a3a" stroke-width="0.45"/>
<circle cx="528.4" cy="516.7" r="2.6" fill="#5f5f5f" stroke="#3a3a3a" stroke-width="0.45"/>
<circle cx="527.6" cy="517.3" r="2.6" fill="#5f5f5f" stroke="#3a3a3a" stroke-width="0.45"/>
<circle cx="526.8" cy="517.9" r="2.6" fill="#5f5f5f" stroke="#3a3a3a" stroke-width="0.45"/>
<circle cx="526" cy="518.5" r="2.6" fill="#5f5f5f" stroke="#3a3a3a" stroke-width="0.45"/>
<circle cx="525.38" cy="519.38" r="2.6" fill="#5f5f5f" stroke="#3a3a3a" stroke-width="0.45"/>
<circle cx="524.75" cy="520.25" r="2.6" fill="#5f5f5f" stroke="#777" stroke-width="0.45"/>
<circle cx="524.12" cy="521.12" r="2.6" fill="#737373" stroke="#777" stroke-width="0.45"/>
<circle cx="523.5" cy="522" r="2.6" fill="#888888" stroke="#777" stroke-width="0.45"/>
<circle cx="523.12" cy="522.88" r="2.6" fill="#9d9d9d" stroke="#777" stroke-width="0.45"/>
<circle cx="522.75" cy="523.75" r="2.6" fill="#b2b2b2" stroke="#777" stroke-width="0.45"/>
<circle cx="522.38" cy="524.62" r="2.6" fill="#c7c7c7" stroke="#777" stroke-width="0.45"/>
<circle cx="522" cy="525.5" r="2.6" fill="#d7d7d7" stroke="#999" stroke-width="0.45"/>
<circle cx="521.67" cy="526.6" r="2.6" fill="#d7d7d7" stroke="#999" stroke-width="0.45"/>
<circle cx="521.33" cy="527.7" r="2.6" fill="#d7d7d7" stroke="#999" stroke-width="0.45"/>
<circle cx="521" cy="528.8" r="2.6" fill="#d7d7d7" stroke="#999" stroke-width="0.45"/>
<circle cx="520.5" cy="529.72" r="2.6" fill="#d7d7d7" stroke="#999" stroke-width="0.45"/>
<circle cx="520" cy="530.65" r="2.6" fill="#d7d7d7" stroke="#999" stroke-width="0.45"/>
<circle cx="519.5" cy="531.58" r="2.6" fill="#d7d7d7" stroke="#999" stroke-width="0.45"/>
<circle cx="519" cy="532.5" r="2.6" fill="#d7d7d7" stroke="#999" stroke-width="0.45"/>
<circle cx="518.55" cy="533.35" r="2.6" fill="#d7d7d7" stroke="#999" stroke-width="0.45"/>
<circle cx="518.1" cy="534.2" r="2.6" fill="#d7d7d7" stroke="#999" stroke-width="0.45"/>
<circle cx="517.65" cy="535.05" r="2.6" fill="#d7d7d7" stroke="#999" stroke-width="0.45"/>
<circle cx="517.2" cy="535.9" r="2.6" fill="#d7d7d7" stroke="#999" stroke-width="0.45"/>
<circle cx="516.75" cy="536.75" r="2.6" fill="#d7d7d7" stroke="#999" stroke-width="0.45"/>
<circle cx="515.7" cy="576.7" r="2.9" fill="#c8c8c8" stroke="none" stroke-width="0.7"/>
<circle cx="514.62" cy="576.7" r="2.9" fill="#b9b9b9" stroke="none" stroke-width="0.7"/>
<circle cx="513.55" cy="576.7" r="2.9" fill="#aaaaaa" stroke="none" stroke-width="0.7"/>
<circle cx="512.47" cy="576.7" r="2.9" fill="#9c9c9c" stroke="none" stroke-width="0.7"/>
<circle cx="511.39" cy="576.7" r="2.9" fill="#8d8d8d" stroke="none" stroke-width="0.7"/>
<circle cx="510.32" cy="576.7" r="2.9" fill="#7e7e7e" stroke="none" stroke-width="0.7"/>
<circle cx="509.24" cy="576.7" r="2.9" fill="#707070" stroke="none" stroke-width="0.7"/>
<circle cx="508.16" cy="576.7" r="2.9" fill="#616161" stroke="none" stroke-width="0.7"/>
<circle cx="507.08" cy="576.7" r="2.9" fill="#535353" stroke="none" stroke-width="0.7"/>
<circle cx="506.01" cy="576.7" r="2.9" fill="#444444" stroke="none" stroke-width="0.7"/>
<circle cx="504.93" cy="576.7" r="2.9" fill="#353535" stroke="none" stroke-width="0.7"/>
<circle cx="503.85" cy="576.7" r="2.9" fill="#272727" stroke="none" stroke-width="0.7"/>
<circle cx="502.78" cy="576.7" r="2.9" fill="#181818" stroke="none" stroke-width="0.7"/>
<circle cx="501.7" cy="576.7" r="2.9" fill="#0a0a0a" stroke="none" stroke-width="0.7"/>
<circle cx="514" cy="568" r="2.9" fill="#fff" stroke="#999" stroke-width="0.6"/>
<circle cx="514.3" cy="553.3" r="2.9" fill="#bbb" stroke="none" stroke-width="0.7"/>
<circle cx="541.5" cy="511.9" r="3.05" fill="#111" stroke="none" stroke-width="0.7"/>
<circle cx="521" cy="528.9" r="3.05" fill="#111" stroke="none" stroke-width="0.7"/>
<circle cx="516.4" cy="537.7" r="3.05" fill="#111" stroke="none" stroke-width="0.7"/>
<circle cx="515.5" cy="553.9" r="3.05" fill="#111" stroke="none" stroke-width="0.7"/>
<circle cx="501.7" cy="576.7" r="3.05" fill="#111" stroke="none" stroke-width="0.7"/>
<circle cx="650.3" cy="476.6" r="3.1" fill="#fff" stroke="#ec6e66" stroke-width="0.7"/>
<circle cx="652.2" cy="470.2" r="3.1" fill="#fff" stroke="#ec6e66" stroke-width="0.7"/>
<circle cx="652.2" cy="452" r="3.1" fill="#fff" stroke="#ec6e66" stroke-width="0.7"/>
<text x="545.8" y="521.35" font-size="8.2">Ets1</text>
<text x="528.3" y="533.25" font-size="8.2">Klf2</text>
<text x="524.8" y="542.55" font-size="8.2">Nrf1</text>
<text x="521.7" y="557.75" font-size="8.2">Notch1</text>
<text x="513.4" y="589.35" font-size="8.2" text-anchor="middle">Elk4</text>
<text x="635.7" y="478.95" font-size="8.2" text-anchor="middle">Rela</text>
<text x="625.7" y="486.85" font-size="8.2" text-anchor="middle">Rel</text>
<text x="654.9" y="490.85" font-size="8.2">Taf5</text>
<text transform="translate(479.5 515) rotate(-90)" x="0" y="0" font-size="8.8" text-anchor="middle">log<tspan font-size="6" dy="2">2</tspan><tspan dy="-2">(IL-7 + VPS34i/IL-7)</tspan></text>
<text x="201" y="619" font-size="13" font-weight="bold" stroke="#000" stroke-width="0.55">k</text>
<line x1="232.4" y1="630.1" x2="232.4" y2="718.6" stroke="#6b6b6b" stroke-width="0.8"/>
<line x1="229.7" y1="718.6" x2="232.4" y2="718.6" stroke="#6b6b6b" stroke-width="0.8"/>
<text x="227.5" y="721.44" font-size="7.9" text-anchor="end">0</text>
<line x1="229.7" y1="696.5" x2="232.4" y2="696.5" stroke="#6b6b6b" stroke-width="0.8"/>
<text x="227.5" y="699.34" font-size="7.9" text-anchor="end">25</text>
<line x1="229.7" y1="674.4" x2="232.4" y2="674.4" stroke="#6b6b6b" stroke-width="0.8"/>
<text x="227.5" y="677.24" font-size="7.9" text-anchor="end">50</text>
<line x1="229.7" y1="652.3" x2="232.4" y2="652.3" stroke="#6b6b6b" stroke-width="0.8"/>
<text x="227.5" y="655.14" font-size="7.9" text-anchor="end">75</text>
<line x1="229.7" y1="630.2" x2="232.4" y2="630.2" stroke="#6b6b6b" stroke-width="0.8"/>
<text x="227.5" y="633.04" font-size="7.9" text-anchor="end">100</text>
<line x1="232.4" y1="718.6" x2="320.1" y2="718.6" stroke="#6b6b6b" stroke-width="0.8"/>
<line x1="252.6" y1="718.6" x2="252.6" y2="721.3" stroke="#6b6b6b" stroke-width="0.8"/>
<text x="252.6" y="731.34" font-size="7.6" text-anchor="middle">4</text>
<line x1="298.2" y1="718.6" x2="298.2" y2="721.3" stroke="#6b6b6b" stroke-width="0.8"/>
<text x="298.2" y="731.34" font-size="7.6" text-anchor="middle">24</text>
<text x="276.7" y="742.74" font-size="7.9" text-anchor="middle">Hours</text>
<text x="299.6" y="633.75" font-size="8.2" text-anchor="middle">&lt;0.0001</text>
<line x1="291" y1="635.7" x2="308.4" y2="635.7" stroke="#e2e2e2" stroke-width="0.9"/>
<text transform="translate(206.2 674.5) rotate(-90)" x="0" y="3.06" font-size="8.5" text-anchor="middle">% live CD8</text>
<path d="M243 642.2C242.83 642.5 242.5 643.2 242 644C241.5 644.8 240.68 645.93 240 647C239.32 648.07 238.07 649.32 237.9 650.4C237.73 651.48 238.73 652.48 239 653.5C239.27 654.52 239.17 655.45 239.5 656.5C239.83 657.55 240.75 659.25 241 659.8L247 659.8C247.25 659.25 248.17 657.55 248.5 656.5C248.83 655.45 248.73 654.52 249 653.5C249.27 652.48 250.27 651.48 250.1 650.4C249.93 649.32 248.68 648.07 248 647C247.32 645.93 246.5 644.8 246 644C245.5 643.2 245.17 642.5 245 642.2Z" fill="none" stroke="#222" stroke-width="0.65"/>
<circle cx="244" cy="642.6" r="1.5" fill="#fff" stroke="#222" stroke-width="0.6"/>
<circle cx="244" cy="645.5" r="1.5" fill="#fff" stroke="#222" stroke-width="0.6"/>
<circle cx="240.2" cy="650.2" r="1.5" fill="#fff" stroke="#222" stroke-width="0.6"/>
<circle cx="244.5" cy="651" r="1.5" fill="#fff" stroke="#222" stroke-width="0.6"/>
<circle cx="248" cy="650" r="1.5" fill="#fff" stroke="#222" stroke-width="0.6"/>
<circle cx="246.5" cy="653.5" r="1.5" fill="#fff" stroke="#222" stroke-width="0.6"/>
<circle cx="241.2" cy="654.2" r="1.5" fill="#fff" stroke="#222" stroke-width="0.6"/>
<circle cx="241" cy="658.8" r="1.5" fill="#fff" stroke="#222" stroke-width="0.6"/>
<circle cx="247" cy="658.3" r="1.5" fill="#fff" stroke="#222" stroke-width="0.6"/>
<path d="M260.4 642.2C260.1 642.42 259.32 642.7 258.6 643.5C257.88 644.3 256.47 646 256.1 647C255.73 648 255.98 648.5 256.4 649.5C256.82 650.5 258.18 651.92 258.6 653C259.02 654.08 258.8 654.53 258.9 656C259 657.47 259.15 660.83 259.2 661.8L263.6 661.8C263.65 660.83 263.8 657.47 263.9 656C264 654.53 263.78 654.08 264.2 653C264.62 651.92 265.98 650.5 266.4 649.5C266.82 648.5 267.07 648 266.7 647C266.33 646 264.92 644.3 264.2 643.5C263.48 642.7 262.7 642.42 262.4 642.2Z" fill="none" stroke="#e4342d" stroke-width="0.65"/>
<circle cx="261.4" cy="642.4" r="1.8" fill="#e4342d" stroke="none" stroke-width="0.7"/>
<circle cx="256.9" cy="647.9" r="1.8" fill="#e4342d" stroke="none" stroke-width="0.7"/>
<circle cx="261.4" cy="648.3" r="1.8" fill="#e4342d" stroke="none" stroke-width="0.7"/>
<circle cx="266.1" cy="647.9" r="1.8" fill="#e4342d" stroke="none" stroke-width="0.7"/>
<circle cx="261.4" cy="658.5" r="1.8" fill="#e4342d" stroke="none" stroke-width="0.7"/>
<circle cx="261.4" cy="661.8" r="1.8" fill="#e4342d" stroke="none" stroke-width="0.7"/>
<path d="M290 649C289.83 649.25 289.37 649.67 289 650.5C288.63 651.33 288.43 652.75 287.8 654C287.17 655.25 285.68 656.83 285.2 658C284.72 659.17 284.52 659.92 284.9 661C285.28 662.08 286.72 663.33 287.5 664.5C288.28 665.67 289.25 666.4 289.6 668C289.95 669.6 289.6 673.08 289.6 674.1L292.4 674.1C292.4 673.08 292.05 669.6 292.4 668C292.75 666.4 293.72 665.67 294.5 664.5C295.28 663.33 296.72 662.08 297.1 661C297.48 659.92 297.28 659.17 296.8 658C296.32 656.83 294.83 655.25 294.2 654C293.57 652.75 293.37 651.33 293 650.5C292.63 649.67 292.17 649.25 292 649Z" fill="none" stroke="#222" stroke-width="0.65"/>
<circle cx="291" cy="650" r="1.5" fill="#fff" stroke="#222" stroke-width="0.6"/>
<circle cx="291" cy="653" r="1.5" fill="#fff" stroke="#222" stroke-width="0.6"/>
<circle cx="287.2" cy="659" r="1.5" fill="#fff" stroke="#222" stroke-width="0.6"/>
<circle cx="291" cy="660.5" r="1.5" fill="#fff" stroke="#222" stroke-width="0.6"/>
<circle cx="295" cy="659.5" r="1.5" fill="#fff" stroke="#222" stroke-width="0.6"/>
<circle cx="289" cy="663.2" r="1.5" fill="#fff" stroke="#222" stroke-width="0.6"/>
<circle cx="293.4" cy="663.2" r="1.5" fill="#fff" stroke="#222" stroke-width="0.6"/>
<circle cx="291" cy="666.5" r="1.5" fill="#fff" stroke="#222" stroke-width="0.6"/>
<circle cx="291" cy="673.8" r="1.5" fill="#fff" stroke="#222" stroke-width="0.6"/>
<path d="M308.5 669.4C308.25 669.58 307.5 669.57 307 670.5C306.5 671.43 305.93 673.25 305.5 675C305.07 676.75 304.48 679 304.4 681C304.32 683 304.65 684.83 305 687C305.35 689.17 306.33 691.83 306.5 694C306.67 696.17 306.3 698.17 306 700C305.7 701.83 304.87 703.8 304.7 705C304.53 706.2 304.95 706.83 305 707.2L314 707.2C314.05 706.83 314.47 706.2 314.3 705C314.13 703.8 313.3 701.83 313 700C312.7 698.17 312.33 696.17 312.5 694C312.67 691.83 313.65 689.17 314 687C314.35 684.83 314.68 683 314.6 681C314.52 679 313.93 676.75 313.5 675C313.07 673.25 312.5 671.43 312 670.5C311.5 669.57 310.75 669.58 310.5 669.4Z" fill="none" stroke="#e4342d" stroke-width="0.65"/>
<line x1="304" y1="688.8" x2="315" y2="688.8" stroke="#e4342d" stroke-width="0.5" stroke-dasharray="1.2 1"/>
<circle cx="309.5" cy="670" r="1.8" fill="#e4342d" stroke="none" stroke-width="0.7"/>
<circle cx="305" cy="678.6" r="1.8" fill="#e4342d" stroke="none" stroke-width="0.7"/>
<circle cx="313.5" cy="681" r="1.8" fill="#e4342d" stroke="none" stroke-width="0.7"/>
<circle cx="309.5" cy="688.4" r="1.8" fill="#e4342d" stroke="none" stroke-width="0.7"/>
<circle cx="313.5" cy="703.7" r="1.8" fill="#e4342d" stroke="none" stroke-width="0.7"/>
<circle cx="305" cy="706.8" r="1.8" fill="#e4342d" stroke="none" stroke-width="0.7"/>
<circle cx="329.3" cy="633.6" r="2" fill="#231f20" stroke="none" stroke-width="0.7"/>
<circle cx="329.3" cy="645" r="2" fill="#e4342d" stroke="none" stroke-width="0.7"/>
<text x="336.1" y="636.7" font-size="8.6">IL-7</text>
<text x="336.1" y="648.1" font-size="8.6">IL-7+</text>
<text x="336.1" y="658.3" font-size="8.6">VPS34i</text>
<text x="379.6" y="619.2" font-size="13" font-weight="bold" stroke="#000" stroke-width="0.55">l</text>
<text x="439.1" y="623.22" font-size="8.4" text-anchor="middle">SELL (CD62L)</text>
<text x="435.7" y="634.04" font-size="7.6" text-anchor="middle">0.009</text>
<line x1="425" y1="635.4" x2="446.4" y2="635.4" stroke="#c8c8c8" stroke-width="0.9"/>
<rect x="418.1" y="670.3" width="13.5" height="47.9" fill="#fff" stroke="#3a3a3a" stroke-width="0.75"/>
<rect x="439.7" y="702" width="13.5" height="16.2" fill="#fff" stroke="#ea4a43" stroke-width="0.75"/>
<line x1="424.9" y1="650.5" x2="424.9" y2="689.9" stroke="#333" stroke-width="0.8"/>
<line x1="422.6" y1="650.5" x2="427.2" y2="650.5" stroke="#333" stroke-width="0.8"/>
<line x1="422.6" y1="689.9" x2="427.2" y2="689.9" stroke="#333" stroke-width="0.8"/>
<line x1="446.5" y1="697.2" x2="446.5" y2="706.5" stroke="#e4342d" stroke-width="0.8"/>
<line x1="444.5" y1="697.2" x2="448.5" y2="697.2" stroke="#e4342d" stroke-width="0.8"/>
<line x1="444.5" y1="706.5" x2="448.5" y2="706.5" stroke="#e4342d" stroke-width="0.8"/>
<circle cx="425" cy="651.5" r="2.15" fill="#231f20" stroke="none" stroke-width="0.7"/>
<circle cx="425" cy="668.3" r="2.15" fill="#231f20" stroke="none" stroke-width="0.7"/>
<circle cx="425" cy="689.9" r="2.15" fill="#231f20" stroke="none" stroke-width="0.7"/>
<circle cx="446.4" cy="698" r="2.15" fill="#e4342d" stroke="none" stroke-width="0.7"/>
<circle cx="443.1" cy="705" r="2.15" fill="#e4342d" stroke="none" stroke-width="0.7"/>
<circle cx="449.8" cy="702.6" r="2.15" fill="#e4342d" stroke="none" stroke-width="0.7"/>
<line x1="410.4" y1="634.3" x2="410.4" y2="718.2" stroke="#6b6b6b" stroke-width="0.8"/>
<line x1="407.7" y1="718.2" x2="410.4" y2="718.2" stroke="#6b6b6b" stroke-width="0.8"/>
<text x="405.5" y="721.04" font-size="7.9" text-anchor="end">0</text>
<line x1="407.7" y1="676.3" x2="410.4" y2="676.3" stroke="#6b6b6b" stroke-width="0.8"/>
<text x="405.5" y="679.14" font-size="7.9" text-anchor="end">5</text>
<line x1="407.7" y1="634.4" x2="410.4" y2="634.4" stroke="#6b6b6b" stroke-width="0.8"/>
<text x="405.5" y="637.24" font-size="7.9" text-anchor="end">10</text>
<line x1="410.4" y1="718.2" x2="458.9" y2="718.2" stroke="#6b6b6b" stroke-width="0.8"/>
<text transform="translate(386.1 676) rotate(-90)" x="0" y="3.17" font-size="8.8" text-anchor="middle">Copies per cell (×10<tspan font-size="5.5" dy="-3.2">3</tspan><tspan dy="3.2">)</tspan></text>
<text x="425" y="727.69" font-size="7.2" text-anchor="middle">IL-7</text>
<text x="448.4" y="727.69" font-size="7.2" text-anchor="middle" fill="#e5352e">IL-7</text>
<text x="445.8" y="736.49" font-size="7.2" text-anchor="middle" fill="#e5352e">+VPS34i</text>
<text x="493.2" y="619.3" font-size="13" font-weight="bold" stroke="#000" stroke-width="0.55">m</text>
<path d="M493.7 718.75C493.84 718.74 494.26 718.72 494.54 718.71C494.81 718.69 495.09 718.67 495.37 718.64C495.65 718.62 495.93 718.59 496.21 718.55C496.49 718.51 496.76 718.47 497.04 718.41C497.32 718.36 497.6 718.29 497.88 718.22C498.16 718.15 498.43 718.07 498.71 717.97C498.99 717.88 499.27 717.78 499.55 717.66C499.83 717.55 500.11 717.43 500.38 717.3C500.66 717.17 500.94 717.03 501.22 716.89C501.5 716.75 501.78 716.6 502.06 716.46C502.33 716.31 502.61 716.17 502.89 716.04C503.17 715.91 503.45 715.78 503.73 715.67C504.01 715.56 504.28 715.46 504.56 715.39C504.84 715.31 505.12 715.25 505.4 715.22C505.68 715.19 505.95 715.17 506.23 715.18C506.51 715.19 506.79 715.23 507.07 715.28C507.35 715.34 507.63 715.41 507.9 715.5C508.18 715.59 508.46 715.7 508.74 715.81C509.02 715.93 509.3 716.06 509.58 716.18C509.85 716.3 510.13 716.43 510.41 716.56C510.69 716.68 510.97 716.8 511.25 716.9C511.53 717.01 511.8 717.11 512.08 717.19C512.36 717.27 512.64 717.34 512.92 717.39C513.2 717.44 513.47 717.48 513.75 717.5C514.03 717.52 514.31 717.53 514.59 717.52C514.87 717.52 515.15 717.49 515.42 717.46C515.7 717.44 515.98 717.39 516.26 717.35C516.54 717.31 516.82 717.25 517.1 717.2C517.37 717.15 517.65 717.09 517.93 717.04C518.21 716.99 518.49 716.94 518.77 716.89C519.05 716.85 519.32 716.81 519.6 716.77C519.88 716.73 520.16 716.7 520.44 716.66C520.72 716.63 520.99 716.6 521.27 716.57C521.55 716.53 521.83 716.5 522.11 716.44C522.39 716.39 522.67 716.34 522.94 716.26C523.22 716.18 523.5 716.08 523.78 715.95C524.06 715.81 524.34 715.66 524.62 715.45C524.89 715.24 525.17 715 525.45 714.68C525.73 714.37 526.01 714.01 526.29 713.57C526.57 713.13 526.84 712.62 527.12 712.02C527.4 711.42 527.68 710.75 527.96 709.97C528.24 709.18 528.51 708.31 528.79 707.32C529.07 706.33 529.35 705.23 529.63 704.03C529.91 702.83 530.19 701.51 530.46 700.11C530.74 698.71 531.02 697.17 531.3 695.63C531.58 694.1 531.86 692.91 532.14 690.9C532.41 688.89 532.69 685.41 532.97 683.57C533.25 681.72 533.53 681.69 533.81 679.84C534.09 677.99 534.36 674.86 534.64 672.47C534.92 670.08 535.2 666.91 535.48 665.49C535.76 664.08 536.03 665.05 536.31 663.97C536.59 662.89 536.87 659.95 537.15 659.02C537.43 658.08 537.71 657.6 537.98 658.37C538.26 659.13 538.54 661.92 538.82 663.59C539.1 665.27 539.38 666.34 539.66 668.44C539.93 670.54 540.21 673.14 540.49 676.2C540.77 679.26 541.05 683.54 541.33 686.82C541.61 690.11 541.88 692.99 542.16 695.9C542.44 698.81 542.72 701.88 543 704.27C543.28 706.66 543.55 708.59 543.83 710.25C544.11 711.9 544.39 713.16 544.67 714.21C544.95 715.26 545.23 715.96 545.5 716.56C545.78 717.16 546.06 717.5 546.34 717.81C546.62 718.11 546.9 718.26 547.18 718.4C547.45 718.54 547.73 718.6 548.01 718.66C548.29 718.71 548.57 718.73 548.85 718.75C549.13 718.77 549.4 718.78 549.68 718.79C549.96 718.79 550.24 718.79 550.52 718.8C550.8 718.8 551.07 718.8 551.35 718.8C551.63 718.8 551.91 718.8 552.19 718.8C552.47 718.8 552.75 718.8 553.02 718.8C553.3 718.8 553.58 718.8 553.86 718.8C554.14 718.8 554.42 718.8 554.7 718.8C554.97 718.8 555.25 718.8 555.53 718.8C555.81 718.8 556.09 718.8 556.37 718.8C556.65 718.8 556.92 718.8 557.2 718.8C557.48 718.8 557.76 718.8 558.04 718.8C558.32 718.8 558.59 718.8 558.87 718.8C559.15 718.8 559.43 718.8 559.71 718.8C559.99 718.8 560.27 718.8 560.54 718.8C560.82 718.8 561.1 718.8 561.38 718.8C561.66 718.8 561.94 718.8 562.22 718.8C562.49 718.8 562.77 718.8 563.05 718.8C563.33 718.8 563.61 718.8 563.89 718.8C564.17 718.8 564.44 718.8 564.72 718.8C565 718.8 565.28 718.8 565.56 718.8C565.84 718.8 566.11 718.8 566.39 718.8C566.67 718.8 566.95 718.8 567.23 718.8C567.51 718.8 567.79 718.8 568.06 718.8C568.34 718.8 568.76 718.8 568.9 718.8" fill="none" stroke="#e8453d" stroke-width="0.6"/>
<path d="M493.7 718.77C493.84 718.77 494.26 718.76 494.54 718.75C494.81 718.74 495.09 718.73 495.37 718.72C495.65 718.71 495.93 718.7 496.21 718.68C496.49 718.67 496.76 718.65 497.04 718.63C497.32 718.6 497.6 718.58 497.88 718.55C498.16 718.52 498.43 718.49 498.71 718.45C498.99 718.42 499.27 718.38 499.55 718.33C499.83 718.28 500.11 718.24 500.38 718.18C500.66 718.13 500.94 718.07 501.22 718.01C501.5 717.95 501.78 717.88 502.06 717.82C502.33 717.75 502.61 717.68 502.89 717.61C503.17 717.55 503.45 717.48 503.73 717.41C504.01 717.34 504.28 717.27 504.56 717.21C504.84 717.15 505.12 717.09 505.4 717.04C505.68 716.99 505.95 716.94 506.23 716.91C506.51 716.87 506.79 716.84 507.07 716.82C507.35 716.8 507.63 716.78 507.9 716.78C508.18 716.78 508.46 716.79 508.74 716.8C509.02 716.82 509.3 716.85 509.58 716.88C509.85 716.91 510.13 716.96 510.41 717.01C510.69 717.06 510.97 717.11 511.25 717.17C511.53 717.23 511.8 717.3 512.08 717.36C512.36 717.43 512.64 717.5 512.92 717.57C513.2 717.64 513.47 717.71 513.75 717.77C514.03 717.84 514.31 717.91 514.59 717.97C514.87 718.03 515.15 718.09 515.42 718.14C515.7 718.2 515.98 718.25 516.26 718.3C516.54 718.34 516.82 718.38 517.1 718.42C517.37 718.46 517.65 718.49 517.93 718.51C518.21 718.53 518.49 718.55 518.77 718.56C519.05 718.57 519.32 718.57 519.6 718.56C519.88 718.55 520.16 718.53 520.44 718.49C520.72 718.44 520.99 718.39 521.27 718.31C521.55 718.23 521.83 718.13 522.11 718.01C522.39 717.89 522.67 717.74 522.94 717.57C523.22 717.41 523.5 717.21 523.78 717.02C524.06 716.82 524.34 716.61 524.62 716.41C524.89 716.22 525.17 716.01 525.45 715.85C525.73 715.69 526.01 715.54 526.29 715.44C526.57 715.33 526.84 715.26 527.12 715.23C527.4 715.19 527.68 715.2 527.96 715.21C528.24 715.21 528.51 715.26 528.79 715.26C529.07 715.26 529.35 715.27 529.63 715.18C529.91 715.09 530.19 714.98 530.46 714.71C530.74 714.44 531.02 714.1 531.3 713.55C531.58 713 531.86 712.33 532.14 711.42C532.41 710.5 532.69 709.42 532.97 708.06C533.25 706.71 533.53 705.05 533.81 703.31C534.09 701.56 534.36 699.81 534.64 697.6C534.92 695.38 535.2 692.64 535.48 690.03C535.76 687.42 536.03 684.96 536.31 681.95C536.59 678.94 536.87 675.3 537.15 671.97C537.43 668.63 537.71 664.54 537.98 661.93C538.26 659.32 538.54 658.1 538.82 656.31C539.1 654.51 539.38 651.82 539.66 651.14C539.93 650.47 540.21 651.84 540.49 652.27C540.77 652.7 541.05 651.99 541.33 653.73C541.61 655.47 541.88 659.95 542.16 662.72C542.44 665.48 542.72 667.66 543 670.31C543.28 672.96 543.55 675.67 543.83 678.63C544.11 681.58 544.39 684.97 544.67 688.05C544.95 691.12 545.23 694.44 545.5 697.08C545.78 699.72 546.06 701.88 546.34 703.9C546.62 705.92 546.9 707.68 547.18 709.19C547.45 710.7 547.73 711.9 548.01 712.94C548.29 713.98 548.57 714.75 548.85 715.42C549.13 716.09 549.4 716.55 549.68 716.95C549.96 717.36 550.24 717.62 550.52 717.85C550.8 718.08 551.07 718.21 551.35 718.34C551.63 718.46 551.91 718.52 552.19 718.59C552.47 718.65 552.75 718.68 553.02 718.71C553.3 718.74 553.58 718.75 553.86 718.76C554.14 718.77 554.42 718.78 554.7 718.78C554.97 718.79 555.25 718.79 555.53 718.79C555.81 718.8 556.09 718.8 556.37 718.8C556.65 718.8 556.92 718.8 557.2 718.8C557.48 718.8 557.76 718.8 558.04 718.8C558.32 718.8 558.59 718.8 558.87 718.8C559.15 718.8 559.43 718.8 559.71 718.8C559.99 718.8 560.27 718.8 560.54 718.8C560.82 718.8 561.1 718.8 561.38 718.8C561.66 718.8 561.94 718.8 562.22 718.8C562.49 718.8 562.77 718.8 563.05 718.8C563.33 718.8 563.61 718.8 563.89 718.8C564.17 718.8 564.44 718.8 564.72 718.8C565 718.8 565.28 718.8 565.56 718.8C565.84 718.8 566.11 718.8 566.39 718.8C566.67 718.8 566.95 718.8 567.23 718.8C567.51 718.8 567.79 718.8 568.06 718.8C568.34 718.8 568.76 718.8 568.9 718.8" fill="none" stroke="#222" stroke-width="0.6"/>
<rect x="493.7" y="644" width="75.2" height="75.2" fill="none" stroke="#555" stroke-width="0.8"/>
<line x1="498" y1="719.2" x2="498" y2="720.5" stroke="#555" stroke-width="0.6"/>
<line x1="502" y1="719.2" x2="502" y2="720.5" stroke="#555" stroke-width="0.6"/>
<line x1="506.7" y1="719.2" x2="506.7" y2="721.2" stroke="#555" stroke-width="0.6"/>
<line x1="512" y1="719.2" x2="512" y2="720.5" stroke="#555" stroke-width="0.6"/>
<line x1="517" y1="719.2" x2="517" y2="720.5" stroke="#555" stroke-width="0.6"/>
<line x1="521" y1="719.2" x2="521" y2="720.5" stroke="#555" stroke-width="0.6"/>
<line x1="524" y1="719.2" x2="524" y2="720.5" stroke="#555" stroke-width="0.6"/>
<line x1="526.5" y1="719.2" x2="526.5" y2="720.5" stroke="#555" stroke-width="0.6"/>
<line x1="528" y1="719.2" x2="528" y2="720.5" stroke="#555" stroke-width="0.6"/>
<line x1="529.5" y1="719.2" x2="529.5" y2="721.2" stroke="#555" stroke-width="0.6"/>
<line x1="536" y1="719.2" x2="536" y2="720.5" stroke="#555" stroke-width="0.6"/>
<line x1="540" y1="719.2" x2="540" y2="720.5" stroke="#555" stroke-width="0.6"/>
<line x1="543" y1="719.2" x2="543" y2="720.5" stroke="#555" stroke-width="0.6"/>
<line x1="545.5" y1="719.2" x2="545.5" y2="720.5" stroke="#555" stroke-width="0.6"/>
<line x1="547.2" y1="719.2" x2="547.2" y2="720.5" stroke="#555" stroke-width="0.6"/>
<line x1="548.7" y1="719.2" x2="548.7" y2="721.2" stroke="#555" stroke-width="0.6"/>
<line x1="555" y1="719.2" x2="555" y2="720.5" stroke="#555" stroke-width="0.6"/>
<line x1="559" y1="719.2" x2="559" y2="720.5" stroke="#555" stroke-width="0.6"/>
<line x1="562" y1="719.2" x2="562" y2="720.5" stroke="#555" stroke-width="0.6"/>
<line x1="564.3" y1="719.2" x2="564.3" y2="720.5" stroke="#555" stroke-width="0.6"/>
<line x1="565.9" y1="719.2" x2="565.9" y2="721.2" stroke="#555" stroke-width="0.6"/>
<text x="568.9" y="632.32" font-size="8.4" text-anchor="end">IL-7</text>
<text x="493.7" y="641.02" font-size="8.4">6 h</text>
<text x="568.9" y="641.02" font-size="8.4" text-anchor="end" fill="#e5352e">IL-7+ VPS34i</text>
<text x="495.8" y="651" font-size="7">CD8<tspan font-size="4.5" dy="-2.8">+</tspan></text>
<text x="567.9" y="651.24" font-size="7.6" text-anchor="end">5,125</text>
<text x="567.9" y="658.94" font-size="7.6" text-anchor="end" fill="#e5352e">2,345</text>
<text x="506.7" y="729.96" font-size="7.4" text-anchor="middle">0</text>
<text x="529.5" y="730" font-size="7.4" text-anchor="middle">10<tspan font-size="4.8" dy="-2.8">3</tspan></text>
<text x="548.7" y="730" font-size="7.4" text-anchor="middle">10<tspan font-size="4.8" dy="-2.8">4</tspan></text>
<text x="565.9" y="730" font-size="7.4" text-anchor="middle">10<tspan font-size="4.8" dy="-2.8">5</tspan></text>
<line x1="494.5" y1="734.3" x2="564" y2="734.3" stroke="#3e4f6c" stroke-width="1.1"/>
<path d="M568.9 734.3L563.3 731.9L563.3 736.7Z" fill="#3e4f6c" stroke="none" stroke-width="0.8"/>
<text x="532.1" y="745.5" font-size="8.6" text-anchor="middle">CD62L - APC</text>
<text x="593.6" y="619.3" font-size="13" font-weight="bold" stroke="#000" stroke-width="0.55">n</text>
<line x1="623" y1="632.3" x2="623" y2="718.2" stroke="#6b6b6b" stroke-width="0.8"/>
<line x1="620.3" y1="718.2" x2="623" y2="718.2" stroke="#6b6b6b" stroke-width="0.8"/>
<text x="618.1" y="721.04" font-size="7.9" text-anchor="end">0</text>
<line x1="620.3" y1="696.7" x2="623" y2="696.7" stroke="#6b6b6b" stroke-width="0.8"/>
<text x="618.1" y="699.54" font-size="7.9" text-anchor="end">2</text>
<line x1="620.3" y1="675.2" x2="623" y2="675.2" stroke="#6b6b6b" stroke-width="0.8"/>
<text x="618.1" y="678.04" font-size="7.9" text-anchor="end">4</text>
<line x1="620.3" y1="653.7" x2="623" y2="653.7" stroke="#6b6b6b" stroke-width="0.8"/>
<text x="618.1" y="656.54" font-size="7.9" text-anchor="end">6</text>
<line x1="620.3" y1="632.2" x2="623" y2="632.2" stroke="#6b6b6b" stroke-width="0.8"/>
<text x="618.1" y="635.04" font-size="7.9" text-anchor="end">8</text>
<line x1="623" y1="718.2" x2="680" y2="718.2" stroke="#6b6b6b" stroke-width="0.8"/>
<text x="651.3" y="630.04" font-size="7.6" text-anchor="middle">0.0017</text>
<line x1="634.5" y1="631.9" x2="668.2" y2="631.9" stroke="#c8c8c8" stroke-width="0.9"/>
<text x="643.6" y="644.14" font-size="7.6" text-anchor="middle">0.0003</text>
<line x1="634.5" y1="645.5" x2="651.7" y2="645.5" stroke="#c8c8c8" stroke-width="0.9"/>
<path d="M633.5 655C633.37 655.25 632.9 655.5 632.7 656.5C632.5 657.5 632.58 659.58 632.3 661C632.02 662.42 631.55 663.55 631 665C630.45 666.45 629.08 668.37 629 669.7C628.92 671.03 629.75 672.08 630.5 673C631.25 673.92 633 674.83 633.5 675.2L635.5 675.2C636 674.83 637.75 673.92 638.5 673C639.25 672.08 640.08 671.03 640 669.7C639.92 668.37 638.55 666.45 638 665C637.45 663.55 636.98 662.42 636.7 661C636.42 659.58 636.5 657.5 636.3 656.5C636.1 655.5 635.63 655.25 635.5 655Z" fill="none" stroke="#222" stroke-width="0.7"/>
<circle cx="634.5" cy="656.5" r="1.6" fill="#222" stroke="none" stroke-width="0.7"/>
<circle cx="634.5" cy="660" r="1.6" fill="#222" stroke="none" stroke-width="0.7"/>
<circle cx="632" cy="663.5" r="1.6" fill="#222" stroke="none" stroke-width="0.7"/>
<circle cx="637" cy="663.5" r="1.6" fill="#222" stroke="none" stroke-width="0.7"/>
<circle cx="634.5" cy="667" r="1.6" fill="#222" stroke="none" stroke-width="0.7"/>
<circle cx="630.5" cy="669.5" r="1.6" fill="#222" stroke="none" stroke-width="0.7"/>
<circle cx="638.5" cy="669.5" r="1.6" fill="#222" stroke="none" stroke-width="0.7"/>
<circle cx="634.5" cy="672" r="1.6" fill="#222" stroke="none" stroke-width="0.7"/>
<circle cx="634.5" cy="674.5" r="1.6" fill="#222" stroke="none" stroke-width="0.7"/>
<path d="M647.8 676.8C647.52 677 646.45 676.97 646.1 678C645.75 679.03 645.77 681 645.7 683C645.63 685 645.52 688.08 645.7 690C645.88 691.92 646.2 693.5 646.8 694.5C647.4 695.5 648.88 695.75 649.3 696L653.3 696C653.72 695.75 655.2 695.5 655.8 694.5C656.4 693.5 656.72 691.92 656.9 690C657.08 688.08 656.97 685 656.9 683C656.83 681 656.85 679.03 656.5 678C656.15 676.97 655.08 677 654.8 676.8Z" fill="none" stroke="#e4342d" stroke-width="0.7"/>
<line x1="646" y1="686" x2="656.6" y2="686" stroke="#e4342d" stroke-width="0.5" stroke-dasharray="1.2 1"/>
<circle cx="651.3" cy="677.5" r="2.15" fill="#e4342d" stroke="none" stroke-width="0.7"/>
<circle cx="651.3" cy="681.5" r="2.15" fill="#e4342d" stroke="none" stroke-width="0.7"/>
<circle cx="651.3" cy="686.5" r="2.15" fill="#e4342d" stroke="none" stroke-width="0.7"/>
<circle cx="651.3" cy="691" r="2.15" fill="#e4342d" stroke="none" stroke-width="0.7"/>
<circle cx="651.3" cy="695" r="2.15" fill="#e4342d" stroke="none" stroke-width="0.7"/>
<path d="M667.2 673.7C667.03 673.92 666.37 674.28 666.2 675C666.03 675.72 666.45 676.83 666.2 678C665.95 679.17 665.25 680.67 664.7 682C664.15 683.33 663.07 684.68 662.9 686C662.73 687.32 663.57 689.25 663.7 689.9L672.7 689.9C672.83 689.25 673.67 687.32 673.5 686C673.33 684.68 672.25 683.33 671.7 682C671.15 680.67 670.45 679.17 670.2 678C669.95 676.83 670.37 675.72 670.2 675C670.03 674.28 669.37 673.92 669.2 673.7Z" fill="none" stroke="#4452b0" stroke-width="0.7"/>
<circle cx="668.2" cy="674.8" r="1.7" fill="#4452b0" stroke="none" stroke-width="0.7"/>
<circle cx="665" cy="686" r="1.7" fill="#4452b0" stroke="none" stroke-width="0.7"/>
<circle cx="671.3" cy="686" r="1.7" fill="#4452b0" stroke="none" stroke-width="0.7"/>
<circle cx="668.2" cy="689" r="1.7" fill="#4452b0" stroke="none" stroke-width="0.7"/>
<circle cx="668.2" cy="681" r="1.4" fill="#fff" stroke="#4452b0" stroke-width="0.6"/>
<text transform="translate(602.2 676) rotate(-90)" x="0" y="3.1" font-size="8.6" text-anchor="middle">CD62L MFI (×10<tspan font-size="5.5" dy="-3.2">3</tspan><tspan dy="3.2">)</tspan></text>
<text x="633.5" y="728.36" font-size="7.4" text-anchor="middle">IL-7</text>
<text x="649.6" y="728.36" font-size="7.4" text-anchor="middle" fill="#e5352e">IL-7</text>
<text x="649.2" y="735.96" font-size="7.4" text-anchor="middle" fill="#e5352e">+VPS34i</text>
<text x="673.9" y="728.36" font-size="7.4" text-anchor="middle" fill="#4452b0">IL-7</text>
<text x="673.3" y="735.96" font-size="7.4" text-anchor="middle" fill="#4452b0">+BAF</text>
<line x1="627" y1="740.4" x2="680" y2="740.4" stroke="#888" stroke-width="0.8"/>
<text x="652.7" y="751.52" font-size="8.4" text-anchor="middle">6 h</text></svg></body></html>
